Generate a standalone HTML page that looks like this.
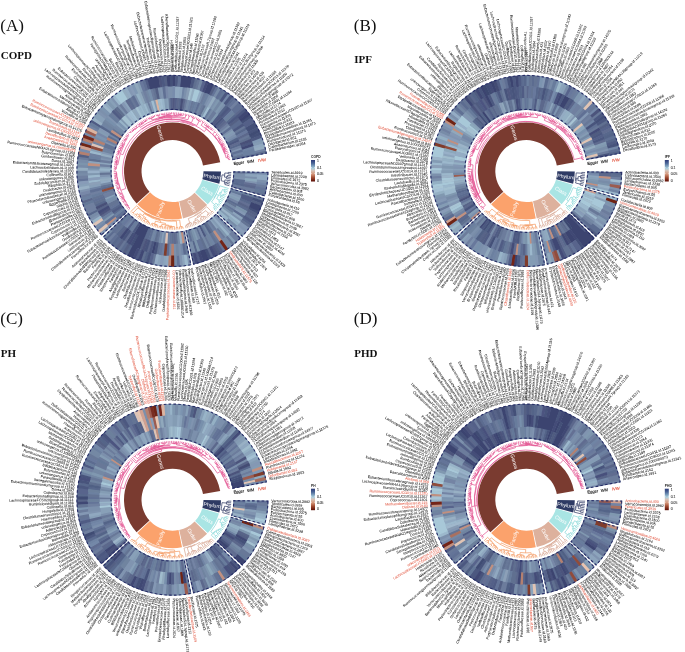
<!DOCTYPE html>
<html><head><meta charset="utf-8"><title>Figure</title>
<style>html,body{margin:0;padding:0;background:#fff;width:685px;height:652px;overflow:hidden}svg{display:block;will-change:transform}</style>
</head><body>
<svg width="685" height="652" viewBox="0 0 685 652">
<defs><linearGradient id="lg" x1="0" y1="0" x2="0" y2="1">
<stop offset="0" stop-color="#2c3a78"/><stop offset="0.15" stop-color="#4a6596"/><stop offset="0.33" stop-color="#8fb4cb"/>
<stop offset="0.4" stop-color="#b0cfdc"/><stop offset="0.5" stop-color="#d8c2b6"/><stop offset="0.66" stop-color="#d49478"/><stop offset="0.82" stop-color="#a04a30"/><stop offset="1" stop-color="#5a0d05"/></linearGradient></defs>
<style>
text{font-family:"Liberation Sans",sans-serif}
.lab text{font-size:3.6px;fill:#000;stroke:#000;stroke-width:0.025px}
.lab text.e{text-anchor:end}
.lab text.r{fill:#e0553f;stroke:#e0553f}
.dash{fill:none;stroke:#262c66;stroke-width:1.1;stroke-dasharray:2.6 2.2}
.den path{fill:none;stroke-width:0.7}
.sl{font-size:5.2px;fill:#fff}
.tn{font-size:4.1px;stroke-width:0.12px}
.lt{font-size:3.3px;font-weight:bold;fill:#222}
.lv{font-size:3.4px;fill:#333;stroke:#333;stroke-width:0.08px}
.pl{font-family:"Liberation Serif",serif;font-size:17px;fill:#111}
.pt{font-family:"Liberation Serif",serif;font-size:11px;font-weight:bold;fill:#111}
</style>
<g transform="translate(172.5 171)">
<g class="lab"><text transform="rotate(1.4)" x="98.9">Tenericutes.id.3919</text><text transform="rotate(3.1)" x="98.9">Lentisphaerae.id.2238</text><text transform="rotate(4.7)" x="98.9">Firmicutes.id.1672</text><text transform="rotate(6.3)" x="98.9">Proteobacteria.id.2375</text><text transform="rotate(8)" x="98.9">Verrucomicrobia.id.3982</text><text transform="rotate(9.6)" x="98.9">Bacteroidetes.id.905</text><text transform="rotate(11.2)" x="98.9">Actinobacteria.id.400</text><text transform="rotate(12.9)" x="98.9">Cyanobacteria.id.1500</text><text transform="rotate(14.5)" x="98.9">Euryarchaeota.id.55</text><text transform="rotate(17.3)" x="98.9">Actinobacteria.id.419</text><text transform="rotate(19)" x="98.9">Lentisphaeria.id.2250</text><text transform="rotate(20.7)" x="98.9">Bacteroidia.id.912</text><text transform="rotate(22.4)" x="98.9">Coriobacteriia.id.809</text><text transform="rotate(24)" x="98.9">Betaproteobacteria.id.2867</text><text transform="rotate(25.7)" x="98.9">Melainabacteria.id.1589</text><text transform="rotate(27.4)" x="98.9">Deltaproteobacteria.id.3087</text><text transform="rotate(29.1)" x="98.9">Methanobacteria.id.119</text><text transform="rotate(30.7)" x="98.9">Negativicutes.id.2164</text><text transform="rotate(32.4)" x="98.9">Bacilli.id.1673</text><text transform="rotate(34.1)" x="98.9">Clostridia.id.1859</text><text transform="rotate(35.8)" x="98.9">Erysipelotrichia.id.2147</text><text transform="rotate(37.4)" x="98.9">Verrucomicrobiae.id.4029</text><text transform="rotate(39.1)" x="98.9">Mollicutes.id.3920</text><text transform="rotate(40.8)" x="98.9">Gammaproteobacteria.id.3303</text><text transform="rotate(42.5)" x="98.9">Alphaproteobacteria.id.2379</text><text transform="rotate(45.3)" x="98.9">Victivallales.id.2254</text><text transform="rotate(47)" x="98.9">Burkholderiales.id.2874</text><text transform="rotate(48.6)" x="98.9">Bacillales.id.1674</text><text transform="rotate(50.3)" x="98.9">Bacteroidales.id.913</text><text transform="rotate(51.9)" x="98.9">Actinomycetales.id.420</text><text transform="rotate(53.6)" x="98.9">Methanobacteriales.id.120</text><text transform="rotate(55.2)" x="98.9" class="r">MollicutesRF9.id.11579</text><text transform="rotate(56.9)" x="98.9">Pasteurellales.id.3643</text><text transform="rotate(58.5)" x="98.9">Erysipelotrichales.id.2148</text><text transform="rotate(60.2)" x="98.9">Clostridiales.id.1863</text><text transform="rotate(61.8)" x="98.9">Lactobacillales.id.1800</text><text transform="rotate(63.5)" x="98.9">Verrucomicrobiales.id.4030</text><text transform="rotate(65.1)" x="98.9">Selenomonadales.id.2165</text><text transform="rotate(66.8)" x="98.9">Bifidobacteriales.id.432</text><text transform="rotate(68.4)" x="98.9">NB1n.id.3953</text><text transform="rotate(70.1)" x="98.9">Coriobacteriales.id.810</text><text transform="rotate(71.7)" x="98.9">Desulfovibrionales.id.3156</text><text transform="rotate(73.4)" x="98.9">Enterobacteriales.id.3468</text><text transform="rotate(75)" x="98.9">Gastranaerophilales.id.1591</text><text transform="rotate(76.7)" x="98.9">Rhodospirillales.id.2667</text><text transform="rotate(79.6)" x="98.9">Veillonellaceae.id.2172</text><text transform="rotate(81.3)" x="98.9">Prevotellaceae.id.960</text><text transform="rotate(83)" x="98.9">Acidaminococcaceae.id.2166</text><text transform="rotate(84.7)" x="98.9">Enterobacteriaceae.id.3469</text><text transform="rotate(86.4)" x="98.9">unknownfamily.id.1000001214</text><text transform="rotate(88.1)" x="98.9">Lactobacillaceae.id.1836</text><text transform="rotate(89.8)" x="98.9" class="r">Coriobacteriaceae.id.811</text><text transform="rotate(271.5)" x="-98.9" class="e r">Peptostreptococcaceae.id.2042</text><text transform="rotate(273.2)" x="-98.9" class="e">Oxalobacteraceae.id.2966</text><text transform="rotate(274.9)" x="-98.9" class="e">Victivallaceae.id.2255</text><text transform="rotate(276.6)" x="-98.9" class="e">Christensenellaceae.id.1866</text><text transform="rotate(278.3)" x="-98.9" class="e">Porphyromonadaceae.id.943</text><text transform="rotate(280)" x="-98.9" class="e">Defluviitaleaceae.id.1924</text><text transform="rotate(281.7)" x="-98.9" class="e">Bifidobacteriaceae.id.433</text><text transform="rotate(283.4)" x="-98.9" class="e">Rhodospirillaceae.id.2717</text><text transform="rotate(285.1)" x="-98.9" class="e">BacteroidalesS24.7group.id.11173</text><text transform="rotate(286.8)" x="-98.9" class="e">Verrucomicrobiaceae.id.4036</text><text transform="rotate(288.5)" x="-98.9" class="e">Desulfovibrionaceae.id.3169</text><text transform="rotate(290.2)" x="-98.9" class="e">Clostridiaceae1.id.1869</text><text transform="rotate(291.9)" x="-98.9" class="e">Bacillaceae.id.1675</text><text transform="rotate(293.6)" x="-98.9" class="e">Lachnospiraceae.id.1987</text><text transform="rotate(295.3)" x="-98.9" class="e">Erysipelotrichaceae.id.2149</text><text transform="rotate(297)" x="-98.9" class="e">Alcaligenaceae.id.2875</text><text transform="rotate(298.7)" x="-98.9" class="e">FamilyXIII.id.1957</text><text transform="rotate(300.4)" x="-98.9" class="e">Streptococcaceae.id.1850</text><text transform="rotate(302.1)" x="-98.9" class="e">Pasteurellaceae.id.3689</text><text transform="rotate(303.8)" x="-98.9" class="e">Ruminococcaceae.id.2050</text><text transform="rotate(305.5)" x="-98.9" class="e">Methanobacteriaceae.id.121</text><text transform="rotate(307.2)" x="-98.9" class="e">Peptococcaceae.id.2024</text><text transform="rotate(308.9)" x="-98.9" class="e">FamilyXI.id.1936</text><text transform="rotate(310.6)" x="-98.9" class="e">Bacteroidaceae.id.917</text><text transform="rotate(312.3)" x="-98.9" class="e">ClostridialesvadinBB60group.id.11286</text><text transform="rotate(314)" x="-98.9" class="e">Rikenellaceae.id.967</text><text transform="rotate(315.7)" x="-98.9" class="e">Actinomycetaceae.id.421</text><text transform="rotate(318.6)" x="-98.9" class="e">Flavonifractor.id.2059</text><text transform="rotate(320.3)" x="-98.9" class="e">Clostridiuminnocuumgroup.id.14397</text><text transform="rotate(322)" x="-98.9" class="e">Lactococcus.id.1851</text><text transform="rotate(323.7)" x="-98.9" class="e">Barnesiella.id.944</text><text transform="rotate(325.4)" x="-98.9" class="e">RuminococcaceaeUCG011.id.11368</text><text transform="rotate(327.1)" x="-98.9" class="e">Oscillospira.id.2064</text><text transform="rotate(328.8)" x="-98.9" class="e">Veillonella.id.2198</text><text transform="rotate(330.5)" x="-98.9" class="e">Eubacteriumoxidoreducensgroup.id.11339</text><text transform="rotate(332.2)" x="-98.9" class="e">Coprococcus1.id.11301</text><text transform="rotate(333.9)" x="-98.9" class="e">RuminococcaceaeUCG009.id.11366</text><text transform="rotate(335.6)" x="-98.9" class="e">Paraprevotella.id.962</text><text transform="rotate(337.3)" x="-98.9" class="e">Enterorhabdus.id.820</text><text transform="rotate(339)" x="-98.9" class="e">Eubacteriumhalliigroup.id.11338</text><text transform="rotate(340.7)" x="-98.9" class="e">Coprococcus2.id.11302</text><text transform="rotate(342.4)" x="-98.9" class="e">Slackia.id.825</text><text transform="rotate(344.1)" x="-98.9" class="e">Eggerthella.id.819</text><text transform="rotate(345.7)" x="-98.9" class="e">unknowngenus.id.959</text><text transform="rotate(347.4)" x="-98.9" class="e">Phascolarctobacterium.id.2168</text><text transform="rotate(349.1)" x="-98.9" class="e">unknowngenus.id.2755</text><text transform="rotate(350.8)" x="-98.9" class="e">Oxalobacter.id.2978</text><text transform="rotate(352.5)" x="-98.9" class="e">Bilophila.id.3170</text><text transform="rotate(354.2)" x="-98.9" class="e">Subdoligranulum.id.2070</text><text transform="rotate(355.9)" x="-98.9" class="e">unknowngenus.id.826</text><text transform="rotate(357.6)" x="-98.9" class="e">Collinsella.id.815</text><text transform="rotate(359.3)" x="-98.9" class="e">CandidatusSoleaferrea.id.11350</text><text transform="rotate(361)" x="-98.9" class="e">Lachnoclostridium.id.11308</text><text transform="rotate(362.7)" x="-98.9" class="e">Eubacteriumfissicatenagroup.id.14373</text><text transform="rotate(364.4)" x="-98.9" class="e">Dorea.id.1997</text><text transform="rotate(366.1)" x="-98.9" class="e">Gordonibacter.id.821</text><text transform="rotate(367.8)" x="-98.9" class="e">Butyricimonas.id.945</text><text transform="rotate(369.5)" x="-98.9" class="e">RuminococcaceaeNK4A214group.id.11358</text><text transform="rotate(371.1)" x="-98.9" class="e r">unknowngenus.id.1000005472</text><text transform="rotate(372.8)" x="-98.9" class="e">Olsenella.id.822</text><text transform="rotate(374.5)" x="-98.9" class="e r">Anaerostipes.id.1991</text><text transform="rotate(376.2)" x="-98.9" class="e r">Desulfovibrio.id.3173</text><text transform="rotate(377.9)" x="-98.9" class="e">Lactobacillus.id.1837</text><text transform="rotate(379.6)" x="-98.9" class="e r">unknowngenus.id.1000001214</text><text transform="rotate(381.3)" x="-98.9" class="e r">Romboutsia.id.11347</text><text transform="rotate(383)" x="-98.9" class="e">Eubacteriumxylanophilumgroup.id.14375</text><text transform="rotate(384.7)" x="-98.9" class="e r">RuminococcaceaeUCG014.id.11371</text><text transform="rotate(386.4)" x="-98.9" class="e r">RuminococcaceaeUCG002.id.11360</text><text transform="rotate(388.1)" x="-98.9" class="e">Victivallis.id.2256</text><text transform="rotate(389.8)" x="-98.9" class="e">Alistipes.id.968</text><text transform="rotate(391.5)" x="-98.9" class="e">Eubacteriumnodatumgroup.id.11297</text><text transform="rotate(393.2)" x="-98.9" class="e">Marvinbryantia.id.2005</text><text transform="rotate(394.9)" x="-98.9" class="e">Alloprevotella.id.961</text><text transform="rotate(396.6)" x="-98.9" class="e">Ruminococcusgnavusgroup.id.14376</text><text transform="rotate(398.2)" x="-98.9" class="e">LachnospiraceaeND3007group.id.11317</text><text transform="rotate(399.9)" x="-98.9" class="e">RuminococcaceaeUCG004.id.11362</text><text transform="rotate(401.6)" x="-98.9" class="e">Eubacteriumrectalegroup.id.14374</text><text transform="rotate(403.3)" x="-98.9" class="e">Coprococcus3.id.11303</text><text transform="rotate(405)" x="-98.9" class="e">EscherichiaShigella.id.3504</text><text transform="rotate(406.7)" x="-98.9" class="e">RuminococcaceaeUCG005.id.11363</text><text transform="rotate(408.4)" x="-98.9" class="e">Eisenbergiella.id.11304</text><text transform="rotate(410.1)" x="-98.9" class="e">LachnospiraceaeNC2004group.id.11316</text><text transform="rotate(411.8)" x="-98.9" class="e">Prevotella7.id.11182</text><text transform="rotate(413.5)" x="-98.9" class="e">Anaerofilum.id.2053</text><text transform="rotate(415.2)" x="-98.9" class="e">unknowngenus.id.2071</text><text transform="rotate(416.9)" x="-98.9" class="e">FamilyXIIIAD3011group.id.11293</text><text transform="rotate(418.6)" x="-98.9" class="e">RuminococcaceaeUCG003.id.11361</text><text transform="rotate(420.3)" x="-98.9" class="e">Bacteroides.id.918</text><text transform="rotate(422)" x="-98.9" class="e">Blautia.id.1992</text><text transform="rotate(423.6)" x="-98.9" class="e">LachnospiraceaeUCG004.id.11324</text><text transform="rotate(425.3)" x="-98.9" class="e">Anaerotruncus.id.2054</text><text transform="rotate(427)" x="-98.9" class="e">Ruminococcustorquesgroup.id.14377</text><text transform="rotate(428.7)" x="-98.9" class="e">unknowngenus.id.1868</text><text transform="rotate(430.4)" x="-98.9" class="e">Terrisporobacter.id.11348</text><text transform="rotate(432.1)" x="-98.9" class="e">Methanobrevibacter.id.123</text><text transform="rotate(433.8)" x="-98.9" class="e">Dialister.id.2183</text><text transform="rotate(435.5)" x="-98.9" class="e">LachnospiraceaeUCG001.id.11321</text><text transform="rotate(437.2)" x="-98.9" class="e">Eubacteriumruminantiumgroup.id.11340</text><text transform="rotate(438.9)" x="-98.9" class="e">Intestinibacter.id.11345</text><text transform="rotate(440.6)" x="-98.9" class="e">Eubacteriumcoprostanoligenesgroup.id.11375</text><text transform="rotate(442.3)" x="-98.9" class="e">Ruminiclostridium6.id.11356</text><text transform="rotate(444)" x="-98.9" class="e">Peptococcus.id.2037</text><text transform="rotate(445.7)" x="-98.9" class="e">LachnospiraceaeUCG010.id.11330</text><text transform="rotate(447.4)" x="-98.9" class="e">RikenellaceaeRC9gutgroup.id.11191</text><text transform="rotate(449.1)" x="-98.9" class="e">Holdemania.id.2157</text><text transform="rotate(270.7)" x="98.9">Sutterella.id.2896</text><text transform="rotate(272.4)" x="98.9">DefluviitaleaceaeUCG011.id.11287</text><text transform="rotate(274.1)" x="98.9">Butyrivibrio.id.1993</text><text transform="rotate(275.8)" x="98.9">Streptococcus.id.1853</text><text transform="rotate(277.5)" x="98.9">LachnospiraceaeUCG003.id.11323</text><text transform="rotate(279.2)" x="98.9">Coprobacter.id.949</text><text transform="rotate(280.9)" x="98.9">Senegalimassilia.id.11160</text><text transform="rotate(282.6)" x="98.9">Ruminiclostridium9.id.11357</text><text transform="rotate(284.3)" x="98.9">Turicibacter.id.2162</text><text transform="rotate(286)" x="98.9">ChristensenellaceaeR.7group.id.11283</text><text transform="rotate(287.7)" x="98.9">Faecalibacterium.id.2057</text><text transform="rotate(289.4)" x="98.9">RuminococcaceaeUCG.id.2050</text><text transform="rotate(291.1)" x="98.9">Butyricicoccus.id.2055</text><text transform="rotate(292.8)" x="98.9">Lachnospira.id.2004</text><text transform="rotate(294.5)" x="98.9">Ruminococcusgauvreauiigroup.id.11342</text><text transform="rotate(296.2)" x="98.9">Eubacteriumventriosumgroup.id.11341</text><text transform="rotate(297.8)" x="98.9">LachnospiraceaeNK4A136group.id.11319</text><text transform="rotate(299.5)" x="98.9">unknowngenus.id.2041</text><text transform="rotate(301.2)" x="98.9">Tyzzerella3.id.11335</text><text transform="rotate(302.9)" x="98.9">Ruminococcus2.id.11374</text><text transform="rotate(304.6)" x="98.9">LachnospiraceaeFCS020group.id.11314</text><text transform="rotate(306.3)" x="98.9">Eubacteriumbrachygroup.id.11296</text><text transform="rotate(308)" x="98.9">Fusicatenibacter.id.11305</text><text transform="rotate(309.7)" x="98.9">Actinomyces.id.423</text><text transform="rotate(311.4)" x="98.9">Sellimonas.id.14369</text><text transform="rotate(313.1)" x="98.9">Bifidobacterium.id.436</text><text transform="rotate(314.8)" x="98.9">Akkermansia.id.4037</text><text transform="rotate(316.5)" x="98.9">Ruminiclostridium5.id.11355</text><text transform="rotate(318.2)" x="98.9">RuminococcaceaeUCG013.id.11370</text><text transform="rotate(319.9)" x="98.9">CandidatusSoleaferrea.id.11350</text><text transform="rotate(321.6)" x="98.9">Eubacteriumeligensgroup.id.14372</text><text transform="rotate(323.2)" x="98.9">Haemophilus.id.3698</text><text transform="rotate(324.9)" x="98.9">Howardella.id.2000</text><text transform="rotate(326.6)" x="98.9">FamilyXIIIUCG001.id.11294</text><text transform="rotate(328.3)" x="98.9">Allisonella.id.2174</text><text transform="rotate(330)" x="98.9">Oscillibacter.id.2063</text><text transform="rotate(331.7)" x="98.9">Roseburia.id.2012</text><text transform="rotate(333.4)" x="98.9">RuminococcaceaeUCG010.id.11367</text><text transform="rotate(335.1)" x="98.9">Hungatella.id.11306</text><text transform="rotate(336.8)" x="98.9">Adlercreutzia.id.812</text><text transform="rotate(338.5)" x="98.9">Prevotella9.id.11183</text><text transform="rotate(340.2)" x="98.9">Erysipelatoclostridium.id.11381</text><text transform="rotate(341.9)" x="98.9">Clostridiumsensustricto1.id.1873</text><text transform="rotate(343.6)" x="98.9">Ruminococcus1.id.11373</text><text transform="rotate(345.3)" x="98.9">Odoribacter.id.952</text><text transform="rotate(347)" x="98.9">Catenibacterium.id.2153</text><text transform="rotate(348.7)" x="98.9">Parabacteroides.id.954</text></g>
<path fill="#8296b2" d="M95.8 1A95.8 95.8 0 0 1 92.4 25.3L58.8 16.1A61 61 0 0 0 61 0.6ZM91.9 27.2A95.8 95.8 0 0 1 69.7 65.7L44.4 41.8A61 61 0 0 0 58.5 17.3ZM68.3 67.1A95.8 95.8 0 0 1 20.7 93.5L13.2 59.6A61 61 0 0 0 43.5 42.8ZM18.8 93.9A95.8 95.8 0 0 1 -69.6 65.8L-44.3 41.9A61 61 0 0 0 12 59.8ZM-71 64.4A95.8 95.8 0 1 1 94.2 -17.5L60 -11.1A61 61 0 1 0 -45.2 41Z"/>
<g><path fill="#687898" d="M73.1 0.8A73.1 73.1 0 0 1 73 3.2L60.9 2.6A61 61 0 0 0 61 0.6ZM62.3 72.8A95.8 95.8 0 0 1 59.8 74.8L52.8 66.1A84.6 84.6 0 0 0 55 64.3ZM39 75.4A84.9 84.9 0 0 1 36.5 76.7L31.3 65.7A72.8 72.8 0 0 0 33.4 64.7ZM-13.7 71.8A73.1 73.1 0 0 1 -16.2 71.3L-13.5 59.5A61 61 0 0 0 -11.5 59.9ZM-18 94.1A95.8 95.8 0 0 1 -21.2 93.4L-18.7 82.5A84.6 84.6 0 0 0 -15.9 83.1ZM-52.1 80.4A95.8 95.8 0 0 1 -54.9 78.5L-48.4 69.4A84.6 84.6 0 0 0 -46 71ZM-69.3 23.2A73.1 73.1 0 0 1 -70.1 20.8L-58.5 17.4A61 61 0 0 0 -57.9 19.3ZM-60.6 -40.9A73.1 73.1 0 0 1 -59.2 -42.9L-49.4 -35.8A61 61 0 0 0 -50.6 -34.1ZM-43.2 -73.1A84.9 84.9 0 0 1 -40.7 -74.5L-34.9 -63.9A72.8 72.8 0 0 0 -37 -62.7ZM-4.4 -73A73.1 73.1 0 0 1 -2 -73.1L-1.6 -61A61 61 0 0 0 -3.7 -60.9ZM19.1 -70.6A73.1 73.1 0 0 1 21.5 -69.9L17.9 -58.3A61 61 0 0 0 15.9 -58.9ZM25 -92.5A95.8 95.8 0 0 1 28.1 -91.6L24.9 -80.9A84.6 84.6 0 0 0 22.1 -81.7ZM71.6 -45.6A84.9 84.9 0 0 1 73.1 -43.2L62.7 -37A72.8 72.8 0 0 0 61.4 -39.1ZM76.5 -36.9A84.9 84.9 0 0 1 77.7 -34.3L66.6 -29.4A72.8 72.8 0 0 0 65.6 -31.6ZM71 -17.5A73.1 73.1 0 0 1 71.5 -15.1L59.7 -12.6A61 61 0 0 0 59.2 -14.6Z"/><path fill="#7084a4" d="M84.9 0.9A84.9 84.9 0 0 1 84.8 3.7L72.7 3.2A72.8 72.8 0 0 0 72.8 0.8ZM42.6 59.4A73.1 73.1 0 0 1 40.6 60.8L33.8 50.7A61 61 0 0 0 35.5 49.6ZM43.3 73A84.9 84.9 0 0 1 40.8 74.4L35 63.8A72.8 72.8 0 0 0 37.1 62.6ZM-18 70.9A73.1 73.1 0 0 1 -20.4 70.2L-17 58.6A61 61 0 0 0 -15 59.1ZM-82.6 19.7A84.9 84.9 0 0 1 -83.2 16.9L-71.3 14.5A72.8 72.8 0 0 0 -70.8 16.9ZM-71.7 -45.4A84.9 84.9 0 0 1 -70.2 -47.8L-60.2 -41A72.8 72.8 0 0 0 -61.5 -38.9ZM9.9 -84.3A84.9 84.9 0 0 1 12.7 -83.9L10.9 -72A72.8 72.8 0 0 0 8.5 -72.3ZM17 -71.1A73.1 73.1 0 0 1 19.4 -70.5L16.2 -58.8A61 61 0 0 0 14.2 -59.3ZM81.1 -25.2A84.9 84.9 0 0 1 81.9 -22.4L70.2 -19.2A72.8 72.8 0 0 0 69.5 -21.6ZM70.4 -19.6A73.1 73.1 0 0 1 71 -17.2L59.3 -14.4A61 61 0 0 0 58.8 -16.4Z"/><path fill="#7488a8" d="M95.8 1A95.8 95.8 0 0 1 95.7 4.2L84.5 3.7A84.6 84.6 0 0 0 84.6 0.9ZM95.1 11.9A95.8 95.8 0 0 1 94.6 15L83.6 13.3A84.6 84.6 0 0 0 83.9 10.5ZM70.1 20.8A73.1 73.1 0 0 1 69.4 23.1L57.9 19.3A61 61 0 0 0 58.5 17.3ZM52.1 51.2A73.1 73.1 0 0 1 50.4 52.9L42.1 44.2A61 61 0 0 0 43.5 42.8ZM11.7 84.1A84.9 84.9 0 0 1 8.8 84.4L7.5 72.4A72.8 72.8 0 0 0 10 72.1ZM-45.1 57.5A73.1 73.1 0 0 1 -47 56L-39.2 46.7A61 61 0 0 0 -37.6 48ZM-74.6 60A95.8 95.8 0 0 1 -76.6 57.5L-67.7 50.8A84.6 84.6 0 0 0 -65.9 53ZM-64 -35.4A73.1 73.1 0 0 1 -62.7 -37.5L-52.4 -31.3A61 61 0 0 0 -53.4 -29.5ZM55.6 -78A95.8 95.8 0 0 1 58.2 -76.1L51.4 -67.2A84.6 84.6 0 0 0 49.1 -68.9ZM63.9 -35.6A73.1 73.1 0 0 1 65 -33.4L54.3 -27.9A61 61 0 0 0 53.3 -29.7Z"/><path fill="#7c90ac" d="M73 2.8A73.1 73.1 0 0 1 72.9 5.2L60.8 4.4A61 61 0 0 0 61 2.4ZM72.9 4.9A73.1 73.1 0 0 1 72.7 7.3L60.7 6.1A61 61 0 0 0 60.9 4.1ZM84.7 5.7A84.9 84.9 0 0 1 84.5 8.5L72.4 7.3A72.8 72.8 0 0 0 72.6 4.9ZM95.4 9.2A95.8 95.8 0 0 1 95 12.3L83.9 10.9A84.6 84.6 0 0 0 84.2 8.1ZM69.6 48.6A84.9 84.9 0 0 1 67.9 50.9L58.3 43.7A72.8 72.8 0 0 0 59.7 41.7ZM14.3 71.7A73.1 73.1 0 0 1 11.9 72.1L9.9 60.2A61 61 0 0 0 12 59.8ZM9.2 84.4A84.9 84.9 0 0 1 6.3 84.7L5.4 72.6A72.8 72.8 0 0 0 7.9 72.4ZM4.1 84.8A84.9 84.9 0 0 1 1.2 84.9L1.1 72.8A72.8 72.8 0 0 0 3.5 72.7ZM-76.4 57.8A95.8 95.8 0 0 1 -78.3 55.2L-69.2 48.7A84.6 84.6 0 0 0 -67.5 51.1ZM-74.4 -60.4A95.8 95.8 0 0 1 -72.3 -62.9L-63.8 -55.5A84.6 84.6 0 0 0 -65.7 -53.3ZM-55.4 -64.3A84.9 84.9 0 0 1 -53.2 -66.2L-45.6 -56.7A72.8 72.8 0 0 0 -47.5 -55.2ZM-38.8 -75.5A84.9 84.9 0 0 1 -36.2 -76.8L-31.1 -65.8A72.8 72.8 0 0 0 -33.3 -64.8ZM-15.1 -83.5A84.9 84.9 0 0 1 -12.3 -84L-10.5 -72A72.8 72.8 0 0 0 -13 -71.6ZM-5.2 -84.7A84.9 84.9 0 0 1 -2.3 -84.9L-2 -72.8A72.8 72.8 0 0 0 -4.4 -72.7ZM-2.7 -84.9A84.9 84.9 0 0 1 0.2 -84.9L0.2 -72.8A72.8 72.8 0 0 0 -2.3 -72.8ZM12.4 -84A84.9 84.9 0 0 1 15.2 -83.5L13 -71.6A72.8 72.8 0 0 0 10.6 -72ZM29.3 -79.7A84.9 84.9 0 0 1 32 -78.6L27.5 -67.4A72.8 72.8 0 0 0 25.2 -68.3ZM36.3 -76.8A84.9 84.9 0 0 1 38.9 -75.5L33.3 -64.7A72.8 72.8 0 0 0 31.1 -65.8ZM42.9 -73.2A84.9 84.9 0 0 1 45.4 -71.7L38.9 -61.5A72.8 72.8 0 0 0 36.8 -62.8ZM51.3 -67.7A84.9 84.9 0 0 1 53.5 -65.9L45.9 -56.5A72.8 72.8 0 0 0 44 -58ZM56.6 -46.3A73.1 73.1 0 0 1 58.1 -44.3L48.5 -37A61 61 0 0 0 47.2 -38.6ZM59.2 -42.9A73.1 73.1 0 0 1 60.6 -40.8L50.6 -34.1A61 61 0 0 0 49.4 -35.8ZM62.8 -37.5A73.1 73.1 0 0 1 64 -35.3L53.4 -29.5A61 61 0 0 0 52.4 -31.3Z"/><path fill="#8ca4bc" d="M84.8 3.3A84.9 84.9 0 0 1 84.7 6.1L72.6 5.2A72.8 72.8 0 0 0 72.7 2.8ZM71 46.6A84.9 84.9 0 0 1 69.4 48.9L59.5 41.9A72.8 72.8 0 0 0 60.9 39.9ZM45.9 56.9A73.1 73.1 0 0 1 44 58.4L36.7 48.7A61 61 0 0 0 38.3 47.5ZM13.2 94.9A95.8 95.8 0 0 1 9.9 95.3L8.8 84.1A84.6 84.6 0 0 0 11.6 83.8ZM-6.7 95.6A95.8 95.8 0 0 1 -10 95.3L-8.8 84.1A84.6 84.6 0 0 0 -5.9 84.4ZM-12.4 95A95.8 95.8 0 0 1 -15.6 94.5L-13.8 83.5A84.6 84.6 0 0 0 -10.9 83.9ZM-72.6 8.4A73.1 73.1 0 0 1 -72.9 6L-60.8 5A61 61 0 0 0 -60.6 7ZM-73.1 2A73.1 73.1 0 0 1 -73.1 -0.5L-61 -0.4A61 61 0 0 0 -61 1.7ZM-72.8 -6.7A73.1 73.1 0 0 1 -72.5 -9.1L-60.5 -7.6A61 61 0 0 0 -60.7 -5.6ZM-84.5 -7.7A84.9 84.9 0 0 1 -84.2 -10.6L-72.2 -9.1A72.8 72.8 0 0 0 -72.5 -6.6ZM-49.5 -69A84.9 84.9 0 0 1 -47.1 -70.6L-40.4 -60.6A72.8 72.8 0 0 0 -42.4 -59.1ZM7.4 -84.6A84.9 84.9 0 0 1 10.2 -84.3L8.8 -72.3A72.8 72.8 0 0 0 6.3 -72.5Z"/><path fill="#90a8c0" d="M95.7 3.7A95.8 95.8 0 0 1 95.6 6.9L84.4 6.1A84.6 84.6 0 0 0 84.5 3.3ZM95.6 6.5A95.8 95.8 0 0 1 95.3 9.6L84.2 8.5A84.6 84.6 0 0 0 84.4 5.7ZM-3.9 95.7A95.8 95.8 0 0 1 -7.1 95.5L-6.3 84.4A84.6 84.6 0 0 0 -3.4 84.5ZM-68.7 -66.8A95.8 95.8 0 0 1 -66.4 -69L-58.6 -61A84.6 84.6 0 0 0 -60.7 -59ZM-47.7 -55.4A73.1 73.1 0 0 1 -45.8 -57L-38.2 -47.5A61 61 0 0 0 -39.8 -46.2ZM-39 -61.8A73.1 73.1 0 0 1 -36.9 -63.1L-30.8 -52.6A61 61 0 0 0 -32.6 -51.6ZM2.4 -84.9A84.9 84.9 0 0 1 5.2 -84.7L4.5 -72.7A72.8 72.8 0 0 0 2 -72.8ZM4.9 -84.8A84.9 84.9 0 0 1 7.7 -84.5L6.6 -72.5A72.8 72.8 0 0 0 4.2 -72.7ZM91.5 -28.4A95.8 95.8 0 0 1 92.4 -25.3L81.6 -22.4A84.6 84.6 0 0 0 80.8 -25.1Z"/><path fill="#8094b0" d="M72.8 7A73.1 73.1 0 0 1 72.5 9.4L60.5 7.8A61 61 0 0 0 60.7 5.8ZM84.2 10.5A84.9 84.9 0 0 1 83.9 13.3L71.9 11.4A72.8 72.8 0 0 0 72.2 9ZM75.2 59.3A95.8 95.8 0 0 1 73.2 61.8L64.6 54.6A84.6 84.6 0 0 0 66.4 52.4ZM18.8 93.9A95.8 95.8 0 0 1 15.6 94.5L13.7 83.5A84.6 84.6 0 0 0 16.6 83ZM10.3 95.2A95.8 95.8 0 0 1 7.1 95.5L6.3 84.4A84.6 84.6 0 0 0 9.1 84.1ZM-81.2 50.8A95.8 95.8 0 0 1 -82.9 48L-73.2 42.4A84.6 84.6 0 0 0 -71.7 44.9ZM-93.2 22.2A95.8 95.8 0 0 1 -93.9 19L-82.9 16.8A84.6 84.6 0 0 0 -82.3 19.6ZM-72.8 6.3A73.1 73.1 0 0 1 -73 3.8L-60.9 3.2A61 61 0 0 0 -60.8 5.3ZM-72.3 -10.9A73.1 73.1 0 0 1 -71.9 -13.4L-60 -11.2A61 61 0 0 0 -60.3 -9.1ZM-67.7 -27.6A73.1 73.1 0 0 1 -66.7 -29.8L-55.7 -24.9A61 61 0 0 0 -56.5 -23ZM-76.1 -58.2A95.8 95.8 0 0 1 -74.1 -60.7L-65.4 -53.6A84.6 84.6 0 0 0 -67.2 -51.4ZM-65.9 -53.5A84.9 84.9 0 0 1 -64 -55.7L-54.9 -47.8A72.8 72.8 0 0 0 -56.5 -45.9ZM-62.5 -72.6A95.8 95.8 0 0 1 -60 -74.7L-53 -65.9A84.6 84.6 0 0 0 -55.2 -64.1ZM-12.6 -84A84.9 84.9 0 0 1 -9.8 -84.3L-8.4 -72.3A72.8 72.8 0 0 0 -10.8 -72ZM69.1 -23.8A73.1 73.1 0 0 1 69.9 -21.4L58.3 -17.9A61 61 0 0 0 57.7 -19.8Z"/><path fill="#8ca8bc" d="M84.5 8.1A84.9 84.9 0 0 1 84.2 10.9L72.2 9.4A72.8 72.8 0 0 0 72.5 7Z"/><path fill="#5c6c90" d="M72.5 9.1A73.1 73.1 0 0 1 72.2 11.5L60.2 9.6A61 61 0 0 0 60.5 7.6ZM72.2 11.1A73.1 73.1 0 0 1 71.8 13.5L59.9 11.3A61 61 0 0 0 60.3 9.3ZM65.4 32.7A73.1 73.1 0 0 1 64.3 34.9L53.6 29.1A61 61 0 0 0 54.6 27.3ZM75.9 37.9A84.9 84.9 0 0 1 74.6 40.5L64 34.7A72.8 72.8 0 0 0 65.1 32.5ZM83 47.8A95.8 95.8 0 0 1 81.4 50.5L71.9 44.6A84.6 84.6 0 0 0 73.3 42.2ZM72.3 44.5A84.9 84.9 0 0 1 70.8 46.9L60.7 40.2A72.8 72.8 0 0 0 62 38.1ZM29.8 66.8A73.1 73.1 0 0 1 27.6 67.7L23 56.5A61 61 0 0 0 24.9 55.7ZM14.2 83.7A84.9 84.9 0 0 1 11.3 84.1L9.7 72.2A72.8 72.8 0 0 0 12.1 71.8ZM-24.2 69A73.1 73.1 0 0 1 -26.6 68.1L-22.2 56.8A61 61 0 0 0 -20.2 57.6ZM-26.3 68.2A73.1 73.1 0 0 1 -28.6 67.3L-23.8 56.1A61 61 0 0 0 -21.9 56.9ZM-49.7 81.9A95.8 95.8 0 0 1 -52.5 80.1L-46.4 70.8A84.6 84.6 0 0 0 -43.9 72.3ZM-56.8 77.1A95.8 95.8 0 0 1 -59.4 75.1L-52.5 66.4A84.6 84.6 0 0 0 -50.2 68.1ZM-65.6 69.8A95.8 95.8 0 0 1 -67.9 67.6L-60 59.7A84.6 84.6 0 0 0 -57.9 61.7ZM-51.6 51.8A73.1 73.1 0 0 1 -53.1 50.2L-44.3 41.9A61 61 0 0 0 -43.1 43.2ZM-58.3 44.1A73.1 73.1 0 0 1 -59.8 42.1L-49.9 35.1A61 61 0 0 0 -48.6 36.8ZM-70.6 19A73.1 73.1 0 0 1 -71.2 16.6L-59.4 13.9A61 61 0 0 0 -58.9 15.9ZM-45.3 -71.8A84.9 84.9 0 0 1 -42.9 -73.3L-36.8 -62.8A72.8 72.8 0 0 0 -38.9 -61.6ZM60.1 -74.6A95.8 95.8 0 0 1 62.6 -72.5L55.3 -64A84.6 84.6 0 0 0 53.1 -65.9ZM67.3 -51.8A84.9 84.9 0 0 1 69 -49.5L59.2 -42.4A72.8 72.8 0 0 0 57.7 -44.4ZM68.8 -49.8A84.9 84.9 0 0 1 70.4 -47.4L60.4 -40.7A72.8 72.8 0 0 0 59 -42.7ZM71.5 -15.4A73.1 73.1 0 0 1 71.9 -13.3L60 -11.1A61 61 0 0 0 59.6 -12.9ZM83 -17.9A84.9 84.9 0 0 1 83.5 -15.5L71.6 -13.3A72.8 72.8 0 0 0 71.2 -15.4Z"/><path fill="#647094" d="M83.9 12.9A84.9 84.9 0 0 1 83.4 15.7L71.5 13.5A72.8 72.8 0 0 0 71.9 11.1ZM71 17.3A73.1 73.1 0 0 1 70.5 19.3L58.8 16.1A61 61 0 0 0 59.3 14.4ZM78 33.4A84.9 84.9 0 0 1 76.9 36L65.9 30.9A72.8 72.8 0 0 0 66.9 28.7ZM53.7 -49.6A73.1 73.1 0 0 1 55.4 -47.7L46.2 -39.8A61 61 0 0 0 44.8 -41.4Z"/><path fill="#6c7c9c" d="M94.7 14.6A95.8 95.8 0 0 1 94.1 17.7L83.1 15.6A84.6 84.6 0 0 0 83.6 12.9ZM71.5 15.2A73.1 73.1 0 0 1 71 17.6L59.2 14.7A61 61 0 0 0 59.7 12.7ZM83 17.7A84.9 84.9 0 0 1 82.4 20.4L70.7 17.5A72.8 72.8 0 0 0 71.2 15.2ZM82.5 20.1A84.9 84.9 0 0 1 81.9 22.4L70.2 19.2A72.8 72.8 0 0 0 70.7 17.2ZM53.3 66.1A84.9 84.9 0 0 1 51.1 67.8L43.8 58.1A72.8 72.8 0 0 0 45.7 56.7ZM44.2 58.2A73.1 73.1 0 0 1 42.3 59.6L35.3 49.8A61 61 0 0 0 36.9 48.6ZM47.4 70.4A84.9 84.9 0 0 1 45.1 72L38.6 61.7A72.8 72.8 0 0 0 40.7 60.4ZM-39.8 61.3A73.1 73.1 0 0 1 -41.9 59.9L-34.9 50A61 61 0 0 0 -33.2 51.2ZM-91.7 27.7A95.8 95.8 0 0 1 -92.6 24.6L-81.8 21.7A84.6 84.6 0 0 0 -81 24.4ZM-72.6 -8.8A73.1 73.1 0 0 1 -72.2 -11.3L-60.3 -9.4A61 61 0 0 0 -60.6 -7.3ZM-95.1 -11.5A95.8 95.8 0 0 1 -94.7 -14.8L-83.6 -13A84.6 84.6 0 0 0 -84 -10.2ZM-62.6 -57.3A84.9 84.9 0 0 1 -60.6 -59.4L-52 -51A72.8 72.8 0 0 0 -53.7 -49.2ZM-53.5 -65.9A84.9 84.9 0 0 1 -51.2 -67.7L-43.9 -58.1A72.8 72.8 0 0 0 -45.9 -56.5ZM-25.5 -68.5A73.1 73.1 0 0 1 -23.2 -69.3L-19.3 -57.9A61 61 0 0 0 -21.3 -57.2ZM-22.5 -81.9A84.9 84.9 0 0 1 -19.7 -82.6L-16.9 -70.8A72.8 72.8 0 0 0 -19.3 -70.2ZM12.8 -72A73.1 73.1 0 0 1 15.2 -71.5L12.7 -59.7A61 61 0 0 0 10.7 -60.1ZM31.7 -78.8A84.9 84.9 0 0 1 34.3 -77.6L29.4 -66.6A72.8 72.8 0 0 0 27.2 -67.5ZM29.3 -67A73.1 73.1 0 0 1 31.5 -65.9L26.3 -55A61 61 0 0 0 24.4 -55.9ZM40.6 -60.8A73.1 73.1 0 0 1 42.7 -59.4L35.6 -49.5A61 61 0 0 0 33.9 -50.7ZM42.4 -59.5A73.1 73.1 0 0 1 44.4 -58.1L37.1 -48.5A61 61 0 0 0 35.4 -49.7Z"/><path fill="#58688c" d="M71.9 13.2A73.1 73.1 0 0 1 71.4 15.6L59.6 13A61 61 0 0 0 60 11ZM79 31.2A84.9 84.9 0 0 1 77.9 33.8L66.8 29A72.8 72.8 0 0 0 67.7 26.7ZM80.1 52.5A95.8 95.8 0 0 1 78.3 55.2L69.2 48.7A84.6 84.6 0 0 0 70.7 46.4ZM25.5 81A84.9 84.9 0 0 1 22.8 81.8L19.5 70.1A72.8 72.8 0 0 0 21.8 69.4ZM-44.8 84.7A95.8 95.8 0 0 1 -47.6 83.1L-42.1 73.4A84.6 84.6 0 0 0 -39.5 74.8ZM-59.1 75.4A95.8 95.8 0 0 1 -61.6 73.3L-54.4 64.8A84.6 84.6 0 0 0 -52.2 66.6ZM-54.3 65.2A84.9 84.9 0 0 1 -56.5 63.3L-48.5 54.3A72.8 72.8 0 0 0 -46.6 55.9ZM-60.8 40.6A73.1 73.1 0 0 1 -62.1 38.5L-51.8 32.1A61 61 0 0 0 -50.7 33.9ZM-84.1 45.9A95.8 95.8 0 0 1 -85.6 43.1L-75.6 38A84.6 84.6 0 0 0 -74.2 40.6ZM-76.8 36.2A84.9 84.9 0 0 1 -78 33.6L-66.9 28.8A72.8 72.8 0 0 0 -65.8 31.1ZM-73.1 -43.2A84.9 84.9 0 0 1 -71.5 -45.7L-61.4 -39.2A72.8 72.8 0 0 0 -62.6 -37.1ZM6.3 -72.8A73.1 73.1 0 0 1 8.8 -72.6L7.4 -60.6A61 61 0 0 0 5.3 -60.8ZM62.4 -57.6A84.9 84.9 0 0 1 64.3 -55.4L55.2 -47.5A72.8 72.8 0 0 0 53.5 -49.3ZM72.9 -43.5A84.9 84.9 0 0 1 74.3 -41L63.7 -35.2A72.8 72.8 0 0 0 62.5 -37.3ZM67.6 -27.8A73.1 73.1 0 0 1 68.5 -25.5L57.2 -21.3A61 61 0 0 0 56.4 -23.2Z"/><path fill="#5c688c" d="M83.5 15.3A84.9 84.9 0 0 1 83 18.1L71.1 15.5A72.8 72.8 0 0 0 71.6 13.1ZM41.5 86.3A95.8 95.8 0 0 1 38.7 87.7L34.1 77.4A84.6 84.6 0 0 0 36.7 76.2ZM-23.3 81.6A84.9 84.9 0 0 1 -26.1 80.8L-22.4 69.3A72.8 72.8 0 0 0 -20 70ZM-54.2 49.1A73.1 73.1 0 0 1 -55.8 47.2L-46.6 39.4A61 61 0 0 0 -45.2 41ZM-70.6 47.1A84.9 84.9 0 0 1 -72.2 44.7L-61.9 38.3A72.8 72.8 0 0 0 -60.5 40.4ZM-89.9 33.1A95.8 95.8 0 0 1 -91 30L-80.3 26.5A84.6 84.6 0 0 0 -79.4 29.2ZM4.2 -73A73.1 73.1 0 0 1 6.7 -72.8L5.6 -60.7A61 61 0 0 0 3.5 -60.9ZM10.6 -72.3A73.1 73.1 0 0 1 13.1 -71.9L10.9 -60A61 61 0 0 0 8.9 -60.4ZM52.3 -51.1A73.1 73.1 0 0 1 54 -49.3L45 -41.2A61 61 0 0 0 43.6 -42.7ZM70.4 -64.9A95.8 95.8 0 0 1 72.6 -62.5L64.1 -55.2A84.6 84.6 0 0 0 62.2 -57.3ZM75.4 -39.1A84.9 84.9 0 0 1 76.6 -36.5L65.7 -31.3A72.8 72.8 0 0 0 64.6 -33.5Z"/><path fill="#647498" d="M94.2 17.3A95.8 95.8 0 0 1 93.6 20.4L82.7 18A84.6 84.6 0 0 0 83.2 15.3ZM62.3 38.3A73.1 73.1 0 0 1 61 40.3L50.9 33.7A61 61 0 0 0 52 31.9ZM53.5 79.5A95.8 95.8 0 0 1 50.8 81.2L44.9 71.7A84.6 84.6 0 0 0 47.2 70.2ZM32.4 78.5A84.9 84.9 0 0 1 29.7 79.5L25.5 68.2A72.8 72.8 0 0 0 27.7 67.3ZM30.1 79.4A84.9 84.9 0 0 1 27.4 80.3L23.5 68.9A72.8 72.8 0 0 0 25.8 68.1ZM7.5 95.5A95.8 95.8 0 0 1 4.2 95.7L3.7 84.5A84.6 84.6 0 0 0 6.6 84.3ZM-0.8 73.1A73.1 73.1 0 0 1 -3.3 73L-2.7 60.9A61 61 0 0 0 -0.7 61ZM-62 38.8A73.1 73.1 0 0 1 -63.2 36.7L-52.8 30.6A61 61 0 0 0 -51.7 32.4ZM-95.2 11.1A95.8 95.8 0 0 1 -95.5 7.8L-84.3 6.9A84.6 84.6 0 0 0 -84 9.8ZM43.5 -85.4A95.8 95.8 0 0 1 46.4 -83.8L40.9 -74A84.6 84.6 0 0 0 38.4 -75.4ZM62.3 -72.8A95.8 95.8 0 0 1 64.7 -70.6L57.1 -62.4A84.6 84.6 0 0 0 55 -64.3Z"/><path fill="#647898" d="M93.7 20A95.8 95.8 0 0 1 93 23L82.1 20.3A84.6 84.6 0 0 0 82.7 17.6ZM69.5 22.8A73.1 73.1 0 0 1 68.6 25.1L57.3 21A61 61 0 0 0 58 19ZM-88.9 35.7A95.8 95.8 0 0 1 -90.1 32.7L-79.5 28.8A84.6 84.6 0 0 0 -78.5 31.5ZM50.9 -81.2A95.8 95.8 0 0 1 53.6 -79.4L47.3 -70.1A84.6 84.6 0 0 0 44.9 -71.7Z"/><path fill="#647494" d="M93.1 22.6A95.8 95.8 0 0 1 92.4 25.3L81.6 22.3A84.6 84.6 0 0 0 82.2 20ZM91.9 27.2A95.8 95.8 0 0 1 90.9 30.3L80.3 26.7A84.6 84.6 0 0 0 81.1 24ZM64.4 34.6A73.1 73.1 0 0 1 63.2 36.7L52.7 30.6A61 61 0 0 0 53.7 28.8ZM78.5 54.8A95.8 95.8 0 0 1 76.7 57.5L67.7 50.7A84.6 84.6 0 0 0 69.4 48.4ZM45.4 71.8A84.9 84.9 0 0 1 43 73.2L36.8 62.8A72.8 72.8 0 0 0 38.9 61.5ZM5.7 72.9A73.1 73.1 0 0 1 3.2 73L2.7 60.9A61 61 0 0 0 4.8 60.8ZM-13.5 83.8A84.9 84.9 0 0 1 -16.3 83.3L-14 71.4A72.8 72.8 0 0 0 -11.6 71.9ZM-56.2 63.6A84.9 84.9 0 0 1 -58.4 61.6L-50.1 52.9A72.8 72.8 0 0 0 -48.2 54.5ZM-59.9 60.1A84.9 84.9 0 0 1 -61.7 58.3L-52.9 50A72.8 72.8 0 0 0 -51.4 51.6ZM-63.1 36.9A73.1 73.1 0 0 1 -64.3 34.8L-53.7 29A61 61 0 0 0 -52.6 30.8ZM-64.1 35A73.1 73.1 0 0 1 -65.3 32.9L-54.5 27.4A61 61 0 0 0 -53.5 29.2ZM-79.7 29.3A84.9 84.9 0 0 1 -80.6 26.6L-69.1 22.8A72.8 72.8 0 0 0 -68.3 25.1ZM-71.1 17A73.1 73.1 0 0 1 -71.6 14.5L-59.8 12.1A61 61 0 0 0 -59.3 14.1ZM-73 4.1A73.1 73.1 0 0 1 -73.1 1.7L-61 1.4A61 61 0 0 0 -60.9 3.5ZM-69.2 -23.5A73.1 73.1 0 0 1 -68.4 -25.9L-57.1 -21.6A61 61 0 0 0 -57.8 -19.6ZM-68.5 -25.6A73.1 73.1 0 0 1 -67.6 -27.9L-56.4 -23.3A61 61 0 0 0 -57.2 -21.3ZM-20 -82.5A84.9 84.9 0 0 1 -17.2 -83.1L-14.8 -71.3A72.8 72.8 0 0 0 -17.2 -70.7ZM31.2 -66.1A73.1 73.1 0 0 1 33.5 -65L27.9 -54.2A61 61 0 0 0 26.1 -55.1Z"/><path fill="#6c809c" d="M81.4 24.1A84.9 84.9 0 0 1 80.5 26.8L69.1 23A72.8 72.8 0 0 0 69.8 20.7ZM61.1 40.1A73.1 73.1 0 0 1 59.8 42.1L49.9 35.1A61 61 0 0 0 51 33.4ZM60.7 -59.4A84.9 84.9 0 0 1 62.7 -57.3L53.7 -49.1A72.8 72.8 0 0 0 52 -50.9Z"/><path fill="#505c84" d="M80.7 26.5A84.9 84.9 0 0 1 79.7 29.2L68.4 25A72.8 72.8 0 0 0 69.2 22.7ZM79.9 28.8A84.9 84.9 0 0 1 78.8 31.5L67.6 27A72.8 72.8 0 0 0 68.5 24.7ZM81.6 50.2A95.8 95.8 0 0 1 79.9 52.9L70.5 46.7A84.6 84.6 0 0 0 72.1 44.3ZM28.7 91.4A95.8 95.8 0 0 1 25.7 92.3L22.7 81.5A84.6 84.6 0 0 0 25.4 80.7ZM-34.4 89.4A95.8 95.8 0 0 1 -37.4 88.2L-33.1 77.9A84.6 84.6 0 0 0 -30.4 79ZM-59.6 42.4A73.1 73.1 0 0 1 -61 40.3L-50.9 33.7A61 61 0 0 0 -49.7 35.4ZM-82.4 -48.8A95.8 95.8 0 0 1 -80.7 -51.6L-71.3 -45.5A84.6 84.6 0 0 0 -72.8 -43.1ZM-60.9 -59.2A84.9 84.9 0 0 1 -58.9 -61.2L-50.5 -52.5A72.8 72.8 0 0 0 -52.2 -50.7ZM-28.1 -91.6A95.8 95.8 0 0 1 -24.9 -92.5L-22 -81.7A84.6 84.6 0 0 0 -24.8 -80.9ZM45.9 -56.9A73.1 73.1 0 0 1 47.8 -55.3L39.9 -46.2A61 61 0 0 0 38.3 -47.5Z"/><path fill="#445078" d="M91 29.9A95.8 95.8 0 0 1 90 32.9L79.4 29.1A84.6 84.6 0 0 0 80.4 26.4ZM86.9 40.3A95.8 95.8 0 0 1 85.5 43.2L75.5 38.1A84.6 84.6 0 0 0 76.8 35.6ZM39 87.5A95.8 95.8 0 0 1 36.1 88.7L31.9 78.4A84.6 84.6 0 0 0 34.5 77.3ZM-39.7 75.1A84.9 84.9 0 0 1 -42.2 73.7L-36.2 63.2A72.8 72.8 0 0 0 -34 64.4ZM-44.1 72.6A84.9 84.9 0 0 1 -46.5 71L-39.9 60.9A72.8 72.8 0 0 0 -37.8 62.2ZM-3 -95.8A95.8 95.8 0 0 1 0.3 -95.8L0.2 -84.6A84.6 84.6 0 0 0 -2.6 -84.6ZM77.6 -56.2A95.8 95.8 0 0 1 79.5 -53.5L70.2 -47.3A84.6 84.6 0 0 0 68.5 -49.6ZM82.3 -49.1A95.8 95.8 0 0 1 83.9 -46.3L74.1 -40.9A84.6 84.6 0 0 0 72.7 -43.3ZM83.7 -46.6A95.8 95.8 0 0 1 85.2 -43.8L75.3 -38.7A84.6 84.6 0 0 0 73.9 -41.2ZM87.5 -39A95.8 95.8 0 0 1 88.8 -36.1L78.4 -31.8A84.6 84.6 0 0 0 77.3 -34.5Z"/><path fill="#8498b4" d="M68.8 24.8A73.1 73.1 0 0 1 67.9 27.1L56.6 22.6A61 61 0 0 0 57.4 20.7ZM73.6 42.3A84.9 84.9 0 0 1 72.1 44.8L61.9 38.4A72.8 72.8 0 0 0 63.1 36.3ZM76.9 57.1A95.8 95.8 0 0 1 74.9 59.7L66.2 52.7A84.6 84.6 0 0 0 67.9 50.4ZM50.6 52.7A73.1 73.1 0 0 1 48.9 54.4L40.8 45.4A61 61 0 0 0 42.3 44ZM-71 64.4A95.8 95.8 0 0 1 -73.1 61.9L-64.6 54.7A84.6 84.6 0 0 0 -62.7 56.8ZM-71 -17.3A73.1 73.1 0 0 1 -70.4 -19.7L-58.7 -16.4A61 61 0 0 0 -59.3 -14.4ZM-74.3 -41.1A84.9 84.9 0 0 1 -72.9 -43.6L-62.5 -37.4A72.8 72.8 0 0 0 -63.7 -35.2ZM-51.5 -67.5A84.9 84.9 0 0 1 -49.2 -69.2L-42.2 -59.3A72.8 72.8 0 0 0 -44.2 -57.9ZM-46.3 -83.9A95.8 95.8 0 0 1 -43.4 -85.4L-38.3 -75.4A84.6 84.6 0 0 0 -40.9 -74.1ZM-23.5 -69.2A73.1 73.1 0 0 1 -21.1 -70L-17.6 -58.4A61 61 0 0 0 -19.6 -57.8ZM38.5 -75.6A84.9 84.9 0 0 1 41.1 -74.3L35.2 -63.7A72.8 72.8 0 0 0 33 -64.9ZM61.6 -39.3A73.1 73.1 0 0 1 62.9 -37.2L52.5 -31A61 61 0 0 0 51.4 -32.8Z"/><path fill="#546084" d="M90.1 32.5A95.8 95.8 0 0 1 89 35.5L78.6 31.4A84.6 84.6 0 0 0 79.6 28.7ZM85.7 42.8A95.8 95.8 0 0 1 84.2 45.7L74.4 40.3A84.6 84.6 0 0 0 75.7 37.8ZM-30.5 79.2A84.9 84.9 0 0 1 -33.2 78.1L-28.5 67A72.8 72.8 0 0 0 -26.2 67.9ZM-47.3 83.3A95.8 95.8 0 0 1 -50.1 81.7L-44.2 72.1A84.6 84.6 0 0 0 -41.7 73.6ZM-94.7 -14.3A95.8 95.8 0 0 1 -94.2 -17.5L-83.2 -15.5A84.6 84.6 0 0 0 -83.6 -12.7ZM-17.6 -83.1A84.9 84.9 0 0 1 -14.8 -83.6L-12.7 -71.7A72.8 72.8 0 0 0 -15.1 -71.2ZM-8.6 -95.4A95.8 95.8 0 0 1 -5.4 -95.6L-4.8 -84.5A84.6 84.6 0 0 0 -7.6 -84.3ZM40.9 -86.6A95.8 95.8 0 0 1 43.9 -85.2L38.7 -75.2A84.6 84.6 0 0 0 36.2 -76.5ZM65.7 -53.8A84.9 84.9 0 0 1 67.5 -51.5L57.9 -44.2A72.8 72.8 0 0 0 56.3 -46.1Z"/><path fill="#88a0b8" d="M68 26.8A73.1 73.1 0 0 1 67.1 29.1L56 24.3A61 61 0 0 0 56.7 22.4ZM-9.5 72.5A73.1 73.1 0 0 1 -11.9 72.1L-9.9 60.2A61 61 0 0 0 -7.9 60.5ZM-67 29.2A73.1 73.1 0 0 1 -68 26.9L-56.7 22.5A61 61 0 0 0 -55.9 24.4ZM-83.1 17.2A84.9 84.9 0 0 1 -83.7 14.4L-71.7 12.4A72.8 72.8 0 0 0 -71.3 14.8ZM-94.3 16.7A95.8 95.8 0 0 1 -94.8 13.5L-83.8 11.9A84.6 84.6 0 0 0 -83.3 14.7ZM-73.1 -2.3A73.1 73.1 0 0 1 -72.9 -4.8L-60.9 -4A61 61 0 0 0 -61 -2ZM-82.5 -20.1A84.9 84.9 0 0 1 -81.8 -22.9L-70.1 -19.6A72.8 72.8 0 0 0 -70.7 -17.2ZM-79.4 -53.6A95.8 95.8 0 0 1 -77.5 -56.2L-68.5 -49.7A84.6 84.6 0 0 0 -70.1 -47.3ZM-77.8 -55.9A95.8 95.8 0 0 1 -75.9 -58.5L-67 -51.7A84.6 84.6 0 0 0 -68.7 -49.4ZM-56.7 -46.1A73.1 73.1 0 0 1 -55.1 -48L-46 -40A61 61 0 0 0 -47.3 -38.5ZM-64.6 -70.7A95.8 95.8 0 0 1 -62.2 -72.9L-54.9 -64.3A84.6 84.6 0 0 0 -57.1 -62.4ZM-27.5 -67.7A73.1 73.1 0 0 1 -25.2 -68.6L-21 -57.3A61 61 0 0 0 -23 -56.5ZM-6.6 -72.8A73.1 73.1 0 0 1 -4.1 -73L-3.4 -60.9A61 61 0 0 0 -5.5 -60.8Z"/><path fill="#3c4470" d="M89.1 35.1A95.8 95.8 0 0 1 87.9 38.1L77.6 33.7A84.6 84.6 0 0 0 78.7 31ZM88.1 37.7A95.8 95.8 0 0 1 86.7 40.7L76.6 35.9A84.6 84.6 0 0 0 77.8 33.3ZM36.5 88.6A95.8 95.8 0 0 1 33.5 89.7L29.6 79.2A84.6 84.6 0 0 0 32.2 78.2ZM33.9 89.6A95.8 95.8 0 0 1 31 90.7L27.3 80.1A84.6 84.6 0 0 0 30 79.1ZM-18.4 82.9A84.9 84.9 0 0 1 -21.2 82.2L-18.2 70.5A72.8 72.8 0 0 0 -15.8 71.1ZM-28.3 67.4A73.1 73.1 0 0 1 -30.6 66.4L-25.5 55.4A61 61 0 0 0 -23.6 56.3ZM-32.8 78.3A84.9 84.9 0 0 1 -35.5 77.1L-30.4 66.1A72.8 72.8 0 0 0 -28.2 67.1ZM-30.3 66.5A73.1 73.1 0 0 1 -32.5 65.5L-27.1 54.6A61 61 0 0 0 -25.3 55.5ZM-35.2 77.3A84.9 84.9 0 0 1 -37.8 76L-32.4 65.2A72.8 72.8 0 0 0 -30.1 66.3ZM-39.7 87.2A95.8 95.8 0 0 1 -42.6 85.8L-37.6 75.8A84.6 84.6 0 0 0 -35 77ZM-32.2 65.6A73.1 73.1 0 0 1 -34.5 64.5L-28.7 53.8A61 61 0 0 0 -26.9 54.7ZM-37.4 76.2A84.9 84.9 0 0 1 -40 74.9L-34.3 64.2A72.8 72.8 0 0 0 -32.1 65.3ZM-42.2 86A95.8 95.8 0 0 1 -45.1 84.5L-39.9 74.6A84.6 84.6 0 0 0 -37.3 75.9ZM-34.2 64.6A73.1 73.1 0 0 1 -36.4 63.4L-30.3 52.9A61 61 0 0 0 -28.5 53.9ZM-36.1 63.6A73.1 73.1 0 0 1 -38.2 62.3L-31.9 52A61 61 0 0 0 -30.1 53.1ZM-25.3 -92.4A95.8 95.8 0 0 1 -22.2 -93.2L-19.6 -82.3A84.6 84.6 0 0 0 -22.4 -81.6ZM-22.6 -93.1A95.8 95.8 0 0 1 -19.4 -93.8L-17.2 -82.8A84.6 84.6 0 0 0 -20 -82.2ZM-19.8 -93.7A95.8 95.8 0 0 1 -16.7 -94.3L-14.7 -83.3A84.6 84.6 0 0 0 -17.5 -82.8ZM-17.1 -94.3A95.8 95.8 0 0 1 -13.9 -94.8L-12.2 -83.7A84.6 84.6 0 0 0 -15.1 -83.2ZM-5.8 -95.6A95.8 95.8 0 0 1 -2.6 -95.8L-2.3 -84.6A84.6 84.6 0 0 0 -5.1 -84.4ZM-0.2 -95.8A95.8 95.8 0 0 1 3.1 -95.8L2.7 -84.6A84.6 84.6 0 0 0 -0.1 -84.6ZM8.3 -95.4A95.8 95.8 0 0 1 11.6 -95.1L10.2 -84A84.6 84.6 0 0 0 7.3 -84.3ZM11.1 -95.2A95.8 95.8 0 0 1 14.4 -94.7L12.7 -83.6A84.6 84.6 0 0 0 9.8 -84ZM13.9 -94.8A95.8 95.8 0 0 1 17.1 -94.3L15.1 -83.2A84.6 84.6 0 0 0 12.3 -83.7ZM16.7 -94.3A95.8 95.8 0 0 1 19.9 -93.7L17.6 -82.7A84.6 84.6 0 0 0 14.8 -83.3ZM35.8 -88.9A95.8 95.8 0 0 1 38.8 -87.6L34.2 -77.4A84.6 84.6 0 0 0 31.6 -78.5ZM38.4 -87.8A95.8 95.8 0 0 1 41.3 -86.4L36.5 -76.3A84.6 84.6 0 0 0 33.9 -77.5ZM75.9 -58.4A95.8 95.8 0 0 1 77.8 -55.8L68.7 -49.3A84.6 84.6 0 0 0 67 -51.6Z"/><path fill="#849cb4" d="M67.2 28.8A73.1 73.1 0 0 1 66.2 31L55.2 25.9A61 61 0 0 0 56.1 24ZM57.4 45.3A73.1 73.1 0 0 1 55.8 47.2L46.6 39.4A61 61 0 0 0 47.9 37.8ZM64.4 71A95.8 95.8 0 0 1 62 73.1L54.7 64.5A84.6 84.6 0 0 0 56.8 62.7ZM47.5 55.5A73.1 73.1 0 0 1 45.7 57.1L38.1 47.6A61 61 0 0 0 39.7 46.4ZM25.9 68.4A73.1 73.1 0 0 1 23.6 69.2L19.7 57.7A61 61 0 0 0 21.6 57ZM-75.5 -38.9A84.9 84.9 0 0 1 -74.1 -41.4L-63.6 -35.5A72.8 72.8 0 0 0 -64.7 -33.3ZM-36.1 -88.8A95.8 95.8 0 0 1 -33 -89.9L-29.2 -79.4A84.6 84.6 0 0 0 -31.9 -78.4ZM-19.3 -70.5A73.1 73.1 0 0 1 -16.9 -71.1L-14.1 -59.3A61 61 0 0 0 -16.1 -58.8ZM-8.7 -72.6A73.1 73.1 0 0 1 -6.3 -72.8L-5.2 -60.8A61 61 0 0 0 -7.3 -60.6ZM60.5 -41.1A73.1 73.1 0 0 1 61.8 -39L51.6 -32.6A61 61 0 0 0 50.4 -34.3ZM90.6 -31.1A95.8 95.8 0 0 1 91.6 -28L80.9 -24.8A84.6 84.6 0 0 0 80 -27.5Z"/><path fill="#7484a4" d="M66.3 30.7A73.1 73.1 0 0 1 65.2 33L54.4 27.5A61 61 0 0 0 55.3 25.7ZM51.4 67.6A84.9 84.9 0 0 1 49.1 69.2L42.1 59.4A72.8 72.8 0 0 0 44.1 57.9ZM-91.6 -28.1A95.8 95.8 0 0 1 -90.6 -31.2L-80 -27.6A84.6 84.6 0 0 0 -80.9 -24.8ZM-85.2 -43.8A95.8 95.8 0 0 1 -83.6 -46.7L-73.9 -41.2A84.6 84.6 0 0 0 -75.2 -38.7ZM93 -23A95.8 95.8 0 0 1 93.7 -19.8L82.8 -17.5A84.6 84.6 0 0 0 82.1 -20.3Z"/><path fill="#586488" d="M77 35.7A84.9 84.9 0 0 1 75.8 38.3L65 32.8A72.8 72.8 0 0 0 66 30.6ZM84.4 45.3A95.8 95.8 0 0 1 82.8 48.1L73.2 42.5A84.6 84.6 0 0 0 74.5 40ZM-54.5 78.8A95.8 95.8 0 0 1 -57.2 76.9L-50.5 67.9A84.6 84.6 0 0 0 -48.1 69.6ZM-52.4 66.8A84.9 84.9 0 0 1 -54.6 65L-46.8 55.7A72.8 72.8 0 0 0 -44.9 57.3ZM-74.5 40.7A84.9 84.9 0 0 1 -75.8 38.2L-65 32.7A72.8 72.8 0 0 0 -63.9 34.9ZM-62.9 -37.2A73.1 73.1 0 0 1 -61.6 -39.4L-51.4 -32.8A61 61 0 0 0 -52.5 -31.1ZM-59.1 -60.9A84.9 84.9 0 0 1 -57 -62.9L-48.9 -53.9A72.8 72.8 0 0 0 -50.7 -52.3Z"/><path fill="#7c94ac" d="M74.8 40.2A84.9 84.9 0 0 1 73.4 42.6L63 36.6A72.8 72.8 0 0 0 64.1 34.4ZM23.9 69.1A73.1 73.1 0 0 1 21.6 69.8L18 58.3A61 61 0 0 0 20 57.6ZM27.8 80.2A84.9 84.9 0 0 1 25.1 81.1L21.5 69.5A72.8 72.8 0 0 0 23.8 68.8ZM-95.6 -5.9A95.8 95.8 0 0 1 -95.4 -9.1L-84.2 -8.1A84.6 84.6 0 0 0 -84.4 -5.2Z"/><path fill="#788ca8" d="M63.4 36.4A73.1 73.1 0 0 1 62.1 38.5L51.8 32.2A61 61 0 0 0 52.9 30.4ZM65.1 54.5A84.9 84.9 0 0 1 63.2 56.7L54.2 48.6A72.8 72.8 0 0 0 55.8 46.7ZM60.2 74.6A95.8 95.8 0 0 1 57.7 76.5L50.9 67.6A84.6 84.6 0 0 0 53.1 65.8ZM58 76.3A95.8 95.8 0 0 1 55.4 78.1L48.9 69A84.6 84.6 0 0 0 51.2 67.3ZM27.9 67.6A73.1 73.1 0 0 1 25.6 68.5L21.4 57.1A61 61 0 0 0 23.2 56.4ZM23.1 81.7A84.9 84.9 0 0 1 20.4 82.4L17.5 70.7A72.8 72.8 0 0 0 19.8 70ZM20.8 82.3A84.9 84.9 0 0 1 18.4 82.9L15.8 71.1A72.8 72.8 0 0 0 17.8 70.6ZM7.9 72.7A73.1 73.1 0 0 1 5.4 72.9L4.5 60.8A61 61 0 0 0 6.6 60.6ZM4.7 95.7A95.8 95.8 0 0 1 1.4 95.8L1.2 84.6A84.6 84.6 0 0 0 4.1 84.5ZM-0.9 84.9A84.9 84.9 0 0 1 -3.8 84.8L-3.3 72.7A72.8 72.8 0 0 0 -0.8 72.8ZM-7.3 72.7A73.1 73.1 0 0 1 -9.8 72.4L-8.2 60.5A61 61 0 0 0 -6.1 60.7ZM-11.6 72.2A73.1 73.1 0 0 1 -14.1 71.7L-11.7 59.9A61 61 0 0 0 -9.7 60.2ZM-82.7 48.4A95.8 95.8 0 0 1 -84.3 45.6L-74.4 40.2A84.6 84.6 0 0 0 -73 42.7ZM-65.2 33.1A73.1 73.1 0 0 1 -66.2 30.9L-55.3 25.8A61 61 0 0 0 -54.4 27.7ZM-71.6 14.8A73.1 73.1 0 0 1 -72 12.4L-60.1 10.4A61 61 0 0 0 -59.7 12.4ZM-95.6 5.4A95.8 95.8 0 0 1 -95.8 2.2L-84.6 1.9A84.6 84.6 0 0 0 -84.5 4.8ZM-95.8 -3.1A95.8 95.8 0 0 1 -95.6 -6.3L-84.4 -5.6A84.6 84.6 0 0 0 -84.6 -2.7ZM-95.4 -8.7A95.8 95.8 0 0 1 -95.1 -11.9L-83.9 -10.6A84.6 84.6 0 0 0 -84.2 -7.7ZM-71.9 -13.1A73.1 73.1 0 0 1 -71.4 -15.5L-59.6 -12.9A61 61 0 0 0 -60 -10.9ZM-78.6 -32A84.9 84.9 0 0 1 -77.5 -34.7L-66.5 -29.7A72.8 72.8 0 0 0 -67.4 -27.5ZM-88.7 -36.1A95.8 95.8 0 0 1 -87.4 -39.1L-77.2 -34.5A84.6 84.6 0 0 0 -78.4 -31.9ZM-58.1 -44.4A73.1 73.1 0 0 1 -56.5 -46.3L-47.2 -38.7A61 61 0 0 0 -48.5 -37ZM-32 -78.7A84.9 84.9 0 0 1 -29.3 -79.7L-25.1 -68.3A72.8 72.8 0 0 0 -27.4 -67.4ZM14.9 -71.6A73.1 73.1 0 0 1 17.3 -71L14.4 -59.3A61 61 0 0 0 12.4 -59.7ZM46 -84A95.8 95.8 0 0 1 48.8 -82.4L43.1 -72.8A84.6 84.6 0 0 0 40.6 -74.2ZM38.8 -61.9A73.1 73.1 0 0 1 40.9 -60.6L34.1 -50.6A61 61 0 0 0 32.4 -51.7Z"/><path fill="#8098b0" d="M59.9 41.9A73.1 73.1 0 0 1 58.5 43.8L48.8 36.6A61 61 0 0 0 50 34.9ZM71.6 63.6A95.8 95.8 0 0 1 69.7 65.7L61.6 58A84.6 84.6 0 0 0 63.2 56.2ZM55.2 64.5A84.9 84.9 0 0 1 53 66.3L45.5 56.9A72.8 72.8 0 0 0 47.3 55.3ZM-67.7 51.2A84.9 84.9 0 0 1 -69.4 48.9L-59.5 41.9A72.8 72.8 0 0 0 -58 43.9ZM-84.8 4.8A84.9 84.9 0 0 1 -84.9 1.9L-72.8 1.7A72.8 72.8 0 0 0 -72.7 4.1ZM-84.9 -0.2A84.9 84.9 0 0 1 -84.8 -3.1L-72.8 -2.6A72.8 72.8 0 0 0 -72.8 -0.2ZM-52.4 -50.9A73.1 73.1 0 0 1 -50.7 -52.7L-42.3 -44A61 61 0 0 0 -43.8 -42.5ZM-66.7 -68.8A95.8 95.8 0 0 1 -64.3 -71L-56.8 -62.7A84.6 84.6 0 0 0 -58.9 -60.7ZM33.2 -65.1A73.1 73.1 0 0 1 35.4 -64L29.5 -53.4A61 61 0 0 0 27.7 -54.4ZM45.1 -71.9A84.9 84.9 0 0 1 47.5 -70.4L40.7 -60.3A72.8 72.8 0 0 0 38.7 -61.7ZM49.3 -69.1A84.9 84.9 0 0 1 51.6 -67.4L44.2 -57.8A72.8 72.8 0 0 0 42.2 -59.3ZM44.2 -58.3A73.1 73.1 0 0 1 46.1 -56.7L38.5 -47.3A61 61 0 0 0 36.8 -48.6Z"/><path fill="#9cb4c8" d="M58.7 43.6A73.1 73.1 0 0 1 57.2 45.5L47.7 38A61 61 0 0 0 49 36.4ZM-70.7 -64.7A95.8 95.8 0 0 1 -68.4 -67.1L-60.4 -59.2A84.6 84.6 0 0 0 -62.4 -57.1Z"/><path fill="#9cb8cc" d="M68.2 50.6A84.9 84.9 0 0 1 66.4 52.9L57 45.3A72.8 72.8 0 0 0 58.4 43.4ZM54.6 48.6A73.1 73.1 0 0 1 53.2 50.1L44.4 41.8A61 61 0 0 0 45.6 40.5ZM16 94.5A95.8 95.8 0 0 1 12.7 94.9L11.3 83.8A84.6 84.6 0 0 0 14.1 83.4ZM-84 12.3A84.9 84.9 0 0 1 -84.4 9.4L-72.3 8.1A72.8 72.8 0 0 0 -72 10.5ZM-84.6 7.3A84.9 84.9 0 0 1 -84.8 4.4L-72.7 3.8A72.8 72.8 0 0 0 -72.5 6.3ZM-83 -17.6A84.9 84.9 0 0 1 -82.4 -20.5L-70.7 -17.5A72.8 72.8 0 0 0 -71.2 -15.1ZM-60.4 -74.4A95.8 95.8 0 0 1 -57.8 -76.4L-51 -67.5A84.6 84.6 0 0 0 -53.3 -65.7ZM-33.4 -65A73.1 73.1 0 0 1 -31.2 -66.1L-26 -55.2A61 61 0 0 0 -27.9 -54.3ZM-29.5 -66.9A73.1 73.1 0 0 1 -27.2 -67.8L-22.7 -56.6A61 61 0 0 0 -24.6 -55.8Z"/><path fill="#90acc0" d="M66.7 52.6A84.9 84.9 0 0 1 64.8 54.8L55.6 47A72.8 72.8 0 0 0 57.2 45.1Z"/><path fill="#98b4c8" d="M56 46.9A73.1 73.1 0 0 1 54.4 48.8L45.4 40.7A61 61 0 0 0 46.8 39.2ZM57 62.9A84.9 84.9 0 0 1 54.9 64.8L47.1 55.5A72.8 72.8 0 0 0 48.9 53.9ZM-79.7 53.2A95.8 95.8 0 0 1 -81.4 50.5L-71.9 44.6A84.6 84.6 0 0 0 -70.4 47ZM-73.1 -0.2A73.1 73.1 0 0 1 -73.1 -2.7L-61 -2.2A61 61 0 0 0 -61 -0.1ZM-53.9 -49.4A73.1 73.1 0 0 1 -52.2 -51.2L-43.6 -42.7A61 61 0 0 0 -45 -41.2ZM-35.3 -64A73.1 73.1 0 0 1 -33.1 -65.2L-27.6 -54.4A61 61 0 0 0 -29.5 -53.4ZM-10.9 -72.3A73.1 73.1 0 0 1 -8.4 -72.6L-7 -60.6A61 61 0 0 0 -9.1 -60.3Z"/><path fill="#889cb8" d="M73.4 61.5A95.8 95.8 0 0 1 71.3 63.9L63 56.5A84.6 84.6 0 0 0 64.9 54.3ZM58.8 61.2A84.9 84.9 0 0 1 56.8 63.1L48.7 54.1A72.8 72.8 0 0 0 50.4 52.5ZM-9.6 95.3A95.8 95.8 0 0 1 -12.8 94.9L-11.3 83.8A84.6 84.6 0 0 0 -8.4 84.2ZM-94.8 13.9A95.8 95.8 0 0 1 -95.2 10.7L-84.1 9.4A84.6 84.6 0 0 0 -83.7 12.3ZM-84.3 9.8A84.9 84.9 0 0 1 -84.6 6.9L-72.6 6A72.8 72.8 0 0 0 -72.3 8.4ZM-43.8 -85.2A95.8 95.8 0 0 1 -40.9 -86.6L-36.1 -76.5A84.6 84.6 0 0 0 -38.7 -75.2Z"/><path fill="#8098b4" d="M63.5 56.4A84.9 84.9 0 0 1 61.8 58.2L53 49.9A72.8 72.8 0 0 0 54.4 48.4ZM-41.2 -86.5A95.8 95.8 0 0 1 -38.3 -87.8L-33.8 -77.5A84.6 84.6 0 0 0 -36.4 -76.4ZM89.6 -33.8A95.8 95.8 0 0 1 90.7 -30.7L80.1 -27.1A84.6 84.6 0 0 0 79.2 -29.9Z"/><path fill="#7488a4" d="M60.6 59.5A84.9 84.9 0 0 1 58.5 61.5L50.2 52.7A72.8 72.8 0 0 0 51.9 51ZM37.3 62.9A73.1 73.1 0 0 1 35.2 64.1L29.3 53.5A61 61 0 0 0 31.1 52.5ZM36.8 76.5A84.9 84.9 0 0 1 34.3 77.7L29.4 66.6A72.8 72.8 0 0 0 31.6 65.6ZM6.6 84.6A84.9 84.9 0 0 1 3.8 84.8L3.2 72.7A72.8 72.8 0 0 0 5.7 72.6ZM-20.1 70.3A73.1 73.1 0 0 1 -22.5 69.6L-18.7 58A61 61 0 0 0 -16.8 58.7ZM-67.6 67.9A95.8 95.8 0 0 1 -69.6 65.8L-61.5 58.1A84.6 84.6 0 0 0 -59.7 59.9ZM-95.8 2.6A95.8 95.8 0 0 1 -95.8 -0.7L-84.6 -0.6A84.6 84.6 0 0 0 -84.6 2.3ZM-84.9 -2.7A84.9 84.9 0 0 1 -84.7 -5.6L-72.6 -4.8A72.8 72.8 0 0 0 -72.8 -2.3ZM-80.4 -27.3A84.9 84.9 0 0 1 -79.4 -30L-68.1 -25.7A72.8 72.8 0 0 0 -68.9 -23.4ZM-59.4 -42.7A73.1 73.1 0 0 1 -57.9 -44.7L-48.3 -37.3A61 61 0 0 0 -49.5 -35.6ZM-68.9 -49.5A84.9 84.9 0 0 1 -67.2 -51.9L-57.6 -44.5A72.8 72.8 0 0 0 -59.1 -42.5ZM-27.3 -80.4A84.9 84.9 0 0 1 -24.5 -81.3L-21 -69.7A72.8 72.8 0 0 0 -23.4 -68.9ZM27.7 -91.7A95.8 95.8 0 0 1 30.8 -90.7L27.2 -80.1A84.6 84.6 0 0 0 24.5 -81ZM47.2 -70.6A84.9 84.9 0 0 1 49.6 -68.9L42.5 -59.1A72.8 72.8 0 0 0 40.5 -60.5Z"/><path fill="#7080a0" d="M68.3 67.1A95.8 95.8 0 0 1 66.1 69.4L58.3 61.3A84.6 84.6 0 0 0 60.3 59.3ZM66.4 69.1A95.8 95.8 0 0 1 64 71.2L56.6 62.9A84.6 84.6 0 0 0 58.6 61ZM-8.5 84.5A84.9 84.9 0 0 1 -11.3 84.1L-9.7 72.1A72.8 72.8 0 0 0 -7.3 72.4ZM-46.8 56.2A73.1 73.1 0 0 1 -48.7 54.5L-40.6 45.5A61 61 0 0 0 -39 46.9ZM-63.5 71.8A95.8 95.8 0 0 1 -65.9 69.6L-58.2 61.4A84.6 84.6 0 0 0 -56 63.4ZM-85.4 43.4A95.8 95.8 0 0 1 -86.8 40.5L-76.7 35.8A84.6 84.6 0 0 0 -75.4 38.4ZM-86.6 40.9A95.8 95.8 0 0 1 -88 37.9L-77.7 33.5A84.6 84.6 0 0 0 -76.5 36.1ZM-87.8 38.3A95.8 95.8 0 0 1 -89.1 35.3L-78.6 31.2A84.6 84.6 0 0 0 -77.5 33.8ZM-67.8 27.2A73.1 73.1 0 0 1 -68.7 24.9L-57.3 20.8A61 61 0 0 0 -56.6 22.7ZM-68.6 25.2A73.1 73.1 0 0 1 -69.4 22.9L-57.9 19.1A61 61 0 0 0 -57.3 21ZM-81.3 24.5A84.9 84.9 0 0 1 -82.1 21.8L-70.4 18.7A72.8 72.8 0 0 0 -69.7 21ZM-95.4 8.3A95.8 95.8 0 0 1 -95.7 5L-84.5 4.4A84.6 84.6 0 0 0 -84.3 7.3ZM-73 -4.5A73.1 73.1 0 0 1 -72.8 -7L-60.7 -5.8A61 61 0 0 0 -60.9 -3.8ZM-83.5 -15.2A84.9 84.9 0 0 1 -83 -18L-71.1 -15.4A72.8 72.8 0 0 0 -71.6 -13ZM-69.9 -21.5A73.1 73.1 0 0 1 -69.1 -23.8L-57.7 -19.9A61 61 0 0 0 -58.3 -17.9ZM-66.9 -29.6A73.1 73.1 0 0 1 -65.8 -31.8L-54.9 -26.5A61 61 0 0 0 -55.8 -24.7ZM-29.6 -79.6A84.9 84.9 0 0 1 -26.9 -80.5L-23.1 -69A72.8 72.8 0 0 0 -25.4 -68.2ZM64.4 -70.9A95.8 95.8 0 0 1 66.8 -68.7L59 -60.7A84.6 84.6 0 0 0 56.9 -62.6ZM55.2 -47.9A73.1 73.1 0 0 1 56.8 -46L47.4 -38.4A61 61 0 0 0 46 -40ZM68.4 -25.8A73.1 73.1 0 0 1 69.2 -23.5L57.8 -19.6A61 61 0 0 0 57.1 -21.5Z"/><path fill="#94acc4" d="M49.1 54.2A73.1 73.1 0 0 1 47.3 55.8L39.5 46.5A61 61 0 0 0 41 45.2ZM-15.2 94.6A95.8 95.8 0 0 1 -18.4 94L-16.3 83A84.6 84.6 0 0 0 -13.4 83.5ZM-72 12.7A73.1 73.1 0 0 1 -72.4 10.3L-60.4 8.6A61 61 0 0 0 -60.1 10.6ZM-48.7 -82.5A95.8 95.8 0 0 1 -45.9 -84.1L-40.5 -74.2A84.6 84.6 0 0 0 -43 -72.8ZM27 -80.5A84.9 84.9 0 0 1 29.7 -79.5L25.5 -68.2A72.8 72.8 0 0 0 23.1 -69Z"/><path fill="#c09080" d="M49.4 69A84.9 84.9 0 0 1 47.1 70.6L40.4 60.6A72.8 72.8 0 0 0 42.4 59.2ZM12.2 72.1A73.1 73.1 0 0 1 9.7 72.5L8.1 60.5A61 61 0 0 0 10.2 60.1ZM-64.6 55.1A84.9 84.9 0 0 1 -66.4 52.9L-56.9 45.4A72.8 72.8 0 0 0 -55.4 47.3ZM-84.7 -5.2A84.9 84.9 0 0 1 -84.5 -8.1L-72.5 -6.9A72.8 72.8 0 0 0 -72.7 -4.5ZM-61.8 -39.1A73.1 73.1 0 0 1 -60.4 -41.2L-50.4 -34.3A61 61 0 0 0 -51.6 -32.6Z"/><path fill="#742418" d="M55.8 77.9A95.8 95.8 0 0 1 53.2 79.7L46.9 70.4A84.6 84.6 0 0 0 49.2 68.8Z"/><path fill="#607090" d="M40.8 60.6A73.1 73.1 0 0 1 38.8 62L32.4 51.7A61 61 0 0 0 34.1 50.6ZM34.6 77.5A84.9 84.9 0 0 1 32 78.6L27.4 67.4A72.8 72.8 0 0 0 29.7 66.5ZM1.4 73.1A73.1 73.1 0 0 1 -1.1 73.1L-0.9 61A61 61 0 0 0 1.2 61ZM-15.9 71.4A73.1 73.1 0 0 1 -18.3 70.8L-15.3 59.1A61 61 0 0 0 -13.2 59.5ZM-29 91.3A95.8 95.8 0 0 1 -32.1 90.2L-28.4 79.7A84.6 84.6 0 0 0 -25.7 80.6ZM-77.8 33.9A84.9 84.9 0 0 1 -78.9 31.3L-67.7 26.8A72.8 72.8 0 0 0 -66.7 29.1ZM-84.3 -10.2A84.9 84.9 0 0 1 -83.9 -13.1L-71.9 -11.2A72.8 72.8 0 0 0 -72.3 -8.8ZM-65 -33.5A73.1 73.1 0 0 1 -63.8 -35.6L-53.3 -29.7A61 61 0 0 0 -54.2 -27.9ZM-57.3 -62.7A84.9 84.9 0 0 1 -55.1 -64.6L-47.3 -55.4A72.8 72.8 0 0 0 -49.1 -53.7ZM22.3 -93.2A95.8 95.8 0 0 1 25.4 -92.4L22.5 -81.6A84.6 84.6 0 0 0 19.7 -82.3ZM77.5 -34.6A84.9 84.9 0 0 1 78.7 -31.9L67.4 -27.4A72.8 72.8 0 0 0 66.5 -29.7ZM93.6 -20.2A95.8 95.8 0 0 1 94.2 -17.5L83.2 -15.4A84.6 84.6 0 0 0 82.7 -17.9Z"/><path fill="#546488" d="M39.1 61.8A73.1 73.1 0 0 1 37 63L30.9 52.6A61 61 0 0 0 32.6 51.6ZM-26.3 92.1A95.8 95.8 0 0 1 -29.4 91.2L-26 80.5A84.6 84.6 0 0 0 -23.2 81.3ZM53.3 -66.1A84.9 84.9 0 0 1 55.5 -64.3L47.6 -55.1A72.8 72.8 0 0 0 45.7 -56.7ZM64.9 -33.7A73.1 73.1 0 0 1 66 -31.5L55.1 -26.3A61 61 0 0 0 54.1 -28.1Z"/><path fill="#546088" d="M51.2 81A95.8 95.8 0 0 1 48.5 82.6L42.8 73A84.6 84.6 0 0 0 45.2 71.5ZM23.4 92.9A95.8 95.8 0 0 1 20.7 93.5L18.3 82.6A84.6 84.6 0 0 0 20.7 82ZM-43.4 58.9A73.1 73.1 0 0 1 -45.3 57.3L-37.8 47.8A61 61 0 0 0 -36.2 49.1ZM-2.3 -73.1A73.1 73.1 0 0 1 0.2 -73.1L0.2 -61A61 61 0 0 0 -1.9 -61ZM2 -73.1A73.1 73.1 0 0 1 4.5 -73L3.8 -60.9A61 61 0 0 0 1.7 -61ZM57.1 -62.9A84.9 84.9 0 0 1 59.2 -60.9L50.7 -52.2A72.8 72.8 0 0 0 48.9 -53.9ZM50.7 -52.6A73.1 73.1 0 0 1 52.5 -50.9L43.8 -42.5A61 61 0 0 0 42.3 -43.9ZM79.2 -53.9A95.8 95.8 0 0 1 81 -51.1L71.5 -45.2A84.6 84.6 0 0 0 70 -47.6ZM80.8 -51.5A95.8 95.8 0 0 1 82.5 -48.7L72.8 -43A84.6 84.6 0 0 0 71.3 -45.5Z"/><path fill="#505c80" d="M48.8 82.4A95.8 95.8 0 0 1 46.1 84L40.7 74.2A84.6 84.6 0 0 0 43.1 72.8Z"/><path fill="#687c9c" d="M35.4 63.9A73.1 73.1 0 0 1 33.3 65.1L27.8 54.3A61 61 0 0 0 29.6 53.4ZM16.6 83.3A84.9 84.9 0 0 1 13.8 83.8L11.8 71.8A72.8 72.8 0 0 0 14.3 71.4ZM-3 73A73.1 73.1 0 0 1 -5.5 72.9L-4.5 60.8A61 61 0 0 0 -2.5 60.9ZM-41.6 60.1A73.1 73.1 0 0 1 -43.6 58.7L-36.4 49A61 61 0 0 0 -34.7 50.2ZM-50 53.3A73.1 73.1 0 0 1 -51.8 51.6L-43.2 43A61 61 0 0 0 -41.8 44.5ZM-80.5 26.9A84.9 84.9 0 0 1 -81.4 24.2L-69.8 20.7A72.8 72.8 0 0 0 -69 23.1ZM-83.8 -46.3A95.8 95.8 0 0 1 -82.2 -49.2L-72.6 -43.4A84.6 84.6 0 0 0 -74 -40.9ZM-64.3 -55.5A84.9 84.9 0 0 1 -62.4 -57.6L-53.5 -49.4A72.8 72.8 0 0 0 -55.1 -47.6ZM21.2 -70A73.1 73.1 0 0 1 23.5 -69.2L19.6 -57.8A61 61 0 0 0 17.7 -58.4ZM37 -63.1A73.1 73.1 0 0 1 39.1 -61.8L32.6 -51.5A61 61 0 0 0 30.9 -52.6Z"/><path fill="#7084a0" d="M41.2 74.3A84.9 84.9 0 0 1 38.7 75.6L33.2 64.8A72.8 72.8 0 0 0 35.3 63.7ZM21.9 69.7A73.1 73.1 0 0 1 19.6 70.4L16.4 58.8A61 61 0 0 0 18.3 58.2ZM-70.5 -19.4A73.1 73.1 0 0 1 -69.8 -21.8L-58.2 -18.2A61 61 0 0 0 -58.8 -16.2ZM-70.4 -47.5A84.9 84.9 0 0 1 -68.7 -49.8L-58.9 -42.7A72.8 72.8 0 0 0 -60.3 -40.7ZM27.3 -67.8A73.1 73.1 0 0 1 29.6 -66.9L24.7 -55.8A61 61 0 0 0 22.8 -56.6Z"/><path fill="#4c547c" d="M46.4 83.8A95.8 95.8 0 0 1 43.6 85.3L38.5 75.3A84.6 84.6 0 0 0 41 74ZM-28.1 80.1A84.9 84.9 0 0 1 -30.8 79.1L-26.5 67.8A72.8 72.8 0 0 0 -24.1 68.7ZM-72 45A84.9 84.9 0 0 1 -73.5 42.6L-63 36.5A72.8 72.8 0 0 0 -61.7 38.6ZM-14.3 -94.7A95.8 95.8 0 0 1 -11.1 -95.2L-9.8 -84A84.6 84.6 0 0 0 -12.6 -83.7Z"/><path fill="#4c5880" d="M33.6 64.9A73.1 73.1 0 0 1 31.4 66L26.2 55.1A61 61 0 0 0 28 54.2ZM-20.9 82.3A84.9 84.9 0 0 1 -23.7 81.5L-20.3 69.9A72.8 72.8 0 0 0 -17.9 70.6ZM-37.9 62.5A73.1 73.1 0 0 1 -40.1 61.1L-33.4 51A61 61 0 0 0 -31.7 52.1ZM-11.5 -95.1A95.8 95.8 0 0 1 -8.2 -95.4L-7.3 -84.3A84.6 84.6 0 0 0 -10.1 -84ZM2.7 -95.8A95.8 95.8 0 0 1 5.9 -95.6L5.2 -84.4A84.6 84.6 0 0 0 2.4 -84.6ZM19.5 -93.8A95.8 95.8 0 0 1 22.7 -93.1L20 -82.2A84.6 84.6 0 0 0 17.2 -82.8ZM53.3 -79.6A95.8 95.8 0 0 1 55.9 -77.8L49.4 -68.7A84.6 84.6 0 0 0 47 -70.3ZM57.9 -76.3A95.8 95.8 0 0 1 60.4 -74.3L53.4 -65.7A84.6 84.6 0 0 0 51.1 -67.4ZM55.2 -64.5A84.9 84.9 0 0 1 57.3 -62.6L49.2 -53.7A72.8 72.8 0 0 0 47.3 -55.3ZM64.1 -55.7A84.9 84.9 0 0 1 65.9 -53.5L56.5 -45.9A72.8 72.8 0 0 0 55 -47.7ZM72.3 -62.8A95.8 95.8 0 0 1 74.4 -60.3L65.7 -53.3A84.6 84.6 0 0 0 63.9 -55.5ZM70.2 -47.7A84.9 84.9 0 0 1 71.8 -45.3L61.6 -38.9A72.8 72.8 0 0 0 60.2 -40.9ZM65.8 -31.7A73.1 73.1 0 0 1 66.9 -29.5L55.8 -24.6A61 61 0 0 0 54.9 -26.5ZM88.6 -36.4A95.8 95.8 0 0 1 89.8 -33.4L79.3 -29.5A84.6 84.6 0 0 0 78.2 -32.2ZM79.4 -30A84.9 84.9 0 0 1 80.4 -27.2L68.9 -23.4A72.8 72.8 0 0 0 68.1 -25.7Z"/><path fill="#444c78" d="M44 85.1A95.8 95.8 0 0 1 41.2 86.5L36.4 76.4A84.6 84.6 0 0 0 38.9 75.1ZM26.1 92.2A95.8 95.8 0 0 1 23 93L20.3 82.1A84.6 84.6 0 0 0 23 81.4ZM-37.1 88.3A95.8 95.8 0 0 1 -40 87L-35.4 76.9A84.6 84.6 0 0 0 -32.7 78ZM-41.9 73.8A84.9 84.9 0 0 1 -44.4 72.4L-38.1 62.1A72.8 72.8 0 0 0 -35.9 63.3ZM-73.3 42.9A84.9 84.9 0 0 1 -74.7 40.4L-64 34.6A72.8 72.8 0 0 0 -62.8 36.8ZM33.1 -89.9A95.8 95.8 0 0 1 36.1 -88.7L31.9 -78.3A84.6 84.6 0 0 0 29.2 -79.4Z"/><path fill="#7888a8" d="M31.7 65.9A73.1 73.1 0 0 1 29.5 66.9L24.6 55.8A61 61 0 0 0 26.5 55ZM-92.5 25A95.8 95.8 0 0 1 -93.3 21.8L-82.4 19.3A84.6 84.6 0 0 0 -81.7 22ZM-76.6 -36.6A84.9 84.9 0 0 1 -75.3 -39.2L-64.6 -33.6A72.8 72.8 0 0 0 -65.7 -31.4ZM-7.7 -84.6A84.9 84.9 0 0 1 -4.8 -84.8L-4.1 -72.7A72.8 72.8 0 0 0 -6.6 -72.5Z"/><path fill="#404874" d="M31.3 90.5A95.8 95.8 0 0 1 28.3 91.5L25 80.8A84.6 84.6 0 0 0 27.7 79.9ZM-31.7 90.4A95.8 95.8 0 0 1 -34.8 89.3L-30.7 78.8A84.6 84.6 0 0 0 -28 79.8ZM-50.4 68.4A84.9 84.9 0 0 1 -52.7 66.6L-45.2 57.1A72.8 72.8 0 0 0 -43.2 58.6ZM74.1 -60.7A95.8 95.8 0 0 1 76.2 -58.1L67.3 -51.3A84.6 84.6 0 0 0 65.5 -53.6ZM80.3 -27.6A84.9 84.9 0 0 1 81.2 -24.9L69.6 -21.3A72.8 72.8 0 0 0 68.8 -23.7Z"/><path fill="#607094" d="M19.9 70.3A73.1 73.1 0 0 1 17.6 71L14.7 59.2A61 61 0 0 0 16.6 58.7ZM-22.2 69.7A73.1 73.1 0 0 1 -24.5 68.9L-20.5 57.5A61 61 0 0 0 -18.5 58.1ZM-61.3 73.6A95.8 95.8 0 0 1 -63.8 71.5L-56.3 63.1A84.6 84.6 0 0 0 -54.1 65ZM-58.1 61.9A84.9 84.9 0 0 1 -60.2 59.9L-51.6 51.3A72.8 72.8 0 0 0 -49.8 53.1ZM-55.6 47.5A73.1 73.1 0 0 1 -57.2 45.6L-47.7 38A61 61 0 0 0 -46.4 39.6ZM-66.2 53.2A84.9 84.9 0 0 1 -67.9 50.9L-58.2 43.7A72.8 72.8 0 0 0 -56.7 45.6ZM-78.8 31.6A84.9 84.9 0 0 1 -79.8 28.9L-68.4 24.8A72.8 72.8 0 0 0 -67.6 27.1ZM-82 22.1A84.9 84.9 0 0 1 -82.7 19.3L-70.9 16.6A72.8 72.8 0 0 0 -70.3 19ZM-41 -74.3A84.9 84.9 0 0 1 -38.5 -75.7L-33 -64.9A72.8 72.8 0 0 0 -35.2 -63.7ZM-30.8 -90.7A95.8 95.8 0 0 1 -27.7 -91.7L-24.4 -81A84.6 84.6 0 0 0 -27.2 -80.1ZM-10.2 -84.3A84.9 84.9 0 0 1 -7.3 -84.6L-6.3 -72.5A72.8 72.8 0 0 0 -8.7 -72.3ZM5.5 -95.6A95.8 95.8 0 0 1 8.7 -95.4L7.7 -84.2A84.6 84.6 0 0 0 4.9 -84.5ZM25.3 -68.6A73.1 73.1 0 0 1 27.6 -67.7L23 -56.5A61 61 0 0 0 21.1 -57.2ZM48.5 -82.6A95.8 95.8 0 0 1 51.2 -80.9L45.2 -71.5A84.6 84.6 0 0 0 42.8 -73ZM66.5 -69A95.8 95.8 0 0 1 68.8 -66.7L60.7 -58.9A84.6 84.6 0 0 0 58.7 -60.9ZM68.5 -67A95.8 95.8 0 0 1 70.7 -64.6L62.4 -57.1A84.6 84.6 0 0 0 60.5 -59.2ZM57.9 -44.6A73.1 73.1 0 0 1 59.4 -42.6L49.6 -35.6A61 61 0 0 0 48.3 -37.2ZM69.8 -21.7A73.1 73.1 0 0 1 70.5 -19.3L58.8 -16.1A61 61 0 0 0 58.2 -18.1Z"/><path fill="#7890ac" d="M17.9 70.9A73.1 73.1 0 0 1 15.8 71.4L13.2 59.6A61 61 0 0 0 14.9 59.1ZM-66.1 31.2A73.1 73.1 0 0 1 -67.1 28.9L-56 24.1A61 61 0 0 0 -55.2 26ZM-67.4 -51.6A84.9 84.9 0 0 1 -65.7 -53.8L-56.3 -46.2A72.8 72.8 0 0 0 -57.8 -44.2ZM-24.9 -81.2A84.9 84.9 0 0 1 -22.1 -82L-19 -70.3A72.8 72.8 0 0 0 -21.3 -69.6Z"/><path fill="#98b0c4" d="M10 72.4A73.1 73.1 0 0 1 7.6 72.7L6.3 60.7A61 61 0 0 0 8.4 60.4ZM-93.8 19.5A95.8 95.8 0 0 1 -94.4 16.3L-83.4 14.4A84.6 84.6 0 0 0 -82.8 17.2ZM-81 -51.2A95.8 95.8 0 0 1 -79.2 -53.9L-69.9 -47.6A84.6 84.6 0 0 0 -71.5 -45.2Z"/><path fill="#606c90" d="M3.6 73A73.1 73.1 0 0 1 1.1 73.1L0.9 61A61 61 0 0 0 3 60.9ZM-3.4 84.8A84.9 84.9 0 0 1 -6.3 84.7L-5.4 72.6A72.8 72.8 0 0 0 -3 72.7ZM-46.2 71.2A84.9 84.9 0 0 1 -48.6 69.6L-41.7 59.7A72.8 72.8 0 0 0 -39.6 61.1ZM-47.4 -70.4A84.9 84.9 0 0 1 -45 -72L-38.6 -61.7A72.8 72.8 0 0 0 -40.7 -60.4ZM66.8 -29.8A73.1 73.1 0 0 1 67.7 -27.5L56.5 -23A61 61 0 0 0 55.7 -24.9Z"/><path fill="#b48070" d="M1.6 84.9A84.9 84.9 0 0 1 -1.3 84.9L-1.1 72.8A72.8 72.8 0 0 0 1.4 72.8ZM-1 95.8A95.8 95.8 0 0 1 -4.3 95.7L-3.8 84.5A84.6 84.6 0 0 0 -0.9 84.6ZM-94.3 -17.1A95.8 95.8 0 0 1 -93.6 -20.3L-82.7 -17.9A84.6 84.6 0 0 0 -83.2 -15.1ZM-90.7 -30.8A95.8 95.8 0 0 1 -89.6 -33.9L-79.1 -29.9A84.6 84.6 0 0 0 -80.1 -27.2ZM-79.5 -29.7A84.9 84.9 0 0 1 -78.5 -32.4L-67.3 -27.7A72.8 72.8 0 0 0 -68.2 -25.5ZM-66 -31.5A73.1 73.1 0 0 1 -64.8 -33.7L-54.1 -28.2A61 61 0 0 0 -55 -26.3Z"/><path fill="#702414" d="M1.8 95.8A95.8 95.8 0 0 1 -1.5 95.8L-1.3 84.6A84.6 84.6 0 0 0 1.6 84.6ZM-92.4 -25.4A95.8 95.8 0 0 1 -91.5 -28.5L-80.8 -25.2A84.6 84.6 0 0 0 -81.6 -22.4Z"/><path fill="#dcc4b8" d="M-5.1 72.9A73.1 73.1 0 0 1 -7.6 72.7L-6.4 60.7A61 61 0 0 0 -4.3 60.8ZM-78.1 55.5A95.8 95.8 0 0 1 -79.9 52.9L-70.6 46.7A84.6 84.6 0 0 0 -68.9 49ZM-81.2 -24.9A84.9 84.9 0 0 1 -80.3 -27.7L-68.8 -23.7A72.8 72.8 0 0 0 -69.6 -21.4Z"/><path fill="#803c2c" d="M-6 84.7A84.9 84.9 0 0 1 -8.8 84.4L-7.6 72.4A72.8 72.8 0 0 0 -5.1 72.6Z"/><path fill="#68789c" d="M-11 84.2A84.9 84.9 0 0 1 -13.8 83.8L-11.9 71.8A72.8 72.8 0 0 0 -9.4 72.2ZM-48.4 54.8A73.1 73.1 0 0 1 -50.3 53.1L-41.9 44.3A61 61 0 0 0 -40.4 45.7ZM-33.4 -89.8A95.8 95.8 0 0 1 -30.4 -90.9L-26.8 -80.2A84.6 84.6 0 0 0 -29.5 -79.3ZM74.2 -41.3A84.9 84.9 0 0 1 75.5 -38.8L64.8 -33.3A72.8 72.8 0 0 0 63.6 -35.4Z"/><path fill="#48547c" d="M-16 83.4A84.9 84.9 0 0 1 -18.8 82.8L-16.1 71A72.8 72.8 0 0 0 -13.7 71.5ZM-23.6 92.9A95.8 95.8 0 0 1 -26.7 92L-23.6 81.2A84.6 84.6 0 0 0 -20.8 82ZM-25.7 80.9A84.9 84.9 0 0 1 -28.5 80L-24.4 68.6A72.8 72.8 0 0 0 -22.1 69.4ZM-48.3 69.8A84.9 84.9 0 0 1 -50.7 68.1L-43.4 58.4A72.8 72.8 0 0 0 -41.4 59.9ZM49.1 -54.1A73.1 73.1 0 0 1 50.9 -52.4L42.5 -43.7A61 61 0 0 0 41 -45.2ZM85 -44.1A95.8 95.8 0 0 1 86.5 -41.2L76.4 -36.4A84.6 84.6 0 0 0 75.1 -39Z"/><path fill="#58648c" d="M-20.8 93.5A95.8 95.8 0 0 1 -24 92.8L-21.2 81.9A84.6 84.6 0 0 0 -18.4 82.6ZM30.4 -90.8A95.8 95.8 0 0 1 33.5 -89.7L29.6 -79.3A84.6 84.6 0 0 0 26.9 -80.2Z"/><path fill="#788cac" d="M-62.9 57A84.9 84.9 0 0 1 -64.8 54.9L-55.6 47A72.8 72.8 0 0 0 -53.9 48.9ZM-93.7 -19.9A95.8 95.8 0 0 1 -93 -23.1L-82.1 -20.4A84.6 84.6 0 0 0 -82.8 -17.6ZM-0.1 -84.9A84.9 84.9 0 0 1 2.7 -84.9L2.3 -72.8A72.8 72.8 0 0 0 -0.1 -72.8Z"/><path fill="#e0c4b4" d="M-72.8 62.2A95.8 95.8 0 0 1 -74.9 59.7L-66.2 52.7A84.6 84.6 0 0 0 -64.3 55Z"/><path fill="#6c80a0" d="M-57 45.8A73.1 73.1 0 0 1 -58.5 43.9L-48.8 36.6A61 61 0 0 0 -47.5 38.2ZM-69.2 49.2A84.9 84.9 0 0 1 -70.8 46.8L-60.7 40.2A72.8 72.8 0 0 0 -59.3 42.2ZM-90.9 30.4A95.8 95.8 0 0 1 -91.8 27.3L-81.1 24.1A84.6 84.6 0 0 0 -80.2 26.8ZM-83.9 -12.7A84.9 84.9 0 0 1 -83.5 -15.5L-71.6 -13.3A72.8 72.8 0 0 0 -72 -10.9ZM23.2 -69.3A73.1 73.1 0 0 1 25.6 -68.5L21.3 -57.1A61 61 0 0 0 19.4 -57.8ZM34 -77.8A84.9 84.9 0 0 1 36.6 -76.6L31.4 -65.7A72.8 72.8 0 0 0 29.2 -66.7ZM58.9 -61.1A84.9 84.9 0 0 1 60.9 -59.1L52.3 -50.7A72.8 72.8 0 0 0 50.5 -52.4ZM81.8 -22.8A84.9 84.9 0 0 1 82.5 -20L70.7 -17.2A72.8 72.8 0 0 0 70.1 -19.6ZM82.4 -20.4A84.9 84.9 0 0 1 83.1 -17.6L71.2 -15.1A72.8 72.8 0 0 0 70.7 -17.5Z"/><path fill="#485078" d="M-75.7 38.5A84.9 84.9 0 0 1 -76.9 35.9L-66 30.8A72.8 72.8 0 0 0 -64.9 33ZM8.5 -72.6A73.1 73.1 0 0 1 11 -72.3L9.1 -60.3A61 61 0 0 0 7.1 -60.6ZM78.5 -32.3A84.9 84.9 0 0 1 79.6 -29.6L68.2 -25.4A72.8 72.8 0 0 0 67.3 -27.7Z"/><path fill="#904c3c" d="M-70 21.1A73.1 73.1 0 0 1 -70.7 18.7L-59 15.6A61 61 0 0 0 -58.4 17.6ZM-81.9 -22.5A84.9 84.9 0 0 1 -81 -25.3L-69.5 -21.7A72.8 72.8 0 0 0 -70.2 -19.3Z"/><path fill="#8ca0b8" d="M-83.6 14.8A84.9 84.9 0 0 1 -84.1 11.9L-72.1 10.2A72.8 72.8 0 0 0 -71.7 12.7Z"/><path fill="#94acc0" d="M-72.3 10.6A73.1 73.1 0 0 1 -72.6 8.1L-60.6 6.8A61 61 0 0 0 -60.4 8.8ZM-95.8 -0.2A95.8 95.8 0 0 1 -95.7 -3.5L-84.5 -3.1A84.6 84.6 0 0 0 -84.6 -0.2ZM-71.5 -15.2A73.1 73.1 0 0 1 -70.9 -17.6L-59.2 -14.7A61 61 0 0 0 -59.7 -12.7ZM-51.2 -81A95.8 95.8 0 0 1 -48.4 -82.7L-42.7 -73A84.6 84.6 0 0 0 -45.2 -71.5ZM19.7 -82.6A84.9 84.9 0 0 1 22.5 -81.9L19.3 -70.2A72.8 72.8 0 0 0 16.9 -70.8ZM40.8 -74.5A84.9 84.9 0 0 1 43.3 -73.1L37.1 -62.6A72.8 72.8 0 0 0 35 -63.9ZM92.3 -25.7A95.8 95.8 0 0 1 93.1 -22.6L82.2 -19.9A84.6 84.6 0 0 0 81.5 -22.7Z"/><path fill="#98b0c8" d="M-84.9 2.3A84.9 84.9 0 0 1 -84.9 -0.6L-72.8 -0.5A72.8 72.8 0 0 0 -72.8 2Z"/><path fill="#d0a090" d="M-93.1 -22.7A95.8 95.8 0 0 1 -92.3 -25.8L-81.5 -22.8A84.6 84.6 0 0 0 -82.2 -20Z"/><path fill="#74281c" d="M-89.8 -33.5A95.8 95.8 0 0 1 -88.6 -36.5L-78.2 -32.2A84.6 84.6 0 0 0 -79.3 -29.6Z"/><path fill="#7c94b0" d="M-77.6 -34.3A84.9 84.9 0 0 1 -76.4 -36.9L-65.5 -31.7A72.8 72.8 0 0 0 -66.6 -29.4ZM-55.3 -47.8A73.1 73.1 0 0 1 -53.7 -49.6L-44.8 -41.4A61 61 0 0 0 -46.2 -39.8ZM-72.5 -62.6A95.8 95.8 0 0 1 -70.4 -65L-62.1 -57.4A84.6 84.6 0 0 0 -64.1 -55.3Z"/><path fill="#9c5c50" d="M-87.6 -38.7A95.8 95.8 0 0 1 -86.3 -41.7L-76.2 -36.8A84.6 84.6 0 0 0 -77.4 -34.2Z"/><path fill="#dcb4a0" d="M-86.4 -41.3A95.8 95.8 0 0 1 -85 -44.2L-75 -39A84.6 84.6 0 0 0 -76.3 -36.5ZM-17.2 -71A73.1 73.1 0 0 1 -14.8 -71.6L-12.4 -59.7A61 61 0 0 0 -14.4 -59.3Z"/><path fill="#a4c0d0" d="M-50.9 -52.5A73.1 73.1 0 0 1 -49.1 -54.2L-41 -45.2A61 61 0 0 0 -42.5 -43.8ZM-49.3 -53.9A73.1 73.1 0 0 1 -47.5 -55.6L-39.6 -46.4A61 61 0 0 0 -41.2 -45ZM-37.2 -62.9A73.1 73.1 0 0 1 -35 -64.2L-29.2 -53.5A61 61 0 0 0 -31 -52.5ZM17.3 -83.1A84.9 84.9 0 0 1 20.1 -82.5L17.2 -70.7A72.8 72.8 0 0 0 14.8 -71.3Z"/><path fill="#a0b8cc" d="M-46.1 -56.8A73.1 73.1 0 0 1 -44.1 -58.3L-36.8 -48.6A61 61 0 0 0 -38.4 -47.4Z"/><path fill="#a0bcd0" d="M-44.4 -58.1A73.1 73.1 0 0 1 -42.4 -59.6L-35.3 -49.7A61 61 0 0 0 -37 -48.5ZM-21.4 -69.9A73.1 73.1 0 0 1 -19 -70.6L-15.9 -58.9A61 61 0 0 0 -17.9 -58.3ZM-13 -71.9A73.1 73.1 0 0 1 -10.6 -72.3L-8.8 -60.4A61 61 0 0 0 -10.9 -60ZM35.1 -64.1A73.1 73.1 0 0 1 37.3 -62.9L31.1 -52.5A61 61 0 0 0 29.3 -53.5Z"/><path fill="#a8c8d8" d="M-58.1 -76.1A95.8 95.8 0 0 1 -55.5 -78.1L-49 -68.9A84.6 84.6 0 0 0 -51.3 -67.2ZM-55.9 -77.8A95.8 95.8 0 0 1 -53.2 -79.7L-47 -70.4A84.6 84.6 0 0 0 -49.3 -68.7ZM-53.5 -79.4A95.8 95.8 0 0 1 -50.8 -81.2L-44.9 -71.7A84.6 84.6 0 0 0 -47.3 -70.2ZM22.2 -82A84.9 84.9 0 0 1 24.9 -81.2L21.4 -69.6A72.8 72.8 0 0 0 19 -70.3ZM24.6 -81.3A84.9 84.9 0 0 1 27.3 -80.4L23.4 -68.9A72.8 72.8 0 0 0 21.1 -69.7Z"/><path fill="#a4c0d4" d="M-42.6 -59.4A73.1 73.1 0 0 1 -40.6 -60.8L-33.9 -50.7A61 61 0 0 0 -35.6 -49.6Z"/><path fill="#90a8bc" d="M-40.8 -60.6A73.1 73.1 0 0 1 -38.8 -62L-32.3 -51.7A61 61 0 0 0 -34.1 -50.6ZM-34.3 -77.7A84.9 84.9 0 0 1 -31.6 -78.8L-27.1 -67.6A72.8 72.8 0 0 0 -29.4 -66.6ZM-38.7 -87.6A95.8 95.8 0 0 1 -35.7 -88.9L-31.5 -78.5A84.6 84.6 0 0 0 -34.2 -77.4Z"/><path fill="#94b0c4" d="M-31.5 -66A73.1 73.1 0 0 1 -29.2 -67L-24.4 -55.9A61 61 0 0 0 -26.3 -55.1ZM-36.6 -76.6A84.9 84.9 0 0 1 -33.9 -77.8L-29.1 -66.7A72.8 72.8 0 0 0 -31.3 -65.7Z"/><path fill="#a0bccc" d="M-15.1 -71.5A73.1 73.1 0 0 1 -12.7 -72L-10.6 -60.1A61 61 0 0 0 -12.6 -59.7Z"/><path fill="#505880" d="M-0.1 -73.1A73.1 73.1 0 0 1 2.4 -73.1L2 -61A61 61 0 0 0 -0.1 -61ZM47.5 -55.5A73.1 73.1 0 0 1 49.4 -53.9L41.2 -45A61 61 0 0 0 39.7 -46.4Z"/><path fill="#889cb4" d="M14.8 -83.6A84.9 84.9 0 0 1 17.7 -83L15.1 -71.2A72.8 72.8 0 0 0 12.7 -71.7Z"/><path fill="#404c74" d="M86.3 -41.6A95.8 95.8 0 0 1 87.7 -38.7L77.4 -34.1A84.6 84.6 0 0 0 76.2 -36.7Z"/></g>
<path class="dash" d="M95.4 1.4A95.5 95.5 0 0 1 92.2 24.8L59.2 15.9A61.4 61.4 0 0 0 61.3 0.9ZM91.4 27.5A95.5 95.5 0 0 1 69.8 65.2L44.8 41.9A61.4 61.4 0 0 0 58.7 17.7ZM67.8 67.2A95.5 95.5 0 0 1 21.1 93.1L13.5 59.8A61.4 61.4 0 0 0 43.6 43.2ZM18.3 93.7A95.5 95.5 0 0 1 -69.1 65.9L-44.4 42.3A61.4 61.4 0 0 0 11.8 60.2ZM-71 63.8A95.5 95.5 0 1 1 93.8 -17.8L60.3 -11.4A61.4 61.4 0 1 0 -45.6 41Z"/>
<g class="den"><path d="M58.8 1.5L55.7 1.4M58.7 3.1L55.7 3M55.7 1.4A55.7 55.7 0 0 1 55.7 3M58.6 4.8L55.1 4.5M58.4 6.5L54.9 6.1M55.1 4.5A55.3 55.3 0 0 1 54.9 6.1M55 5.3L54.2 5.2M58.2 8.1L53.9 7.5M54.2 5.2A54.4 54.4 0 0 1 53.9 7.5M55.7 2.2L52.3 2M54.1 6.4L52 6.1M52.3 2A52.4 52.4 0 0 1 52 6.1M57.7 11.4L54.4 10.8M57.3 13.1L54.1 12.3M54.4 10.8A55.5 55.5 0 0 1 54.1 12.3M54.3 11.6L52.9 11.3M56.9 14.7L52.4 13.5M52.9 11.3A54.1 54.1 0 0 1 52.4 13.5M58 9.8L52.4 8.9M52.7 12.4L51.8 12.2M52.4 8.9A53.2 53.2 0 0 1 51.8 12.2M52.2 4.1L49.5 3.9M52.1 10.5L48.7 9.8M49.5 3.9A49.6 49.6 0 0 1 48.7 9.8" stroke="#2b3560"/><path d="M55 20.8L52.5 19.8M54.4 22.4L51.9 21.3M52.5 19.8A56.1 56.1 0 0 1 51.9 21.3M55.6 19.2L52.2 18M52.2 20.6L51.4 20.3M52.2 18A55.2 55.2 0 0 1 51.4 20.3M53.7 24L51.4 22.9M53 25.5L50.7 24.4M51.4 22.9A56.2 56.2 0 0 1 50.7 24.4M51 23.7L50.3 23.3M52.2 27L49.2 25.5M50.3 23.3A55.5 55.5 0 0 1 49.2 25.5M49.8 24.4L49 24M51.4 28.6L47.7 26.5M49 24A54.6 54.6 0 0 1 47.7 26.5M51.8 19.1L50 18.5M48.4 25.3L47.3 24.7M50 18.5A53.3 53.3 0 0 1 47.3 24.7M49.6 31.5L47.5 30.1M48.7 33L46.6 31.5M47.5 30.1A56.2 56.2 0 0 1 46.6 31.5M50.5 30.1L47.5 28.2M47 30.8L46.2 30.3M47.5 28.2A55.2 55.2 0 0 1 46.2 30.3M48.8 21.6L47.6 21.1M46.8 29.3L44.2 27.6M47.6 21.1A52.1 52.1 0 0 1 44.2 27.6M47.7 34.4L45.7 32.9M46.7 35.7L44.7 34.2M45.7 32.9A56.3 56.3 0 0 1 44.7 34.2M44.5 38.4L42.5 36.7M43.4 39.7L41.4 37.9M42.5 36.7A56.2 56.2 0 0 1 41.4 37.9M45.6 37.1L42.8 34.8M42 37.3L41.2 36.6M42.8 34.8A55.1 55.1 0 0 1 41.2 36.6M45.2 33.5L43.3 32.2M42 35.7L41.1 34.9M43.3 32.2A53.9 53.9 0 0 1 41.1 34.9M46 24.4L44 23.4M42.2 33.6L39 31M44 23.4A49.8 49.8 0 0 1 39 31M56.1 17.5L47.3 14.8M41.7 27.3L41.4 27.1M47.3 14.8A49.5 49.5 0 0 1 41.4 27.1" stroke="#7fd6d6"/><path d="M41.3 41.8L39.6 40M40.1 43L38.4 41.1M39.6 40A56.3 56.3 0 0 1 38.4 41.1M37.6 45.2L36 43.3M36.3 46.3L34.7 44.3M36 43.3A56.3 56.3 0 0 1 34.7 44.3M38.9 44.1L36.7 41.6M35.4 43.8L34.9 43.2M36.7 41.6A55.5 55.5 0 0 1 34.9 43.2M34.9 47.3L33.7 45.6M33.5 48.3L32.3 46.6M33.7 45.6A56.7 56.7 0 0 1 32.3 46.6M33 46.1L32.4 45.3M32.1 49.2L30.4 46.6M32.4 45.3A55.7 55.7 0 0 1 30.4 46.6M30.7 50.1L29.3 47.9M29.2 51L27.9 48.7M29.3 47.9A56.2 56.2 0 0 1 27.9 48.7M31.4 46L30.8 45.1M28.6 48.3L27.8 47M30.8 45.1A54.6 54.6 0 0 1 27.8 47M27.8 51.8L26.7 49.8M26.3 52.6L25.2 50.5M26.7 49.8A56.5 56.5 0 0 1 25.2 50.5M24.7 53.3L23.7 51.2M23.2 54L22.3 51.9M23.7 51.2A56.5 56.5 0 0 1 22.3 51.9M23 51.6L22.7 50.9M21.6 54.7L20.5 51.9M22.7 50.9A55.8 55.8 0 0 1 20.5 51.9M25.9 50.2L25.1 48.5M21.6 51.4L21.2 50.4M25.1 48.5A54.6 54.6 0 0 1 21.2 50.4M29.3 46L28.4 44.6M23.2 49.5L22.4 47.9M28.4 44.6A52.9 52.9 0 0 1 22.4 47.9M35.8 42.4L33.4 39.6M25.5 46.4L24.9 45.3M33.4 39.6A51.7 51.7 0 0 1 24.9 45.3M15.2 56.8L14.6 54.5M13.6 57.2L13 54.9M14.6 54.5A56.4 56.4 0 0 1 13 54.9M16.8 56.3L15.9 53.3M13.8 54.7L13.6 53.9M15.9 53.3A55.6 55.6 0 0 1 13.6 53.9M18.4 55.8L17.3 52.3M14.8 53.6L14.6 53.1M17.3 52.3A55.1 55.1 0 0 1 14.6 53.1M20 55.3L18.6 51.4M15.9 52.7L15.8 52.4M18.6 51.4A54.7 54.7 0 0 1 15.8 52.4M29.3 42.7L28.4 41.3M17.3 51.9L15.8 47.6M28.4 41.3A50.1 50.1 0 0 1 15.8 47.6M39 40.6L34.3 35.7M22.3 44.9L22 44.4M34.3 35.7A49.5 49.5 0 0 1 22 44.4" stroke="#d6a28c"/><path d="M10.7 57.8L10.3 55.9M8.9 58.1L8.6 56.2M10.3 55.9A56.8 56.8 0 0 1 8.6 56.2M9.5 56.1L9.4 55.5M7.2 58.4L6.9 55.8M9.4 55.5A56.3 56.3 0 0 1 6.9 55.8M5.5 58.5L5.3 56.4M3.7 58.7L3.6 56.6M5.3 56.4A56.7 56.7 0 0 1 3.6 56.6M-1.5 58.8L-1.5 56.8M-3.3 58.7L-3.1 56.7M-1.5 56.8A56.8 56.8 0 0 1 -3.1 56.7M0.2 58.8L0.2 56.3M-2.3 56.8L-2.3 56.2M0.2 56.3A56.3 56.3 0 0 1 -2.3 56.2M-1 56.3L-1 56M-5 58.6L-4.8 55.8M-1 56A56 56 0 0 1 -4.8 55.8M2 58.8L1.9 55.5M-2.9 55.9L-2.9 55.4M1.9 55.5A55.5 55.5 0 0 1 -2.9 55.4M-6.7 58.4L-6.5 56.2M-8.5 58.2L-8.1 55.9M-6.5 56.2A56.5 56.5 0 0 1 -8.1 55.9M-0.5 55.5L-0.5 55.1M-7.3 56.1L-7.1 54.7M-0.5 55.1A55.1 55.1 0 0 1 -7.1 54.7M-11.9 57.6L-11.5 55.6M-13.6 57.2L-13.2 55.3M-11.5 55.6A56.8 56.8 0 0 1 -13.2 55.3M-10.2 57.9L-9.8 55.5M-12.3 55.5L-12.2 55M-9.8 55.5A56.3 56.3 0 0 1 -12.2 55M-3.8 55L-3.8 54.2M-11 55.2L-10.6 53.3M-3.8 54.2A54.3 54.3 0 0 1 -10.6 53.3M-17 56.3L-16.3 54.1M-18.7 55.8L-17.9 53.6M-16.3 54.1A56.5 56.5 0 0 1 -17.9 53.6M-15.3 56.8L-14.6 54.3M-17.1 53.9L-17.1 53.6M-14.6 54.3A56.2 56.2 0 0 1 -17.1 53.6M-20.3 55.2L-19.7 53.4M-21.9 54.6L-21.2 52.8M-19.7 53.4A56.9 56.9 0 0 1 -21.2 52.8M-15.9 54L-15.7 53.6M-20.5 53.1L-20.1 52.1M-15.7 53.6A55.8 55.8 0 0 1 -20.1 52.1M-7.2 53.8L-7 52.4M-17.9 52.9L-17 50.1M-7 52.4A52.9 52.9 0 0 1 -17 50.1M-23.6 53.9L-22.8 52.1M-25.1 53.2L-24.3 51.4M-22.8 52.1A56.9 56.9 0 0 1 -24.3 51.4M-23.5 51.8L-23.3 51.3M-26.7 52.4L-25.6 50.2M-23.3 51.3A56.3 56.3 0 0 1 -25.6 50.2M-28.3 51.6L-27.4 50M-29.8 50.7L-28.9 49.2M-27.4 50A57 57 0 0 1 -28.9 49.2M-24.5 50.7L-24 49.9M-28.1 49.6L-27.3 48.2M-24 49.9A55.4 55.4 0 0 1 -27.3 48.2M-25.7 49L-25.6 48.8M-31.3 49.8L-29.3 46.6M-25.6 48.8A55.1 55.1 0 0 1 -29.3 46.6M-34.2 47.9L-33 46.2M-35.6 46.8L-34.3 45.2M-33 46.2A56.8 56.8 0 0 1 -34.3 45.2M-32.7 48.8L-31.2 46.6M-33.7 45.7L-33.3 45.2M-31.2 46.6A56.1 56.1 0 0 1 -33.3 45.2M-37 45.7L-35.6 44.1M-38.3 44.6L-36.9 43M-35.6 44.1A56.7 56.7 0 0 1 -36.9 43M-32.3 45.9L-31.9 45.3M-36.3 43.6L-35.5 42.6M-31.9 45.3A55.4 55.4 0 0 1 -35.5 42.6M-27.4 47.7L-26.8 46.6M-33.7 44L-32.7 42.7M-26.8 46.6A53.8 53.8 0 0 1 -32.7 42.7M-12.1 51.5L-11.7 49.9M-29.8 44.7L-28.4 42.6M-11.7 49.9A51.2 51.2 0 0 1 -28.4 42.6M-39.6 43.5L-38.4 42.1M-40.9 42.3L-39.6 40.9M-38.4 42.1A56.9 56.9 0 0 1 -39.6 40.9M-20.4 47L-20.1 46.4M-39 41.5L-34.6 36.9M-20.1 46.4A50.6 50.6 0 0 1 -34.6 36.9M4.4 56.5L3.9 50.1M-27.8 42.3L-27.6 42M3.9 50.1A50.2 50.2 0 0 1 -27.6 42M-12.5 48.6L-12.4 48.4M-42.1 41L-35.8 34.8M-12.4 48.4A49.9 49.9 0 0 1 -35.8 34.8M8.1 55.7L7.2 49.1M-25 43.2L-24.9 42.9M7.2 49.1A49.6 49.6 0 0 1 -24.9 42.9" stroke="#f49a62"/><path d="M-44.1 38.8L-42.8 37.7M-45.3 37.5L-43.9 36.4M-42.8 37.7A57 57 0 0 1 -43.9 36.4M-47.4 34.8L-46.3 34M-48.4 33.4L-47.3 32.6M-46.3 34A57.4 57.4 0 0 1 -47.3 32.6M-46.4 36.2L-45 35.1M-46.8 33.3L-46.5 33.1M-45 35.1A57.1 57.1 0 0 1 -46.5 33.1M-43.4 37L-43.1 36.8M-45.8 34.1L-45.5 33.9M-43.1 36.8A56.7 56.7 0 0 1 -45.5 33.9M-49.4 31.9L-48.3 31.2M-50.3 30.5L-49.2 29.8M-48.3 31.2A57.5 57.5 0 0 1 -49.2 29.8M-51.2 29L-49.8 28.2M-52 27.4L-50.7 26.7M-49.8 28.2A57.3 57.3 0 0 1 -50.7 26.7M-50.3 27.5L-50 27.3M-52.8 25.9L-51.2 25.1M-50 27.3A57 57 0 0 1 -51.2 25.1M-48.8 30.5L-47.8 29.9M-50.6 26.2L-50.1 26M-47.8 29.9A56.4 56.4 0 0 1 -50.1 26M-44.3 35.4L-43.9 35M-49 28L-48.8 27.8M-43.9 35A56.1 56.1 0 0 1 -48.8 27.8M-54.2 22.7L-52.9 22.2M-54.9 21.1L-53.5 20.6M-52.9 22.2A57.3 57.3 0 0 1 -53.5 20.6M-53.5 24.3L-51.7 23.5M-53.2 21.4L-52.7 21.2M-51.7 23.5A56.8 56.8 0 0 1 -52.7 21.2M-46.5 31.5L-46.2 31.4M-52.2 22.3L-51.3 22M-46.2 31.4A55.8 55.8 0 0 1 -51.3 22M-56 17.8L-54.4 17.3M-56.5 16.2L-54.9 15.7M-54.4 17.3A57.1 57.1 0 0 1 -54.9 15.7M-55.5 19.5L-53.6 18.8M-54.7 16.5L-54.4 16.4M-53.6 18.8A56.8 56.8 0 0 1 -54.4 16.4M-57.4 12.8L-55.7 12.4M-57.7 11.1L-56 10.8M-55.7 12.4A57 57 0 0 1 -56 10.8M-57 14.5L-55 14M-55.8 11.6L-55.5 11.5M-55 14A56.7 56.7 0 0 1 -55.5 11.5M-55.3 12.7L-55 12.7M-58 9.4L-55.7 9M-55 12.7A56.4 56.4 0 0 1 -55.7 9M-58.3 7.7L-56.6 7.4M-58.5 5.9L-56.8 5.8M-56.6 7.4A57.1 57.1 0 0 1 -56.8 5.8M-56.7 6.6L-56.4 6.6M-58.6 4.2L-56.6 4.1M-56.4 6.6A56.8 56.8 0 0 1 -56.6 4.1M-56.5 5.3L-56.2 5.3M-58.7 2.5L-56.4 2.4M-56.2 5.3A56.5 56.5 0 0 1 -56.4 2.4M-56.3 3.8L-56 3.8M-58.8 0.7L-56.1 0.7M-56 3.8A56.2 56.2 0 0 1 -56.1 0.7M-55.4 10.8L-54.8 10.7M-56.1 2.2L-55.8 2.2M-54.8 10.7A55.9 55.9 0 0 1 -55.8 2.2M-54 17.6L-52.8 17.2M-55.5 6.5L-55.2 6.5M-52.8 17.2A55.6 55.6 0 0 1 -55.2 6.5M-49 26.8L-48.4 26.4M-54.3 11.9L-53.9 11.8M-48.4 26.4A55.1 55.1 0 0 1 -53.9 11.8M-58.7 -2.7L-57.4 -2.7M-58.6 -4.5L-57.3 -4.4M-57.4 -2.7A57.5 57.5 0 0 1 -57.3 -4.4M-58.8 -1L-56.9 -1M-57.4 -3.5L-56.8 -3.5M-56.9 -1A56.9 56.9 0 0 1 -56.8 -3.5M-58.3 -7.9L-56.9 -7.8M-58 -9.7L-56.7 -9.4M-56.9 -7.8A57.4 57.4 0 0 1 -56.7 -9.4M-56.8 -8.6L-56.4 -8.5M-57.7 -11.4L-56 -11M-56.4 -8.5A57.1 57.1 0 0 1 -56 -11M-58.5 -6.2L-56.4 -6M-56.2 -9.8L-55.9 -9.7M-56.4 -6A56.7 56.7 0 0 1 -55.9 -9.7M-57.3 -13.1L-55.9 -12.7M-56.9 -14.8L-55.5 -14.4M-55.9 -12.7A57.3 57.3 0 0 1 -55.5 -14.4M-56.2 -7.9L-55.9 -7.8M-55.7 -13.6L-54.8 -13.3M-55.9 -7.8A56.4 56.4 0 0 1 -54.8 -13.3M-56.9 -2.2L-56.1 -2.2M-55.4 -10.6L-55.1 -10.5M-56.1 -2.2A56.1 56.1 0 0 1 -55.1 -10.5M-55.4 -19.7L-54.2 -19.3M-54.8 -21.4L-53.6 -20.9M-54.2 -19.3A57.5 57.5 0 0 1 -53.6 -20.9M-55.9 -18.1L-54.4 -17.6M-53.9 -20.1L-53.6 -20M-54.4 -17.6A57.2 57.2 0 0 1 -53.6 -20M-56.5 -16.4L-54.4 -15.8M-54 -18.8L-53.5 -18.6M-54.4 -15.8A56.7 56.7 0 0 1 -53.5 -18.6M-54.1 -23L-52.6 -22.3M-53.4 -24.6L-51.9 -23.9M-52.6 -22.3A57.2 57.2 0 0 1 -51.9 -23.9M-54 -17.2L-53.7 -17.1M-52.3 -23.1L-51.6 -22.8M-53.7 -17.1A56.4 56.4 0 0 1 -51.6 -22.8M-51.9 -27.7L-50.3 -26.8M-51 -29.2L-49.5 -28.3M-50.3 -26.8A57 57 0 0 1 -49.5 -28.3M-52.7 -26.1L-50.8 -25.2M-49.9 -27.6L-49.6 -27.4M-50.8 -25.2A56.7 56.7 0 0 1 -49.6 -27.4M-52.7 -20L-52.4 -19.9M-50.2 -26.3L-49.7 -26M-52.4 -19.9A56.1 56.1 0 0 1 -49.7 -26M-49.2 -32.2L-47.8 -31.2M-48.2 -33.6L-46.9 -32.6M-47.8 -31.2A57.1 57.1 0 0 1 -46.9 -32.6M-50.2 -30.7L-48.4 -29.6M-47.3 -31.9L-47.1 -31.8M-48.4 -29.6A56.8 56.8 0 0 1 -47.1 -31.8M-47.2 -35L-46.2 -34.3M-46.2 -36.4L-45.2 -35.6M-46.2 -34.3A57.5 57.5 0 0 1 -45.2 -35.6M-45.7 -34.9L-45.4 -34.7M-45.1 -37.7L-43.8 -36.7M-45.4 -34.7A57.1 57.1 0 0 1 -43.8 -36.7M-47.8 -30.7L-47.4 -30.5M-44.6 -35.7L-44 -35.2M-47.4 -30.5A56.4 56.4 0 0 1 -44 -35.2M-51.1 -23L-50.9 -22.9M-45.8 -32.9L-45.3 -32.5M-50.9 -22.9A55.8 55.8 0 0 1 -45.3 -32.5M-55.7 -6.4L-54.6 -6.3M-48.3 -27.9L-47.7 -27.5M-54.6 -6.3A55 55 0 0 1 -47.7 -27.5M-43.9 -39.1L-43 -38.2M-42.8 -40.3L-41.9 -39.5M-43 -38.2A57.5 57.5 0 0 1 -41.9 -39.5M-41.6 -41.6L-40.4 -40.4M-40.3 -42.8L-39.2 -41.6M-40.4 -40.4A57.1 57.1 0 0 1 -39.2 -41.6M-39.8 -41L-39.6 -40.8M-39 -44L-37.7 -42.5M-39.6 -40.8A56.8 56.8 0 0 1 -37.7 -42.5M-42.4 -38.9L-41.7 -38.2M-38.6 -41.6L-38.4 -41.4M-41.7 -38.2A56.5 56.5 0 0 1 -38.4 -41.4M-37.7 -45.1L-36.9 -44.1M-36.4 -46.2L-35.5 -45.2M-36.9 -44.1A57.5 57.5 0 0 1 -35.5 -45.2M-40.1 -39.8L-39.9 -39.6M-36.2 -44.6L-35.4 -43.7M-39.9 -39.6A56.2 56.2 0 0 1 -35.4 -43.7M-35 -47.3L-34 -45.9M-33.6 -48.3L-32.6 -46.8M-34 -45.9A57.1 57.1 0 0 1 -32.6 -46.8M-32.1 -49.2L-31.3 -47.9M-30.7 -50.2L-29.9 -48.8M-31.3 -47.9A57.2 57.2 0 0 1 -29.9 -48.8M-33.3 -46.4L-33.1 -46.1M-30.6 -48.4L-30.3 -48M-33.1 -46.1A56.8 56.8 0 0 1 -30.3 -48M-29.2 -51.1L-28.3 -49.5M-27.6 -51.9L-26.8 -50.3M-28.3 -49.5A57 57 0 0 1 -26.8 -50.3M-27.5 -49.9L-27.4 -49.6M-26.1 -52.7L-25.2 -50.8M-27.4 -49.6A56.7 56.7 0 0 1 -25.2 -50.8M-31.7 -47.1L-31.5 -46.8M-26.3 -50.2L-26.1 -50M-31.5 -46.8A56.4 56.4 0 0 1 -26.1 -50M-37.7 -41.7L-37.5 -41.5M-28.9 -48.4L-28.6 -48M-37.5 -41.5A55.9 55.9 0 0 1 -28.6 -48M-24.5 -53.4L-23.8 -51.9M-22.9 -54.1L-22.3 -52.6M-23.8 -51.9A57.2 57.2 0 0 1 -22.3 -52.6M-19.7 -55.4L-19.3 -54.2M-18.1 -56L-17.7 -54.7M-19.3 -54.2A57.5 57.5 0 0 1 -17.7 -54.7M-21.3 -54.8L-20.7 -53.3M-18.5 -54.4L-18.4 -54.2M-20.7 -53.3A57.2 57.2 0 0 1 -18.4 -54.2M-23.1 -52.3L-23 -52M-19.6 -53.7L-19.4 -53.4M-23 -52A56.9 56.9 0 0 1 -19.4 -53.4M-16.4 -56.5L-16 -55.2M-14.7 -56.9L-14.4 -55.6M-16 -55.2A57.4 57.4 0 0 1 -14.4 -55.6M-15.2 -55.4L-15.1 -55.1M-13 -57.3L-12.7 -55.7M-15.1 -55.1A57.1 57.1 0 0 1 -12.7 -55.7M-11.3 -57.7L-11 -56.2M-9.6 -58L-9.4 -56.5M-11 -56.2A57.3 57.3 0 0 1 -9.4 -56.5M-10.2 -56.4L-10.1 -56M-7.9 -58.3L-7.6 -56.4M-10.1 -56A56.9 56.9 0 0 1 -7.6 -56.4M-2.7 -58.7L-2.6 -57.1M-1 -58.8L-0.9 -57.2M-2.6 -57.1A57.2 57.2 0 0 1 -0.9 -57.2M-4.4 -58.6L-4.3 -56.7M-1.8 -57.2L-1.8 -56.9M-4.3 -56.7A56.9 56.9 0 0 1 -1.8 -56.9M-6.2 -58.5L-5.9 -56.3M-3 -56.8L-3 -56.5M-5.9 -56.3A56.6 56.6 0 0 1 -3 -56.5M-8.9 -56.2L-8.8 -55.6M-4.5 -56.4L-4.5 -56.1M-8.8 -55.6A56.3 56.3 0 0 1 -4.5 -56.1M0.8 -58.8L0.7 -57.1M2.5 -58.7L2.4 -57.1M0.7 -57.1A57.2 57.2 0 0 1 2.4 -57.1M7.7 -58.3L7.5 -56.7M9.4 -58L9.2 -56.4M7.5 -56.7A57.2 57.2 0 0 1 9.2 -56.4M6 -58.5L5.8 -56.6M8.3 -56.5L8.3 -56.2M5.8 -56.6A56.9 56.9 0 0 1 8.3 -56.2M7 -56.4L7 -56.1M11.1 -57.7L10.7 -55.5M7 -56.1A56.6 56.6 0 0 1 10.7 -55.5M4.2 -58.6L4.1 -56.1M8.9 -55.9L8.8 -55.6M4.1 -56.1A56.3 56.3 0 0 1 8.8 -55.6M1.6 -57.1L1.6 -55.9M6.4 -55.9L6.4 -55.6M1.6 -55.9A56 56 0 0 1 6.4 -55.6M-6.6 -55.9L-6.6 -55.3M4 -55.8L4 -55.5M-6.6 -55.3A55.7 55.7 0 0 1 4 -55.5M-13.9 -55.4L-13.4 -53.6M-1.3 -55.6L-1.3 -55.3M-13.4 -53.6A55.3 55.3 0 0 1 -1.3 -55.3M-21.2 -52.8L-20.5 -51M-7.4 -54.8L-7.4 -54.5M-20.5 -51A55 55 0 0 1 -7.4 -54.5M12.8 -57.4L12.5 -55.8M14.5 -57L14.1 -55.4M12.5 -55.8A57.1 57.1 0 0 1 14.1 -55.4M-14 -53.1L-14 -52.9M13.3 -55.6L12.7 -53.2M-14 -52.9A54.7 54.7 0 0 1 12.7 -53.2M-33.2 -45L-32.2 -43.6M-0.6 -54.7L-0.6 -54.1M-32.2 -43.6A54.1 54.1 0 0 1 -0.6 -54.1M16.2 -56.5L15.8 -55.1M17.9 -56L17.4 -54.6M15.8 -55.1A57.3 57.3 0 0 1 17.4 -54.6M-17.2 -51.3L-17.1 -50.8M16.6 -54.9L15.5 -51.3M-17.1 -50.8A53.6 53.6 0 0 1 15.5 -51.3M-52.2 -17.2L-49.6 -16.3M-0.8 -53.5L-0.8 -52.2M-49.6 -16.3A52.2 52.2 0 0 1 -0.8 -52.2M19.5 -55.5L19 -54M21.1 -54.9L20.6 -53.5M19 -54A57.3 57.3 0 0 1 20.6 -53.5M19.8 -53.8L19.7 -53.5M22.8 -54.2L22 -52.5M19.7 -53.5A57 57 0 0 1 22 -52.5M-30.9 -42.1L-30.7 -41.8M20.9 -53L19 -48.3M-30.7 -41.8A51.9 51.9 0 0 1 19 -48.3M24.3 -53.5L23.7 -52.1M25.9 -52.8L25.2 -51.4M23.7 -52.1A57.3 57.3 0 0 1 25.2 -51.4M24.5 -51.8L24.4 -51.5M27.5 -52L26.6 -50.4M24.4 -51.5A57 57 0 0 1 26.6 -50.4M25.5 -51L25.4 -50.7M29 -51.2L27.9 -49.3M25.4 -50.7A56.7 56.7 0 0 1 27.9 -49.3M-6.7 -51.5L-6.6 -51.2M26.7 -50L24.3 -45.5M-6.6 -51.2A51.6 51.6 0 0 1 24.3 -45.5M30.5 -50.3L29.8 -49.1M32 -49.4L31.2 -48.2M29.8 -49.1A57.4 57.4 0 0 1 31.2 -48.2M36.2 -46.3L35.4 -45.3M37.6 -45.2L36.7 -44.2M35.4 -45.3A57.4 57.4 0 0 1 36.7 -44.2M34.8 -47.4L33.6 -45.7M36 -44.7L35.6 -44.2M33.6 -45.7A56.8 56.8 0 0 1 35.6 -44.2M38.9 -44.1L37.9 -43M40.2 -42.9L39.2 -41.9M37.9 -43A57.4 57.4 0 0 1 39.2 -41.9M38.6 -42.5L38.4 -42.3M41.4 -41.7L40.2 -40.5M38.4 -42.3A57.1 57.1 0 0 1 40.2 -40.5M34.6 -45L34.4 -44.8M39.3 -41.4L38.9 -41M34.4 -44.8A56.5 56.5 0 0 1 38.9 -41M33.4 -48.4L31.9 -46.2M36.7 -42.9L36.5 -42.7M31.9 -46.2A56.2 56.2 0 0 1 36.5 -42.7M42.6 -40.5L41.6 -39.5M43.8 -39.2L42.8 -38.3M41.6 -39.5A57.4 57.4 0 0 1 42.8 -38.3M45 -37.9L43.7 -36.8M46.1 -36.6L44.8 -35.5M43.7 -36.8A57.2 57.2 0 0 1 44.8 -35.5M48.1 -33.8L46.6 -32.7M49.1 -32.3L47.6 -31.3M46.6 -32.7A57 57 0 0 1 47.6 -31.3M47.1 -35.2L45.4 -33.9M47.1 -32L46.9 -31.9M45.4 -33.9A56.7 56.7 0 0 1 46.9 -31.9M46.1 -32.9L45.9 -32.7M50 -30.9L48 -29.6M45.9 -32.7A56.4 56.4 0 0 1 48 -29.6M51.8 -27.9L50.3 -27M52.6 -26.3L51 -25.5M50.3 -27A57.1 57.1 0 0 1 51 -25.5M50.9 -29.4L49.2 -28.4M50.6 -26.3L50.4 -26.2M49.2 -28.4A56.8 56.8 0 0 1 50.4 -26.2M53.3 -24.8L51.7 -24M54 -23.2L52.4 -22.4M51.7 -24A57 57 0 0 1 52.4 -22.4M52 -23.2L51.7 -23.1M54.7 -21.6L52.7 -20.8M51.7 -23.1A56.7 56.7 0 0 1 52.7 -20.8M52.2 -21.9L52 -21.8M55.3 -19.9L53 -19.1M52 -21.8A56.4 56.4 0 0 1 53 -19.1M49.8 -27.3L49.2 -26.9M52.5 -20.5L52.2 -20.4M49.2 -26.9A56.1 56.1 0 0 1 52.2 -20.4M47 -31.2L46.5 -30.8M50.8 -23.7L50.5 -23.6M46.5 -30.8A55.8 55.8 0 0 1 50.5 -23.6M48.6 -27.3L48.4 -27.1M55.9 -18.3L52.7 -17.3M48.4 -27.1A55.5 55.5 0 0 1 52.7 -17.3M56.4 -16.6L54.7 -16.1M56.9 -15L55.2 -14.5M54.7 -16.1A57.1 57.1 0 0 1 55.2 -14.5M57.3 -13.3L56 -13M57.7 -11.6L56.4 -11.3M56 -13A57.5 57.5 0 0 1 56.4 -11.3M55 -15.3L54.7 -15.2M56.2 -12.1L55.5 -12M54.7 -15.2A56.8 56.8 0 0 1 55.5 -12M50.8 -22.3L50.5 -22.2M55.1 -13.6L53.6 -13.2M50.5 -22.2A55.2 55.2 0 0 1 53.6 -13.2M44.2 -36.2L42.5 -34.7M52.2 -17.8L51.9 -17.7M42.5 -34.7A54.9 54.9 0 0 1 51.9 -17.7M42.2 -38.9L40.1 -37M48 -26.6L47.7 -26.5M40.1 -37A54.6 54.6 0 0 1 47.7 -26.5M34.3 -44.5L33.1 -43M44.2 -32L44 -31.8M33.1 -43A54.3 54.3 0 0 1 44 -31.8M30.5 -48.7L28.7 -45.7M38.9 -37.8L38.7 -37.6M28.7 -45.7A54 54 0 0 1 38.7 -37.6M9.2 -50.8L9.1 -49.9M33.9 -42L31.9 -39.4M9.1 -49.9A50.7 50.7 0 0 1 31.9 -39.4M-51.6 19.3L-46.7 17.5M21.2 -46.1L20.8 -45.3M-46.7 17.5A49.8 49.8 0 0 1 20.8 -45.3" stroke="#e2508f"/></g>
<path fill="#2e3a64" d="M48.5 0.5A48.5 48.5 0 0 1 46.8 12.8L29.9 8.2A31 31 0 0 0 31 0.3Z"/>
<text class="sl" transform="rotate(8)" x="40" y="1.8" text-anchor="middle">Phylum</text>
<path fill="#a9e5e4" d="M46.5 13.8A48.5 48.5 0 0 1 35.3 33.3L22.6 21.3A31 31 0 0 0 29.7 8.8Z"/>
<text class="sl" transform="rotate(29.9)" x="40" y="1.8" text-anchor="middle">Class</text>
<path fill="#ddb19d" d="M34.6 34A48.5 48.5 0 0 1 10.5 47.4L6.7 30.3A31 31 0 0 0 22.1 21.7Z"/>
<text class="sl" transform="rotate(61)" x="40" y="1.8" text-anchor="middle">Order</text>
<path fill="#fba26c" d="M9.5 47.6A48.5 48.5 0 0 1 -35.2 33.3L-22.5 21.3A31 31 0 0 0 6.1 30.4Z"/>
<text class="sl" transform="rotate(287.6)" x="-40" y="1.8" text-anchor="middle">Family</text>
<path fill="#7a3b30" d="M-35.9 32.6A48.5 48.5 0 1 1 47.7 -8.8L30.5 -5.6A31 31 0 1 0 -23 20.8Z"/>
<text class="sl" transform="rotate(432.5)" x="-40" y="1.8" text-anchor="middle">Genus</text>
<text class="tn" transform="rotate(-7)" x="66.9" y="1.4" text-anchor="middle" fill="#222" stroke="#222">Egger</text>
<text class="tn" transform="rotate(-7)" x="78.7" y="1.4" text-anchor="middle" fill="#222" stroke="#222">WM</text>
<text class="tn" transform="rotate(-7)" x="90.2" y="1.4" text-anchor="middle" fill="#e0533d" stroke="#e0533d">IVW</text>
<text class="lt" x="138.5" y="-12.8">COPD</text>
<rect x="138.5" y="-11" width="4" height="21.5" fill="url(#lg)"/>
<path d="M138.5 -3.5h0.9M141.6 -3.5h0.9M138.5 2.6h0.9M141.6 2.6h0.9" stroke="#fff" stroke-width="0.5"/>
<text class="lv" x="144.4" y="-8.8">1</text>
<text class="lv" x="144.4" y="-2.1">0.1</text>
<text class="lv" x="144.4" y="4">0.05</text>
<text class="lv" x="144.4" y="10.5">0</text>
</g>
<g transform="translate(526.3 171)">
<g class="lab"><text transform="rotate(1.4)" x="98.9">Actinobacteria.id.400</text><text transform="rotate(3.1)" x="98.9">Cyanobacteria.id.1500</text><text transform="rotate(4.7)" x="98.9">Verrucomicrobia.id.3982</text><text transform="rotate(6.3)" x="98.9">Lentisphaerae.id.2238</text><text transform="rotate(8)" x="98.9">Bacteroidetes.id.905</text><text transform="rotate(9.6)" x="98.9" class="r">Proteobacteria.id.2375</text><text transform="rotate(11.2)" x="98.9">Euryarchaeota.id.55</text><text transform="rotate(12.9)" x="98.9">Tenericutes.id.3919</text><text transform="rotate(14.5)" x="98.9">Firmicutes.id.1672</text><text transform="rotate(17.3)" x="98.9">Coriobacteriia.id.809</text><text transform="rotate(19)" x="98.9" class="r">Verrucomicrobiae.id.4029</text><text transform="rotate(20.7)" x="98.9">Gammaproteobacteria.id.3303</text><text transform="rotate(22.4)" x="98.9">Alphaproteobacteria.id.2379</text><text transform="rotate(24)" x="98.9">Mollicutes.id.3920</text><text transform="rotate(25.7)" x="98.9">Bacilli.id.1673</text><text transform="rotate(27.4)" x="98.9">Actinobacteria.id.419</text><text transform="rotate(29.1)" x="98.9">Lentisphaeria.id.2250</text><text transform="rotate(30.7)" x="98.9">Methanobacteria.id.119</text><text transform="rotate(32.4)" x="98.9">Clostridia.id.1859</text><text transform="rotate(34.1)" x="98.9">Deltaproteobacteria.id.3087</text><text transform="rotate(35.8)" x="98.9">Bacteroidia.id.912</text><text transform="rotate(37.4)" x="98.9">Erysipelotrichia.id.2147</text><text transform="rotate(39.1)" x="98.9">Negativicutes.id.2164</text><text transform="rotate(40.8)" x="98.9">Betaproteobacteria.id.2867</text><text transform="rotate(42.5)" x="98.9">Melainabacteria.id.1589</text><text transform="rotate(45.3)" x="98.9">Bacillales.id.1674</text><text transform="rotate(47)" x="98.9">Burkholderiales.id.2874</text><text transform="rotate(48.6)" x="98.9">Actinomycetales.id.420</text><text transform="rotate(50.3)" x="98.9">Desulfovibrionales.id.3156</text><text transform="rotate(51.9)" x="98.9">Clostridiales.id.1863</text><text transform="rotate(53.6)" x="98.9">Rhodospirillales.id.2667</text><text transform="rotate(55.2)" x="98.9">MollicutesRF9.id.11579</text><text transform="rotate(56.9)" x="98.9">Bacteroidales.id.913</text><text transform="rotate(58.5)" x="98.9">Selenomonadales.id.2165</text><text transform="rotate(60.2)" x="98.9">Bifidobacteriales.id.432</text><text transform="rotate(61.8)" x="98.9">Lactobacillales.id.1800</text><text transform="rotate(63.5)" x="98.9">Victivallales.id.2254</text><text transform="rotate(65.1)" x="98.9">Gastranaerophilales.id.1591</text><text transform="rotate(66.8)" x="98.9">NB1n.id.3953</text><text transform="rotate(68.4)" x="98.9">Coriobacteriales.id.810</text><text transform="rotate(70.1)" x="98.9" class="r">Methanobacteriales.id.120</text><text transform="rotate(71.7)" x="98.9" class="r">Verrucomicrobiales.id.4030</text><text transform="rotate(73.4)" x="98.9">Pasteurellales.id.3643</text><text transform="rotate(75)" x="98.9">Enterobacteriales.id.3468</text><text transform="rotate(76.7)" x="98.9">Erysipelotrichales.id.2148</text><text transform="rotate(79.6)" x="98.9">Actinomycetaceae.id.421</text><text transform="rotate(81.3)" x="98.9">Porphyromonadaceae.id.943</text><text transform="rotate(83)" x="98.9">Alcaligenaceae.id.2875</text><text transform="rotate(84.7)" x="98.9">BacteroidalesS24.7group.id.11173</text><text transform="rotate(86.4)" x="98.9">ClostridialesvadinBB60group.id.11286</text><text transform="rotate(88.1)" x="98.9">Desulfovibrionaceae.id.3169</text><text transform="rotate(89.8)" x="98.9" class="r">Defluviitaleaceae.id.1924</text><text transform="rotate(271.5)" x="-98.9" class="e">Pasteurellaceae.id.3689</text><text transform="rotate(273.2)" x="-98.9" class="e">Bacillaceae.id.1675</text><text transform="rotate(274.9)" x="-98.9" class="e">FamilyXIII.id.1957</text><text transform="rotate(276.6)" x="-98.9" class="e">Lactobacillaceae.id.1836</text><text transform="rotate(278.3)" x="-98.9" class="e r">Clostridiaceae1.id.1869</text><text transform="rotate(280)" x="-98.9" class="e">Ruminococcaceae.id.2050</text><text transform="rotate(281.7)" x="-98.9" class="e">Prevotellaceae.id.960</text><text transform="rotate(283.4)" x="-98.9" class="e">Enterobacteriaceae.id.3469</text><text transform="rotate(285.1)" x="-98.9" class="e">unknownfamily.id.1000001214</text><text transform="rotate(286.8)" x="-98.9" class="e">Bifidobacteriaceae.id.433</text><text transform="rotate(288.5)" x="-98.9" class="e">Christensenellaceae.id.1866</text><text transform="rotate(290.2)" x="-98.9" class="e">Peptostreptococcaceae.id.2042</text><text transform="rotate(291.9)" x="-98.9" class="e">Oxalobacteraceae.id.2966</text><text transform="rotate(293.6)" x="-98.9" class="e">Erysipelotrichaceae.id.2149</text><text transform="rotate(295.3)" x="-98.9" class="e">Verrucomicrobiaceae.id.4036</text><text transform="rotate(297)" x="-98.9" class="e">Streptococcaceae.id.1850</text><text transform="rotate(298.7)" x="-98.9" class="e">FamilyXI.id.1936</text><text transform="rotate(300.4)" x="-98.9" class="e">Rhodospirillaceae.id.2717</text><text transform="rotate(302.1)" x="-98.9" class="e">Bacteroidaceae.id.917</text><text transform="rotate(303.8)" x="-98.9" class="e">Victivallaceae.id.2255</text><text transform="rotate(305.5)" x="-98.9" class="e">Methanobacteriaceae.id.121</text><text transform="rotate(307.2)" x="-98.9" class="e">Acidaminococcaceae.id.2166</text><text transform="rotate(308.9)" x="-98.9" class="e">Lachnospiraceae.id.1987</text><text transform="rotate(310.6)" x="-98.9" class="e">Peptococcaceae.id.2024</text><text transform="rotate(312.3)" x="-98.9" class="e">Veillonellaceae.id.2172</text><text transform="rotate(314)" x="-98.9" class="e">Coriobacteriaceae.id.811</text><text transform="rotate(315.7)" x="-98.9" class="e">Rikenellaceae.id.967</text><text transform="rotate(318.6)" x="-98.9" class="e">Coprococcus2.id.11302</text><text transform="rotate(320.3)" x="-98.9" class="e">ChristensenellaceaeR.7group.id.11283</text><text transform="rotate(322)" x="-98.9" class="e">Olsenella.id.822</text><text transform="rotate(323.7)" x="-98.9" class="e">Eubacteriumventriosumgroup.id.11341</text><text transform="rotate(325.4)" x="-98.9" class="e r">Tyzzerella3.id.11335</text><text transform="rotate(327.1)" x="-98.9" class="e r">Holdemania.id.2157</text><text transform="rotate(328.8)" x="-98.9" class="e">FamilyXIIIUCG001.id.11294</text><text transform="rotate(330.5)" x="-98.9" class="e">Slackia.id.825</text><text transform="rotate(332.2)" x="-98.9" class="e">Anaerostipes.id.1991</text><text transform="rotate(333.9)" x="-98.9" class="e">Roseburia.id.2012</text><text transform="rotate(335.6)" x="-98.9" class="e">Bacteroides.id.918</text><text transform="rotate(337.3)" x="-98.9" class="e">Butyrivibrio.id.1993</text><text transform="rotate(339)" x="-98.9" class="e">Allisonella.id.2174</text><text transform="rotate(340.7)" x="-98.9" class="e">RuminococcaceaeNK4A214group.id.11358</text><text transform="rotate(342.4)" x="-98.9" class="e">RuminococcaceaeUCG013.id.11370</text><text transform="rotate(344.1)" x="-98.9" class="e">Sutterella.id.2896</text><text transform="rotate(345.7)" x="-98.9" class="e">Faecalibacterium.id.2057</text><text transform="rotate(347.4)" x="-98.9" class="e">LachnospiraceaeUCG003.id.11323</text><text transform="rotate(349.1)" x="-98.9" class="e">Methanobrevibacter.id.123</text><text transform="rotate(350.8)" x="-98.9" class="e">ErysipelotrichaceaeUCG003.id.11384</text><text transform="rotate(352.5)" x="-98.9" class="e">EscherichiaShigella.id.3504</text><text transform="rotate(354.2)" x="-98.9" class="e">Lactobacillus.id.1837</text><text transform="rotate(355.9)" x="-98.9" class="e">Clostridiumsensustricto1.id.1873</text><text transform="rotate(357.6)" x="-98.9" class="e">Intestinibacter.id.11345</text><text transform="rotate(359.3)" x="-98.9" class="e">RuminococcaceaeUCG014.id.11371</text><text transform="rotate(361)" x="-98.9" class="e">Clostridiuminnocuumgroup.id.14397</text><text transform="rotate(362.7)" x="-98.9" class="e">LachnospiraceaeND3007group.id.11317</text><text transform="rotate(364.4)" x="-98.9" class="e">Oxalobacter.id.2978</text><text transform="rotate(366.1)" x="-98.9" class="e">Veillonella.id.2198</text><text transform="rotate(367.8)" x="-98.9" class="e">RuminococcaceaeUCG002.id.11360</text><text transform="rotate(369.5)" x="-98.9" class="e">Flavonifractor.id.2059</text><text transform="rotate(371.1)" x="-98.9" class="e">Anaerotruncus.id.2054</text><text transform="rotate(372.8)" x="-98.9" class="e">unknowngenus.id.1000000073</text><text transform="rotate(374.5)" x="-98.9" class="e">Enterorhabdus.id.820</text><text transform="rotate(376.2)" x="-98.9" class="e r">Eubacteriumeligensgroup.id.14372</text><text transform="rotate(377.9)" x="-98.9" class="e">Ruminococcus2.id.11374</text><text transform="rotate(379.6)" x="-98.9" class="e">Odoribacter.id.952</text><text transform="rotate(381.3)" x="-98.9" class="e">Prevotella9.id.11183</text><text transform="rotate(383)" x="-98.9" class="e">Turicibacter.id.2162</text><text transform="rotate(384.7)" x="-98.9" class="e">Howardella.id.2000</text><text transform="rotate(386.4)" x="-98.9" class="e">RikenellaceaeRC9gutgroup.id.11191</text><text transform="rotate(388.1)" x="-98.9" class="e">Marvinbryantia.id.2005</text><text transform="rotate(389.8)" x="-98.9" class="e">Erysipelatoclostridium.id.11381</text><text transform="rotate(391.5)" x="-98.9" class="e r">RuminococcaceaeUCG.id.2050</text><text transform="rotate(393.2)" x="-98.9" class="e r">Fusicatenibacter.id.11305</text><text transform="rotate(394.9)" x="-98.9" class="e">RuminococcaceaeUCG005.id.11363</text><text transform="rotate(396.6)" x="-98.9" class="e">Coprococcus3.id.11303</text><text transform="rotate(398.2)" x="-98.9" class="e">unknowngenus.id.1000005472</text><text transform="rotate(399.9)" x="-98.9" class="e">Eggerthella.id.819</text><text transform="rotate(401.6)" x="-98.9" class="e">Eubacteriumfissicatenagroup.id.14373</text><text transform="rotate(403.3)" x="-98.9" class="e">Blautia.id.1992</text><text transform="rotate(405)" x="-98.9" class="e">unknowngenus.id.2755</text><text transform="rotate(406.7)" x="-98.9" class="e">Eubacteriumnodatumgroup.id.11297</text><text transform="rotate(408.4)" x="-98.9" class="e">CandidatusSoleaferrea.id.11350</text><text transform="rotate(410.1)" x="-98.9" class="e">Ruminococcus1.id.11373</text><text transform="rotate(411.8)" x="-98.9" class="e">LachnospiraceaeNC2004group.id.11316</text><text transform="rotate(413.5)" x="-98.9" class="e">Eubacteriumbrachygroup.id.11296</text><text transform="rotate(415.2)" x="-98.9" class="e">Butyricimonas.id.945</text><text transform="rotate(416.9)" x="-98.9" class="e">Lachnoclostridium.id.11308</text><text transform="rotate(418.6)" x="-98.9" class="e">Bifidobacterium.id.436</text><text transform="rotate(420.3)" x="-98.9" class="e">Ruminiclostridium6.id.11356</text><text transform="rotate(422)" x="-98.9" class="e">Coprococcus1.id.11301</text><text transform="rotate(423.6)" x="-98.9" class="e">Hungatella.id.11306</text><text transform="rotate(425.3)" x="-98.9" class="e">LachnospiraceaeUCG010.id.11330</text><text transform="rotate(427)" x="-98.9" class="e">Ruminococcusgnavusgroup.id.14376</text><text transform="rotate(428.7)" x="-98.9" class="e">unknowngenus.id.2041</text><text transform="rotate(430.4)" x="-98.9" class="e">Dialister.id.2183</text><text transform="rotate(432.1)" x="-98.9" class="e">LachnospiraceaeUCG008.id.11328</text><text transform="rotate(433.8)" x="-98.9" class="e">unknowngenus.id.959</text><text transform="rotate(435.5)" x="-98.9" class="e">Eubacteriumcoprostanoligenesgroup.id.11375</text><text transform="rotate(437.2)" x="-98.9" class="e">LachnospiraceaeFCS020group.id.11314</text><text transform="rotate(438.9)" x="-98.9" class="e">LachnospiraceaeUCG001.id.11321</text><text transform="rotate(440.6)" x="-98.9" class="e">Oscillibacter.id.2063</text><text transform="rotate(442.3)" x="-98.9" class="e">Gordonibacter.id.821</text><text transform="rotate(444)" x="-98.9" class="e">RuminococcaceaeUCG010.id.11367</text><text transform="rotate(445.7)" x="-98.9" class="e">Ruminiclostridium9.id.11357</text><text transform="rotate(447.4)" x="-98.9" class="e">Collinsella.id.815</text><text transform="rotate(449.1)" x="-98.9" class="e">Terrisporobacter.id.11348</text><text transform="rotate(270.7)" x="98.9">Dorea.id.1997</text><text transform="rotate(272.4)" x="98.9">DefluviitaleaceaeUCG011.id.11287</text><text transform="rotate(274.1)" x="98.9">Oscillospira.id.2064</text><text transform="rotate(275.8)" x="98.9">Ruminiclostridium5.id.11355</text><text transform="rotate(277.5)" x="98.9">Actinomyces.id.423</text><text transform="rotate(279.2)" x="98.9">Peptococcus.id.2037</text><text transform="rotate(280.9)" x="98.9">Romboutsia.id.11347</text><text transform="rotate(282.6)" x="98.9">Senegalimassilia.id.11160</text><text transform="rotate(284.3)" x="98.9">Sellimonas.id.14369</text><text transform="rotate(286)" x="98.9">Eubacteriumruminantiumgroup.id.11340</text><text transform="rotate(287.7)" x="98.9">unknowngenus.id.826</text><text transform="rotate(289.4)" x="98.9">Anaerofilum.id.2053</text><text transform="rotate(291.1)" x="98.9">RuminococcaceaeUCG003.id.11361</text><text transform="rotate(292.8)" x="98.9">RuminococcaceaeUCG004.id.11362</text><text transform="rotate(294.5)" x="98.9">Catenibacterium.id.2153</text><text transform="rotate(296.2)" x="98.9">LachnospiraceaeUCG004.id.11324</text><text transform="rotate(297.8)" x="98.9">Eubacteriumhalliigroup.id.11338</text><text transform="rotate(299.5)" x="98.9">Alistipes.id.968</text><text transform="rotate(301.2)" x="98.9">Eubacteriumxylanophilumgroup.id.14375</text><text transform="rotate(302.9)" x="98.9">CandidatusSoleaferrea.id.11350</text><text transform="rotate(304.6)" x="98.9">unknowngenus.id.1868</text><text transform="rotate(306.3)" x="98.9">unknowngenus.id.1000001214</text><text transform="rotate(308)" x="98.9">Intestinimonas.id.2062</text><text transform="rotate(309.7)" x="98.9">Eisenbergiella.id.11304</text><text transform="rotate(311.4)" x="98.9">Phascolarctobacterium.id.2168</text><text transform="rotate(313.1)" x="98.9">Victivallis.id.2256</text><text transform="rotate(314.8)" x="98.9">LachnospiraceaeNK4A136group.id.11319</text><text transform="rotate(316.5)" x="98.9">Paraprevotella.id.962</text><text transform="rotate(318.2)" x="98.9">Lactococcus.id.1851</text><text transform="rotate(319.9)" x="98.9">Barnesiella.id.944</text><text transform="rotate(321.6)" x="98.9">Ruminococcusgauvreauiigroup.id.11342</text><text transform="rotate(323.2)" x="98.9">unknowngenus.id.2071</text><text transform="rotate(324.9)" x="98.9">Streptococcus.id.1853</text><text transform="rotate(326.6)" x="98.9">RuminococcaceaeUCG011.id.11368</text><text transform="rotate(328.3)" x="98.9">Coprobacter.id.949</text><text transform="rotate(330)" x="98.9">Haemophilus.id.3698</text><text transform="rotate(331.7)" x="98.9">RuminococcaceaeUCG009.id.11366</text><text transform="rotate(333.4)" x="98.9">Eubacteriumoxidoreducensgroup.id.11339</text><text transform="rotate(335.1)" x="98.9">Parasutterella.id.2892</text><text transform="rotate(336.8)" x="98.9">Eubacteriumrectalegroup.id.14374</text><text transform="rotate(338.5)" x="98.9">FamilyXIIIAD3011group.id.11293</text><text transform="rotate(340.2)" x="98.9">Subdoligranulum.id.2070</text><text transform="rotate(341.9)" x="98.9">Adlercreutzia.id.812</text><text transform="rotate(343.6)" x="98.9">Butyricicoccus.id.2055</text><text transform="rotate(345.3)" x="98.9">Bilophila.id.3170</text><text transform="rotate(347)" x="98.9">Lachnospira.id.2004</text><text transform="rotate(348.7)" x="98.9">Desulfovibrio.id.3173</text></g>
<path fill="#8296b2" d="M95.8 1A95.8 95.8 0 0 1 92.4 25.3L58.8 16.1A61 61 0 0 0 61 0.6ZM91.9 27.2A95.8 95.8 0 0 1 69.7 65.7L44.4 41.8A61 61 0 0 0 58.5 17.3ZM68.3 67.1A95.8 95.8 0 0 1 20.7 93.5L13.2 59.6A61 61 0 0 0 43.5 42.8ZM18.8 93.9A95.8 95.8 0 0 1 -69.6 65.8L-44.3 41.9A61 61 0 0 0 12 59.8ZM-71 64.4A95.8 95.8 0 1 1 94.2 -17.5L60 -11.1A61 61 0 1 0 -45.2 41Z"/>
<g><path fill="#6c80a0" d="M73.1 0.8A73.1 73.1 0 0 1 73 3.2L60.9 2.6A61 61 0 0 0 61 0.6ZM83 47.8A95.8 95.8 0 0 1 81.4 50.5L71.9 44.6A84.6 84.6 0 0 0 73.3 42.2ZM1.6 84.9A84.9 84.9 0 0 1 -1.3 84.9L-1.1 72.8A72.8 72.8 0 0 0 1.4 72.8ZM-34.4 89.4A95.8 95.8 0 0 1 -37.4 88.2L-33.1 77.9A84.6 84.6 0 0 0 -30.4 79ZM-58.1 61.9A84.9 84.9 0 0 1 -60.2 59.9L-51.6 51.3A72.8 72.8 0 0 0 -49.8 53.1ZM-29.5 -66.9A73.1 73.1 0 0 1 -27.2 -67.8L-22.7 -56.6A61 61 0 0 0 -24.6 -55.8ZM-28.1 -91.6A95.8 95.8 0 0 1 -24.9 -92.5L-22 -81.7A84.6 84.6 0 0 0 -24.8 -80.9ZM-0.2 -95.8A95.8 95.8 0 0 1 3.1 -95.8L2.7 -84.6A84.6 84.6 0 0 0 -0.1 -84.6ZM12.8 -72A73.1 73.1 0 0 1 15.2 -71.5L12.7 -59.7A61 61 0 0 0 10.7 -60.1ZM29.3 -79.7A84.9 84.9 0 0 1 32 -78.6L27.5 -67.4A72.8 72.8 0 0 0 25.2 -68.3ZM35.1 -64.1A73.1 73.1 0 0 1 37.3 -62.9L31.1 -52.5A61 61 0 0 0 29.3 -53.5ZM50.9 -81.2A95.8 95.8 0 0 1 53.6 -79.4L47.3 -70.1A84.6 84.6 0 0 0 44.9 -71.7Z"/><path fill="#586488" d="M84.9 0.9A84.9 84.9 0 0 1 84.8 3.7L72.7 3.2A72.8 72.8 0 0 0 72.8 0.8ZM37.3 62.9A73.1 73.1 0 0 1 35.2 64.1L29.3 53.5A61 61 0 0 0 31.1 52.5ZM-0.9 84.9A84.9 84.9 0 0 1 -3.8 84.8L-3.3 72.7A72.8 72.8 0 0 0 -0.8 72.8ZM-37.4 76.2A84.9 84.9 0 0 1 -40 74.9L-34.3 64.2A72.8 72.8 0 0 0 -32.1 65.3ZM-46.2 71.2A84.9 84.9 0 0 1 -48.6 69.6L-41.7 59.7A72.8 72.8 0 0 0 -39.6 61.1ZM-63.1 36.9A73.1 73.1 0 0 1 -64.3 34.8L-53.7 29A61 61 0 0 0 -52.6 30.8ZM-45.3 -71.8A84.9 84.9 0 0 1 -42.9 -73.3L-36.8 -62.8A72.8 72.8 0 0 0 -38.9 -61.6ZM12.4 -84A84.9 84.9 0 0 1 15.2 -83.5L13 -71.6A72.8 72.8 0 0 0 10.6 -72Z"/><path fill="#58688c" d="M95.8 1A95.8 95.8 0 0 1 95.7 4.2L84.5 3.7A84.6 84.6 0 0 0 84.6 0.9ZM41.2 74.3A84.9 84.9 0 0 1 38.7 75.6L33.2 64.8A72.8 72.8 0 0 0 35.3 63.7ZM-23.3 81.6A84.9 84.9 0 0 1 -26.1 80.8L-22.4 69.3A72.8 72.8 0 0 0 -20 70ZM-66.2 53.2A84.9 84.9 0 0 1 -67.9 50.9L-58.2 43.7A72.8 72.8 0 0 0 -56.7 45.6ZM-58.3 44.1A73.1 73.1 0 0 1 -59.8 42.1L-49.9 35.1A61 61 0 0 0 -48.6 36.8ZM-69.3 23.2A73.1 73.1 0 0 1 -70.1 20.8L-58.5 17.4A61 61 0 0 0 -57.9 19.3ZM-57.3 -62.7A84.9 84.9 0 0 1 -55.1 -64.6L-47.3 -55.4A72.8 72.8 0 0 0 -49.1 -53.7ZM-3 -95.8A95.8 95.8 0 0 1 0.3 -95.8L0.2 -84.6A84.6 84.6 0 0 0 -2.6 -84.6ZM9.9 -84.3A84.9 84.9 0 0 1 12.7 -83.9L10.9 -72A72.8 72.8 0 0 0 8.5 -72.3ZM14.8 -83.6A84.9 84.9 0 0 1 17.7 -83L15.1 -71.2A72.8 72.8 0 0 0 12.7 -71.7ZM86.3 -41.6A95.8 95.8 0 0 1 87.7 -38.7L77.4 -34.1A84.6 84.6 0 0 0 76.2 -36.7ZM89.6 -33.8A95.8 95.8 0 0 1 90.7 -30.7L80.1 -27.1A84.6 84.6 0 0 0 79.2 -29.9Z"/><path fill="#788cac" d="M73 2.8A73.1 73.1 0 0 1 72.9 5.2L60.8 4.4A61 61 0 0 0 61 2.4ZM-3 73A73.1 73.1 0 0 1 -5.5 72.9L-4.5 60.8A61 61 0 0 0 -2.5 60.9ZM-13.7 71.8A73.1 73.1 0 0 1 -16.2 71.3L-13.5 59.5A61 61 0 0 0 -11.5 59.9ZM27 -80.5A84.9 84.9 0 0 1 29.7 -79.5L25.5 -68.2A72.8 72.8 0 0 0 23.1 -69ZM69.8 -21.7A73.1 73.1 0 0 1 70.5 -19.3L58.8 -16.1A61 61 0 0 0 58.2 -18.1Z"/><path fill="#5c688c" d="M84.8 3.3A84.9 84.9 0 0 1 84.7 6.1L72.6 5.2A72.8 72.8 0 0 0 72.7 2.8ZM42.6 59.4A73.1 73.1 0 0 1 40.6 60.8L33.8 50.7A61 61 0 0 0 35.5 49.6ZM48.8 82.4A95.8 95.8 0 0 1 46.1 84L40.7 74.2A84.6 84.6 0 0 0 43.1 72.8ZM29.8 66.8A73.1 73.1 0 0 1 27.6 67.7L23 56.5A61 61 0 0 0 24.9 55.7ZM-16 83.4A84.9 84.9 0 0 1 -18.8 82.8L-16.1 71A72.8 72.8 0 0 0 -13.7 71.5ZM-36.1 63.6A73.1 73.1 0 0 1 -38.2 62.3L-31.9 52A61 61 0 0 0 -30.1 53.1ZM-67.7 51.2A84.9 84.9 0 0 1 -69.4 48.9L-59.5 41.9A72.8 72.8 0 0 0 -58 43.9ZM-62 38.8A73.1 73.1 0 0 1 -63.2 36.7L-52.8 30.6A61 61 0 0 0 -51.7 32.4ZM-67 29.2A73.1 73.1 0 0 1 -68 26.9L-56.7 22.5A61 61 0 0 0 -55.9 24.4ZM-53.5 -65.9A84.9 84.9 0 0 1 -51.2 -67.7L-43.9 -58.1A72.8 72.8 0 0 0 -45.9 -56.5ZM-58.1 -76.1A95.8 95.8 0 0 1 -55.5 -78.1L-49 -68.9A84.6 84.6 0 0 0 -51.3 -67.2ZM-35.3 -64A73.1 73.1 0 0 1 -33.1 -65.2L-27.6 -54.4A61 61 0 0 0 -29.5 -53.4ZM-0.1 -84.9A84.9 84.9 0 0 1 2.7 -84.9L2.3 -72.8A72.8 72.8 0 0 0 -0.1 -72.8ZM14.9 -71.6A73.1 73.1 0 0 1 17.3 -71L14.4 -59.3A61 61 0 0 0 12.4 -59.7ZM17 -71.1A73.1 73.1 0 0 1 19.4 -70.5L16.2 -58.8A61 61 0 0 0 14.2 -59.3ZM24.6 -81.3A84.9 84.9 0 0 1 27.3 -80.4L23.4 -68.9A72.8 72.8 0 0 0 21.1 -69.7ZM47.2 -70.6A84.9 84.9 0 0 1 49.6 -68.9L42.5 -59.1A72.8 72.8 0 0 0 40.5 -60.5Z"/><path fill="#607090" d="M95.7 3.7A95.8 95.8 0 0 1 95.6 6.9L84.4 6.1A84.6 84.6 0 0 0 84.5 3.3ZM40.8 60.6A73.1 73.1 0 0 1 38.8 62L32.4 51.7A61 61 0 0 0 34.1 50.6ZM-64.6 55.1A84.9 84.9 0 0 1 -66.4 52.9L-56.9 45.4A72.8 72.8 0 0 0 -55.4 47.3ZM-37.2 -62.9A73.1 73.1 0 0 1 -35 -64.2L-29.2 -53.5A61 61 0 0 0 -31 -52.5ZM-27.3 -80.4A84.9 84.9 0 0 1 -24.5 -81.3L-21 -69.7A72.8 72.8 0 0 0 -23.4 -68.9ZM-19.3 -70.5A73.1 73.1 0 0 1 -16.9 -71.1L-14.1 -59.3A61 61 0 0 0 -16.1 -58.8ZM-13 -71.9A73.1 73.1 0 0 1 -10.6 -72.3L-8.8 -60.4A61 61 0 0 0 -10.9 -60ZM80.8 -51.5A95.8 95.8 0 0 1 82.5 -48.7L72.8 -43A84.6 84.6 0 0 0 71.3 -45.5Z"/><path fill="#8ca4bc" d="M72.9 4.9A73.1 73.1 0 0 1 72.7 7.3L60.7 6.1A61 61 0 0 0 60.9 4.1ZM83 17.7A84.9 84.9 0 0 1 82.4 20.4L70.7 17.5A72.8 72.8 0 0 0 71.2 15.2ZM61.1 40.1A73.1 73.1 0 0 1 59.8 42.1L49.9 35.1A61 61 0 0 0 51 33.4ZM78.5 54.8A95.8 95.8 0 0 1 76.7 57.5L67.7 50.7A84.6 84.6 0 0 0 69.4 48.4ZM57.4 45.3A73.1 73.1 0 0 1 55.8 47.2L46.6 39.4A61 61 0 0 0 47.9 37.8ZM19.9 70.3A73.1 73.1 0 0 1 17.6 71L14.7 59.2A61 61 0 0 0 16.6 58.7ZM14.3 71.7A73.1 73.1 0 0 1 11.9 72.1L9.9 60.2A61 61 0 0 0 12 59.8ZM-76.4 57.8A95.8 95.8 0 0 1 -78.3 55.2L-69.2 48.7A84.6 84.6 0 0 0 -67.5 51.1ZM-77.8 33.9A84.9 84.9 0 0 1 -78.9 31.3L-67.7 26.8A72.8 72.8 0 0 0 -66.7 29.1ZM-84.9 -0.2A84.9 84.9 0 0 1 -84.8 -3.1L-72.8 -2.6A72.8 72.8 0 0 0 -72.8 -0.2ZM-84.7 -5.2A84.9 84.9 0 0 1 -84.5 -8.1L-72.5 -6.9A72.8 72.8 0 0 0 -72.7 -4.5ZM-83.5 -15.2A84.9 84.9 0 0 1 -83 -18L-71.1 -15.4A72.8 72.8 0 0 0 -71.6 -13ZM25.3 -68.6A73.1 73.1 0 0 1 27.6 -67.7L23 -56.5A61 61 0 0 0 21.1 -57.2ZM35.8 -88.9A95.8 95.8 0 0 1 38.8 -87.6L34.2 -77.4A84.6 84.6 0 0 0 31.6 -78.5ZM57.9 -44.6A73.1 73.1 0 0 1 59.4 -42.6L49.6 -35.6A61 61 0 0 0 48.3 -37.2Z"/><path fill="#c09080" d="M84.7 5.7A84.9 84.9 0 0 1 84.5 8.5L72.4 7.3A72.8 72.8 0 0 0 72.6 4.9ZM71.9 13.2A73.1 73.1 0 0 1 71.4 15.6L59.6 13A61 61 0 0 0 60 11ZM35.4 63.9A73.1 73.1 0 0 1 33.3 65.1L27.8 54.3A61 61 0 0 0 29.6 53.4ZM27.9 67.6A73.1 73.1 0 0 1 25.6 68.5L21.4 57.1A61 61 0 0 0 23.2 56.4ZM25.5 81A84.9 84.9 0 0 1 22.8 81.8L19.5 70.1A72.8 72.8 0 0 0 21.8 69.4ZM5.7 72.9A73.1 73.1 0 0 1 3.2 73L2.7 60.9A61 61 0 0 0 4.8 60.8ZM-8.5 84.5A84.9 84.9 0 0 1 -11.3 84.1L-9.7 72.1A72.8 72.8 0 0 0 -7.3 72.4ZM-54.2 49.1A73.1 73.1 0 0 1 -55.8 47.2L-46.6 39.4A61 61 0 0 0 -45.2 41ZM-69.2 49.2A84.9 84.9 0 0 1 -70.8 46.8L-60.7 40.2A72.8 72.8 0 0 0 -59.3 42.2ZM-79.5 -29.7A84.9 84.9 0 0 1 -78.5 -32.4L-67.3 -27.7A72.8 72.8 0 0 0 -68.2 -25.5ZM-74.3 -41.1A84.9 84.9 0 0 1 -72.9 -43.6L-62.5 -37.4A72.8 72.8 0 0 0 -63.7 -35.2ZM-82.4 -48.8A95.8 95.8 0 0 1 -80.7 -51.6L-71.3 -45.5A84.6 84.6 0 0 0 -72.8 -43.1Z"/><path fill="#7080a0" d="M95.6 6.5A95.8 95.8 0 0 1 95.3 9.6L84.2 8.5A84.6 84.6 0 0 0 84.4 5.7ZM66.7 52.6A84.9 84.9 0 0 1 64.8 54.8L55.6 47A72.8 72.8 0 0 0 57.2 45.1ZM56 46.9A73.1 73.1 0 0 1 54.4 48.8L45.4 40.7A61 61 0 0 0 46.8 39.2ZM25.9 68.4A73.1 73.1 0 0 1 23.6 69.2L19.7 57.7A61 61 0 0 0 21.6 57ZM-18 94.1A95.8 95.8 0 0 1 -21.2 93.4L-18.7 82.5A84.6 84.6 0 0 0 -15.9 83.1ZM-28.1 80.1A84.9 84.9 0 0 1 -30.8 79.1L-26.5 67.8A72.8 72.8 0 0 0 -24.1 68.7ZM-59.1 75.4A95.8 95.8 0 0 1 -61.6 73.3L-54.4 64.8A84.6 84.6 0 0 0 -52.2 66.6ZM-62.9 57A84.9 84.9 0 0 1 -64.8 54.9L-55.6 47A72.8 72.8 0 0 0 -53.9 48.9ZM-70.6 47.1A84.9 84.9 0 0 1 -72.2 44.7L-61.9 38.3A72.8 72.8 0 0 0 -60.5 40.4ZM-95.4 8.3A95.8 95.8 0 0 1 -95.7 5L-84.5 4.4A84.6 84.6 0 0 0 -84.3 7.3ZM-86.4 -41.3A95.8 95.8 0 0 1 -85 -44.2L-75 -39A84.6 84.6 0 0 0 -76.3 -36.5ZM22.3 -93.2A95.8 95.8 0 0 1 25.4 -92.4L22.5 -81.6A84.6 84.6 0 0 0 19.7 -82.3ZM51.3 -67.7A84.9 84.9 0 0 1 53.5 -65.9L45.9 -56.5A72.8 72.8 0 0 0 44 -58ZM53.3 -66.1A84.9 84.9 0 0 1 55.5 -64.3L47.6 -55.1A72.8 72.8 0 0 0 45.7 -56.7ZM64.1 -55.7A84.9 84.9 0 0 1 65.9 -53.5L56.5 -45.9A72.8 72.8 0 0 0 55 -47.7Z"/><path fill="#88a0b8" d="M72.8 7A73.1 73.1 0 0 1 72.5 9.4L60.5 7.8A61 61 0 0 0 60.7 5.8ZM79.9 28.8A84.9 84.9 0 0 1 78.8 31.5L67.6 27A72.8 72.8 0 0 0 68.5 24.7ZM74.8 40.2A84.9 84.9 0 0 1 73.4 42.6L63 36.6A72.8 72.8 0 0 0 64.1 34.4ZM16.6 83.3A84.9 84.9 0 0 1 13.8 83.8L11.8 71.8A72.8 72.8 0 0 0 14.3 71.4ZM4.1 84.8A84.9 84.9 0 0 1 1.2 84.9L1.1 72.8A72.8 72.8 0 0 0 3.5 72.7ZM4.7 95.7A95.8 95.8 0 0 1 1.4 95.8L1.2 84.6A84.6 84.6 0 0 0 4.1 84.5ZM-15.9 71.4A73.1 73.1 0 0 1 -18.3 70.8L-15.3 59.1A61 61 0 0 0 -13.2 59.5ZM-20.8 93.5A95.8 95.8 0 0 1 -24 92.8L-21.2 81.9A84.6 84.6 0 0 0 -18.4 82.6ZM-63.5 71.8A95.8 95.8 0 0 1 -65.9 69.6L-58.2 61.4A84.6 84.6 0 0 0 -56 63.4ZM-71.6 14.8A73.1 73.1 0 0 1 -72 12.4L-60.1 10.4A61 61 0 0 0 -59.7 12.4ZM-73.1 -0.2A73.1 73.1 0 0 1 -73.1 -2.7L-61 -2.2A61 61 0 0 0 -61 -0.1ZM-80.4 -27.3A84.9 84.9 0 0 1 -79.4 -30L-68.1 -25.7A72.8 72.8 0 0 0 -68.9 -23.4ZM-66.9 -29.6A73.1 73.1 0 0 1 -65.8 -31.8L-54.9 -26.5A61 61 0 0 0 -55.8 -24.7ZM-73.1 -43.2A84.9 84.9 0 0 1 -71.5 -45.7L-61.4 -39.2A72.8 72.8 0 0 0 -62.6 -37.1ZM-79.4 -53.6A95.8 95.8 0 0 1 -77.5 -56.2L-68.5 -49.7A84.6 84.6 0 0 0 -70.1 -47.3ZM-55.3 -47.8A73.1 73.1 0 0 1 -53.7 -49.6L-44.8 -41.4A61 61 0 0 0 -46.2 -39.8ZM38.4 -87.8A95.8 95.8 0 0 1 41.3 -86.4L36.5 -76.3A84.6 84.6 0 0 0 33.9 -77.5ZM63.9 -35.6A73.1 73.1 0 0 1 65 -33.4L54.3 -27.9A61 61 0 0 0 53.3 -29.7ZM70.4 -19.6A73.1 73.1 0 0 1 71 -17.2L59.3 -14.4A61 61 0 0 0 58.8 -16.4Z"/><path fill="#8094b0" d="M84.5 8.1A84.9 84.9 0 0 1 84.2 10.9L72.2 9.4A72.8 72.8 0 0 0 72.5 7ZM94.2 17.3A95.8 95.8 0 0 1 93.6 20.4L82.7 18A84.6 84.6 0 0 0 83.2 15.3ZM71.5 15.2A73.1 73.1 0 0 1 71 17.6L59.2 14.7A61 61 0 0 0 59.7 12.7ZM89.1 35.1A95.8 95.8 0 0 1 87.9 38.1L77.6 33.7A84.6 84.6 0 0 0 78.7 31ZM72.3 44.5A84.9 84.9 0 0 1 70.8 46.9L60.7 40.2A72.8 72.8 0 0 0 62 38.1ZM80.1 52.5A95.8 95.8 0 0 1 78.3 55.2L69.2 48.7A84.6 84.6 0 0 0 70.7 46.4ZM17.9 70.9A73.1 73.1 0 0 1 15.8 71.4L13.2 59.6A61 61 0 0 0 14.9 59.1ZM7.9 72.7A73.1 73.1 0 0 1 5.4 72.9L4.5 60.8A61 61 0 0 0 6.6 60.6ZM-42.2 86A95.8 95.8 0 0 1 -45.1 84.5L-39.9 74.6A84.6 84.6 0 0 0 -37.3 75.9ZM-44.8 84.7A95.8 95.8 0 0 1 -47.6 83.1L-42.1 73.4A84.6 84.6 0 0 0 -39.5 74.8ZM-50 53.3A73.1 73.1 0 0 1 -51.8 51.6L-43.2 43A61 61 0 0 0 -41.8 44.5ZM-78.8 31.6A84.9 84.9 0 0 1 -79.8 28.9L-68.4 24.8A72.8 72.8 0 0 0 -67.6 27.1ZM-90.9 30.4A95.8 95.8 0 0 1 -91.8 27.3L-81.1 24.1A84.6 84.6 0 0 0 -80.2 26.8ZM-73.1 2A73.1 73.1 0 0 1 -73.1 -0.5L-61 -0.4A61 61 0 0 0 -61 1.7ZM-73.1 -2.3A73.1 73.1 0 0 1 -72.9 -4.8L-60.9 -4A61 61 0 0 0 -61 -2ZM-77.6 -34.3A84.9 84.9 0 0 1 -76.4 -36.9L-65.5 -31.7A72.8 72.8 0 0 0 -66.6 -29.4ZM47.5 -55.5A73.1 73.1 0 0 1 49.4 -53.9L41.2 -45A61 61 0 0 0 39.7 -46.4ZM60.5 -41.1A73.1 73.1 0 0 1 61.8 -39L51.6 -32.6A61 61 0 0 0 50.4 -34.3ZM69.1 -23.8A73.1 73.1 0 0 1 69.9 -21.4L58.3 -17.9A61 61 0 0 0 57.7 -19.8ZM81.8 -22.8A84.9 84.9 0 0 1 82.5 -20L70.7 -17.2A72.8 72.8 0 0 0 70.1 -19.6Z"/><path fill="#a0bcd0" d="M95.4 9.2A95.8 95.8 0 0 1 95 12.3L83.9 10.9A84.6 84.6 0 0 0 84.2 8.1ZM68.8 24.8A73.1 73.1 0 0 1 67.9 27.1L56.6 22.6A61 61 0 0 0 57.4 20.7Z"/><path fill="#8098b0" d="M72.5 9.1A73.1 73.1 0 0 1 72.2 11.5L60.2 9.6A61 61 0 0 0 60.5 7.6ZM-0.8 73.1A73.1 73.1 0 0 1 -3.3 73L-2.7 60.9A61 61 0 0 0 -0.7 61ZM-80.5 26.9A84.9 84.9 0 0 1 -81.4 24.2L-69.8 20.7A72.8 72.8 0 0 0 -69 23.1ZM-91.7 27.7A95.8 95.8 0 0 1 -92.6 24.6L-81.8 21.7A84.6 84.6 0 0 0 -81 24.4ZM-84.9 -2.7A84.9 84.9 0 0 1 -84.7 -5.6L-72.6 -4.8A72.8 72.8 0 0 0 -72.8 -2.3ZM-62.6 -57.3A84.9 84.9 0 0 1 -60.6 -59.4L-52 -51A72.8 72.8 0 0 0 -53.7 -49.2ZM53.3 -79.6A95.8 95.8 0 0 1 55.9 -77.8L49.4 -68.7A84.6 84.6 0 0 0 47 -70.3ZM67.6 -27.8A73.1 73.1 0 0 1 68.5 -25.5L57.2 -21.3A61 61 0 0 0 56.4 -23.2ZM80.3 -27.6A84.9 84.9 0 0 1 81.2 -24.9L69.6 -21.3A72.8 72.8 0 0 0 68.8 -23.7Z"/><path fill="#788ca8" d="M84.2 10.5A84.9 84.9 0 0 1 83.9 13.3L71.9 11.4A72.8 72.8 0 0 0 72.2 9ZM86.9 40.3A95.8 95.8 0 0 1 85.5 43.2L75.5 38.1A84.6 84.6 0 0 0 76.8 35.6ZM23.4 92.9A95.8 95.8 0 0 1 20.7 93.5L18.3 82.6A84.6 84.6 0 0 0 20.7 82ZM10 72.4A73.1 73.1 0 0 1 7.6 72.7L6.3 60.7A61 61 0 0 0 8.4 60.4ZM-20.1 70.3A73.1 73.1 0 0 1 -22.5 69.6L-18.7 58A61 61 0 0 0 -16.8 58.7ZM-37.1 88.3A95.8 95.8 0 0 1 -40 87L-35.4 76.9A84.6 84.6 0 0 0 -32.7 78ZM-34.2 64.6A73.1 73.1 0 0 1 -36.4 63.4L-30.3 52.9A61 61 0 0 0 -28.5 53.9ZM-52.4 66.8A84.9 84.9 0 0 1 -54.6 65L-46.8 55.7A72.8 72.8 0 0 0 -44.9 57.3ZM-72 45A84.9 84.9 0 0 1 -73.5 42.6L-63 36.5A72.8 72.8 0 0 0 -61.7 38.6ZM-79.7 29.3A84.9 84.9 0 0 1 -80.6 26.6L-69.1 22.8A72.8 72.8 0 0 0 -68.3 25.1ZM-71.1 17A73.1 73.1 0 0 1 -71.6 14.5L-59.8 12.1A61 61 0 0 0 -59.3 14.1ZM-87.6 -38.7A95.8 95.8 0 0 1 -86.3 -41.7L-76.2 -36.8A84.6 84.6 0 0 0 -77.4 -34.2ZM-64 -35.4A73.1 73.1 0 0 1 -62.7 -37.5L-52.4 -31.3A61 61 0 0 0 -53.4 -29.5ZM-74.4 -60.4A95.8 95.8 0 0 1 -72.3 -62.9L-63.8 -55.5A84.6 84.6 0 0 0 -65.7 -53.3ZM-60.9 -59.2A84.9 84.9 0 0 1 -58.9 -61.2L-50.5 -52.5A72.8 72.8 0 0 0 -52.2 -50.7ZM-15.1 -71.5A73.1 73.1 0 0 1 -12.7 -72L-10.6 -60.1A61 61 0 0 0 -12.6 -59.7ZM25 -92.5A95.8 95.8 0 0 1 28.1 -91.6L24.9 -80.9A84.6 84.6 0 0 0 22.1 -81.7ZM23.2 -69.3A73.1 73.1 0 0 1 25.6 -68.5L21.3 -57.1A61 61 0 0 0 19.4 -57.8ZM27.3 -67.8A73.1 73.1 0 0 1 29.6 -66.9L24.7 -55.8A61 61 0 0 0 22.8 -56.6ZM40.9 -86.6A95.8 95.8 0 0 1 43.9 -85.2L38.7 -75.2A84.6 84.6 0 0 0 36.2 -76.5ZM52.3 -51.1A73.1 73.1 0 0 1 54 -49.3L45 -41.2A61 61 0 0 0 43.6 -42.7ZM65.8 -31.7A73.1 73.1 0 0 1 66.9 -29.5L55.8 -24.6A61 61 0 0 0 54.9 -26.5ZM81.1 -25.2A84.9 84.9 0 0 1 81.9 -22.4L70.2 -19.2A72.8 72.8 0 0 0 69.5 -21.6Z"/><path fill="#7c90ac" d="M95.1 11.9A95.8 95.8 0 0 1 94.6 15L83.6 13.3A84.6 84.6 0 0 0 83.9 10.5ZM76.9 57.1A95.8 95.8 0 0 1 74.9 59.7L66.2 52.7A84.6 84.6 0 0 0 67.9 50.4ZM36.5 88.6A95.8 95.8 0 0 1 33.5 89.7L29.6 79.2A84.6 84.6 0 0 0 32.2 78.2ZM-47.3 83.3A95.8 95.8 0 0 1 -50.1 81.7L-44.2 72.1A84.6 84.6 0 0 0 -41.7 73.6ZM-52.1 80.4A95.8 95.8 0 0 1 -54.9 78.5L-48.4 69.4A84.6 84.6 0 0 0 -46 71ZM-56.8 77.1A95.8 95.8 0 0 1 -59.4 75.1L-52.5 66.4A84.6 84.6 0 0 0 -50.2 68.1ZM-54.3 65.2A84.9 84.9 0 0 1 -56.5 63.3L-48.5 54.3A72.8 72.8 0 0 0 -46.6 55.9ZM-55.6 47.5A73.1 73.1 0 0 1 -57.2 45.6L-47.7 38A61 61 0 0 0 -46.4 39.6ZM-95.2 11.1A95.8 95.8 0 0 1 -95.5 7.8L-84.3 6.9A84.6 84.6 0 0 0 -84 9.8ZM-95.6 5.4A95.8 95.8 0 0 1 -95.8 2.2L-84.6 1.9A84.6 84.6 0 0 0 -84.5 4.8ZM-66 -31.5A73.1 73.1 0 0 1 -64.8 -33.7L-54.1 -28.2A61 61 0 0 0 -55 -26.3ZM-85.2 -43.8A95.8 95.8 0 0 1 -83.6 -46.7L-73.9 -41.2A84.6 84.6 0 0 0 -75.2 -38.7ZM-77.8 -55.9A95.8 95.8 0 0 1 -75.9 -58.5L-67 -51.7A84.6 84.6 0 0 0 -68.7 -49.4ZM37 -63.1A73.1 73.1 0 0 1 39.1 -61.8L32.6 -51.5A61 61 0 0 0 30.9 -52.6ZM62.3 -72.8A95.8 95.8 0 0 1 64.7 -70.6L57.1 -62.4A84.6 84.6 0 0 0 55 -64.3Z"/><path fill="#7c94ac" d="M72.2 11.1A73.1 73.1 0 0 1 71.8 13.5L59.9 11.3A61 61 0 0 0 60.3 9.3ZM83.9 12.9A84.9 84.9 0 0 1 83.4 15.7L71.5 13.5A72.8 72.8 0 0 0 71.9 11.1ZM90.1 32.5A95.8 95.8 0 0 1 89 35.5L78.6 31.4A84.6 84.6 0 0 0 79.6 28.7ZM11.7 84.1A84.9 84.9 0 0 1 8.8 84.4L7.5 72.4A72.8 72.8 0 0 0 10 72.1ZM1.4 73.1A73.1 73.1 0 0 1 -1.1 73.1L-0.9 61A61 61 0 0 0 1.2 61ZM-84.1 45.9A95.8 95.8 0 0 1 -85.6 43.1L-75.6 38A84.6 84.6 0 0 0 -74.2 40.6Z"/><path fill="#9c5c50" d="M94.7 14.6A95.8 95.8 0 0 1 94.1 17.7L83.1 15.6A84.6 84.6 0 0 0 83.6 12.9ZM31.3 90.5A95.8 95.8 0 0 1 28.3 91.5L25 80.8A84.6 84.6 0 0 0 27.7 79.9ZM-72.8 6.3A73.1 73.1 0 0 1 -73 3.8L-60.9 3.2A61 61 0 0 0 -60.8 5.3Z"/><path fill="#98b0c4" d="M83.5 15.3A84.9 84.9 0 0 1 83 18.1L71.1 15.5A72.8 72.8 0 0 0 71.6 13.1Z"/><path fill="#7084a4" d="M93.7 20A95.8 95.8 0 0 1 93 23L82.1 20.3A84.6 84.6 0 0 0 82.7 17.6ZM18.8 93.9A95.8 95.8 0 0 1 15.6 94.5L13.7 83.5A84.6 84.6 0 0 0 16.6 83ZM-31.7 90.4A95.8 95.8 0 0 1 -34.8 89.3L-30.7 78.8A84.6 84.6 0 0 0 -28 79.8ZM-50.4 68.4A84.9 84.9 0 0 1 -52.7 66.6L-45.2 57.1A72.8 72.8 0 0 0 -43.2 58.6ZM49.3 -69.1A84.9 84.9 0 0 1 51.6 -67.4L44.2 -57.8A72.8 72.8 0 0 0 42.2 -59.3ZM67.3 -51.8A84.9 84.9 0 0 1 69 -49.5L59.2 -42.4A72.8 72.8 0 0 0 57.7 -44.4Z"/><path fill="#a8c8d8" d="M71 17.3A73.1 73.1 0 0 1 70.5 19.3L58.8 16.1A61 61 0 0 0 59.3 14.4ZM82.5 20.1A84.9 84.9 0 0 1 81.9 22.4L70.2 19.2A72.8 72.8 0 0 0 70.7 17.2ZM69.5 22.8A73.1 73.1 0 0 1 68.6 25.1L57.3 21A61 61 0 0 0 58 19ZM79 31.2A84.9 84.9 0 0 1 77.9 33.8L66.8 29A72.8 72.8 0 0 0 67.7 26.7ZM67.2 28.8A73.1 73.1 0 0 1 66.2 31L55.2 25.9A61 61 0 0 0 56.1 24ZM78 33.4A84.9 84.9 0 0 1 76.9 36L65.9 30.9A72.8 72.8 0 0 0 66.9 28.7ZM77 35.7A84.9 84.9 0 0 1 75.8 38.3L65 32.8A72.8 72.8 0 0 0 66 30.6ZM65.4 32.7A73.1 73.1 0 0 1 64.3 34.9L53.6 29.1A61 61 0 0 0 54.6 27.3ZM64.4 34.6A73.1 73.1 0 0 1 63.2 36.7L52.7 30.6A61 61 0 0 0 53.7 28.8ZM-74.5 40.7A84.9 84.9 0 0 1 -75.8 38.2L-65 32.7A72.8 72.8 0 0 0 -63.9 34.9ZM-83.6 14.8A84.9 84.9 0 0 1 -84.1 11.9L-72.1 10.2A72.8 72.8 0 0 0 -71.7 12.7ZM-94.3 16.7A95.8 95.8 0 0 1 -94.8 13.5L-83.8 11.9A84.6 84.6 0 0 0 -83.3 14.7ZM-84.3 9.8A84.9 84.9 0 0 1 -84.6 6.9L-72.6 6A72.8 72.8 0 0 0 -72.3 8.4ZM-95.8 -0.2A95.8 95.8 0 0 1 -95.7 -3.5L-84.5 -3.1A84.6 84.6 0 0 0 -84.6 -0.2ZM-72.3 -10.9A73.1 73.1 0 0 1 -71.9 -13.4L-60 -11.2A61 61 0 0 0 -60.3 -9.1ZM-94.7 -14.3A95.8 95.8 0 0 1 -94.2 -17.5L-83.2 -15.5A84.6 84.6 0 0 0 -83.6 -12.7ZM-71.9 -13.1A73.1 73.1 0 0 1 -71.4 -15.5L-59.6 -12.9A61 61 0 0 0 -60 -10.9ZM-94.3 -17.1A95.8 95.8 0 0 1 -93.6 -20.3L-82.7 -17.9A84.6 84.6 0 0 0 -83.2 -15.1ZM-93.7 -19.9A95.8 95.8 0 0 1 -93 -23.1L-82.1 -20.4A84.6 84.6 0 0 0 -82.8 -17.6ZM-93.1 -22.7A95.8 95.8 0 0 1 -92.3 -25.8L-81.5 -22.8A84.6 84.6 0 0 0 -82.2 -20ZM-68.9 -49.5A84.9 84.9 0 0 1 -67.2 -51.9L-57.6 -44.5A72.8 72.8 0 0 0 -59.1 -42.5ZM-58.1 -44.4A73.1 73.1 0 0 1 -56.5 -46.3L-47.2 -38.7A61 61 0 0 0 -48.5 -37ZM-67.4 -51.6A84.9 84.9 0 0 1 -65.7 -53.8L-56.3 -46.2A72.8 72.8 0 0 0 -57.8 -44.2ZM-65.9 -53.5A84.9 84.9 0 0 1 -64 -55.7L-54.9 -47.8A72.8 72.8 0 0 0 -56.5 -45.9Z"/><path fill="#9cb8cc" d="M93.1 22.6A95.8 95.8 0 0 1 92.4 25.3L81.6 22.3A84.6 84.6 0 0 0 82.2 20ZM91.9 27.2A95.8 95.8 0 0 1 90.9 30.3L80.3 26.7A84.6 84.6 0 0 0 81.1 24ZM63.4 36.4A73.1 73.1 0 0 1 62.1 38.5L51.8 32.2A61 61 0 0 0 52.9 30.4ZM62.3 38.3A73.1 73.1 0 0 1 61 40.3L50.9 33.7A61 61 0 0 0 52 31.9ZM71 46.6A84.9 84.9 0 0 1 69.4 48.9L59.5 41.9A72.8 72.8 0 0 0 60.9 39.9ZM6.6 84.6A84.9 84.9 0 0 1 3.8 84.8L3.2 72.7A72.8 72.8 0 0 0 5.7 72.6ZM-81.3 24.5A84.9 84.9 0 0 1 -82.1 21.8L-70.4 18.7A72.8 72.8 0 0 0 -69.7 21ZM-82 22.1A84.9 84.9 0 0 1 -82.7 19.3L-70.9 16.6A72.8 72.8 0 0 0 -70.3 19ZM-83.1 17.2A84.9 84.9 0 0 1 -83.7 14.4L-71.7 12.4A72.8 72.8 0 0 0 -71.3 14.8ZM-84.8 4.8A84.9 84.9 0 0 1 -84.9 1.9L-72.8 1.7A72.8 72.8 0 0 0 -72.7 4.1ZM-95.8 2.6A95.8 95.8 0 0 1 -95.8 -0.7L-84.6 -0.6A84.6 84.6 0 0 0 -84.6 2.3ZM-95.6 -5.9A95.8 95.8 0 0 1 -95.4 -9.1L-84.2 -8.1A84.6 84.6 0 0 0 -84.4 -5.2ZM-84.5 -7.7A84.9 84.9 0 0 1 -84.2 -10.6L-72.2 -9.1A72.8 72.8 0 0 0 -72.5 -6.6ZM-69.9 -21.5A73.1 73.1 0 0 1 -69.1 -23.8L-57.7 -19.9A61 61 0 0 0 -58.3 -17.9ZM-81.2 -24.9A84.9 84.9 0 0 1 -80.3 -27.7L-68.8 -23.7A72.8 72.8 0 0 0 -69.6 -21.4Z"/><path fill="#d0a090" d="M70.1 20.8A73.1 73.1 0 0 1 69.4 23.1L57.9 19.3A61 61 0 0 0 58.5 17.3ZM-79.7 53.2A95.8 95.8 0 0 1 -81.4 50.5L-71.9 44.6A84.6 84.6 0 0 0 -70.4 47Z"/><path fill="#90acc0" d="M81.4 24.1A84.9 84.9 0 0 1 80.5 26.8L69.1 23A72.8 72.8 0 0 0 69.8 20.7ZM23.9 69.1A73.1 73.1 0 0 1 21.6 69.8L18 58.3A61 61 0 0 0 20 57.6Z"/><path fill="#a0b8cc" d="M80.7 26.5A84.9 84.9 0 0 1 79.7 29.2L68.4 25A72.8 72.8 0 0 0 69.2 22.7Z"/><path fill="#702414" d="M91 29.9A95.8 95.8 0 0 1 90 32.9L79.4 29.1A84.6 84.6 0 0 0 80.4 26.4ZM-78.1 55.5A95.8 95.8 0 0 1 -79.9 52.9L-70.6 46.7A84.6 84.6 0 0 0 -68.9 49ZM-81 -51.2A95.8 95.8 0 0 1 -79.2 -53.9L-69.9 -47.6A84.6 84.6 0 0 0 -71.5 -45.2Z"/><path fill="#a0bccc" d="M68 26.8A73.1 73.1 0 0 1 67.1 29.1L56 24.3A61 61 0 0 0 56.7 22.4ZM75.9 37.9A84.9 84.9 0 0 1 74.6 40.5L64 34.7A72.8 72.8 0 0 0 65.1 32.5ZM-83.9 -12.7A84.9 84.9 0 0 1 -83.5 -15.5L-71.6 -13.3A72.8 72.8 0 0 0 -72 -10.9ZM44.2 -58.3A73.1 73.1 0 0 1 46.1 -56.7L38.5 -47.3A61 61 0 0 0 36.8 -48.6Z"/><path fill="#7488a8" d="M88.1 37.7A95.8 95.8 0 0 1 86.7 40.7L76.6 35.9A84.6 84.6 0 0 0 77.8 33.3ZM-88.9 35.7A95.8 95.8 0 0 1 -90.1 32.7L-79.5 28.8A84.6 84.6 0 0 0 -78.5 31.5ZM-65 -33.5A73.1 73.1 0 0 1 -63.8 -35.6L-53.3 -29.7A61 61 0 0 0 -54.2 -27.9ZM4.2 -73A73.1 73.1 0 0 1 6.7 -72.8L5.6 -60.7A61 61 0 0 0 3.5 -60.9ZM21.2 -70A73.1 73.1 0 0 1 23.5 -69.2L19.6 -57.8A61 61 0 0 0 17.7 -58.4ZM70.4 -64.9A95.8 95.8 0 0 1 72.6 -62.5L64.1 -55.2A84.6 84.6 0 0 0 62.2 -57.3ZM92.3 -25.7A95.8 95.8 0 0 1 93.1 -22.6L82.2 -19.9A84.6 84.6 0 0 0 81.5 -22.7Z"/><path fill="#a4c0d0" d="M66.3 30.7A73.1 73.1 0 0 1 65.2 33L54.4 27.5A61 61 0 0 0 55.3 25.7ZM-82.6 19.7A84.9 84.9 0 0 1 -83.2 16.9L-71.3 14.5A72.8 72.8 0 0 0 -70.8 16.9ZM-70.5 -19.4A73.1 73.1 0 0 1 -69.8 -21.8L-58.2 -18.2A61 61 0 0 0 -58.8 -16.2ZM-60.6 -40.9A73.1 73.1 0 0 1 -59.2 -42.9L-49.4 -35.8A61 61 0 0 0 -50.6 -34.1ZM-59.4 -42.7A73.1 73.1 0 0 1 -57.9 -44.7L-48.3 -37.3A61 61 0 0 0 -49.5 -35.6Z"/><path fill="#6c7c9c" d="M85.7 42.8A95.8 95.8 0 0 1 84.2 45.7L74.4 40.3A84.6 84.6 0 0 0 75.7 37.8ZM63.5 56.4A84.9 84.9 0 0 1 61.8 58.2L53 49.9A72.8 72.8 0 0 0 54.4 48.4ZM33.6 64.9A73.1 73.1 0 0 1 31.4 66L26.2 55.1A61 61 0 0 0 28 54.2ZM27.8 80.2A84.9 84.9 0 0 1 25.1 81.1L21.5 69.5A72.8 72.8 0 0 0 23.8 68.8ZM-22.2 69.7A73.1 73.1 0 0 1 -24.5 68.9L-20.5 57.5A61 61 0 0 0 -18.5 58.1ZM-24.2 69A73.1 73.1 0 0 1 -26.6 68.1L-22.2 56.8A61 61 0 0 0 -20.2 57.6ZM-65.6 69.8A95.8 95.8 0 0 1 -67.9 67.6L-60 59.7A84.6 84.6 0 0 0 -57.9 61.7ZM-59.9 60.1A84.9 84.9 0 0 1 -61.7 58.3L-52.9 50A72.8 72.8 0 0 0 -51.4 51.6ZM-82.7 48.4A95.8 95.8 0 0 1 -84.3 45.6L-74.4 40.2A84.6 84.6 0 0 0 -73 42.7ZM-68.7 -66.8A95.8 95.8 0 0 1 -66.4 -69L-58.6 -61A84.6 84.6 0 0 0 -60.7 -59ZM-36.6 -76.6A84.9 84.9 0 0 1 -33.9 -77.8L-29.1 -66.7A72.8 72.8 0 0 0 -31.3 -65.7ZM-24.9 -81.2A84.9 84.9 0 0 1 -22.1 -82L-19 -70.3A72.8 72.8 0 0 0 -21.3 -69.6ZM-25.3 -92.4A95.8 95.8 0 0 1 -22.2 -93.2L-19.6 -82.3A84.6 84.6 0 0 0 -22.4 -81.6ZM48.5 -82.6A95.8 95.8 0 0 1 51.2 -80.9L45.2 -71.5A84.6 84.6 0 0 0 42.8 -73ZM57.1 -62.9A84.9 84.9 0 0 1 59.2 -60.9L50.7 -52.2A72.8 72.8 0 0 0 48.9 -53.9ZM62.4 -57.6A84.9 84.9 0 0 1 64.3 -55.4L55.2 -47.5A72.8 72.8 0 0 0 53.5 -49.3ZM82.4 -20.4A84.9 84.9 0 0 1 83.1 -17.6L71.2 -15.1A72.8 72.8 0 0 0 70.7 -17.5Z"/><path fill="#7484a4" d="M84.4 45.3A95.8 95.8 0 0 1 82.8 48.1L73.2 42.5A84.6 84.6 0 0 0 74.5 40ZM-6 84.7A84.9 84.9 0 0 1 -8.8 84.4L-7.6 72.4A72.8 72.8 0 0 0 -5.1 72.6ZM-18 70.9A73.1 73.1 0 0 1 -20.4 70.2L-17 58.6A61 61 0 0 0 -15 59.1ZM-39.7 75.1A84.9 84.9 0 0 1 -42.2 73.7L-36.2 63.2A72.8 72.8 0 0 0 -34 64.4ZM66.8 -29.8A73.1 73.1 0 0 1 67.7 -27.5L56.5 -23A61 61 0 0 0 55.7 -24.9Z"/><path fill="#687898" d="M73.6 42.3A84.9 84.9 0 0 1 72.1 44.8L61.9 38.4A72.8 72.8 0 0 0 63.1 36.3ZM44.2 58.2A73.1 73.1 0 0 1 42.3 59.6L35.3 49.8A61 61 0 0 0 36.9 48.6ZM39.1 61.8A73.1 73.1 0 0 1 37 63L30.9 52.6A61 61 0 0 0 32.6 51.6ZM-1 95.8A95.8 95.8 0 0 1 -4.3 95.7L-3.8 84.5A84.6 84.6 0 0 0 -0.9 84.6ZM-5.1 72.9A73.1 73.1 0 0 1 -7.6 72.7L-6.4 60.7A61 61 0 0 0 -4.3 60.8ZM-18.4 82.9A84.9 84.9 0 0 1 -21.2 82.2L-18.2 70.5A72.8 72.8 0 0 0 -15.8 71.1ZM-48.4 54.8A73.1 73.1 0 0 1 -50.3 53.1L-41.9 44.3A61 61 0 0 0 -40.4 45.7ZM-86.6 40.9A95.8 95.8 0 0 1 -88 37.9L-77.7 33.5A84.6 84.6 0 0 0 -76.5 36.1ZM-42.6 -59.4A73.1 73.1 0 0 1 -40.6 -60.8L-33.9 -50.7A61 61 0 0 0 -35.6 -49.6ZM-2.7 -84.9A84.9 84.9 0 0 1 0.2 -84.9L0.2 -72.8A72.8 72.8 0 0 0 -2.3 -72.8ZM19.1 -70.6A73.1 73.1 0 0 1 21.5 -69.9L17.9 -58.3A61 61 0 0 0 15.9 -58.9ZM33.2 -65.1A73.1 73.1 0 0 1 35.4 -64L29.5 -53.4A61 61 0 0 0 27.7 -54.4ZM68.5 -67A95.8 95.8 0 0 1 70.7 -64.6L62.4 -57.1A84.6 84.6 0 0 0 60.5 -59.2ZM65.7 -53.8A84.9 84.9 0 0 1 67.5 -51.5L57.9 -44.2A72.8 72.8 0 0 0 56.3 -46.1ZM74.1 -60.7A95.8 95.8 0 0 1 76.2 -58.1L67.3 -51.3A84.6 84.6 0 0 0 65.5 -53.6ZM71.6 -45.6A84.9 84.9 0 0 1 73.1 -43.2L62.7 -37A72.8 72.8 0 0 0 61.4 -39.1ZM71.5 -15.4A73.1 73.1 0 0 1 71.9 -13.3L60 -11.1A61 61 0 0 0 59.6 -12.9Z"/><path fill="#849cb4" d="M81.6 50.2A95.8 95.8 0 0 1 79.9 52.9L70.5 46.7A84.6 84.6 0 0 0 72.1 44.3ZM28.7 91.4A95.8 95.8 0 0 1 25.7 92.3L22.7 81.5A84.6 84.6 0 0 0 25.4 80.7ZM9.2 84.4A84.9 84.9 0 0 1 6.3 84.7L5.4 72.6A72.8 72.8 0 0 0 7.9 72.4ZM10.3 95.2A95.8 95.8 0 0 1 7.1 95.5L6.3 84.4A84.6 84.6 0 0 0 9.1 84.1ZM7.5 95.5A95.8 95.8 0 0 1 4.2 95.7L3.7 84.5A84.6 84.6 0 0 0 6.6 84.3ZM-57 45.8A73.1 73.1 0 0 1 -58.5 43.9L-48.8 36.6A61 61 0 0 0 -47.5 38.2ZM-87.8 38.3A95.8 95.8 0 0 1 -89.1 35.3L-78.6 31.2A84.6 84.6 0 0 0 -77.5 33.8ZM-84.9 2.3A84.9 84.9 0 0 1 -84.9 -0.6L-72.8 -0.5A72.8 72.8 0 0 0 -72.8 2ZM-95.4 -8.7A95.8 95.8 0 0 1 -95.1 -11.9L-83.9 -10.6A84.6 84.6 0 0 0 -84.2 -7.7ZM-90.7 -30.8A95.8 95.8 0 0 1 -89.6 -33.9L-79.1 -29.9A84.6 84.6 0 0 0 -80.1 -27.2ZM-67.7 -27.6A73.1 73.1 0 0 1 -66.7 -29.8L-55.7 -24.9A61 61 0 0 0 -56.5 -23ZM-62.9 -37.2A73.1 73.1 0 0 1 -61.6 -39.4L-51.4 -32.8A61 61 0 0 0 -52.5 -31.1ZM50.7 -52.6A73.1 73.1 0 0 1 52.5 -50.9L43.8 -42.5A61 61 0 0 0 42.3 -43.9ZM61.6 -39.3A73.1 73.1 0 0 1 62.9 -37.2L52.5 -31A61 61 0 0 0 51.4 -32.8ZM79.4 -30A84.9 84.9 0 0 1 80.4 -27.2L68.9 -23.4A72.8 72.8 0 0 0 68.1 -25.7Z"/><path fill="#90a8bc" d="M59.9 41.9A73.1 73.1 0 0 1 58.5 43.8L48.8 36.6A61 61 0 0 0 50 34.9ZM26.1 92.2A95.8 95.8 0 0 1 23 93L20.3 82.1A84.6 84.6 0 0 0 23 81.4ZM-39.7 87.2A95.8 95.8 0 0 1 -42.6 85.8L-37.6 75.8A84.6 84.6 0 0 0 -35 77ZM-72.8 62.2A95.8 95.8 0 0 1 -74.9 59.7L-66.2 52.7A84.6 84.6 0 0 0 -64.3 55ZM-75.5 -38.9A84.9 84.9 0 0 1 -74.1 -41.4L-63.6 -35.5A72.8 72.8 0 0 0 -64.7 -33.3ZM-25.5 -68.5A73.1 73.1 0 0 1 -23.2 -69.3L-19.3 -57.9A61 61 0 0 0 -21.3 -57.2Z"/><path fill="#8498b4" d="M69.6 48.6A84.9 84.9 0 0 1 67.9 50.9L58.3 43.7A72.8 72.8 0 0 0 59.7 41.7ZM13.2 94.9A95.8 95.8 0 0 1 9.9 95.3L8.8 84.1A84.6 84.6 0 0 0 11.6 83.8ZM-61.3 73.6A95.8 95.8 0 0 1 -63.8 71.5L-56.3 63.1A84.6 84.6 0 0 0 -54.1 65ZM-76.8 36.2A84.9 84.9 0 0 1 -78 33.6L-66.9 28.8A72.8 72.8 0 0 0 -65.8 31.1ZM-89.9 33.1A95.8 95.8 0 0 1 -91 30L-80.3 26.5A84.6 84.6 0 0 0 -79.4 29.2ZM-73 -4.5A73.1 73.1 0 0 1 -72.8 -7L-60.7 -5.8A61 61 0 0 0 -60.9 -3.8ZM-76.6 -36.6A84.9 84.9 0 0 1 -75.3 -39.2L-64.6 -33.6A72.8 72.8 0 0 0 -65.7 -31.4ZM-83.8 -46.3A95.8 95.8 0 0 1 -82.2 -49.2L-72.6 -43.4A84.6 84.6 0 0 0 -74 -40.9ZM-64.3 -55.5A84.9 84.9 0 0 1 -62.4 -57.6L-53.5 -49.4A72.8 72.8 0 0 0 -55.1 -47.6ZM-21.4 -69.9A73.1 73.1 0 0 1 -19 -70.6L-15.9 -58.9A61 61 0 0 0 -17.9 -58.3ZM16.7 -94.3A95.8 95.8 0 0 1 19.9 -93.7L17.6 -82.7A84.6 84.6 0 0 0 14.8 -83.3ZM55.6 -78A95.8 95.8 0 0 1 58.2 -76.1L51.4 -67.2A84.6 84.6 0 0 0 49.1 -68.9ZM60.1 -74.6A95.8 95.8 0 0 1 62.6 -72.5L55.3 -64A84.6 84.6 0 0 0 53.1 -65.9ZM60.7 -59.4A84.9 84.9 0 0 1 62.7 -57.3L53.7 -49.1A72.8 72.8 0 0 0 52 -50.9Z"/><path fill="#889cb8" d="M58.7 43.6A73.1 73.1 0 0 1 57.2 45.5L47.7 38A61 61 0 0 0 49 36.4ZM-85.4 43.4A95.8 95.8 0 0 1 -86.8 40.5L-76.7 35.8A84.6 84.6 0 0 0 -75.4 38.4ZM-72.6 -8.8A73.1 73.1 0 0 1 -72.2 -11.3L-60.3 -9.4A61 61 0 0 0 -60.6 -7.3ZM-91.6 -28.1A95.8 95.8 0 0 1 -90.6 -31.2L-80 -27.6A84.6 84.6 0 0 0 -80.9 -24.8ZM-78.6 -32A84.9 84.9 0 0 1 -77.5 -34.7L-66.5 -29.7A72.8 72.8 0 0 0 -67.4 -27.5ZM-88.7 -36.1A95.8 95.8 0 0 1 -87.4 -39.1L-77.2 -34.5A84.6 84.6 0 0 0 -78.4 -31.9Z"/><path fill="#7488a4" d="M68.2 50.6A84.9 84.9 0 0 1 66.4 52.9L57 45.3A72.8 72.8 0 0 0 58.4 43.4ZM16 94.5A95.8 95.8 0 0 1 12.7 94.9L11.3 83.8A84.6 84.6 0 0 0 14.1 83.4ZM-29 91.3A95.8 95.8 0 0 1 -32.1 90.2L-28.4 79.7A84.6 84.6 0 0 0 -25.7 80.6ZM-51.6 51.8A73.1 73.1 0 0 1 -53.1 50.2L-44.3 41.9A61 61 0 0 0 -43.1 43.2ZM-64.1 35A73.1 73.1 0 0 1 -65.3 32.9L-54.5 27.4A61 61 0 0 0 -53.5 29.2ZM-73 4.1A73.1 73.1 0 0 1 -73.1 1.7L-61 1.4A61 61 0 0 0 -60.9 3.5ZM-70.7 -64.7A95.8 95.8 0 0 1 -68.4 -67.1L-60.4 -59.2A84.6 84.6 0 0 0 -62.4 -57.1ZM2 -73.1A73.1 73.1 0 0 1 4.5 -73L3.8 -60.9A61 61 0 0 0 1.7 -61ZM10.6 -72.3A73.1 73.1 0 0 1 13.1 -71.9L10.9 -60A61 61 0 0 0 8.9 -60.4ZM55.2 -64.5A84.9 84.9 0 0 1 57.3 -62.6L49.2 -53.7A72.8 72.8 0 0 0 47.3 -55.3ZM62.8 -37.5A73.1 73.1 0 0 1 64 -35.3L53.4 -29.5A61 61 0 0 0 52.4 -31.3Z"/><path fill="#5c6c90" d="M75.2 59.3A95.8 95.8 0 0 1 73.2 61.8L64.6 54.6A84.6 84.6 0 0 0 66.4 52.4ZM65.1 54.5A84.9 84.9 0 0 1 63.2 56.7L54.2 48.6A72.8 72.8 0 0 0 55.8 46.7ZM73.4 61.5A95.8 95.8 0 0 1 71.3 63.9L63 56.5A84.6 84.6 0 0 0 64.9 54.3ZM31.7 65.9A73.1 73.1 0 0 1 29.5 66.9L24.6 55.8A61 61 0 0 0 26.5 55ZM-30.5 79.2A84.9 84.9 0 0 1 -33.2 78.1L-28.5 67A72.8 72.8 0 0 0 -26.2 67.9ZM-81.2 50.8A95.8 95.8 0 0 1 -82.9 48L-73.2 42.4A84.6 84.6 0 0 0 -71.7 44.9ZM-67.8 27.2A73.1 73.1 0 0 1 -68.7 24.9L-57.3 20.8A61 61 0 0 0 -56.6 22.7ZM-53.9 -49.4A73.1 73.1 0 0 1 -52.2 -51.2L-43.6 -42.7A61 61 0 0 0 -45 -41.2ZM-66.7 -68.8A95.8 95.8 0 0 1 -64.3 -71L-56.8 -62.7A84.6 84.6 0 0 0 -58.9 -60.7ZM-40.8 -60.6A73.1 73.1 0 0 1 -38.8 -62L-32.3 -51.7A61 61 0 0 0 -34.1 -50.6ZM-32 -78.7A84.9 84.9 0 0 1 -29.3 -79.7L-25.1 -68.3A72.8 72.8 0 0 0 -27.4 -67.4ZM-5.8 -95.6A95.8 95.8 0 0 1 -2.6 -95.8L-2.3 -84.6A84.6 84.6 0 0 0 -5.1 -84.4ZM5.5 -95.6A95.8 95.8 0 0 1 8.7 -95.4L7.7 -84.2A84.6 84.6 0 0 0 4.9 -84.5ZM19.5 -93.8A95.8 95.8 0 0 1 22.7 -93.1L20 -82.2A84.6 84.6 0 0 0 17.2 -82.8Z"/><path fill="#505c80" d="M54.6 48.6A73.1 73.1 0 0 1 53.2 50.1L44.4 41.8A61 61 0 0 0 45.6 40.5ZM71.6 63.6A95.8 95.8 0 0 1 69.7 65.7L61.6 58A84.6 84.6 0 0 0 63.2 56.2ZM36.8 76.5A84.9 84.9 0 0 1 34.3 77.7L29.4 66.6A72.8 72.8 0 0 0 31.6 65.6ZM-28.3 67.4A73.1 73.1 0 0 1 -30.6 66.4L-25.5 55.4A61 61 0 0 0 -23.6 56.3ZM-50.9 -52.5A73.1 73.1 0 0 1 -49.1 -54.2L-41 -45.2A61 61 0 0 0 -42.5 -43.8ZM-60.4 -74.4A95.8 95.8 0 0 1 -57.8 -76.4L-51 -67.5A84.6 84.6 0 0 0 -53.3 -65.7ZM-51.5 -67.5A84.9 84.9 0 0 1 -49.2 -69.2L-42.2 -59.3A72.8 72.8 0 0 0 -44.2 -57.9ZM-53.5 -79.4A95.8 95.8 0 0 1 -50.8 -81.2L-44.9 -71.7A84.6 84.6 0 0 0 -47.3 -70.2ZM42.9 -73.2A84.9 84.9 0 0 1 45.4 -71.7L38.9 -61.5A72.8 72.8 0 0 0 36.8 -62.8ZM74.2 -41.3A84.9 84.9 0 0 1 75.5 -38.8L64.8 -33.3A72.8 72.8 0 0 0 63.6 -35.4Z"/><path fill="#4c547c" d="M52.1 51.2A73.1 73.1 0 0 1 50.4 52.9L42.1 44.2A61 61 0 0 0 43.5 42.8ZM-66.1 31.2A73.1 73.1 0 0 1 -67.1 28.9L-56 24.1A61 61 0 0 0 -55.2 26ZM-55.4 -64.3A84.9 84.9 0 0 1 -53.2 -66.2L-45.6 -56.7A72.8 72.8 0 0 0 -47.5 -55.2ZM-43.2 -73.1A84.9 84.9 0 0 1 -40.7 -74.5L-34.9 -63.9A72.8 72.8 0 0 0 -37 -62.7ZM72.3 -62.8A95.8 95.8 0 0 1 74.4 -60.3L65.7 -53.3A84.6 84.6 0 0 0 63.9 -55.5Z"/><path fill="#505c84" d="M60.6 59.5A84.9 84.9 0 0 1 58.5 61.5L50.2 52.7A72.8 72.8 0 0 0 51.9 51ZM41.5 86.3A95.8 95.8 0 0 1 38.7 87.7L34.1 77.4A84.6 84.6 0 0 0 36.7 76.2ZM30.1 79.4A84.9 84.9 0 0 1 27.4 80.3L23.5 68.9A72.8 72.8 0 0 0 25.8 68.1ZM-9.5 72.5A73.1 73.1 0 0 1 -11.9 72.1L-9.9 60.2A61 61 0 0 0 -7.9 60.5ZM-25.7 80.9A84.9 84.9 0 0 1 -28.5 80L-24.4 68.6A72.8 72.8 0 0 0 -22.1 69.4ZM-30.3 66.5A73.1 73.1 0 0 1 -32.5 65.5L-27.1 54.6A61 61 0 0 0 -25.3 55.5ZM-41.9 73.8A84.9 84.9 0 0 1 -44.4 72.4L-38.1 62.1A72.8 72.8 0 0 0 -35.9 63.3ZM-49.5 -69A84.9 84.9 0 0 1 -47.1 -70.6L-40.4 -60.6A72.8 72.8 0 0 0 -42.4 -59.1ZM-30.8 -90.7A95.8 95.8 0 0 1 -27.7 -91.7L-24.4 -81A84.6 84.6 0 0 0 -27.2 -80.1ZM-10.2 -84.3A84.9 84.9 0 0 1 -7.3 -84.6L-6.3 -72.5A72.8 72.8 0 0 0 -8.7 -72.3ZM-8.6 -95.4A95.8 95.8 0 0 1 -5.4 -95.6L-4.8 -84.5A84.6 84.6 0 0 0 -7.6 -84.3ZM-5.2 -84.7A84.9 84.9 0 0 1 -2.3 -84.9L-2 -72.8A72.8 72.8 0 0 0 -4.4 -72.7ZM8.5 -72.6A73.1 73.1 0 0 1 11 -72.3L9.1 -60.3A61 61 0 0 0 7.1 -60.6ZM90.6 -31.1A95.8 95.8 0 0 1 91.6 -28L80.9 -24.8A84.6 84.6 0 0 0 80 -27.5Z"/><path fill="#3c4470" d="M68.3 67.1A95.8 95.8 0 0 1 66.1 69.4L58.3 61.3A84.6 84.6 0 0 0 60.3 59.3ZM50.6 52.7A73.1 73.1 0 0 1 48.9 54.4L40.8 45.4A61 61 0 0 0 42.3 44ZM58.8 61.2A84.9 84.9 0 0 1 56.8 63.1L48.7 54.1A72.8 72.8 0 0 0 50.4 52.5ZM66.4 69.1A95.8 95.8 0 0 1 64 71.2L56.6 62.9A84.6 84.6 0 0 0 58.6 61ZM49.1 54.2A73.1 73.1 0 0 1 47.3 55.8L39.5 46.5A61 61 0 0 0 41 45.2ZM57 62.9A84.9 84.9 0 0 1 54.9 64.8L47.1 55.5A72.8 72.8 0 0 0 48.9 53.9ZM64.4 71A95.8 95.8 0 0 1 62 73.1L54.7 64.5A84.6 84.6 0 0 0 56.8 62.7ZM47.5 55.5A73.1 73.1 0 0 1 45.7 57.1L38.1 47.6A61 61 0 0 0 39.7 46.4ZM55.2 64.5A84.9 84.9 0 0 1 53 66.3L45.5 56.9A72.8 72.8 0 0 0 47.3 55.3ZM62.3 72.8A95.8 95.8 0 0 1 59.8 74.8L52.8 66.1A84.6 84.6 0 0 0 55 64.3ZM53.3 66.1A84.9 84.9 0 0 1 51.1 67.8L43.8 58.1A72.8 72.8 0 0 0 45.7 56.7ZM60.2 74.6A95.8 95.8 0 0 1 57.7 76.5L50.9 67.6A84.6 84.6 0 0 0 53.1 65.8ZM49.4 69A84.9 84.9 0 0 1 47.1 70.6L40.4 60.6A72.8 72.8 0 0 0 42.4 59.2ZM47.4 70.4A84.9 84.9 0 0 1 45.1 72L38.6 61.7A72.8 72.8 0 0 0 40.7 60.4ZM-9.6 95.3A95.8 95.8 0 0 1 -12.8 94.9L-11.3 83.8A84.6 84.6 0 0 0 -8.4 84.2ZM-44.4 -58.1A73.1 73.1 0 0 1 -42.4 -59.6L-35.3 -49.7A61 61 0 0 0 -37 -48.5ZM-41 -74.3A84.9 84.9 0 0 1 -38.5 -75.7L-33 -64.9A72.8 72.8 0 0 0 -35.2 -63.7ZM-46.3 -83.9A95.8 95.8 0 0 1 -43.4 -85.4L-38.3 -75.4A84.6 84.6 0 0 0 -40.9 -74.1ZM-36.1 -88.8A95.8 95.8 0 0 1 -33 -89.9L-29.2 -79.4A84.6 84.6 0 0 0 -31.9 -78.4ZM-17.1 -94.3A95.8 95.8 0 0 1 -13.9 -94.8L-12.2 -83.7A84.6 84.6 0 0 0 -15.1 -83.2ZM38.5 -75.6A84.9 84.9 0 0 1 41.1 -74.3L35.2 -63.7A72.8 72.8 0 0 0 33 -64.9ZM40.8 -74.5A84.9 84.9 0 0 1 43.3 -73.1L37.1 -62.6A72.8 72.8 0 0 0 35 -63.9Z"/><path fill="#3c4870" d="M45.9 56.9A73.1 73.1 0 0 1 44 58.4L36.7 48.7A61 61 0 0 0 38.3 47.5ZM-43.8 -85.2A95.8 95.8 0 0 1 -40.9 -86.6L-36.1 -76.5A84.6 84.6 0 0 0 -38.7 -75.2Z"/><path fill="#404874" d="M51.4 67.6A84.9 84.9 0 0 1 49.1 69.2L42.1 59.4A72.8 72.8 0 0 0 44.1 57.9ZM43.3 73A84.9 84.9 0 0 1 40.8 74.4L35 63.8A72.8 72.8 0 0 0 37.1 62.6ZM34.6 77.5A84.9 84.9 0 0 1 32 78.6L27.4 67.4A72.8 72.8 0 0 0 29.7 66.5ZM32.4 78.5A84.9 84.9 0 0 1 29.7 79.5L25.5 68.2A72.8 72.8 0 0 0 27.7 67.3ZM-45.1 57.5A73.1 73.1 0 0 1 -47 56L-39.2 46.7A61 61 0 0 0 -37.6 48ZM-62.5 -72.6A95.8 95.8 0 0 1 -60 -74.7L-53 -65.9A84.6 84.6 0 0 0 -55.2 -64.1ZM-51.2 -81A95.8 95.8 0 0 1 -48.4 -82.7L-42.7 -73A84.6 84.6 0 0 0 -45.2 -71.5ZM-11.5 -95.1A95.8 95.8 0 0 1 -8.2 -95.4L-7.3 -84.3A84.6 84.6 0 0 0 -10.1 -84ZM34 -77.8A84.9 84.9 0 0 1 36.6 -76.6L31.4 -65.7A72.8 72.8 0 0 0 29.2 -66.7Z"/><path fill="#445078" d="M58 76.3A95.8 95.8 0 0 1 55.4 78.1L48.9 69A84.6 84.6 0 0 0 51.2 67.3ZM-35.2 77.3A84.9 84.9 0 0 1 -37.8 76L-32.4 65.2A72.8 72.8 0 0 0 -30.1 66.3ZM-41.6 60.1A73.1 73.1 0 0 1 -43.6 58.7L-36.4 49A61 61 0 0 0 -34.7 50.2ZM-47.7 -55.4A73.1 73.1 0 0 1 -45.8 -57L-38.2 -47.5A61 61 0 0 0 -39.8 -46.2ZM77.6 -56.2A95.8 95.8 0 0 1 79.5 -53.5L70.2 -47.3A84.6 84.6 0 0 0 68.5 -49.6Z"/><path fill="#58648c" d="M55.8 77.9A95.8 95.8 0 0 1 53.2 79.7L46.9 70.4A84.6 84.6 0 0 0 49.2 68.8ZM53.5 79.5A95.8 95.8 0 0 1 50.8 81.2L44.9 71.7A84.6 84.6 0 0 0 47.2 70.2ZM43.5 -85.4A95.8 95.8 0 0 1 46.4 -83.8L40.9 -74A84.6 84.6 0 0 0 38.4 -75.4ZM83.7 -46.6A95.8 95.8 0 0 1 85.2 -43.8L75.3 -38.7A84.6 84.6 0 0 0 73.9 -41.2Z"/><path fill="#485078" d="M45.4 71.8A84.9 84.9 0 0 1 43 73.2L36.8 62.8A72.8 72.8 0 0 0 38.9 61.5Z"/><path fill="#647498" d="M51.2 81A95.8 95.8 0 0 1 48.5 82.6L42.8 73A84.6 84.6 0 0 0 45.2 71.5ZM-65.2 33.1A73.1 73.1 0 0 1 -66.2 30.9L-55.3 25.8A61 61 0 0 0 -54.4 27.7ZM-6.6 -72.8A73.1 73.1 0 0 1 -4.1 -73L-3.4 -60.9A61 61 0 0 0 -5.5 -60.8ZM-2.3 -73.1A73.1 73.1 0 0 1 0.2 -73.1L0.2 -61A61 61 0 0 0 -1.9 -61ZM2.4 -84.9A84.9 84.9 0 0 1 5.2 -84.7L4.5 -72.7A72.8 72.8 0 0 0 2 -72.8ZM11.1 -95.2A95.8 95.8 0 0 1 14.4 -94.7L12.7 -83.6A84.6 84.6 0 0 0 9.8 -84Z"/><path fill="#647494" d="M46.4 83.8A95.8 95.8 0 0 1 43.6 85.3L38.5 75.3A84.6 84.6 0 0 0 41 74ZM44 85.1A95.8 95.8 0 0 1 41.2 86.5L36.4 76.4A84.6 84.6 0 0 0 38.9 75.1ZM-26.3 68.2A73.1 73.1 0 0 1 -28.6 67.3L-23.8 56.1A61 61 0 0 0 -21.9 56.9ZM-70 21.1A73.1 73.1 0 0 1 -70.7 18.7L-59 15.6A61 61 0 0 0 -58.4 17.6ZM-64.6 -70.7A95.8 95.8 0 0 1 -62.2 -72.9L-54.9 -64.3A84.6 84.6 0 0 0 -57.1 -62.4ZM-33.4 -65A73.1 73.1 0 0 1 -31.2 -66.1L-26 -55.2A61 61 0 0 0 -27.9 -54.3ZM-31.5 -66A73.1 73.1 0 0 1 -29.2 -67L-24.4 -55.9A61 61 0 0 0 -26.3 -55.1ZM-17.2 -71A73.1 73.1 0 0 1 -14.8 -71.6L-12.4 -59.7A61 61 0 0 0 -14.4 -59.3ZM2.7 -95.8A95.8 95.8 0 0 1 5.9 -95.6L5.2 -84.4A84.6 84.6 0 0 0 2.4 -84.6ZM4.9 -84.8A84.9 84.9 0 0 1 7.7 -84.5L6.6 -72.5A72.8 72.8 0 0 0 4.2 -72.7ZM8.3 -95.4A95.8 95.8 0 0 1 11.6 -95.1L10.2 -84A84.6 84.6 0 0 0 7.3 -84.3Z"/><path fill="#606c90" d="M39 75.4A84.9 84.9 0 0 1 36.5 76.7L31.3 65.7A72.8 72.8 0 0 0 33.4 64.7ZM-11 84.2A84.9 84.9 0 0 1 -13.8 83.8L-11.9 71.8A72.8 72.8 0 0 0 -9.4 72.2ZM-32.2 65.6A73.1 73.1 0 0 1 -34.5 64.5L-28.7 53.8A61 61 0 0 0 -26.9 54.7ZM-49.3 -53.9A73.1 73.1 0 0 1 -47.5 -55.6L-39.6 -46.4A61 61 0 0 0 -41.2 -45ZM85 -44.1A95.8 95.8 0 0 1 86.5 -41.2L76.4 -36.4A84.6 84.6 0 0 0 75.1 -39ZM78.5 -32.3A84.9 84.9 0 0 1 79.6 -29.6L68.2 -25.4A72.8 72.8 0 0 0 67.3 -27.7Z"/><path fill="#444c78" d="M39 87.5A95.8 95.8 0 0 1 36.1 88.7L31.9 78.4A84.6 84.6 0 0 0 34.5 77.3ZM-13.5 83.8A84.9 84.9 0 0 1 -16.3 83.3L-14 71.4A72.8 72.8 0 0 0 -11.6 71.9ZM-38.7 -87.6A95.8 95.8 0 0 1 -35.7 -88.9L-31.5 -78.5A84.6 84.6 0 0 0 -34.2 -77.4ZM-10.9 -72.3A73.1 73.1 0 0 1 -8.4 -72.6L-7 -60.6A61 61 0 0 0 -9.1 -60.3ZM72.9 -43.5A84.9 84.9 0 0 1 74.3 -41L63.7 -35.2A72.8 72.8 0 0 0 62.5 -37.3Z"/><path fill="#904c3c" d="M33.9 89.6A95.8 95.8 0 0 1 31 90.7L27.3 80.1A84.6 84.6 0 0 0 30 79.1ZM-81.9 -22.5A84.9 84.9 0 0 1 -81 -25.3L-69.5 -21.7A72.8 72.8 0 0 0 -70.2 -19.3Z"/><path fill="#90a8c0" d="M21.9 69.7A73.1 73.1 0 0 1 19.6 70.4L16.4 58.8A61 61 0 0 0 18.3 58.2ZM-23.6 92.9A95.8 95.8 0 0 1 -26.7 92L-23.6 81.2A84.6 84.6 0 0 0 -20.8 82ZM-71 64.4A95.8 95.8 0 0 1 -73.1 61.9L-64.6 54.7A84.6 84.6 0 0 0 -62.7 56.8ZM57.9 -76.3A95.8 95.8 0 0 1 60.4 -74.3L53.4 -65.7A84.6 84.6 0 0 0 51.1 -67.4Z"/><path fill="#7c94b0" d="M23.1 81.7A84.9 84.9 0 0 1 20.4 82.4L17.5 70.7A72.8 72.8 0 0 0 19.8 70ZM-67.6 67.9A95.8 95.8 0 0 1 -69.6 65.8L-61.5 58.1A84.6 84.6 0 0 0 -59.7 59.9ZM13.9 -94.8A95.8 95.8 0 0 1 17.1 -94.3L15.1 -83.2A84.6 84.6 0 0 0 12.3 -83.7ZM30.4 -90.8A95.8 95.8 0 0 1 33.5 -89.7L29.6 -79.3A84.6 84.6 0 0 0 26.9 -80.2ZM31.2 -66.1A73.1 73.1 0 0 1 33.5 -65L27.9 -54.2A61 61 0 0 0 26.1 -55.1Z"/><path fill="#7888a8" d="M20.8 82.3A84.9 84.9 0 0 1 18.4 82.9L15.8 71.1A72.8 72.8 0 0 0 17.8 70.6Z"/><path fill="#68789c" d="M12.2 72.1A73.1 73.1 0 0 1 9.7 72.5L8.1 60.5A61 61 0 0 0 10.2 60.1ZM-32.8 78.3A84.9 84.9 0 0 1 -35.5 77.1L-30.4 66.1A72.8 72.8 0 0 0 -28.2 67.1ZM-54.5 78.8A95.8 95.8 0 0 1 -57.2 76.9L-50.5 67.9A84.6 84.6 0 0 0 -48.1 69.6ZM-59.6 42.4A73.1 73.1 0 0 1 -61 40.3L-50.9 33.7A61 61 0 0 0 -49.7 35.4ZM7.4 -84.6A84.9 84.9 0 0 1 10.2 -84.3L8.8 -72.3A72.8 72.8 0 0 0 6.3 -72.5ZM46 -84A95.8 95.8 0 0 1 48.8 -82.4L43.1 -72.8A84.6 84.6 0 0 0 40.6 -74.2ZM66.5 -69A95.8 95.8 0 0 1 68.8 -66.7L60.7 -58.9A84.6 84.6 0 0 0 58.7 -60.9Z"/><path fill="#687c9c" d="M14.2 83.7A84.9 84.9 0 0 1 11.3 84.1L9.7 72.2A72.8 72.8 0 0 0 12.1 71.8ZM-59.1 -60.9A84.9 84.9 0 0 1 -57 -62.9L-48.9 -53.9A72.8 72.8 0 0 0 -50.7 -52.3ZM-34.3 -77.7A84.9 84.9 0 0 1 -31.6 -78.8L-27.1 -67.6A72.8 72.8 0 0 0 -29.4 -66.6ZM27.7 -91.7A95.8 95.8 0 0 1 30.8 -90.7L27.2 -80.1A84.6 84.6 0 0 0 24.5 -81Z"/><path fill="#94b0c4" d="M3.6 73A73.1 73.1 0 0 1 1.1 73.1L0.9 61A61 61 0 0 0 3 60.9ZM-73.3 42.9A84.9 84.9 0 0 1 -74.7 40.4L-64 34.6A72.8 72.8 0 0 0 -62.8 36.8ZM-92.5 25A95.8 95.8 0 0 1 -93.3 21.8L-82.4 19.3A84.6 84.6 0 0 0 -81.7 22ZM-94.8 13.9A95.8 95.8 0 0 1 -95.2 10.7L-84.1 9.4A84.6 84.6 0 0 0 -83.7 12.3ZM-72.8 -6.7A73.1 73.1 0 0 1 -72.5 -9.1L-60.5 -7.6A61 61 0 0 0 -60.7 -5.6ZM-84.3 -10.2A84.9 84.9 0 0 1 -83.9 -13.1L-71.9 -11.2A72.8 72.8 0 0 0 -72.3 -8.8ZM-69.2 -23.5A73.1 73.1 0 0 1 -68.4 -25.9L-57.1 -21.6A61 61 0 0 0 -57.8 -19.6ZM-89.8 -33.5A95.8 95.8 0 0 1 -88.6 -36.5L-78.2 -32.2A84.6 84.6 0 0 0 -79.3 -29.6ZM40.6 -60.8A73.1 73.1 0 0 1 42.7 -59.4L35.6 -49.5A61 61 0 0 0 33.9 -50.7ZM42.4 -59.5A73.1 73.1 0 0 1 44.4 -58.1L37.1 -48.5A61 61 0 0 0 35.4 -49.7Z"/><path fill="#803c2c" d="M1.8 95.8A95.8 95.8 0 0 1 -1.5 95.8L-1.3 84.6A84.6 84.6 0 0 0 1.6 84.6ZM-92.4 -25.4A95.8 95.8 0 0 1 -91.5 -28.5L-80.8 -25.2A84.6 84.6 0 0 0 -81.6 -22.4Z"/><path fill="#607094" d="M-3.4 84.8A84.9 84.9 0 0 1 -6.3 84.7L-5.4 72.6A72.8 72.8 0 0 0 -3 72.7ZM-68.6 25.2A73.1 73.1 0 0 1 -69.4 22.9L-57.9 19.1A61 61 0 0 0 -57.3 21ZM-72.5 -62.6A95.8 95.8 0 0 1 -70.4 -65L-62.1 -57.4A84.6 84.6 0 0 0 -64.1 -55.3ZM-22.6 -93.1A95.8 95.8 0 0 1 -19.4 -93.8L-17.2 -82.8A84.6 84.6 0 0 0 -20 -82.2ZM6.3 -72.8A73.1 73.1 0 0 1 8.8 -72.6L7.4 -60.6A61 61 0 0 0 5.3 -60.8ZM22.2 -82A84.9 84.9 0 0 1 24.9 -81.2L21.4 -69.6A72.8 72.8 0 0 0 19 -70.3ZM29.3 -67A73.1 73.1 0 0 1 31.5 -65.9L26.3 -55A61 61 0 0 0 24.4 -55.9ZM58.9 -61.1A84.9 84.9 0 0 1 60.9 -59.1L52.3 -50.7A72.8 72.8 0 0 0 50.5 -52.4ZM70.2 -47.7A84.9 84.9 0 0 1 71.8 -45.3L61.6 -38.9A72.8 72.8 0 0 0 60.2 -40.9ZM88.6 -36.4A95.8 95.8 0 0 1 89.8 -33.4L79.3 -29.5A84.6 84.6 0 0 0 78.2 -32.2ZM93 -23A95.8 95.8 0 0 1 93.7 -19.8L82.8 -17.5A84.6 84.6 0 0 0 82.1 -20.3Z"/><path fill="#647094" d="M-3.9 95.7A95.8 95.8 0 0 1 -7.1 95.5L-6.3 84.4A84.6 84.6 0 0 0 -3.4 84.5Z"/><path fill="#4c5880" d="M-6.7 95.6A95.8 95.8 0 0 1 -10 95.3L-8.8 84.1A84.6 84.6 0 0 0 -5.9 84.4ZM-7.3 72.7A73.1 73.1 0 0 1 -9.8 72.4L-8.2 60.5A61 61 0 0 0 -6.1 60.7ZM-11.6 72.2A73.1 73.1 0 0 1 -14.1 71.7L-11.7 59.9A61 61 0 0 0 -9.7 60.2ZM-43.4 58.9A73.1 73.1 0 0 1 -45.3 57.3L-37.8 47.8A61 61 0 0 0 -36.2 49.1ZM-38.8 -75.5A84.9 84.9 0 0 1 -36.2 -76.8L-31.1 -65.8A72.8 72.8 0 0 0 -33.3 -64.8ZM-29.6 -79.6A84.9 84.9 0 0 1 -26.9 -80.5L-23.1 -69A72.8 72.8 0 0 0 -25.4 -68.2ZM-17.6 -83.1A84.9 84.9 0 0 1 -14.8 -83.6L-12.7 -71.7A72.8 72.8 0 0 0 -15.1 -71.2ZM-12.6 -84A84.9 84.9 0 0 1 -9.8 -84.3L-8.4 -72.3A72.8 72.8 0 0 0 -10.8 -72ZM-14.3 -94.7A95.8 95.8 0 0 1 -11.1 -95.2L-9.8 -84A84.6 84.6 0 0 0 -12.6 -83.7ZM-8.7 -72.6A73.1 73.1 0 0 1 -6.3 -72.8L-5.2 -60.8A61 61 0 0 0 -7.3 -60.6ZM36.3 -76.8A84.9 84.9 0 0 1 38.9 -75.5L33.3 -64.7A72.8 72.8 0 0 0 31.1 -65.8ZM45.1 -71.9A84.9 84.9 0 0 1 47.5 -70.4L40.7 -60.3A72.8 72.8 0 0 0 38.7 -61.7ZM75.9 -58.4A95.8 95.8 0 0 1 77.8 -55.8L68.7 -49.3A84.6 84.6 0 0 0 67 -51.6ZM79.2 -53.9A95.8 95.8 0 0 1 81 -51.1L71.5 -45.2A84.6 84.6 0 0 0 70 -47.6ZM75.4 -39.1A84.9 84.9 0 0 1 76.6 -36.5L65.7 -31.3A72.8 72.8 0 0 0 64.6 -33.5ZM77.5 -34.6A84.9 84.9 0 0 1 78.7 -31.9L67.4 -27.4A72.8 72.8 0 0 0 66.5 -29.7Z"/><path fill="#742418" d="M-12.4 95A95.8 95.8 0 0 1 -15.6 94.5L-13.8 83.5A84.6 84.6 0 0 0 -10.9 83.9Z"/><path fill="#546088" d="M-15.2 94.6A95.8 95.8 0 0 1 -18.4 94L-16.3 83A84.6 84.6 0 0 0 -13.4 83.5ZM-39 -61.8A73.1 73.1 0 0 1 -36.9 -63.1L-30.8 -52.6A61 61 0 0 0 -32.6 -51.6ZM76.5 -36.9A84.9 84.9 0 0 1 77.7 -34.3L66.6 -29.4A72.8 72.8 0 0 0 65.6 -31.6Z"/><path fill="#647898" d="M-20.9 82.3A84.9 84.9 0 0 1 -23.7 81.5L-20.3 69.9A72.8 72.8 0 0 0 -17.9 70.6ZM-0.1 -73.1A73.1 73.1 0 0 1 2.4 -73.1L2 -61A61 61 0 0 0 -0.1 -61Z"/><path fill="#98b4c8" d="M-26.3 92.1A95.8 95.8 0 0 1 -29.4 91.2L-26 80.5A84.6 84.6 0 0 0 -23.2 81.3ZM-72.3 10.6A73.1 73.1 0 0 1 -72.6 8.1L-60.6 6.8A61 61 0 0 0 -60.4 8.8ZM-61.8 -39.1A73.1 73.1 0 0 1 -60.4 -41.2L-50.4 -34.3A61 61 0 0 0 -51.6 -32.6Z"/><path fill="#48547c" d="M-37.9 62.5A73.1 73.1 0 0 1 -40.1 61.1L-33.4 51A61 61 0 0 0 -31.7 52.1ZM-60.8 40.6A73.1 73.1 0 0 1 -62.1 38.5L-51.8 32.1A61 61 0 0 0 -50.7 33.9ZM-48.7 -82.5A95.8 95.8 0 0 1 -45.9 -84.1L-40.5 -74.2A84.6 84.6 0 0 0 -43 -72.8ZM-22.5 -81.9A84.9 84.9 0 0 1 -19.7 -82.6L-16.9 -70.8A72.8 72.8 0 0 0 -19.3 -70.2ZM-19.8 -93.7A95.8 95.8 0 0 1 -16.7 -94.3L-14.7 -83.3A84.6 84.6 0 0 0 -17.5 -82.8ZM-15.1 -83.5A84.9 84.9 0 0 1 -12.3 -84L-10.5 -72A72.8 72.8 0 0 0 -13 -71.6ZM17.3 -83.1A84.9 84.9 0 0 1 20.1 -82.5L17.2 -70.7A72.8 72.8 0 0 0 14.8 -71.3ZM68.8 -49.8A84.9 84.9 0 0 1 70.4 -47.4L60.4 -40.7A72.8 72.8 0 0 0 59 -42.7ZM91.5 -28.4A95.8 95.8 0 0 1 92.4 -25.3L81.6 -22.4A84.6 84.6 0 0 0 80.8 -25.1ZM83 -17.9A84.9 84.9 0 0 1 83.5 -15.5L71.6 -13.3A72.8 72.8 0 0 0 71.2 -15.4Z"/><path fill="#546084" d="M-44.1 72.6A84.9 84.9 0 0 1 -46.5 71L-39.9 60.9A72.8 72.8 0 0 0 -37.8 62.2ZM82.3 -49.1A95.8 95.8 0 0 1 83.9 -46.3L74.1 -40.9A84.6 84.6 0 0 0 72.7 -43.3Z"/><path fill="#7890ac" d="M-49.7 81.9A95.8 95.8 0 0 1 -52.5 80.1L-46.4 70.8A84.6 84.6 0 0 0 -43.9 72.3ZM53.7 -49.6A73.1 73.1 0 0 1 55.4 -47.7L46.2 -39.8A61 61 0 0 0 44.8 -41.4ZM59.2 -42.9A73.1 73.1 0 0 1 60.6 -40.8L50.6 -34.1A61 61 0 0 0 49.4 -35.8Z"/><path fill="#506084" d="M-39.8 61.3A73.1 73.1 0 0 1 -41.9 59.9L-34.9 50A61 61 0 0 0 -33.2 51.2ZM-48.3 69.8A84.9 84.9 0 0 1 -50.7 68.1L-43.4 58.4A72.8 72.8 0 0 0 -41.4 59.9Z"/><path fill="#7084a0" d="M-46.8 56.2A73.1 73.1 0 0 1 -48.7 54.5L-40.6 45.5A61 61 0 0 0 -39 46.9ZM-56.2 63.6A84.9 84.9 0 0 1 -58.4 61.6L-50.1 52.9A72.8 72.8 0 0 0 -48.2 54.5ZM-70.6 19A73.1 73.1 0 0 1 -71.2 16.6L-59.4 13.9A61 61 0 0 0 -58.9 15.9ZM-23.5 -69.2A73.1 73.1 0 0 1 -21.1 -70L-17.6 -58.4A61 61 0 0 0 -19.6 -57.8ZM-4.4 -73A73.1 73.1 0 0 1 -2 -73.1L-1.6 -61A61 61 0 0 0 -3.7 -60.9Z"/><path fill="#9cb8c8" d="M-74.6 60A95.8 95.8 0 0 1 -76.6 57.5L-67.7 50.8A84.6 84.6 0 0 0 -65.9 53ZM33.1 -89.9A95.8 95.8 0 0 1 36.1 -88.7L31.9 -78.3A84.6 84.6 0 0 0 29.2 -79.4Z"/><path fill="#a8c4d4" d="M-75.7 38.5A84.9 84.9 0 0 1 -76.9 35.9L-66 30.8A72.8 72.8 0 0 0 -64.9 33ZM-93.8 19.5A95.8 95.8 0 0 1 -94.4 16.3L-83.4 14.4A84.6 84.6 0 0 0 -82.8 17.2ZM-84 12.3A84.9 84.9 0 0 1 -84.4 9.4L-72.3 8.1A72.8 72.8 0 0 0 -72 10.5ZM-71.7 -45.4A84.9 84.9 0 0 1 -70.2 -47.8L-60.2 -41A72.8 72.8 0 0 0 -61.5 -38.9ZM49.1 -54.1A73.1 73.1 0 0 1 50.9 -52.4L42.5 -43.7A61 61 0 0 0 41 -45.2Z"/><path fill="#a4c0d4" d="M-93.2 22.2A95.8 95.8 0 0 1 -93.9 19L-82.9 16.8A84.6 84.6 0 0 0 -82.3 19.6Z"/><path fill="#94acc0" d="M-72 12.7A73.1 73.1 0 0 1 -72.4 10.3L-60.4 8.6A61 61 0 0 0 -60.1 10.6ZM-72.6 8.4A73.1 73.1 0 0 1 -72.9 6L-60.8 5A61 61 0 0 0 -60.6 7ZM45.9 -56.9A73.1 73.1 0 0 1 47.8 -55.3L39.9 -46.2A61 61 0 0 0 38.3 -47.5ZM68.4 -25.8A73.1 73.1 0 0 1 69.2 -23.5L57.8 -19.6A61 61 0 0 0 57.1 -21.5Z"/><path fill="#9cb4c8" d="M-84.6 7.3A84.9 84.9 0 0 1 -84.8 4.4L-72.7 3.8A72.8 72.8 0 0 0 -72.5 6.3ZM-95.1 -11.5A95.8 95.8 0 0 1 -94.7 -14.8L-83.6 -13A84.6 84.6 0 0 0 -84 -10.2ZM-68.5 -25.6A73.1 73.1 0 0 1 -67.6 -27.9L-56.4 -23.3A61 61 0 0 0 -57.2 -21.3Z"/><path fill="#8ca0b8" d="M-95.8 -3.1A95.8 95.8 0 0 1 -95.6 -6.3L-84.4 -5.6A84.6 84.6 0 0 0 -84.6 -2.7ZM-27.5 -67.7A73.1 73.1 0 0 1 -25.2 -68.6L-21 -57.3A61 61 0 0 0 -23 -56.5Z"/><path fill="#94acc4" d="M-71.5 -15.2A73.1 73.1 0 0 1 -70.9 -17.6L-59.2 -14.7A61 61 0 0 0 -59.7 -12.7ZM-71 -17.3A73.1 73.1 0 0 1 -70.4 -19.7L-58.7 -16.4A61 61 0 0 0 -59.3 -14.4ZM-76.1 -58.2A95.8 95.8 0 0 1 -74.1 -60.7L-65.4 -53.6A84.6 84.6 0 0 0 -67.2 -51.4ZM38.8 -61.9A73.1 73.1 0 0 1 40.9 -60.6L34.1 -50.6A61 61 0 0 0 32.4 -51.7Z"/><path fill="#98b0c8" d="M-83 -17.6A84.9 84.9 0 0 1 -82.4 -20.5L-70.7 -17.5A72.8 72.8 0 0 0 -71.2 -15.1ZM-70.4 -47.5A84.9 84.9 0 0 1 -68.7 -49.8L-58.9 -42.7A72.8 72.8 0 0 0 -60.3 -40.7Z"/><path fill="#8ca8bc" d="M-82.5 -20.1A84.9 84.9 0 0 1 -81.8 -22.9L-70.1 -19.6A72.8 72.8 0 0 0 -70.7 -17.2ZM-56.7 -46.1A73.1 73.1 0 0 1 -55.1 -48L-46 -40A61 61 0 0 0 -47.3 -38.5ZM56.6 -46.3A73.1 73.1 0 0 1 58.1 -44.3L48.5 -37A61 61 0 0 0 47.2 -38.6Z"/><path fill="#546488" d="M-52.4 -50.9A73.1 73.1 0 0 1 -50.7 -52.7L-42.3 -44A61 61 0 0 0 -43.8 -42.5ZM-46.1 -56.8A73.1 73.1 0 0 1 -44.1 -58.3L-36.8 -48.6A61 61 0 0 0 -38.4 -47.4ZM-55.9 -77.8A95.8 95.8 0 0 1 -53.2 -79.7L-47 -70.4A84.6 84.6 0 0 0 -49.3 -68.7ZM-7.7 -84.6A84.9 84.9 0 0 1 -4.8 -84.8L-4.1 -72.7A72.8 72.8 0 0 0 -6.6 -72.5ZM19.7 -82.6A84.9 84.9 0 0 1 22.5 -81.9L19.3 -70.2A72.8 72.8 0 0 0 16.9 -70.8ZM87.5 -39A95.8 95.8 0 0 1 88.8 -36.1L78.4 -31.8A84.6 84.6 0 0 0 77.3 -34.5ZM93.6 -20.2A95.8 95.8 0 0 1 94.2 -17.5L83.2 -15.4A84.6 84.6 0 0 0 82.7 -17.9Z"/><path fill="#4c5480" d="M-47.4 -70.4A84.9 84.9 0 0 1 -45 -72L-38.6 -61.7A72.8 72.8 0 0 0 -40.7 -60.4Z"/><path fill="#404c74" d="M-41.2 -86.5A95.8 95.8 0 0 1 -38.3 -87.8L-33.8 -77.5A84.6 84.6 0 0 0 -36.4 -76.4Z"/><path fill="#444c74" d="M-33.4 -89.8A95.8 95.8 0 0 1 -30.4 -90.9L-26.8 -80.2A84.6 84.6 0 0 0 -29.5 -79.3Z"/><path fill="#505880" d="M-20 -82.5A84.9 84.9 0 0 1 -17.2 -83.1L-14.8 -71.3A72.8 72.8 0 0 0 -17.2 -70.7Z"/><path fill="#48507c" d="M31.7 -78.8A84.9 84.9 0 0 1 34.3 -77.6L29.4 -66.6A72.8 72.8 0 0 0 27.2 -67.5Z"/><path fill="#e0c4b4" d="M64.4 -70.9A95.8 95.8 0 0 1 66.8 -68.7L59 -60.7A84.6 84.6 0 0 0 56.9 -62.6ZM55.2 -47.9A73.1 73.1 0 0 1 56.8 -46L47.4 -38.4A61 61 0 0 0 46 -40ZM64.9 -33.7A73.1 73.1 0 0 1 66 -31.5L55.1 -26.3A61 61 0 0 0 54.1 -28.1ZM71 -17.5A73.1 73.1 0 0 1 71.5 -15.1L59.7 -12.6A61 61 0 0 0 59.2 -14.6Z"/></g>
<path class="dash" d="M95.4 1.4A95.5 95.5 0 0 1 92.2 24.8L59.2 15.9A61.4 61.4 0 0 0 61.3 0.9ZM91.4 27.5A95.5 95.5 0 0 1 69.8 65.2L44.8 41.9A61.4 61.4 0 0 0 58.7 17.7ZM67.8 67.2A95.5 95.5 0 0 1 21.1 93.1L13.5 59.8A61.4 61.4 0 0 0 43.6 43.2ZM18.3 93.7A95.5 95.5 0 0 1 -69.1 65.9L-44.4 42.3A61.4 61.4 0 0 0 11.8 60.2ZM-71 63.8A95.5 95.5 0 1 1 93.8 -17.8L60.3 -11.4A61.4 61.4 0 1 0 -45.6 41Z"/>
<g class="den"><path d="M58.8 1.5L55.5 1.4M58.7 3.1L55.5 3M55.5 1.4A55.6 55.6 0 0 1 55.5 3M58.4 6.5L54.9 6.1M58.2 8.1L54.7 7.6M54.9 6.1A55.3 55.3 0 0 1 54.7 7.6M58.6 4.8L54.4 4.5M54.8 6.9L54.2 6.8M54.4 4.5A54.6 54.6 0 0 1 54.2 6.8M58 9.8L54.7 9.2M57.7 11.4L54.4 10.8M54.7 9.2A55.5 55.5 0 0 1 54.4 10.8M54.3 5.6L52 5.4M54.6 10L51.5 9.4M52 5.4A52.3 52.3 0 0 1 51.5 9.4M57.3 13.1L54.1 12.3M56.9 14.7L53.7 13.9M54.1 12.3A55.5 55.5 0 0 1 53.7 13.9M51.8 7.4L50.2 7.2M53.9 13.1L49.3 12M50.2 7.2A50.7 50.7 0 0 1 49.3 12M55.5 2.2L49.9 1.9M49.8 9.6L49 9.4M49.9 1.9A49.9 49.9 0 0 1 49 9.4" stroke="#2b3560"/><path d="M55.6 19.2L52.9 18.2M55 20.8L52.3 19.8M52.9 18.2A55.9 55.9 0 0 1 52.3 19.8M53.7 24L51.4 22.9M53 25.5L50.7 24.4M51.4 22.9A56.2 56.2 0 0 1 50.7 24.4M54.4 22.4L51.5 21.2M51 23.7L50.5 23.4M51.5 21.2A55.7 55.7 0 0 1 50.5 23.4M52.6 19L51.3 18.5M51 22.3L49.9 21.8M51.3 18.5A54.5 54.5 0 0 1 49.9 21.8M56.1 17.5L51.5 16.1M50.6 20.2L50.1 20M51.5 16.1A54 54 0 0 1 50.1 20M52.2 27L50.1 25.9M51.4 28.6L49.3 27.4M50.1 25.9A56.4 56.4 0 0 1 49.3 27.4M48.7 33L46.8 31.7M47.7 34.4L45.9 33M46.8 31.7A56.5 56.5 0 0 1 45.9 33M49.6 31.5L46.9 29.8M46.3 32.4L45.5 31.8M46.9 29.8A55.5 55.5 0 0 1 45.5 31.8M50.5 30.1L47.1 28M46.2 30.8L45.6 30.4M47.1 28A54.8 54.8 0 0 1 45.6 30.4M49.7 26.7L47.2 25.3M46.4 29.2L45.3 28.5M47.2 25.3A53.6 53.6 0 0 1 45.3 28.5M45.6 37.1L43.6 35.4M44.5 38.4L42.5 36.7M43.6 35.4A56.1 56.1 0 0 1 42.5 36.7M46.7 35.7L44.2 33.8M43 36L42.7 35.7M44.2 33.8A55.6 55.6 0 0 1 42.7 35.7M43.4 34.8L42.6 34.1M43.4 39.7L40.3 36.8M42.6 34.1A54.6 54.6 0 0 1 40.3 36.8M46.3 27L44.7 26M41.5 35.5L39.3 33.7M44.7 26A51.7 51.7 0 0 1 39.3 33.7M50.8 18L46.8 16.6M42.2 30L40.5 28.8M46.8 16.6A49.6 49.6 0 0 1 40.5 28.8" stroke="#7fd6d6"/><path d="M40.1 43L38.6 41.4M38.9 44.1L37.4 42.5M38.6 41.4A56.6 56.6 0 0 1 37.4 42.5M38 41.9L37.4 41.2M37.6 45.2L35.6 42.8M37.4 41.2A55.6 55.6 0 0 1 35.6 42.8M41.3 41.8L38.9 39.4M36.5 42L36.3 41.8M38.9 39.4A55.3 55.3 0 0 1 36.3 41.8M34.9 47.3L33.5 45.5M33.5 48.3L32.2 46.4M33.5 45.5A56.5 56.5 0 0 1 32.2 46.4M32.1 49.2L30.7 47M30.7 50.1L29.3 47.9M30.7 47A56.2 56.2 0 0 1 29.3 47.9M32.9 45.9L32.2 45M30 47.5L29.6 46.8M32.2 45A55.4 55.4 0 0 1 29.6 46.8M36.3 46.3L33.8 43.2M30.9 45.9L30.6 45.5M33.8 43.2A54.8 54.8 0 0 1 30.6 45.5M32.2 44.3L31.8 43.7M29.2 51L26.9 46.9M31.8 43.7A54 54 0 0 1 26.9 46.9M26.3 52.6L25.1 50.3M24.7 53.3L23.7 51M25.1 50.3A56.3 56.3 0 0 1 23.7 51M23.2 54L22.2 51.8M21.6 54.7L20.7 52.4M22.2 51.8A56.4 56.4 0 0 1 20.7 52.4M24.4 50.7L23.9 49.6M21.5 52.1L21 50.9M23.9 49.6A55.1 55.1 0 0 1 21 50.9M27.8 51.8L25.7 48M22.4 50.3L22.2 49.7M25.7 48A54.4 54.4 0 0 1 22.2 49.7M24 48.9L23.8 48.5M20 55.3L18.4 50.8M23.8 48.5A54 54 0 0 1 18.4 50.8M29.4 45.4L28.1 43.4M21.1 49.7L20.2 47.6M28.1 43.4A51.7 51.7 0 0 1 20.2 47.6M37.6 40.6L34.3 37M24.2 45.7L23.7 44.6M34.3 37A50.5 50.5 0 0 1 23.7 44.6M18.4 55.8L17.7 53.6M16.8 56.3L16.2 54.1M17.7 53.6A56.5 56.5 0 0 1 16.2 54.1M29.3 41.2L29 40.8M16.9 53.9L15 47.8M29 40.8A50.1 50.1 0 0 1 15 47.8M15.2 56.8L14.5 54.3M13.6 57.2L13 54.7M14.5 54.3A56.2 56.2 0 0 1 13 54.7M22.3 44.8L22 44.2M13.7 54.5L12.1 47.9M22 44.2A49.4 49.4 0 0 1 12.1 47.9" stroke="#d6a28c"/><path d="M10.7 57.8L10.3 55.8M8.9 58.1L8.6 56.1M10.3 55.8A56.8 56.8 0 0 1 8.6 56.1M7.2 58.4L7 56.5M5.5 58.5L5.3 56.7M7 56.5A57 57 0 0 1 5.3 56.7M2 58.8L1.9 56.9M0.2 58.8L0.2 57M1.9 56.9A57 57 0 0 1 0.2 57M3.7 58.7L3.6 56.2M1.1 57L1.1 56.3M3.6 56.2A56.3 56.3 0 0 1 1.1 56.3M-1.5 58.8L-1.5 56.8M-3.3 58.7L-3.1 56.7M-1.5 56.8A56.8 56.8 0 0 1 -3.1 56.7M-2.3 56.7L-2.3 56.4M-5 58.6L-4.8 56.3M-2.3 56.4A56.5 56.5 0 0 1 -4.8 56.3M2.3 56.3L2.3 55.1M-3.5 56.4L-3.5 55.1M2.3 55.1A55.2 55.2 0 0 1 -3.5 55.1M6.1 56.6L5.9 54.2M-0.6 55.2L-0.6 54.6M5.9 54.2A54.6 54.6 0 0 1 -0.6 54.6M2.7 54.5L2.6 54.2M-6.7 58.4L-6.2 53.9M2.6 54.2A54.3 54.3 0 0 1 -6.2 53.9M9.5 56L9 53.2M-1.8 54.2L-1.8 53.9M9 53.2A54 54 0 0 1 -1.8 53.9M-11.9 57.6L-11.5 55.4M-13.6 57.2L-13.1 55M-11.5 55.4A56.6 56.6 0 0 1 -13.1 55M-12.3 55.2L-12.2 54.8M-15.3 56.8L-14.6 54.2M-12.2 54.8A56.1 56.1 0 0 1 -14.6 54.2M-10.2 57.9L-9.7 55M-13.4 54.5L-13.3 54.2M-9.7 55A55.8 55.8 0 0 1 -13.3 54.2M-8.5 58.2L-8 55M-11.5 54.6L-11.5 54.3M-8 55A55.5 55.5 0 0 1 -11.5 54.3M-9.7 54.7L-9.7 54.4M-17 56.3L-16 52.9M-9.7 54.4A55.2 55.2 0 0 1 -16 52.9M-20.3 55.2L-19.7 53.4M-21.9 54.6L-21.2 52.8M-19.7 53.4A56.9 56.9 0 0 1 -21.2 52.8M-20.5 53.1L-20.1 52.3M-23.6 53.9L-22.5 51.4M-20.1 52.3A56.1 56.1 0 0 1 -22.5 51.4M-18.7 55.8L-17.7 52.9M-21.3 51.9L-21.2 51.6M-17.7 52.9A55.8 55.8 0 0 1 -21.2 51.6M-19.5 52.3L-19.3 51.9M-25.1 53.2L-23.7 50.1M-19.3 51.9A55.4 55.4 0 0 1 -23.7 50.1M-28.3 51.6L-27.4 50M-29.8 50.7L-28.9 49.2M-27.4 50A57 57 0 0 1 -28.9 49.2M-26.7 52.4L-25.6 50.2M-28.1 49.6L-27.8 49M-25.6 50.2A56.3 56.3 0 0 1 -27.8 49M-21.5 51L-21.2 50.3M-26.7 49.6L-25.9 48M-21.2 50.3A54.6 54.6 0 0 1 -25.9 48M-12.8 53.7L-12.4 52.1M-23.6 49.2L-23.1 48.3M-12.4 52.1A53.5 53.5 0 0 1 -23.1 48.3M-31.3 49.8L-30.2 48.1M-32.7 48.8L-31.6 47.2M-30.2 48.1A56.8 56.8 0 0 1 -31.6 47.2M-34.2 47.9L-32.9 46M-35.6 46.8L-34.2 45M-32.9 46A56.6 56.6 0 0 1 -34.2 45M-33.6 45.5L-33.4 45.3M-37 45.7L-35.4 43.8M-33.4 45.3A56.3 56.3 0 0 1 -35.4 43.8M-30.9 47.7L-30.4 46.8M-34.4 44.5L-34.1 44.2M-30.4 46.8A55.8 55.8 0 0 1 -34.1 44.2M-17.9 50.5L-17.4 49.2M-32.3 45.6L-30.2 42.6M-17.4 49.2A52.2 52.2 0 0 1 -30.2 42.6M-40.9 42.3L-39.6 40.9M-42.1 41L-40.8 39.7M-39.6 40.9A56.9 56.9 0 0 1 -40.8 39.7M-39.6 43.5L-38.1 41.8M-40.2 40.3L-39.9 40.1M-38.1 41.8A56.5 56.5 0 0 1 -39.9 40.1M-38.3 44.6L-36.2 42.2M-39 40.9L-38.4 40.3M-36.2 42.2A55.6 55.6 0 0 1 -38.4 40.3M-24 46.3L-23.6 45.6M-37.3 41.3L-34.4 38.1M-23.6 45.6A51.4 51.4 0 0 1 -34.4 38.1M3.6 53.8L3.3 49.5M-29.3 42.2L-28.3 40.7M3.3 49.5A49.6 49.6 0 0 1 -28.3 40.7" stroke="#f49a62"/><path d="M-45.3 37.5L-43.9 36.4M-46.4 36.2L-45 35.1M-43.9 36.4A57 57 0 0 1 -45 35.1M-44.1 38.8L-42.6 37.5M-44.4 35.7L-44.2 35.6M-42.6 37.5A56.7 56.7 0 0 1 -44.2 35.6M-47.4 34.8L-46.4 34M-48.4 33.4L-47.4 32.7M-46.4 34A57.5 57.5 0 0 1 -47.4 32.7M-52 27.4L-50.9 26.8M-52.8 25.9L-51.6 25.3M-50.9 26.8A57.5 57.5 0 0 1 -51.6 25.3M-53.5 24.3L-52.1 23.6M-54.2 22.7L-52.7 22.1M-52.1 23.6A57.2 57.2 0 0 1 -52.7 22.1M-51.3 26.1L-50.7 25.8M-52.4 22.9L-52.1 22.7M-50.7 25.8A56.9 56.9 0 0 1 -52.1 22.7M-51.2 29L-49.2 27.9M-51.4 24.3L-51.2 24.1M-49.2 27.9A56.6 56.6 0 0 1 -51.2 24.1M-56 17.8L-54.4 17.3M-56.5 16.2L-54.9 15.7M-54.4 17.3A57.1 57.1 0 0 1 -54.9 15.7M-55.5 19.5L-53.6 18.8M-54.7 16.5L-54.4 16.4M-53.6 18.8A56.8 56.8 0 0 1 -54.4 16.4M-54 17.6L-53.7 17.5M-57 14.5L-54.8 13.9M-53.7 17.5A56.5 56.5 0 0 1 -54.8 13.9M-54.9 21.1L-52.5 20.2M-54.3 15.7L-54 15.6M-52.5 20.2A56.2 56.2 0 0 1 -54 15.6M-50.2 26L-49.6 25.7M-53.3 17.9L-53 17.8M-49.6 25.7A55.9 55.9 0 0 1 -53 17.8M-50.3 30.5L-47.6 28.8M-51.5 21.8L-51.2 21.7M-47.6 28.8A55.6 55.6 0 0 1 -51.2 21.7M-58 9.4L-56.6 9.1M-58.3 7.7L-56.8 7.5M-56.6 9.1A57.3 57.3 0 0 1 -56.8 7.5M-57.7 11.1L-56 10.8M-56.7 8.3L-56.4 8.3M-56 10.8A57 57 0 0 1 -56.4 8.3M-58.5 5.9L-56.9 5.8M-58.6 4.2L-57 4.1M-56.9 5.8A57.2 57.2 0 0 1 -57 4.1M-56.2 9.5L-55.9 9.5M-57 4.9L-56.5 4.9M-55.9 9.5A56.7 56.7 0 0 1 -56.5 4.9M-56.3 7.2L-56 7.1M-58.7 2.5L-56.4 2.4M-56 7.1A56.4 56.4 0 0 1 -56.4 2.4M-57.4 12.8L-54.8 12.2M-56.2 4.8L-55.9 4.7M-54.8 12.2A56.1 56.1 0 0 1 -55.9 4.7M-49.5 25.3L-49.1 25.1M-55.5 8.5L-54.5 8.3M-49.1 25.1A55.1 55.1 0 0 1 -54.5 8.3M-52.4 16.9L-52.2 16.8M-58.8 0.7L-54.8 0.7M-52.2 16.8A54.8 54.8 0 0 1 -54.8 0.7M-58.8 -1L-57.3 -1M-58.7 -2.7L-57.3 -2.7M-57.3 -1A57.3 57.3 0 0 1 -57.3 -2.7M-54.1 8.9L-53.8 8.8M-57.3 -1.8L-54.5 -1.7M-53.8 8.8A54.5 54.5 0 0 1 -54.5 -1.7M-49.4 31.9L-45.5 29.4M-54.4 3.5L-54.1 3.5M-45.5 29.4A54.2 54.2 0 0 1 -54.1 3.5M-46.9 33.3L-43.9 31.2M-51.5 17L-51.2 16.9M-43.9 31.2A53.9 53.9 0 0 1 -51.2 16.9M-58.3 -7.9L-57 -7.8M-58 -9.7L-56.8 -9.5M-57 -7.8A57.5 57.5 0 0 1 -56.8 -9.5M-56.9 -8.6L-56.4 -8.5M-57.7 -11.4L-55.9 -11M-56.4 -8.5A57 57 0 0 1 -55.9 -11M-56.2 -9.8L-55.9 -9.7M-57.3 -13.1L-55.3 -12.6M-55.9 -9.7A56.7 56.7 0 0 1 -55.3 -12.6M-58.5 -6.2L-56.1 -6M-55.6 -11.2L-55.3 -11.1M-56.1 -6A56.4 56.4 0 0 1 -55.3 -11.1M-58.6 -4.5L-55.9 -4.3M-55.8 -8.5L-55.5 -8.5M-55.9 -4.3A56.1 56.1 0 0 1 -55.5 -8.5M-48.1 24.4L-47.8 24.2M-55.7 -6.4L-53.3 -6.1M-47.8 24.2A53.6 53.6 0 0 1 -53.3 -6.1M-43.4 36.5L-40.8 34.3M-52.8 9.5L-52.5 9.4M-40.8 34.3A53.3 53.3 0 0 1 -52.5 9.4M-56.9 -14.8L-55.3 -14.4M-56.5 -16.4L-54.9 -16M-55.3 -14.4A57.2 57.2 0 0 1 -54.9 -16M-55.4 -19.7L-54 -19.2M-54.8 -21.4L-53.4 -20.8M-54 -19.2A57.3 57.3 0 0 1 -53.4 -20.8M-53.7 -20L-53.4 -19.9M-54.1 -23L-52.5 -22.3M-53.4 -19.9A57 57 0 0 1 -52.5 -22.3M-55.9 -18.1L-54 -17.5M-53 -21.1L-52.7 -21M-54 -17.5A56.7 56.7 0 0 1 -52.7 -21M-53.4 -24.6L-51.7 -23.8M-52.7 -26.1L-51 -25.3M-51.7 -23.8A57 57 0 0 1 -51 -25.3M-53.3 -19.2L-53.1 -19.1M-51.4 -24.6L-50.9 -24.3M-53.1 -19.1A56.4 56.4 0 0 1 -50.9 -24.3M-55.1 -15.2L-54.1 -14.9M-52 -21.8L-51.8 -21.6M-54.1 -14.9A56.1 56.1 0 0 1 -51.8 -21.6M-53 -18.3L-52.7 -18.2M-51.9 -27.7L-49.2 -26.3M-52.7 -18.2A55.8 55.8 0 0 1 -49.2 -26.3M-47.2 -35L-45.8 -34M-46.2 -36.4L-44.8 -35.3M-45.8 -34A57 57 0 0 1 -44.8 -35.3M-45.3 -34.6L-45.1 -34.4M-45.1 -37.7L-43.5 -36.4M-45.1 -34.4A56.7 56.7 0 0 1 -43.5 -36.4M-43.9 -39.1L-42.7 -37.9M-42.8 -40.3L-41.5 -39.2M-42.7 -37.9A57.1 57.1 0 0 1 -41.5 -39.2M-44.3 -35.4L-44.1 -35.3M-42.1 -38.5L-41.6 -38.1M-44.1 -35.3A56.4 56.4 0 0 1 -41.6 -38.1M-48.2 -33.6L-46 -32.1M-42.9 -36.7L-42.6 -36.5M-46 -32.1A56.1 56.1 0 0 1 -42.6 -36.5M-49.2 -32.2L-46.7 -30.5M-44.4 -34.3L-44.2 -34.1M-46.7 -30.5A55.8 55.8 0 0 1 -44.2 -34.1M-39 -44L-38.1 -43M-37.7 -45.1L-36.8 -44.1M-38.1 -43A57.4 57.4 0 0 1 -36.8 -44.1M-40.3 -42.8L-39 -41.5M-37.5 -43.5L-37.2 -43.1M-39 -41.5A57 57 0 0 1 -37.2 -43.1M-38.1 -42.3L-37.9 -42.1M-36.4 -46.2L-35 -44.5M-37.9 -42.1A56.6 56.6 0 0 1 -35 -44.5M-36.5 -43.3L-36.3 -43.1M-35 -47.3L-33.5 -45.3M-36.3 -43.1A56.3 56.3 0 0 1 -33.5 -45.3M-41.6 -41.6L-39.6 -39.6M-34.9 -44.2L-34.7 -44M-39.6 -39.6A56 56 0 0 1 -34.7 -44M-45.5 -32.4L-45.2 -32.2M-37.2 -41.9L-36.9 -41.5M-45.2 -32.2A55.5 55.5 0 0 1 -36.9 -41.5M-50.2 -30.7L-47.1 -28.8M-41.3 -37.1L-41.1 -36.9M-47.1 -28.8A55.2 55.2 0 0 1 -41.1 -36.9M-51 -29.2L-47.7 -27.3M-44.3 -33L-44 -32.8M-47.7 -27.3A54.9 54.9 0 0 1 -44 -32.8M-33.6 -48.3L-32.6 -46.9M-32.1 -49.2L-31.2 -47.8M-32.6 -46.9A57.1 57.1 0 0 1 -31.2 -47.8M-29.2 -51.1L-28.5 -49.8M-27.6 -51.9L-27 -50.6M-28.5 -49.8A57.4 57.4 0 0 1 -27 -50.6M-30.7 -50.2L-29.6 -48.5M-27.7 -50.2L-27.4 -49.7M-29.6 -48.5A56.8 56.8 0 0 1 -27.4 -49.7M-31.9 -47.3L-31.6 -46.8M-28.5 -49.1L-28.4 -48.8M-31.6 -46.8A56.5 56.5 0 0 1 -28.4 -48.8M-24.5 -53.4L-23.8 -51.9M-22.9 -54.1L-22.3 -52.6M-23.8 -51.9A57.1 57.1 0 0 1 -22.3 -52.6M-23.1 -52.3L-22.9 -52M-21.3 -54.8L-20.6 -53M-22.9 -52A56.8 56.8 0 0 1 -20.6 -53M-26.1 -52.7L-25.1 -50.7M-21.8 -52.5L-21.7 -52.2M-25.1 -50.7A56.5 56.5 0 0 1 -21.7 -52.2M-18.1 -56L-17.6 -54.7M-16.4 -56.5L-16 -55.2M-17.6 -54.7A57.5 57.5 0 0 1 -16 -55.2M-19.7 -55.4L-19.2 -53.9M-16.8 -55L-16.7 -54.7M-19.2 -53.9A57.2 57.2 0 0 1 -16.7 -54.7M-18 -54.3L-17.8 -53.9M-14.7 -56.9L-14.2 -54.9M-17.8 -53.9A56.8 56.8 0 0 1 -14.2 -54.9M-23.4 -51.5L-23.3 -51.2M-16 -54.4L-15.9 -53.9M-23.3 -51.2A56.2 56.2 0 0 1 -15.9 -53.9M-11.3 -57.7L-11 -55.9M-9.6 -58L-9.3 -56.2M-11 -55.9A57 57 0 0 1 -9.3 -56.2M-6.2 -58.5L-6 -57M-4.4 -58.6L-4.3 -57.2M-6 -57A57.4 57.4 0 0 1 -4.3 -57.2M-7.9 -58.3L-7.7 -56.5M-5.2 -57.1L-5.2 -56.8M-7.7 -56.5A57.1 57.1 0 0 1 -5.2 -56.8M-6.4 -56.7L-6.4 -56.4M-2.7 -58.7L-2.6 -56.7M-6.4 -56.4A56.8 56.8 0 0 1 -2.6 -56.7M-10.2 -56.1L-10.1 -55.6M-4.5 -56.6L-4.5 -56.3M-10.1 -55.6A56.5 56.5 0 0 1 -4.5 -56.3M-13 -57.3L-12.4 -54.8M-7.3 -56L-7.2 -55.7M-12.4 -54.8A56.2 56.2 0 0 1 -7.2 -55.7M-1 -58.8L-0.9 -56.9M0.8 -58.8L0.7 -56.9M-0.9 -56.9A57 57 0 0 1 0.7 -56.9M-9.8 -55.3L-9.8 -55M-0.1 -57L-0.1 -55.9M-9.8 -55A55.9 55.9 0 0 1 -0.1 -55.9M-19.6 -52.7L-19.3 -51.9M-5 -55.6L-4.9 -55.1M-19.3 -51.9A55.3 55.3 0 0 1 -4.9 -55.1M-30 -47.9L-29.2 -46.6M-12.2 -54L-12.2 -53.7M-29.2 -46.6A55 55 0 0 1 -12.2 -53.7M4.2 -58.6L4.1 -56.8M6 -58.5L5.8 -56.7M4.1 -56.8A57 57 0 0 1 5.8 -56.7M4.9 -56.8L4.9 -56.5M7.7 -58.3L7.4 -56.2M4.9 -56.5A56.7 56.7 0 0 1 7.4 -56.2M2.5 -58.7L2.4 -56.3M6.2 -56.3L6.1 -56M2.4 -56.3A56.4 56.4 0 0 1 6.1 -56M-21 -50.9L-20.9 -50.6M4.3 -56.2L4.1 -54.6M-20.9 -50.6A54.7 54.7 0 0 1 4.1 -54.6M9.4 -58L9.2 -56.5M11.1 -57.7L10.8 -56.2M9.2 -56.5A57.3 57.3 0 0 1 10.8 -56.2M12.8 -57.4L12.5 -55.8M14.5 -57L14.1 -55.4M12.5 -55.8A57.1 57.1 0 0 1 14.1 -55.4M10 -56.4L9.9 -56M13.3 -55.6L13.2 -55.3M9.9 -56A56.8 56.8 0 0 1 13.2 -55.3M-8.6 -54.1L-8.5 -53.8M11.6 -55.6L11.1 -53.3M-8.5 -53.8A54.4 54.4 0 0 1 11.1 -53.3M-45.9 -30.1L-44.9 -29.4M1.3 -54.4L1.3 -53.7M-44.9 -29.4A53.7 53.7 0 0 1 1.3 -53.7M-51.1 -22.3L-48.6 -21.2M-25 -47.6L-24.6 -46.9M-48.6 -21.2A53 53 0 0 1 -24.6 -46.9M-48.3 22.6L-46.2 21.7M-38.8 -36.1L-37.4 -34.7M-46.2 21.7A51 51 0 0 1 -37.4 -34.7M16.2 -56.5L15.7 -54.8M17.9 -56L17.3 -54.3M15.7 -54.8A57 57 0 0 1 17.3 -54.3M16.5 -54.5L16.4 -54.3M19.5 -55.5L18.8 -53.5M16.4 -54.3A56.7 56.7 0 0 1 18.8 -53.5M17.6 -53.9L17.5 -53.6M21.1 -54.9L20.3 -52.6M17.5 -53.6A56.4 56.4 0 0 1 20.3 -52.6M25.9 -52.8L25.2 -51.4M27.5 -52L26.7 -50.6M25.2 -51.4A57.3 57.3 0 0 1 26.7 -50.6M26 -51L25.8 -50.7M29 -51.2L28.1 -49.5M25.8 -50.7A56.9 56.9 0 0 1 28.1 -49.5M26.9 -50.1L26.8 -49.9M30.5 -50.3L29.3 -48.4M26.8 -49.9A56.6 56.6 0 0 1 29.3 -48.4M28.1 -49.1L27.9 -48.9M32 -49.4L30.6 -47.3M27.9 -48.9A56.3 56.3 0 0 1 30.6 -47.3M24.3 -53.5L23.2 -51M29.3 -48.1L29.1 -47.8M23.2 -51A56 56 0 0 1 29.1 -47.8M22.8 -54.2L21.6 -51.4M26.2 -49.5L26.1 -49.2M21.6 -51.4A55.7 55.7 0 0 1 26.1 -49.2M33.4 -48.4L32.6 -47.2M34.8 -47.4L33.9 -46.2M32.6 -47.2A57.3 57.3 0 0 1 33.9 -46.2M37.6 -45.2L36.5 -44M38.9 -44.1L37.8 -42.9M36.5 -44A57.2 57.2 0 0 1 37.8 -42.9M40.2 -42.9L39 -41.7M41.4 -41.7L40.2 -40.5M39 -41.7A57.1 57.1 0 0 1 40.2 -40.5M37.2 -43.5L36.8 -43M39.6 -41.1L39.3 -40.8M36.8 -43A56.6 56.6 0 0 1 39.3 -40.8M38 -41.9L37.8 -41.7M42.6 -40.5L40.8 -38.8M37.8 -41.7A56.3 56.3 0 0 1 40.8 -38.8M36.2 -46.3L34.5 -44.1M39.4 -40.3L39.2 -40M34.5 -44.1A56 56 0 0 1 39.2 -40M33.3 -46.7L32.3 -45.4M36.9 -42.1L36.7 -41.9M32.3 -45.4A55.7 55.7 0 0 1 36.7 -41.9M45 -37.9L43.6 -36.8M46.1 -36.6L44.7 -35.5M43.6 -36.8A57.1 57.1 0 0 1 44.7 -35.5M44.2 -36.1L43.9 -35.9M47.1 -35.2L45.5 -34M43.9 -35.9A56.8 56.8 0 0 1 45.5 -34M48.1 -33.8L46.9 -32.9M49.1 -32.3L47.8 -31.5M46.9 -32.9A57.2 57.2 0 0 1 47.8 -31.5M44.7 -35L44.5 -34.8M47.3 -32.2L46.7 -31.7M44.5 -34.8A56.5 56.5 0 0 1 46.7 -31.7M50 -30.9L48.6 -30M50.9 -29.4L49.5 -28.5M48.6 -30A57.1 57.1 0 0 1 49.5 -28.5M45.6 -33.3L45.4 -33.1M49.1 -29.3L48.2 -28.8M45.4 -33.1A56.2 56.2 0 0 1 48.2 -28.8M43.8 -39.2L41.6 -37.3M46.8 -31L46.6 -30.8M41.6 -37.3A55.9 55.9 0 0 1 46.6 -30.8M34.5 -43.7L34.4 -43.5M44.2 -34.1L43.9 -33.8M34.4 -43.5A55.4 55.4 0 0 1 43.9 -33.8M23.8 -50.3L23.5 -49.7M39.4 -38.9L39.1 -38.6M23.5 -49.7A55 55 0 0 1 39.1 -38.6M53.3 -24.8L51.9 -24.1M54 -23.2L52.6 -22.5M51.9 -24.1A57.2 57.2 0 0 1 52.6 -22.5M52.6 -26.3L50.9 -25.5M52.3 -23.3L52 -23.2M50.9 -25.5A56.9 56.9 0 0 1 52 -23.2M54.7 -21.6L53 -20.9M55.3 -19.9L53.6 -19.3M53 -20.9A57 57 0 0 1 53.6 -19.3M51.5 -24.3L51.2 -24.2M53.3 -20.1L53 -20M51.2 -24.2A56.6 56.6 0 0 1 53 -20M55.9 -18.3L54.6 -17.9M56.4 -16.6L55.1 -16.3M54.6 -17.9A57.5 57.5 0 0 1 55.1 -16.3M52.1 -22.1L51.8 -22M54.9 -17.1L53.8 -16.7M51.8 -22A56.3 56.3 0 0 1 53.8 -16.7M51.8 -27.9L49.3 -26.5M52.9 -19.4L52.6 -19.3M49.3 -26.5A56 56 0 0 1 52.6 -19.3M31.8 -44.9L31.3 -44.2M51.1 -23L49.4 -22.2M31.3 -44.2A54.1 54.1 0 0 1 49.4 -22.2M18.9 -53.1L18 -50.7M41.8 -34.4L41.6 -34.2M18 -50.7A53.8 53.8 0 0 1 41.6 -34.2M-50.4 -7.9L-49 -7.7M30.9 -44L28.5 -40.6M-49 -7.7A49.6 49.6 0 0 1 28.5 -40.6M57.3 -13.3L55.7 -12.9M57.7 -11.6L56.1 -11.3M55.7 -12.9A57.2 57.2 0 0 1 56.1 -11.3M56.9 -15L55 -14.5M55.9 -12.1L55.6 -12M55 -14.5A56.9 56.9 0 0 1 55.6 -12M-19.4 -45.6L-19.3 -45.4M55.3 -13.2L47.9 -11.5M-19.3 -45.4A49.3 49.3 0 0 1 47.9 -11.5" stroke="#e2508f"/></g>
<path fill="#2e3a64" d="M48.5 0.5A48.5 48.5 0 0 1 46.8 12.8L29.9 8.2A31 31 0 0 0 31 0.3Z"/>
<text class="sl" transform="rotate(8)" x="40" y="1.8" text-anchor="middle">Phylum</text>
<path fill="#a9e5e4" d="M46.5 13.8A48.5 48.5 0 0 1 35.3 33.3L22.6 21.3A31 31 0 0 0 29.7 8.8Z"/>
<text class="sl" transform="rotate(29.9)" x="40" y="1.8" text-anchor="middle">Class</text>
<path fill="#ddb19d" d="M34.6 34A48.5 48.5 0 0 1 10.5 47.4L6.7 30.3A31 31 0 0 0 22.1 21.7Z"/>
<text class="sl" transform="rotate(61)" x="40" y="1.8" text-anchor="middle">Order</text>
<path fill="#fba26c" d="M9.5 47.6A48.5 48.5 0 0 1 -35.2 33.3L-22.5 21.3A31 31 0 0 0 6.1 30.4Z"/>
<text class="sl" transform="rotate(287.6)" x="-40" y="1.8" text-anchor="middle">Family</text>
<path fill="#7a3b30" d="M-35.9 32.6A48.5 48.5 0 1 1 47.7 -8.8L30.5 -5.6A31 31 0 1 0 -23 20.8Z"/>
<text class="sl" transform="rotate(432.5)" x="-40" y="1.8" text-anchor="middle">Genus</text>
<text class="tn" transform="rotate(-7)" x="66.9" y="1.4" text-anchor="middle" fill="#222" stroke="#222">Egger</text>
<text class="tn" transform="rotate(-7)" x="78.7" y="1.4" text-anchor="middle" fill="#222" stroke="#222">WM</text>
<text class="tn" transform="rotate(-7)" x="90.2" y="1.4" text-anchor="middle" fill="#e0533d" stroke="#e0533d">IVW</text>
<text class="lt" x="138.5" y="-12.8">IPF</text>
<rect x="138.5" y="-11" width="4" height="21.5" fill="url(#lg)"/>
<path d="M138.5 -3.5h0.9M141.6 -3.5h0.9M138.5 2.6h0.9M141.6 2.6h0.9" stroke="#fff" stroke-width="0.5"/>
<text class="lv" x="144.4" y="-8.8">1</text>
<text class="lv" x="144.4" y="-2.1">0.1</text>
<text class="lv" x="144.4" y="4">0.05</text>
<text class="lv" x="144.4" y="10.5">0</text>
</g>
<g transform="translate(172.5 499.7)">
<g class="lab"><text transform="rotate(1.4)" x="98.9">Verrucomicrobia.id.3982</text><text transform="rotate(3.1)" x="98.9">Tenericutes.id.3919</text><text transform="rotate(4.7)" x="98.9">Bacteroidetes.id.905</text><text transform="rotate(6.3)" x="98.9">Proteobacteria.id.2375</text><text transform="rotate(8)" x="98.9">Euryarchaeota.id.55</text><text transform="rotate(9.6)" x="98.9">Actinobacteria.id.400</text><text transform="rotate(11.2)" x="98.9">Cyanobacteria.id.1500</text><text transform="rotate(12.9)" x="98.9">Firmicutes.id.1672</text><text transform="rotate(14.5)" x="98.9">Lentisphaerae.id.2238</text><text transform="rotate(17.3)" x="98.9" class="r">Deltaproteobacteria.id.3087</text><text transform="rotate(19)" x="98.9">Gammaproteobacteria.id.3303</text><text transform="rotate(20.7)" x="98.9">Alphaproteobacteria.id.2379</text><text transform="rotate(22.4)" x="98.9">Betaproteobacteria.id.2867</text><text transform="rotate(24)" x="98.9">Verrucomicrobiae.id.4029</text><text transform="rotate(25.7)" x="98.9">Erysipelotrichia.id.2147</text><text transform="rotate(27.4)" x="98.9">Mollicutes.id.3920</text><text transform="rotate(29.1)" x="98.9">Clostridia.id.1859</text><text transform="rotate(30.7)" x="98.9">Lentisphaeria.id.2250</text><text transform="rotate(32.4)" x="98.9">Actinobacteria.id.419</text><text transform="rotate(34.1)" x="98.9">Methanobacteria.id.119</text><text transform="rotate(35.8)" x="98.9">Bacteroidia.id.912</text><text transform="rotate(37.4)" x="98.9">Bacilli.id.1673</text><text transform="rotate(39.1)" x="98.9">Negativicutes.id.2164</text><text transform="rotate(40.8)" x="98.9">Coriobacteriia.id.809</text><text transform="rotate(42.5)" x="98.9">Melainabacteria.id.1589</text><text transform="rotate(45.3)" x="98.9">Erysipelotrichales.id.2148</text><text transform="rotate(47)" x="98.9">Lactobacillales.id.1800</text><text transform="rotate(48.6)" x="98.9">Verrucomicrobiales.id.4030</text><text transform="rotate(50.3)" x="98.9">Enterobacteriales.id.3468</text><text transform="rotate(51.9)" x="98.9">Gastranaerophilales.id.1591</text><text transform="rotate(53.6)" x="98.9">Coriobacteriales.id.810</text><text transform="rotate(55.2)" x="98.9">NB1n.id.3953</text><text transform="rotate(56.9)" x="98.9" class="r">Selenomonadales.id.2165</text><text transform="rotate(58.5)" x="98.9">MollicutesRF9.id.11579</text><text transform="rotate(60.2)" x="98.9">Clostridiales.id.1863</text><text transform="rotate(61.8)" x="98.9">Desulfovibrionales.id.3156</text><text transform="rotate(63.5)" x="98.9">Burkholderiales.id.2874</text><text transform="rotate(65.1)" x="98.9">Actinomycetales.id.420</text><text transform="rotate(66.8)" x="98.9">Bifidobacteriales.id.432</text><text transform="rotate(68.4)" x="98.9">Bacteroidales.id.913</text><text transform="rotate(70.1)" x="98.9">Rhodospirillales.id.2667</text><text transform="rotate(71.7)" x="98.9">Bacillales.id.1674</text><text transform="rotate(73.4)" x="98.9">Victivallales.id.2254</text><text transform="rotate(75)" x="98.9">Methanobacteriales.id.120</text><text transform="rotate(76.7)" x="98.9">Pasteurellales.id.3643</text><text transform="rotate(79.6)" x="98.9">Bacillaceae.id.1675</text><text transform="rotate(81.3)" x="98.9" class="r">Desulfovibrionaceae.id.3169</text><text transform="rotate(83)" x="98.9">Veillonellaceae.id.2172</text><text transform="rotate(84.7)" x="98.9">BacteroidalesS24.7group.id.11173</text><text transform="rotate(86.4)" x="98.9">Clostridiaceae1.id.1869</text><text transform="rotate(88.1)" x="98.9">Rikenellaceae.id.967</text><text transform="rotate(89.8)" x="98.9">Peptococcaceae.id.2024</text><text transform="rotate(271.5)" x="-98.9" class="e">Lactobacillaceae.id.1836</text><text transform="rotate(273.2)" x="-98.9" class="e">Rhodospirillaceae.id.2717</text><text transform="rotate(274.9)" x="-98.9" class="e">Erysipelotrichaceae.id.2149</text><text transform="rotate(276.6)" x="-98.9" class="e">Prevotellaceae.id.960</text><text transform="rotate(278.3)" x="-98.9" class="e">FamilyXI.id.1936</text><text transform="rotate(280)" x="-98.9" class="e">Lachnospiraceae.id.1987</text><text transform="rotate(281.7)" x="-98.9" class="e">Bacteroidaceae.id.917</text><text transform="rotate(283.4)" x="-98.9" class="e">Victivallaceae.id.2255</text><text transform="rotate(285.1)" x="-98.9" class="e">Defluviitaleaceae.id.1924</text><text transform="rotate(286.8)" x="-98.9" class="e">Ruminococcaceae.id.2050</text><text transform="rotate(288.5)" x="-98.9" class="e">Oxalobacteraceae.id.2966</text><text transform="rotate(290.2)" x="-98.9" class="e">Enterobacteriaceae.id.3469</text><text transform="rotate(291.9)" x="-98.9" class="e">unknownfamily.id.1000001214</text><text transform="rotate(293.6)" x="-98.9" class="e">Verrucomicrobiaceae.id.4036</text><text transform="rotate(295.3)" x="-98.9" class="e">Bifidobacteriaceae.id.433</text><text transform="rotate(297)" x="-98.9" class="e">Coriobacteriaceae.id.811</text><text transform="rotate(298.7)" x="-98.9" class="e">Pasteurellaceae.id.3689</text><text transform="rotate(300.4)" x="-98.9" class="e">Christensenellaceae.id.1866</text><text transform="rotate(302.1)" x="-98.9" class="e">ClostridialesvadinBB60group.id.11286</text><text transform="rotate(303.8)" x="-98.9" class="e">Peptostreptococcaceae.id.2042</text><text transform="rotate(305.5)" x="-98.9" class="e">Acidaminococcaceae.id.2166</text><text transform="rotate(307.2)" x="-98.9" class="e">FamilyXIII.id.1957</text><text transform="rotate(308.9)" x="-98.9" class="e">Actinomycetaceae.id.421</text><text transform="rotate(310.6)" x="-98.9" class="e">Alcaligenaceae.id.2875</text><text transform="rotate(312.3)" x="-98.9" class="e">Porphyromonadaceae.id.943</text><text transform="rotate(314)" x="-98.9" class="e">Methanobacteriaceae.id.121</text><text transform="rotate(315.7)" x="-98.9" class="e">Streptococcaceae.id.1850</text><text transform="rotate(318.6)" x="-98.9" class="e">Prevotella7.id.11182</text><text transform="rotate(320.3)" x="-98.9" class="e">CandidatusSoleaferrea.id.11350</text><text transform="rotate(322)" x="-98.9" class="e">LachnospiraceaeND3007group.id.11317</text><text transform="rotate(323.7)" x="-98.9" class="e">CandidatusSoleaferrea.id.11350</text><text transform="rotate(325.4)" x="-98.9" class="e">Olsenella.id.822</text><text transform="rotate(327.1)" x="-98.9" class="e">LachnospiraceaeNC2004group.id.11316</text><text transform="rotate(328.8)" x="-98.9" class="e">Prevotella9.id.11183</text><text transform="rotate(330.5)" x="-98.9" class="e">Turicibacter.id.2162</text><text transform="rotate(332.2)" x="-98.9" class="e">Roseburia.id.2012</text><text transform="rotate(333.9)" x="-98.9" class="e">RuminococcaceaeUCG.id.2050</text><text transform="rotate(335.6)" x="-98.9" class="e">RuminococcaceaeUCG002.id.11360</text><text transform="rotate(337.3)" x="-98.9" class="e">LachnospiraceaeUCG008.id.11328</text><text transform="rotate(339)" x="-98.9" class="e">Akkermansia.id.4037</text><text transform="rotate(340.7)" x="-98.9" class="e">Barnesiella.id.944</text><text transform="rotate(342.4)" x="-98.9" class="e">Eubacteriumfissicatenagroup.id.14373</text><text transform="rotate(344.1)" x="-98.9" class="e">Coprococcus3.id.11303</text><text transform="rotate(345.7)" x="-98.9" class="e">Adlercreutzia.id.812</text><text transform="rotate(347.4)" x="-98.9" class="e">unknowngenus.id.826</text><text transform="rotate(349.1)" x="-98.9" class="e">Eubacteriumrectalegroup.id.14374</text><text transform="rotate(350.8)" x="-98.9" class="e">Haemophilus.id.3698</text><text transform="rotate(352.5)" x="-98.9" class="e">Clostridiumsensustricto1.id.1873</text><text transform="rotate(354.2)" x="-98.9" class="e">Hungatella.id.11306</text><text transform="rotate(355.9)" x="-98.9" class="e">Collinsella.id.815</text><text transform="rotate(357.6)" x="-98.9" class="e">Ruminiclostridium6.id.11356</text><text transform="rotate(359.3)" x="-98.9" class="e">LachnospiraceaeFCS020group.id.11314</text><text transform="rotate(361)" x="-98.9" class="e">Eubacteriumhalliigroup.id.11338</text><text transform="rotate(362.7)" x="-98.9" class="e">Coprobacter.id.949</text><text transform="rotate(364.4)" x="-98.9" class="e">Dorea.id.1997</text><text transform="rotate(366.1)" x="-98.9" class="e">Eubacteriumruminantiumgroup.id.11340</text><text transform="rotate(367.8)" x="-98.9" class="e">Senegalimassilia.id.11160</text><text transform="rotate(369.5)" x="-98.9" class="e">Parasutterella.id.2892</text><text transform="rotate(371.1)" x="-98.9" class="e">unknowngenus.id.2041</text><text transform="rotate(372.8)" x="-98.9" class="e">Butyricimonas.id.945</text><text transform="rotate(374.5)" x="-98.9" class="e">Bifidobacterium.id.436</text><text transform="rotate(376.2)" x="-98.9" class="e">RuminococcaceaeUCG014.id.11371</text><text transform="rotate(377.9)" x="-98.9" class="e">RuminococcaceaeUCG009.id.11366</text><text transform="rotate(379.6)" x="-98.9" class="e">Eubacteriumventriosumgroup.id.11341</text><text transform="rotate(381.3)" x="-98.9" class="e">unknowngenus.id.959</text><text transform="rotate(383)" x="-98.9" class="e">unknowngenus.id.1000000073</text><text transform="rotate(384.7)" x="-98.9" class="e">Eisenbergiella.id.11304</text><text transform="rotate(386.4)" x="-98.9" class="e">Subdoligranulum.id.2070</text><text transform="rotate(388.1)" x="-98.9" class="e">Methanobrevibacter.id.123</text><text transform="rotate(389.8)" x="-98.9" class="e">LachnospiraceaeUCG004.id.11324</text><text transform="rotate(391.5)" x="-98.9" class="e">LachnospiraceaeUCG003.id.11323</text><text transform="rotate(393.2)" x="-98.9" class="e">Actinomyces.id.423</text><text transform="rotate(394.9)" x="-98.9" class="e">Flavonifractor.id.2059</text><text transform="rotate(396.6)" x="-98.9" class="e">Ruminococcusgauvreauiigroup.id.11342</text><text transform="rotate(398.2)" x="-98.9" class="e">DefluviitaleaceaeUCG011.id.11287</text><text transform="rotate(399.9)" x="-98.9" class="e">Howardella.id.2000</text><text transform="rotate(401.6)" x="-98.9" class="e">Anaerostipes.id.1991</text><text transform="rotate(403.3)" x="-98.9" class="e">ErysipelotrichaceaeUCG003.id.11384</text><text transform="rotate(405)" x="-98.9" class="e">RuminococcaceaeUCG010.id.11367</text><text transform="rotate(406.7)" x="-98.9" class="e">Ruminococcusgnavusgroup.id.14376</text><text transform="rotate(408.4)" x="-98.9" class="e">Romboutsia.id.11347</text><text transform="rotate(410.1)" x="-98.9" class="e">Bilophila.id.3170</text><text transform="rotate(411.8)" x="-98.9" class="e">RuminococcaceaeUCG005.id.11363</text><text transform="rotate(413.5)" x="-98.9" class="e">Enterorhabdus.id.820</text><text transform="rotate(415.2)" x="-98.9" class="e">Alloprevotella.id.961</text><text transform="rotate(416.9)" x="-98.9" class="e">Phascolarctobacterium.id.2168</text><text transform="rotate(418.6)" x="-98.9" class="e">LachnospiraceaeNK4A136group.id.11319</text><text transform="rotate(420.3)" x="-98.9" class="e">RuminococcaceaeUCG003.id.11361</text><text transform="rotate(422)" x="-98.9" class="e">Desulfovibrio.id.3173</text><text transform="rotate(423.6)" x="-98.9" class="e">Anaerotruncus.id.2054</text><text transform="rotate(425.3)" x="-98.9" class="e">Marvinbryantia.id.2005</text><text transform="rotate(427)" x="-98.9" class="e">Veillonella.id.2198</text><text transform="rotate(428.7)" x="-98.9" class="e">RuminococcaceaeUCG011.id.11368</text><text transform="rotate(430.4)" x="-98.9" class="e r">Tyzzerella3.id.11335</text><text transform="rotate(432.1)" x="-98.9" class="e">Oscillibacter.id.2063</text><text transform="rotate(433.8)" x="-98.9" class="e r">RikenellaceaeRC9gutgroup.id.11191</text><text transform="rotate(435.5)" x="-98.9" class="e r">Dialister.id.2183</text><text transform="rotate(437.2)" x="-98.9" class="e r">RuminococcaceaeNK4A214group.id.11358</text><text transform="rotate(438.9)" x="-98.9" class="e r">Anaerofilum.id.2053</text><text transform="rotate(440.6)" x="-98.9" class="e">RuminococcaceaeUCG013.id.11370</text><text transform="rotate(442.3)" x="-98.9" class="e r">Gordonibacter.id.821</text><text transform="rotate(444)" x="-98.9" class="e r">Fusicatenibacter.id.11305</text><text transform="rotate(445.7)" x="-98.9" class="e">Coprococcus1.id.11301</text><text transform="rotate(447.4)" x="-98.9" class="e">Eubacteriumxylanophilumgroup.id.14375</text><text transform="rotate(449.1)" x="-98.9" class="e">Eubacteriumnodatumgroup.id.11297</text><text transform="rotate(270.7)" x="98.9">Coprococcus2.id.11302</text><text transform="rotate(272.4)" x="98.9">Victivallis.id.2256</text><text transform="rotate(274.1)" x="98.9">RuminococcaceaeUCG004.id.11362</text><text transform="rotate(275.8)" x="98.9">LachnospiraceaeUCG010.id.11330</text><text transform="rotate(277.5)" x="98.9">Slackia.id.825</text><text transform="rotate(279.2)" x="98.9">FamilyXIIIUCG001.id.11294</text><text transform="rotate(280.9)" x="98.9">Bacteroides.id.918</text><text transform="rotate(282.6)" x="98.9">Ruminiclostridium5.id.11355</text><text transform="rotate(284.3)" x="98.9">Intestinibacter.id.11345</text><text transform="rotate(286)" x="98.9">unknowngenus.id.1000001214</text><text transform="rotate(287.7)" x="98.9">Ruminococcus1.id.11373</text><text transform="rotate(289.4)" x="98.9">unknowngenus.id.1868</text><text transform="rotate(291.1)" x="98.9">Butyrivibrio.id.1993</text><text transform="rotate(292.8)" x="98.9">Sellimonas.id.14369</text><text transform="rotate(294.5)" x="98.9">Butyricicoccus.id.2055</text><text transform="rotate(296.2)" x="98.9">unknowngenus.id.1000005472</text><text transform="rotate(297.8)" x="98.9">Paraprevotella.id.962</text><text transform="rotate(299.5)" x="98.9">Terrisporobacter.id.11348</text><text transform="rotate(301.2)" x="98.9">Sutterella.id.2896</text><text transform="rotate(302.9)" x="98.9">Alistipes.id.968</text><text transform="rotate(304.6)" x="98.9">Eubacteriumbrachygroup.id.11296</text><text transform="rotate(306.3)" x="98.9">Peptococcus.id.2037</text><text transform="rotate(308)" x="98.9">Oxalobacter.id.2978</text><text transform="rotate(309.7)" x="98.9">unknowngenus.id.2071</text><text transform="rotate(311.4)" x="98.9">Eggerthella.id.819</text><text transform="rotate(313.1)" x="98.9">LachnospiraceaeUCG001.id.11321</text><text transform="rotate(314.8)" x="98.9">unknowngenus.id.2755</text><text transform="rotate(316.5)" x="98.9">Allisonella.id.2174</text><text transform="rotate(318.2)" x="98.9">Lactobacillus.id.1837</text><text transform="rotate(319.9)" x="98.9">EscherichiaShigella.id.3504</text><text transform="rotate(321.6)" x="98.9">Eubacteriumoxidoreducensgroup.id.11339</text><text transform="rotate(323.2)" x="98.9">Oscillospira.id.2064</text><text transform="rotate(324.9)" x="98.9">Clostridiuminnocuumgroup.id.14397</text><text transform="rotate(326.6)" x="98.9">Lactococcus.id.1851</text><text transform="rotate(328.3)" x="98.9">Eubacteriumeligensgroup.id.14372</text><text transform="rotate(330)" x="98.9">Lachnoclostridium.id.11308</text><text transform="rotate(331.7)" x="98.9">Erysipelatoclostridium.id.11381</text><text transform="rotate(333.4)" x="98.9">Ruminococcustorquesgroup.id.14377</text><text transform="rotate(335.1)" x="98.9">Eubacteriumcoprostanoligenesgroup.id.11375</text><text transform="rotate(336.8)" x="98.9">Lachnospira.id.2004</text><text transform="rotate(338.5)" x="98.9">Intestinimonas.id.2062</text><text transform="rotate(340.2)" x="98.9" class="r">Faecalibacterium.id.2057</text><text transform="rotate(341.9)" x="98.9">Ruminococcus2.id.11374</text><text transform="rotate(343.6)" x="98.9" class="r">Holdemania.id.2157</text><text transform="rotate(345.3)" x="98.9">Blautia.id.1992</text><text transform="rotate(347)" x="98.9" class="r">Odoribacter.id.952</text><text transform="rotate(348.7)" x="98.9">Streptococcus.id.1853</text></g>
<path fill="#8296b2" d="M95.8 1A95.8 95.8 0 0 1 92.4 25.3L58.8 16.1A61 61 0 0 0 61 0.6ZM91.9 27.2A95.8 95.8 0 0 1 69.7 65.7L44.4 41.8A61 61 0 0 0 58.5 17.3ZM68.3 67.1A95.8 95.8 0 0 1 20.7 93.5L13.2 59.6A61 61 0 0 0 43.5 42.8ZM18.8 93.9A95.8 95.8 0 0 1 -69.6 65.8L-44.3 41.9A61 61 0 0 0 12 59.8ZM-71 64.4A95.8 95.8 0 1 1 94.2 -17.5L60 -11.1A61 61 0 1 0 -45.2 41Z"/>
<g><path fill="#607094" d="M73.1 0.8A73.1 73.1 0 0 1 73 3.2L60.9 2.6A61 61 0 0 0 61 0.6ZM84.8 3.3A84.9 84.9 0 0 1 84.7 6.1L72.6 5.2A72.8 72.8 0 0 0 72.7 2.8ZM84.5 8.1A84.9 84.9 0 0 1 84.2 10.9L72.2 9.4A72.8 72.8 0 0 0 72.5 7ZM44.2 58.2A73.1 73.1 0 0 1 42.3 59.6L35.3 49.8A61 61 0 0 0 36.9 48.6ZM58 76.3A95.8 95.8 0 0 1 55.4 78.1L48.9 69A84.6 84.6 0 0 0 51.2 67.3ZM51.2 81A95.8 95.8 0 0 1 48.5 82.6L42.8 73A84.6 84.6 0 0 0 45.2 71.5ZM23.4 92.9A95.8 95.8 0 0 1 20.7 93.5L18.3 82.6A84.6 84.6 0 0 0 20.7 82ZM-15.9 71.4A73.1 73.1 0 0 1 -18.3 70.8L-15.3 59.1A61 61 0 0 0 -13.2 59.5ZM-28.1 80.1A84.9 84.9 0 0 1 -30.8 79.1L-26.5 67.8A72.8 72.8 0 0 0 -24.1 68.7ZM-67.8 27.2A73.1 73.1 0 0 1 -68.7 24.9L-57.3 20.8A61 61 0 0 0 -56.6 22.7ZM-89.9 33.1A95.8 95.8 0 0 1 -91 30L-80.3 26.5A84.6 84.6 0 0 0 -79.4 29.2ZM-84.9 -0.2A84.9 84.9 0 0 1 -84.8 -3.1L-72.8 -2.6A72.8 72.8 0 0 0 -72.8 -0.2ZM-48.7 -82.5A95.8 95.8 0 0 1 -45.9 -84.1L-40.5 -74.2A84.6 84.6 0 0 0 -43 -72.8ZM-46.3 -83.9A95.8 95.8 0 0 1 -43.4 -85.4L-38.3 -75.4A84.6 84.6 0 0 0 -40.9 -74.1ZM-41.2 -86.5A95.8 95.8 0 0 1 -38.3 -87.8L-33.8 -77.5A84.6 84.6 0 0 0 -36.4 -76.4ZM47.2 -70.6A84.9 84.9 0 0 1 49.6 -68.9L42.5 -59.1A72.8 72.8 0 0 0 40.5 -60.5Z"/><path fill="#7c94b0" d="M84.9 0.9A84.9 84.9 0 0 1 84.8 3.7L72.7 3.2A72.8 72.8 0 0 0 72.8 0.8ZM71.9 13.2A73.1 73.1 0 0 1 71.4 15.6L59.6 13A61 61 0 0 0 60 11ZM-95.2 11.1A95.8 95.8 0 0 1 -95.5 7.8L-84.3 6.9A84.6 84.6 0 0 0 -84 9.8ZM8.3 -95.4A95.8 95.8 0 0 1 11.6 -95.1L10.2 -84A84.6 84.6 0 0 0 7.3 -84.3ZM46 -84A95.8 95.8 0 0 1 48.8 -82.4L43.1 -72.8A84.6 84.6 0 0 0 40.6 -74.2ZM37 -63.1A73.1 73.1 0 0 1 39.1 -61.8L32.6 -51.5A61 61 0 0 0 30.9 -52.6Z"/><path fill="#647498" d="M95.8 1A95.8 95.8 0 0 1 95.7 4.2L84.5 3.7A84.6 84.6 0 0 0 84.6 0.9ZM72.9 4.9A73.1 73.1 0 0 1 72.7 7.3L60.7 6.1A61 61 0 0 0 60.9 4.1ZM-30.5 79.2A84.9 84.9 0 0 1 -33.2 78.1L-28.5 67A72.8 72.8 0 0 0 -26.2 67.9ZM-43.4 58.9A73.1 73.1 0 0 1 -45.3 57.3L-37.8 47.8A61 61 0 0 0 -36.2 49.1ZM-79.7 53.2A95.8 95.8 0 0 1 -81.4 50.5L-71.9 44.6A84.6 84.6 0 0 0 -70.4 47ZM-78.8 31.6A84.9 84.9 0 0 1 -79.8 28.9L-68.4 24.8A72.8 72.8 0 0 0 -67.6 27.1ZM-91.7 27.7A95.8 95.8 0 0 1 -92.6 24.6L-81.8 21.7A84.6 84.6 0 0 0 -81 24.4ZM-93.2 22.2A95.8 95.8 0 0 1 -93.9 19L-82.9 16.8A84.6 84.6 0 0 0 -82.3 19.6ZM-84.8 4.8A84.9 84.9 0 0 1 -84.9 1.9L-72.8 1.7A72.8 72.8 0 0 0 -72.7 4.1ZM-59.4 -42.7A73.1 73.1 0 0 1 -57.9 -44.7L-48.3 -37.3A61 61 0 0 0 -49.5 -35.6ZM-21.4 -69.9A73.1 73.1 0 0 1 -19 -70.6L-15.9 -58.9A61 61 0 0 0 -17.9 -58.3ZM12.4 -84A84.9 84.9 0 0 1 15.2 -83.5L13 -71.6A72.8 72.8 0 0 0 10.6 -72ZM45.1 -71.9A84.9 84.9 0 0 1 47.5 -70.4L40.7 -60.3A72.8 72.8 0 0 0 38.7 -61.7ZM49.3 -69.1A84.9 84.9 0 0 1 51.6 -67.4L44.2 -57.8A72.8 72.8 0 0 0 42.2 -59.3ZM64.1 -55.7A84.9 84.9 0 0 1 65.9 -53.5L56.5 -45.9A72.8 72.8 0 0 0 55 -47.7ZM64.9 -33.7A73.1 73.1 0 0 1 66 -31.5L55.1 -26.3A61 61 0 0 0 54.1 -28.1Z"/><path fill="#6c80a0" d="M73 2.8A73.1 73.1 0 0 1 72.9 5.2L60.8 4.4A61 61 0 0 0 61 2.4ZM47.4 70.4A84.9 84.9 0 0 1 45.1 72L38.6 61.7A72.8 72.8 0 0 0 40.7 60.4ZM10 72.4A73.1 73.1 0 0 1 7.6 72.7L6.3 60.7A61 61 0 0 0 8.4 60.4ZM9.2 84.4A84.9 84.9 0 0 1 6.3 84.7L5.4 72.6A72.8 72.8 0 0 0 7.9 72.4ZM-3 73A73.1 73.1 0 0 1 -5.5 72.9L-4.5 60.8A61 61 0 0 0 -2.5 60.9ZM-36.1 63.6A73.1 73.1 0 0 1 -38.2 62.3L-31.9 52A61 61 0 0 0 -30.1 53.1ZM-59.1 75.4A95.8 95.8 0 0 1 -61.6 73.3L-54.4 64.8A84.6 84.6 0 0 0 -52.2 66.6ZM-48.4 54.8A73.1 73.1 0 0 1 -50.3 53.1L-41.9 44.3A61 61 0 0 0 -40.4 45.7ZM-55.6 47.5A73.1 73.1 0 0 1 -57.2 45.6L-47.7 38A61 61 0 0 0 -46.4 39.6ZM-84.7 -5.2A84.9 84.9 0 0 1 -84.5 -8.1L-72.5 -6.9A72.8 72.8 0 0 0 -72.7 -4.5ZM-92.4 -25.4A95.8 95.8 0 0 1 -91.5 -28.5L-80.8 -25.2A84.6 84.6 0 0 0 -81.6 -22.4ZM-81 -51.2A95.8 95.8 0 0 1 -79.2 -53.9L-69.9 -47.6A84.6 84.6 0 0 0 -71.5 -45.2ZM-55.9 -77.8A95.8 95.8 0 0 1 -53.2 -79.7L-47 -70.4A84.6 84.6 0 0 0 -49.3 -68.7Z"/><path fill="#6c7c9c" d="M95.7 3.7A95.8 95.8 0 0 1 95.6 6.9L84.4 6.1A84.6 84.6 0 0 0 84.5 3.3ZM66.7 52.6A84.9 84.9 0 0 1 64.8 54.8L55.6 47A72.8 72.8 0 0 0 57.2 45.1ZM25.9 68.4A73.1 73.1 0 0 1 23.6 69.2L19.7 57.7A61 61 0 0 0 21.6 57ZM16.6 83.3A84.9 84.9 0 0 1 13.8 83.8L11.8 71.8A72.8 72.8 0 0 0 14.3 71.4ZM-23.6 92.9A95.8 95.8 0 0 1 -26.7 92L-23.6 81.2A84.6 84.6 0 0 0 -20.8 82ZM-23.3 81.6A84.9 84.9 0 0 1 -26.1 80.8L-22.4 69.3A72.8 72.8 0 0 0 -20 70ZM-49.7 81.9A95.8 95.8 0 0 1 -52.5 80.1L-46.4 70.8A84.6 84.6 0 0 0 -43.9 72.3ZM-78.1 55.5A95.8 95.8 0 0 1 -79.9 52.9L-70.6 46.7A84.6 84.6 0 0 0 -68.9 49ZM-70.6 47.1A84.9 84.9 0 0 1 -72.2 44.7L-61.9 38.3A72.8 72.8 0 0 0 -60.5 40.4ZM-69.3 23.2A73.1 73.1 0 0 1 -70.1 20.8L-58.5 17.4A61 61 0 0 0 -57.9 19.3ZM-94.8 13.9A95.8 95.8 0 0 1 -95.2 10.7L-84.1 9.4A84.6 84.6 0 0 0 -83.7 12.3ZM-74.3 -41.1A84.9 84.9 0 0 1 -72.9 -43.6L-62.5 -37.4A72.8 72.8 0 0 0 -63.7 -35.2ZM-70.4 -47.5A84.9 84.9 0 0 1 -68.7 -49.8L-58.9 -42.7A72.8 72.8 0 0 0 -60.3 -40.7ZM-67.4 -51.6A84.9 84.9 0 0 1 -65.7 -53.8L-56.3 -46.2A72.8 72.8 0 0 0 -57.8 -44.2ZM-68.7 -66.8A95.8 95.8 0 0 1 -66.4 -69L-58.6 -61A84.6 84.6 0 0 0 -60.7 -59ZM-64.6 -70.7A95.8 95.8 0 0 1 -62.2 -72.9L-54.9 -64.3A84.6 84.6 0 0 0 -57.1 -62.4ZM17 -71.1A73.1 73.1 0 0 1 19.4 -70.5L16.2 -58.8A61 61 0 0 0 14.2 -59.3ZM47.5 -55.5A73.1 73.1 0 0 1 49.4 -53.9L41.2 -45A61 61 0 0 0 39.7 -46.4ZM67.3 -51.8A84.9 84.9 0 0 1 69 -49.5L59.2 -42.4A72.8 72.8 0 0 0 57.7 -44.4ZM70.2 -47.7A84.9 84.9 0 0 1 71.8 -45.3L61.6 -38.9A72.8 72.8 0 0 0 60.2 -40.9ZM65.8 -31.7A73.1 73.1 0 0 1 66.9 -29.5L55.8 -24.6A61 61 0 0 0 54.9 -26.5ZM79.4 -30A84.9 84.9 0 0 1 80.4 -27.2L68.9 -23.4A72.8 72.8 0 0 0 68.1 -25.7Z"/><path fill="#58688c" d="M84.7 5.7A84.9 84.9 0 0 1 84.5 8.5L72.4 7.3A72.8 72.8 0 0 0 72.6 4.9ZM50.6 52.7A73.1 73.1 0 0 1 48.9 54.4L40.8 45.4A61 61 0 0 0 42.3 44ZM53.3 66.1A84.9 84.9 0 0 1 51.1 67.8L43.8 58.1A72.8 72.8 0 0 0 45.7 56.7ZM-54.5 78.8A95.8 95.8 0 0 1 -57.2 76.9L-50.5 67.9A84.6 84.6 0 0 0 -48.1 69.6ZM-61.3 73.6A95.8 95.8 0 0 1 -63.8 71.5L-56.3 63.1A84.6 84.6 0 0 0 -54.1 65ZM-67.7 51.2A84.9 84.9 0 0 1 -69.4 48.9L-59.5 41.9A72.8 72.8 0 0 0 -58 43.9ZM-95.8 -3.1A95.8 95.8 0 0 1 -95.6 -6.3L-84.4 -5.6A84.6 84.6 0 0 0 -84.6 -2.7ZM-84.3 -10.2A84.9 84.9 0 0 1 -83.9 -13.1L-71.9 -11.2A72.8 72.8 0 0 0 -72.3 -8.8ZM-94.7 -14.3A95.8 95.8 0 0 1 -94.2 -17.5L-83.2 -15.5A84.6 84.6 0 0 0 -83.6 -12.7ZM55.6 -78A95.8 95.8 0 0 1 58.2 -76.1L51.4 -67.2A84.6 84.6 0 0 0 49.1 -68.9ZM52.3 -51.1A73.1 73.1 0 0 1 54 -49.3L45 -41.2A61 61 0 0 0 43.6 -42.7ZM77.5 -34.6A84.9 84.9 0 0 1 78.7 -31.9L67.4 -27.4A72.8 72.8 0 0 0 66.5 -29.7Z"/><path fill="#7084a4" d="M95.6 6.5A95.8 95.8 0 0 1 95.3 9.6L84.2 8.5A84.6 84.6 0 0 0 84.4 5.7ZM83.5 15.3A84.9 84.9 0 0 1 83 18.1L71.1 15.5A72.8 72.8 0 0 0 71.6 13.1ZM64.4 34.6A73.1 73.1 0 0 1 63.2 36.7L52.7 30.6A61 61 0 0 0 53.7 28.8ZM46.4 83.8A95.8 95.8 0 0 1 43.6 85.3L38.5 75.3A84.6 84.6 0 0 0 41 74ZM33.6 64.9A73.1 73.1 0 0 1 31.4 66L26.2 55.1A61 61 0 0 0 28 54.2ZM26.1 92.2A95.8 95.8 0 0 1 23 93L20.3 82.1A84.6 84.6 0 0 0 23 81.4ZM-18.4 82.9A84.9 84.9 0 0 1 -21.2 82.2L-18.2 70.5A72.8 72.8 0 0 0 -15.8 71.1ZM-50 53.3A73.1 73.1 0 0 1 -51.8 51.6L-43.2 43A61 61 0 0 0 -41.8 44.5ZM-84.1 45.9A95.8 95.8 0 0 1 -85.6 43.1L-75.6 38A84.6 84.6 0 0 0 -74.2 40.6ZM-81.3 24.5A84.9 84.9 0 0 1 -82.1 21.8L-70.4 18.7A72.8 72.8 0 0 0 -69.7 21ZM-56.7 -46.1A73.1 73.1 0 0 1 -55.1 -48L-46 -40A61 61 0 0 0 -47.3 -38.5ZM27.7 -91.7A95.8 95.8 0 0 1 30.8 -90.7L27.2 -80.1A84.6 84.6 0 0 0 24.5 -81ZM27 -80.5A84.9 84.9 0 0 1 29.7 -79.5L25.5 -68.2A72.8 72.8 0 0 0 23.1 -69ZM93.6 -20.2A95.8 95.8 0 0 1 94.2 -17.5L83.2 -15.4A84.6 84.6 0 0 0 82.7 -17.9Z"/><path fill="#7084a0" d="M72.8 7A73.1 73.1 0 0 1 72.5 9.4L60.5 7.8A61 61 0 0 0 60.7 5.8ZM68.2 50.6A84.9 84.9 0 0 1 66.4 52.9L57 45.3A72.8 72.8 0 0 0 58.4 43.4ZM34.6 77.5A84.9 84.9 0 0 1 32 78.6L27.4 67.4A72.8 72.8 0 0 0 29.7 66.5ZM18.8 93.9A95.8 95.8 0 0 1 15.6 94.5L13.7 83.5A84.6 84.6 0 0 0 16.6 83ZM-3.9 95.7A95.8 95.8 0 0 1 -7.1 95.5L-6.3 84.4A84.6 84.6 0 0 0 -3.4 84.5ZM-26.3 68.2A73.1 73.1 0 0 1 -28.6 67.3L-23.8 56.1A61 61 0 0 0 -21.9 56.9ZM-48.3 69.8A84.9 84.9 0 0 1 -50.7 68.1L-43.4 58.4A72.8 72.8 0 0 0 -41.4 59.9ZM-50.4 68.4A84.9 84.9 0 0 1 -52.7 66.6L-45.2 57.1A72.8 72.8 0 0 0 -43.2 58.6ZM-83 -17.6A84.9 84.9 0 0 1 -82.4 -20.5L-70.7 -17.5A72.8 72.8 0 0 0 -71.2 -15.1ZM19.1 -70.6A73.1 73.1 0 0 1 21.5 -69.9L17.9 -58.3A61 61 0 0 0 15.9 -58.9ZM42.9 -73.2A84.9 84.9 0 0 1 45.4 -71.7L38.9 -61.5A72.8 72.8 0 0 0 36.8 -62.8ZM53.3 -79.6A95.8 95.8 0 0 1 55.9 -77.8L49.4 -68.7A84.6 84.6 0 0 0 47 -70.3Z"/><path fill="#7488a4" d="M95.4 9.2A95.8 95.8 0 0 1 95 12.3L83.9 10.9A84.6 84.6 0 0 0 84.2 8.1ZM58.8 61.2A84.9 84.9 0 0 1 56.8 63.1L48.7 54.1A72.8 72.8 0 0 0 50.4 52.5ZM-5.1 72.9A73.1 73.1 0 0 1 -7.6 72.7L-6.4 60.7A61 61 0 0 0 -4.3 60.8ZM-74.5 40.7A84.9 84.9 0 0 1 -75.8 38.2L-65 32.7A72.8 72.8 0 0 0 -63.9 34.9ZM-70 21.1A73.1 73.1 0 0 1 -70.7 18.7L-59 15.6A61 61 0 0 0 -58.4 17.6ZM-72.6 -8.8A73.1 73.1 0 0 1 -72.2 -11.3L-60.3 -9.4A61 61 0 0 0 -60.6 -7.3ZM-81.9 -22.5A84.9 84.9 0 0 1 -81 -25.3L-69.5 -21.7A72.8 72.8 0 0 0 -70.2 -19.3ZM-80.4 -27.3A84.9 84.9 0 0 1 -79.4 -30L-68.1 -25.7A72.8 72.8 0 0 0 -68.9 -23.4ZM-79.5 -29.7A84.9 84.9 0 0 1 -78.5 -32.4L-67.3 -27.7A72.8 72.8 0 0 0 -68.2 -25.5ZM-83.8 -46.3A95.8 95.8 0 0 1 -82.2 -49.2L-72.6 -43.4A84.6 84.6 0 0 0 -74 -40.9ZM-82.4 -48.8A95.8 95.8 0 0 1 -80.7 -51.6L-71.3 -45.5A84.6 84.6 0 0 0 -72.8 -43.1ZM-46.1 -56.8A73.1 73.1 0 0 1 -44.1 -58.3L-36.8 -48.6A61 61 0 0 0 -38.4 -47.4ZM-45.3 -71.8A84.9 84.9 0 0 1 -42.9 -73.3L-36.8 -62.8A72.8 72.8 0 0 0 -38.9 -61.6ZM-10.2 -84.3A84.9 84.9 0 0 1 -7.3 -84.6L-6.3 -72.5A72.8 72.8 0 0 0 -8.7 -72.3ZM9.9 -84.3A84.9 84.9 0 0 1 12.7 -83.9L10.9 -72A72.8 72.8 0 0 0 8.5 -72.3ZM25.3 -68.6A73.1 73.1 0 0 1 27.6 -67.7L23 -56.5A61 61 0 0 0 21.1 -57.2ZM40.9 -86.6A95.8 95.8 0 0 1 43.9 -85.2L38.7 -75.2A84.6 84.6 0 0 0 36.2 -76.5ZM40.6 -60.8A73.1 73.1 0 0 1 42.7 -59.4L35.6 -49.5A61 61 0 0 0 33.9 -50.7ZM65.7 -53.8A84.9 84.9 0 0 1 67.5 -51.5L57.9 -44.2A72.8 72.8 0 0 0 56.3 -46.1Z"/><path fill="#e0c4b4" d="M72.5 9.1A73.1 73.1 0 0 1 72.2 11.5L60.2 9.6A61 61 0 0 0 60.5 7.6ZM-19.3 -70.5A73.1 73.1 0 0 1 -16.9 -71.1L-14.1 -59.3A61 61 0 0 0 -16.1 -58.8ZM82.4 -20.4A84.9 84.9 0 0 1 83.1 -17.6L71.2 -15.1A72.8 72.8 0 0 0 70.7 -17.5Z"/><path fill="#88a0b8" d="M84.2 10.5A84.9 84.9 0 0 1 83.9 13.3L71.9 11.4A72.8 72.8 0 0 0 72.2 9ZM72.2 11.1A73.1 73.1 0 0 1 71.8 13.5L59.9 11.3A61 61 0 0 0 60.3 9.3ZM71 17.3A73.1 73.1 0 0 1 70.5 19.3L58.8 16.1A61 61 0 0 0 59.3 14.4ZM79.9 28.8A84.9 84.9 0 0 1 78.8 31.5L67.6 27A72.8 72.8 0 0 0 68.5 24.7ZM3.6 73A73.1 73.1 0 0 1 1.1 73.1L0.9 61A61 61 0 0 0 3 60.9ZM-41.9 73.8A84.9 84.9 0 0 1 -44.4 72.4L-38.1 62.1A72.8 72.8 0 0 0 -35.9 63.3ZM-39.8 61.3A73.1 73.1 0 0 1 -41.9 59.9L-34.9 50A61 61 0 0 0 -33.2 51.2ZM-41.6 60.1A73.1 73.1 0 0 1 -43.6 58.7L-36.4 49A61 61 0 0 0 -34.7 50.2ZM-64.1 35A73.1 73.1 0 0 1 -65.3 32.9L-54.5 27.4A61 61 0 0 0 -53.5 29.2ZM-82.6 19.7A84.9 84.9 0 0 1 -83.2 16.9L-71.3 14.5A72.8 72.8 0 0 0 -70.8 16.9ZM-71.6 14.8A73.1 73.1 0 0 1 -72 12.4L-60.1 10.4A61 61 0 0 0 -59.7 12.4ZM-72 12.7A73.1 73.1 0 0 1 -72.4 10.3L-60.4 8.6A61 61 0 0 0 -60.1 10.6ZM-72.3 10.6A73.1 73.1 0 0 1 -72.6 8.1L-60.6 6.8A61 61 0 0 0 -60.4 8.8ZM-67.7 -27.6A73.1 73.1 0 0 1 -66.7 -29.8L-55.7 -24.9A61 61 0 0 0 -56.5 -23ZM-8.6 -95.4A95.8 95.8 0 0 1 -5.4 -95.6L-4.8 -84.5A84.6 84.6 0 0 0 -7.6 -84.3ZM7.4 -84.6A84.9 84.9 0 0 1 10.2 -84.3L8.8 -72.3A72.8 72.8 0 0 0 6.3 -72.5ZM13.9 -94.8A95.8 95.8 0 0 1 17.1 -94.3L15.1 -83.2A84.6 84.6 0 0 0 12.3 -83.7ZM30.4 -90.8A95.8 95.8 0 0 1 33.5 -89.7L29.6 -79.3A84.6 84.6 0 0 0 26.9 -80.2ZM27.3 -67.8A73.1 73.1 0 0 1 29.6 -66.9L24.7 -55.8A61 61 0 0 0 22.8 -56.6ZM29.3 -67A73.1 73.1 0 0 1 31.5 -65.9L26.3 -55A61 61 0 0 0 24.4 -55.9ZM62.3 -72.8A95.8 95.8 0 0 1 64.7 -70.6L57.1 -62.4A84.6 84.6 0 0 0 55 -64.3ZM72.3 -62.8A95.8 95.8 0 0 1 74.4 -60.3L65.7 -53.3A84.6 84.6 0 0 0 63.9 -55.5Z"/><path fill="#849cb4" d="M95.1 11.9A95.8 95.8 0 0 1 94.6 15L83.6 13.3A84.6 84.6 0 0 0 83.9 10.5ZM91 29.9A95.8 95.8 0 0 1 90 32.9L79.4 29.1A84.6 84.6 0 0 0 80.4 26.4ZM65.4 32.7A73.1 73.1 0 0 1 64.3 34.9L53.6 29.1A61 61 0 0 0 54.6 27.3ZM39 87.5A95.8 95.8 0 0 1 36.1 88.7L31.9 78.4A84.6 84.6 0 0 0 34.5 77.3ZM1.4 73.1A73.1 73.1 0 0 1 -1.1 73.1L-0.9 61A61 61 0 0 0 1.2 61ZM-37.9 62.5A73.1 73.1 0 0 1 -40.1 61.1L-33.4 51A61 61 0 0 0 -31.7 52.1ZM-72.8 -6.7A73.1 73.1 0 0 1 -72.5 -9.1L-60.5 -7.6A61 61 0 0 0 -60.7 -5.6ZM-73.1 -43.2A84.9 84.9 0 0 1 -71.5 -45.7L-61.4 -39.2A72.8 72.8 0 0 0 -62.6 -37.1ZM-50.9 -52.5A73.1 73.1 0 0 1 -49.1 -54.2L-41 -45.2A61 61 0 0 0 -42.5 -43.8ZM-39 -61.8A73.1 73.1 0 0 1 -36.9 -63.1L-30.8 -52.6A61 61 0 0 0 -32.6 -51.6ZM-37.2 -62.9A73.1 73.1 0 0 1 -35 -64.2L-29.2 -53.5A61 61 0 0 0 -31 -52.5ZM-7.7 -84.6A84.9 84.9 0 0 1 -4.8 -84.8L-4.1 -72.7A72.8 72.8 0 0 0 -6.6 -72.5ZM-0.1 -84.9A84.9 84.9 0 0 1 2.7 -84.9L2.3 -72.8A72.8 72.8 0 0 0 -0.1 -72.8ZM2.4 -84.9A84.9 84.9 0 0 1 5.2 -84.7L4.5 -72.7A72.8 72.8 0 0 0 2 -72.8ZM5.5 -95.6A95.8 95.8 0 0 1 8.7 -95.4L7.7 -84.2A84.6 84.6 0 0 0 4.9 -84.5ZM8.5 -72.6A73.1 73.1 0 0 1 11 -72.3L9.1 -60.3A61 61 0 0 0 7.1 -60.6ZM31.7 -78.8A84.9 84.9 0 0 1 34.3 -77.6L29.4 -66.6A72.8 72.8 0 0 0 27.2 -67.5ZM70.4 -64.9A95.8 95.8 0 0 1 72.6 -62.5L64.1 -55.2A84.6 84.6 0 0 0 62.2 -57.3ZM86.3 -41.6A95.8 95.8 0 0 1 87.7 -38.7L77.4 -34.1A84.6 84.6 0 0 0 76.2 -36.7ZM88.6 -36.4A95.8 95.8 0 0 1 89.8 -33.4L79.3 -29.5A84.6 84.6 0 0 0 78.2 -32.2Z"/><path fill="#8094b0" d="M83.9 12.9A84.9 84.9 0 0 1 83.4 15.7L71.5 13.5A72.8 72.8 0 0 0 71.9 11.1ZM37.3 62.9A73.1 73.1 0 0 1 35.2 64.1L29.3 53.5A61 61 0 0 0 31.1 52.5ZM31.3 90.5A95.8 95.8 0 0 1 28.3 91.5L25 80.8A84.6 84.6 0 0 0 27.7 79.9ZM-0.8 73.1A73.1 73.1 0 0 1 -3.3 73L-2.7 60.9A61 61 0 0 0 -0.7 61ZM-16 83.4A84.9 84.9 0 0 1 -18.8 82.8L-16.1 71A72.8 72.8 0 0 0 -13.7 71.5ZM-44.1 72.6A84.9 84.9 0 0 1 -46.5 71L-39.9 60.9A72.8 72.8 0 0 0 -37.8 62.2ZM-46.2 71.2A84.9 84.9 0 0 1 -48.6 69.6L-41.7 59.7A72.8 72.8 0 0 0 -39.6 61.1ZM-52.1 80.4A95.8 95.8 0 0 1 -54.9 78.5L-48.4 69.4A84.6 84.6 0 0 0 -46 71ZM-83.6 14.8A84.9 84.9 0 0 1 -84.1 11.9L-72.1 10.2A72.8 72.8 0 0 0 -71.7 12.7ZM-66.9 -29.6A73.1 73.1 0 0 1 -65.8 -31.8L-54.9 -26.5A61 61 0 0 0 -55.8 -24.7ZM-52.4 -50.9A73.1 73.1 0 0 1 -50.7 -52.7L-42.3 -44A61 61 0 0 0 -43.8 -42.5ZM-17.1 -94.3A95.8 95.8 0 0 1 -13.9 -94.8L-12.2 -83.7A84.6 84.6 0 0 0 -15.1 -83.2ZM19.7 -82.6A84.9 84.9 0 0 1 22.5 -81.9L19.3 -70.2A72.8 72.8 0 0 0 16.9 -70.8ZM38.8 -61.9A73.1 73.1 0 0 1 40.9 -60.6L34.1 -50.6A61 61 0 0 0 32.4 -51.7ZM60.1 -74.6A95.8 95.8 0 0 1 62.6 -72.5L55.3 -64A84.6 84.6 0 0 0 53.1 -65.9ZM68.5 -67A95.8 95.8 0 0 1 70.7 -64.6L62.4 -57.1A84.6 84.6 0 0 0 60.5 -59.2Z"/><path fill="#94b0c4" d="M94.7 14.6A95.8 95.8 0 0 1 94.1 17.7L83.1 15.6A84.6 84.6 0 0 0 83.6 12.9ZM68 26.8A73.1 73.1 0 0 1 67.1 29.1L56 24.3A61 61 0 0 0 56.7 22.4ZM67.2 28.8A73.1 73.1 0 0 1 66.2 31L55.2 25.9A61 61 0 0 0 56.1 24ZM-71 -17.3A73.1 73.1 0 0 1 -70.4 -19.7L-58.7 -16.4A61 61 0 0 0 -59.3 -14.4ZM-4.4 -73A73.1 73.1 0 0 1 -2 -73.1L-1.6 -61A61 61 0 0 0 -3.7 -60.9ZM-0.1 -73.1A73.1 73.1 0 0 1 2.4 -73.1L2 -61A61 61 0 0 0 -0.1 -61ZM43.5 -85.4A95.8 95.8 0 0 1 46.4 -83.8L40.9 -74A84.6 84.6 0 0 0 38.4 -75.4ZM79.2 -53.9A95.8 95.8 0 0 1 81 -51.1L71.5 -45.2A84.6 84.6 0 0 0 70 -47.6Z"/><path fill="#98b4c8" d="M94.2 17.3A95.8 95.8 0 0 1 93.6 20.4L82.7 18A84.6 84.6 0 0 0 83.2 15.3ZM40.8 60.6A73.1 73.1 0 0 1 38.8 62L32.4 51.7A61 61 0 0 0 34.1 50.6ZM-73 4.1A73.1 73.1 0 0 1 -73.1 1.7L-61 1.4A61 61 0 0 0 -60.9 3.5ZM-47.7 -55.4A73.1 73.1 0 0 1 -45.8 -57L-38.2 -47.5A61 61 0 0 0 -39.8 -46.2ZM-3 -95.8A95.8 95.8 0 0 1 0.3 -95.8L0.2 -84.6A84.6 84.6 0 0 0 -2.6 -84.6ZM33.1 -89.9A95.8 95.8 0 0 1 36.1 -88.7L31.9 -78.3A84.6 84.6 0 0 0 29.2 -79.4ZM34 -77.8A84.9 84.9 0 0 1 36.6 -76.6L31.4 -65.7A72.8 72.8 0 0 0 29.2 -66.7ZM82.3 -49.1A95.8 95.8 0 0 1 83.9 -46.3L74.1 -40.9A84.6 84.6 0 0 0 72.7 -43.3Z"/><path fill="#98b0c4" d="M71.5 15.2A73.1 73.1 0 0 1 71 17.6L59.2 14.7A61 61 0 0 0 59.7 12.7ZM-70.5 -19.4A73.1 73.1 0 0 1 -69.8 -21.8L-58.2 -18.2A61 61 0 0 0 -58.8 -16.2ZM74.1 -60.7A95.8 95.8 0 0 1 76.2 -58.1L67.3 -51.3A84.6 84.6 0 0 0 65.5 -53.6Z"/><path fill="#7c90ac" d="M83 17.7A84.9 84.9 0 0 1 82.4 20.4L70.7 17.5A72.8 72.8 0 0 0 71.2 15.2ZM80.7 26.5A84.9 84.9 0 0 1 79.7 29.2L68.4 25A72.8 72.8 0 0 0 69.2 22.7ZM90.1 32.5A95.8 95.8 0 0 1 89 35.5L78.6 31.4A84.6 84.6 0 0 0 79.6 28.7ZM81.6 50.2A95.8 95.8 0 0 1 79.9 52.9L70.5 46.7A84.6 84.6 0 0 0 72.1 44.3ZM45.4 71.8A84.9 84.9 0 0 1 43 73.2L36.8 62.8A72.8 72.8 0 0 0 38.9 61.5ZM35.4 63.9A73.1 73.1 0 0 1 33.3 65.1L27.8 54.3A61 61 0 0 0 29.6 53.4ZM44 85.1A95.8 95.8 0 0 1 41.2 86.5L36.4 76.4A84.6 84.6 0 0 0 38.9 75.1ZM5.7 72.9A73.1 73.1 0 0 1 3.2 73L2.7 60.9A61 61 0 0 0 4.8 60.8ZM1.8 95.8A95.8 95.8 0 0 1 -1.5 95.8L-1.3 84.6A84.6 84.6 0 0 0 1.6 84.6ZM-12.4 95A95.8 95.8 0 0 1 -15.6 94.5L-13.8 83.5A84.6 84.6 0 0 0 -10.9 83.9ZM-45.1 57.5A73.1 73.1 0 0 1 -47 56L-39.2 46.7A61 61 0 0 0 -37.6 48ZM-59.6 42.4A73.1 73.1 0 0 1 -61 40.3L-50.9 33.7A61 61 0 0 0 -49.7 35.4ZM-79.7 29.3A84.9 84.9 0 0 1 -80.6 26.6L-69.1 22.8A72.8 72.8 0 0 0 -68.3 25.1ZM-71.1 17A73.1 73.1 0 0 1 -71.6 14.5L-59.8 12.1A61 61 0 0 0 -59.3 14.1ZM-84 12.3A84.9 84.9 0 0 1 -84.4 9.4L-72.3 8.1A72.8 72.8 0 0 0 -72 10.5ZM-84.3 9.8A84.9 84.9 0 0 1 -84.6 6.9L-72.6 6A72.8 72.8 0 0 0 -72.3 8.4ZM-72.3 -10.9A73.1 73.1 0 0 1 -71.9 -13.4L-60 -11.2A61 61 0 0 0 -60.3 -9.1ZM-65 -33.5A73.1 73.1 0 0 1 -63.8 -35.6L-53.3 -29.7A61 61 0 0 0 -54.2 -27.9ZM-71.7 -45.4A84.9 84.9 0 0 1 -70.2 -47.8L-60.2 -41A72.8 72.8 0 0 0 -61.5 -38.9ZM-42.6 -59.4A73.1 73.1 0 0 1 -40.6 -60.8L-33.9 -50.7A61 61 0 0 0 -35.6 -49.6ZM-35.3 -64A73.1 73.1 0 0 1 -33.1 -65.2L-27.6 -54.4A61 61 0 0 0 -29.5 -53.4ZM-29.5 -66.9A73.1 73.1 0 0 1 -27.2 -67.8L-22.7 -56.6A61 61 0 0 0 -24.6 -55.8ZM-25.5 -68.5A73.1 73.1 0 0 1 -23.2 -69.3L-19.3 -57.9A61 61 0 0 0 -21.3 -57.2ZM-30.8 -90.7A95.8 95.8 0 0 1 -27.7 -91.7L-24.4 -81A84.6 84.6 0 0 0 -27.2 -80.1ZM-10.9 -72.3A73.1 73.1 0 0 1 -8.4 -72.6L-7 -60.6A61 61 0 0 0 -9.1 -60.3ZM10.6 -72.3A73.1 73.1 0 0 1 13.1 -71.9L10.9 -60A61 61 0 0 0 8.9 -60.4ZM12.8 -72A73.1 73.1 0 0 1 15.2 -71.5L12.7 -59.7A61 61 0 0 0 10.7 -60.1ZM14.9 -71.6A73.1 73.1 0 0 1 17.3 -71L14.4 -59.3A61 61 0 0 0 12.4 -59.7ZM21.2 -70A73.1 73.1 0 0 1 23.5 -69.2L19.6 -57.8A61 61 0 0 0 17.7 -58.4ZM23.2 -69.3A73.1 73.1 0 0 1 25.6 -68.5L21.3 -57.1A61 61 0 0 0 19.4 -57.8ZM48.5 -82.6A95.8 95.8 0 0 1 51.2 -80.9L45.2 -71.5A84.6 84.6 0 0 0 42.8 -73ZM50.9 -81.2A95.8 95.8 0 0 1 53.6 -79.4L47.3 -70.1A84.6 84.6 0 0 0 44.9 -71.7ZM51.3 -67.7A84.9 84.9 0 0 1 53.5 -65.9L45.9 -56.5A72.8 72.8 0 0 0 44 -58ZM45.9 -56.9A73.1 73.1 0 0 1 47.8 -55.3L39.9 -46.2A61 61 0 0 0 38.3 -47.5ZM68.8 -49.8A84.9 84.9 0 0 1 70.4 -47.4L60.4 -40.7A72.8 72.8 0 0 0 59 -42.7ZM63.9 -35.6A73.1 73.1 0 0 1 65 -33.4L54.3 -27.9A61 61 0 0 0 53.3 -29.7ZM83 -17.9A84.9 84.9 0 0 1 83.5 -15.5L71.6 -13.3A72.8 72.8 0 0 0 71.2 -15.4Z"/><path fill="#a8c8d8" d="M93.7 20A95.8 95.8 0 0 1 93 23L82.1 20.3A84.6 84.6 0 0 0 82.7 17.6ZM89.1 35.1A95.8 95.8 0 0 1 87.9 38.1L77.6 33.7A84.6 84.6 0 0 0 78.7 31ZM-72.6 8.4A73.1 73.1 0 0 1 -72.9 6L-60.8 5A61 61 0 0 0 -60.6 7ZM-71.5 -15.2A73.1 73.1 0 0 1 -70.9 -17.6L-59.2 -14.7A61 61 0 0 0 -59.7 -12.7ZM4.2 -73A73.1 73.1 0 0 1 6.7 -72.8L5.6 -60.7A61 61 0 0 0 3.5 -60.9ZM33.2 -65.1A73.1 73.1 0 0 1 35.4 -64L29.5 -53.4A61 61 0 0 0 27.7 -54.4Z"/><path fill="#a4c0d0" d="M82.5 20.1A84.9 84.9 0 0 1 81.9 22.4L70.2 19.2A72.8 72.8 0 0 0 70.7 17.2ZM84.4 45.3A95.8 95.8 0 0 1 82.8 48.1L73.2 42.5A84.6 84.6 0 0 0 74.5 40Z"/><path fill="#a0bcd0" d="M93.1 22.6A95.8 95.8 0 0 1 92.4 25.3L81.6 22.3A84.6 84.6 0 0 0 82.2 20Z"/><path fill="#8098b0" d="M70.1 20.8A73.1 73.1 0 0 1 69.4 23.1L57.9 19.3A61 61 0 0 0 58.5 17.3ZM86.9 40.3A95.8 95.8 0 0 1 85.5 43.2L75.5 38.1A84.6 84.6 0 0 0 76.8 35.6ZM43.3 73A84.9 84.9 0 0 1 40.8 74.4L35 63.8A72.8 72.8 0 0 0 37.1 62.6ZM39 75.4A84.9 84.9 0 0 1 36.5 76.7L31.3 65.7A72.8 72.8 0 0 0 33.4 64.7ZM-65.2 33.1A73.1 73.1 0 0 1 -66.2 30.9L-55.3 25.8A61 61 0 0 0 -54.4 27.7ZM-81.2 -24.9A84.9 84.9 0 0 1 -80.3 -27.7L-68.8 -23.7A72.8 72.8 0 0 0 -69.6 -21.4ZM-78.6 -32A84.9 84.9 0 0 1 -77.5 -34.7L-66.5 -29.7A72.8 72.8 0 0 0 -67.4 -27.5ZM-15.1 -83.5A84.9 84.9 0 0 1 -12.3 -84L-10.5 -72A72.8 72.8 0 0 0 -13 -71.6ZM-6.6 -72.8A73.1 73.1 0 0 1 -4.1 -73L-3.4 -60.9A61 61 0 0 0 -5.5 -60.8ZM-0.2 -95.8A95.8 95.8 0 0 1 3.1 -95.8L2.7 -84.6A84.6 84.6 0 0 0 -0.1 -84.6Z"/><path fill="#702414" d="M81.4 24.1A84.9 84.9 0 0 1 80.5 26.8L69.1 23A72.8 72.8 0 0 0 69.8 20.7ZM11.7 84.1A84.9 84.9 0 0 1 8.8 84.4L7.5 72.4A72.8 72.8 0 0 0 10 72.1ZM-19.8 -93.7A95.8 95.8 0 0 1 -16.7 -94.3L-14.7 -83.3A84.6 84.6 0 0 0 -17.5 -82.8Z"/><path fill="#c09080" d="M91.9 27.2A95.8 95.8 0 0 1 90.9 30.3L80.3 26.7A84.6 84.6 0 0 0 81.1 24ZM53.5 79.5A95.8 95.8 0 0 1 50.8 81.2L44.9 71.7A84.6 84.6 0 0 0 47.2 70.2ZM-69.9 -21.5A73.1 73.1 0 0 1 -69.1 -23.8L-57.7 -19.9A61 61 0 0 0 -58.3 -17.9ZM-61.8 -39.1A73.1 73.1 0 0 1 -60.4 -41.2L-50.4 -34.3A61 61 0 0 0 -51.6 -32.6ZM-24.9 -81.2A84.9 84.9 0 0 1 -22.1 -82L-19 -70.3A72.8 72.8 0 0 0 -21.3 -69.6ZM-17.2 -71A73.1 73.1 0 0 1 -14.8 -71.6L-12.4 -59.7A61 61 0 0 0 -14.4 -59.3ZM89.6 -33.8A95.8 95.8 0 0 1 90.7 -30.7L80.1 -27.1A84.6 84.6 0 0 0 79.2 -29.9Z"/><path fill="#7484a4" d="M69.5 22.8A73.1 73.1 0 0 1 68.6 25.1L57.3 21A61 61 0 0 0 58 19ZM23.9 69.1A73.1 73.1 0 0 1 21.6 69.8L18 58.3A61 61 0 0 0 20 57.6ZM6.6 84.6A84.9 84.9 0 0 1 3.8 84.8L3.2 72.7A72.8 72.8 0 0 0 5.7 72.6ZM-68.5 -25.6A73.1 73.1 0 0 1 -67.6 -27.9L-56.4 -23.3A61 61 0 0 0 -57.2 -21.3ZM14.8 -83.6A84.9 84.9 0 0 1 17.7 -83L15.1 -71.2A72.8 72.8 0 0 0 12.7 -71.7ZM42.4 -59.5A73.1 73.1 0 0 1 44.4 -58.1L37.1 -48.5A61 61 0 0 0 35.4 -49.7ZM71.6 -45.6A84.9 84.9 0 0 1 73.1 -43.2L62.7 -37A72.8 72.8 0 0 0 61.4 -39.1Z"/><path fill="#788ca8" d="M68.8 24.8A73.1 73.1 0 0 1 67.9 27.1L56.6 22.6A61 61 0 0 0 57.4 20.7ZM69.6 48.6A84.9 84.9 0 0 1 67.9 50.9L58.3 43.7A72.8 72.8 0 0 0 59.7 41.7ZM42.6 59.4A73.1 73.1 0 0 1 40.6 60.8L33.8 50.7A61 61 0 0 0 35.5 49.6ZM36.8 76.5A84.9 84.9 0 0 1 34.3 77.7L29.4 66.6A72.8 72.8 0 0 0 31.6 65.6ZM41.5 86.3A95.8 95.8 0 0 1 38.7 87.7L34.1 77.4A84.6 84.6 0 0 0 36.7 76.2ZM17.9 70.9A73.1 73.1 0 0 1 15.8 71.4L13.2 59.6A61 61 0 0 0 14.9 59.1ZM14.3 71.7A73.1 73.1 0 0 1 11.9 72.1L9.9 60.2A61 61 0 0 0 12 59.8ZM4.1 84.8A84.9 84.9 0 0 1 1.2 84.9L1.1 72.8A72.8 72.8 0 0 0 3.5 72.7ZM-9.6 95.3A95.8 95.8 0 0 1 -12.8 94.9L-11.3 83.8A84.6 84.6 0 0 0 -8.4 84.2ZM-15.2 94.6A95.8 95.8 0 0 1 -18.4 94L-16.3 83A84.6 84.6 0 0 0 -13.4 83.5ZM-20.9 82.3A84.9 84.9 0 0 1 -23.7 81.5L-20.3 69.9A72.8 72.8 0 0 0 -17.9 70.6ZM-60.8 40.6A73.1 73.1 0 0 1 -62.1 38.5L-51.8 32.1A61 61 0 0 0 -50.7 33.9ZM-66.1 31.2A73.1 73.1 0 0 1 -67.1 28.9L-56 24.1A61 61 0 0 0 -55.2 26ZM-62.9 -37.2A73.1 73.1 0 0 1 -61.6 -39.4L-51.4 -32.8A61 61 0 0 0 -52.5 -31.1ZM-68.9 -49.5A84.9 84.9 0 0 1 -67.2 -51.9L-57.6 -44.5A72.8 72.8 0 0 0 -59.1 -42.5ZM-58.1 -44.4A73.1 73.1 0 0 1 -56.5 -46.3L-47.2 -38.7A61 61 0 0 0 -48.5 -37ZM-65.9 -53.5A84.9 84.9 0 0 1 -64 -55.7L-54.9 -47.8A72.8 72.8 0 0 0 -56.5 -45.9ZM-53.9 -49.4A73.1 73.1 0 0 1 -52.2 -51.2L-43.6 -42.7A61 61 0 0 0 -45 -41.2ZM-51.5 -67.5A84.9 84.9 0 0 1 -49.2 -69.2L-42.2 -59.3A72.8 72.8 0 0 0 -44.2 -57.9ZM-27.3 -80.4A84.9 84.9 0 0 1 -24.5 -81.3L-21 -69.7A72.8 72.8 0 0 0 -23.4 -68.9ZM2.7 -95.8A95.8 95.8 0 0 1 5.9 -95.6L5.2 -84.4A84.6 84.6 0 0 0 2.4 -84.6ZM11.1 -95.2A95.8 95.8 0 0 1 14.4 -94.7L12.7 -83.6A84.6 84.6 0 0 0 9.8 -84ZM22.2 -82A84.9 84.9 0 0 1 24.9 -81.2L21.4 -69.6A72.8 72.8 0 0 0 19 -70.3ZM74.2 -41.3A84.9 84.9 0 0 1 75.5 -38.8L64.8 -33.3A72.8 72.8 0 0 0 63.6 -35.4ZM78.5 -32.3A84.9 84.9 0 0 1 79.6 -29.6L68.2 -25.4A72.8 72.8 0 0 0 67.3 -27.7ZM80.3 -27.6A84.9 84.9 0 0 1 81.2 -24.9L69.6 -21.3A72.8 72.8 0 0 0 68.8 -23.7ZM81.8 -22.8A84.9 84.9 0 0 1 82.5 -20L70.7 -17.2A72.8 72.8 0 0 0 70.1 -19.6Z"/><path fill="#9cb8cc" d="M79 31.2A84.9 84.9 0 0 1 77.9 33.8L66.8 29A72.8 72.8 0 0 0 67.7 26.7ZM2 -73.1A73.1 73.1 0 0 1 4.5 -73L3.8 -60.9A61 61 0 0 0 1.7 -61Z"/><path fill="#7c94ac" d="M78 33.4A84.9 84.9 0 0 1 76.9 36L65.9 30.9A72.8 72.8 0 0 0 66.9 28.7ZM83 47.8A95.8 95.8 0 0 1 81.4 50.5L71.9 44.6A84.6 84.6 0 0 0 73.3 42.2ZM7.5 95.5A95.8 95.8 0 0 1 4.2 95.7L3.7 84.5A84.6 84.6 0 0 0 6.6 84.3ZM-91.6 -28.1A95.8 95.8 0 0 1 -90.6 -31.2L-80 -27.6A84.6 84.6 0 0 0 -80.9 -24.8ZM-15.1 -71.5A73.1 73.1 0 0 1 -12.7 -72L-10.6 -60.1A61 61 0 0 0 -12.6 -59.7ZM55.2 -64.5A84.9 84.9 0 0 1 57.3 -62.6L49.2 -53.7A72.8 72.8 0 0 0 47.3 -55.3Z"/><path fill="#90acc0" d="M88.1 37.7A95.8 95.8 0 0 1 86.7 40.7L76.6 35.9A84.6 84.6 0 0 0 77.8 33.3ZM92.3 -25.7A95.8 95.8 0 0 1 93.1 -22.6L82.2 -19.9A84.6 84.6 0 0 0 81.5 -22.7Z"/><path fill="#8ca4bc" d="M66.3 30.7A73.1 73.1 0 0 1 65.2 33L54.4 27.5A61 61 0 0 0 55.3 25.7ZM85.7 42.8A95.8 95.8 0 0 1 84.2 45.7L74.4 40.3A84.6 84.6 0 0 0 75.7 37.8ZM7.9 72.7A73.1 73.1 0 0 1 5.4 72.9L4.5 60.8A61 61 0 0 0 6.6 60.6ZM10.3 95.2A95.8 95.8 0 0 1 7.1 95.5L6.3 84.4A84.6 84.6 0 0 0 9.1 84.1ZM-57 45.8A73.1 73.1 0 0 1 -58.5 43.9L-48.8 36.6A61 61 0 0 0 -47.5 38.2ZM-73 -4.5A73.1 73.1 0 0 1 -72.8 -7L-60.7 -5.8A61 61 0 0 0 -60.9 -3.8ZM-33.4 -65A73.1 73.1 0 0 1 -31.2 -66.1L-26 -55.2A61 61 0 0 0 -27.9 -54.3ZM-27.5 -67.7A73.1 73.1 0 0 1 -25.2 -68.6L-21 -57.3A61 61 0 0 0 -23 -56.5ZM-5.2 -84.7A84.9 84.9 0 0 1 -2.3 -84.9L-2 -72.8A72.8 72.8 0 0 0 -4.4 -72.7ZM-5.8 -95.6A95.8 95.8 0 0 1 -2.6 -95.8L-2.3 -84.6A84.6 84.6 0 0 0 -5.1 -84.4ZM-2.7 -84.9A84.9 84.9 0 0 1 0.2 -84.9L0.2 -72.8A72.8 72.8 0 0 0 -2.3 -72.8ZM38.4 -87.8A95.8 95.8 0 0 1 41.3 -86.4L36.5 -76.3A84.6 84.6 0 0 0 33.9 -77.5ZM31.2 -66.1A73.1 73.1 0 0 1 33.5 -65L27.9 -54.2A61 61 0 0 0 26.1 -55.1ZM38.5 -75.6A84.9 84.9 0 0 1 41.1 -74.3L35.2 -63.7A72.8 72.8 0 0 0 33 -64.9ZM53.3 -66.1A84.9 84.9 0 0 1 55.5 -64.3L47.6 -55.1A72.8 72.8 0 0 0 45.7 -56.7ZM80.8 -51.5A95.8 95.8 0 0 1 82.5 -48.7L72.8 -43A84.6 84.6 0 0 0 71.3 -45.5ZM85 -44.1A95.8 95.8 0 0 1 86.5 -41.2L76.4 -36.4A84.6 84.6 0 0 0 75.1 -39Z"/><path fill="#586488" d="M77 35.7A84.9 84.9 0 0 1 75.8 38.3L65 32.8A72.8 72.8 0 0 0 66 30.6ZM-30.3 66.5A73.1 73.1 0 0 1 -32.5 65.5L-27.1 54.6A61 61 0 0 0 -25.3 55.5ZM-42.2 86A95.8 95.8 0 0 1 -45.1 84.5L-39.9 74.6A84.6 84.6 0 0 0 -37.3 75.9ZM-54.2 49.1A73.1 73.1 0 0 1 -55.8 47.2L-46.6 39.4A61 61 0 0 0 -45.2 41ZM-95.8 2.6A95.8 95.8 0 0 1 -95.8 -0.7L-84.6 -0.6A84.6 84.6 0 0 0 -84.6 2.3ZM75.4 -39.1A84.9 84.9 0 0 1 76.6 -36.5L65.7 -31.3A72.8 72.8 0 0 0 64.6 -33.5Z"/><path fill="#546084" d="M75.9 37.9A84.9 84.9 0 0 1 74.6 40.5L64 34.7A72.8 72.8 0 0 0 65.1 32.5ZM61.1 40.1A73.1 73.1 0 0 1 59.8 42.1L49.9 35.1A61 61 0 0 0 51 33.4ZM-63.5 71.8A95.8 95.8 0 0 1 -65.9 69.6L-58.2 61.4A84.6 84.6 0 0 0 -56 63.4ZM-76.1 -58.2A95.8 95.8 0 0 1 -74.1 -60.7L-65.4 -53.6A84.6 84.6 0 0 0 -67.2 -51.4ZM-53.5 -79.4A95.8 95.8 0 0 1 -50.8 -81.2L-44.9 -71.7A84.6 84.6 0 0 0 -47.3 -70.2ZM-34.3 -77.7A84.9 84.9 0 0 1 -31.6 -78.8L-27.1 -67.6A72.8 72.8 0 0 0 -29.4 -66.6Z"/><path fill="#404874" d="M74.8 40.2A84.9 84.9 0 0 1 73.4 42.6L63 36.6A72.8 72.8 0 0 0 64.1 34.4ZM66.4 69.1A95.8 95.8 0 0 1 64 71.2L56.6 62.9A84.6 84.6 0 0 0 58.6 61ZM-0.9 84.9A84.9 84.9 0 0 1 -3.8 84.8L-3.3 72.7A72.8 72.8 0 0 0 -0.8 72.8ZM-31.7 90.4A95.8 95.8 0 0 1 -34.8 89.3L-30.7 78.8A84.6 84.6 0 0 0 -28 79.8ZM-39.7 87.2A95.8 95.8 0 0 1 -42.6 85.8L-37.6 75.8A84.6 84.6 0 0 0 -35 77ZM-62.9 57A84.9 84.9 0 0 1 -64.8 54.9L-55.6 47A72.8 72.8 0 0 0 -53.9 48.9ZM-66.2 53.2A84.9 84.9 0 0 1 -67.9 50.9L-58.2 43.7A72.8 72.8 0 0 0 -56.7 45.6ZM-95.6 5.4A95.8 95.8 0 0 1 -95.8 2.2L-84.6 1.9A84.6 84.6 0 0 0 -84.5 4.8Z"/><path fill="#505c84" d="M63.4 36.4A73.1 73.1 0 0 1 62.1 38.5L51.8 32.2A61 61 0 0 0 52.9 30.4ZM72.3 44.5A84.9 84.9 0 0 1 70.8 46.9L60.7 40.2A72.8 72.8 0 0 0 62 38.1ZM-37.1 88.3A95.8 95.8 0 0 1 -40 87L-35.4 76.9A84.6 84.6 0 0 0 -32.7 78ZM-72.8 62.2A95.8 95.8 0 0 1 -74.9 59.7L-66.2 52.7A84.6 84.6 0 0 0 -64.3 55ZM-72 45A84.9 84.9 0 0 1 -73.5 42.6L-63 36.5A72.8 72.8 0 0 0 -61.7 38.6ZM-92.5 25A95.8 95.8 0 0 1 -93.3 21.8L-82.4 19.3A84.6 84.6 0 0 0 -81.7 22ZM-89.8 -33.5A95.8 95.8 0 0 1 -88.6 -36.5L-78.2 -32.2A84.6 84.6 0 0 0 -79.3 -29.6ZM-72.5 -62.6A95.8 95.8 0 0 1 -70.4 -65L-62.1 -57.4A84.6 84.6 0 0 0 -64.1 -55.3ZM-57.3 -62.7A84.9 84.9 0 0 1 -55.1 -64.6L-47.3 -55.4A72.8 72.8 0 0 0 -49.1 -53.7ZM-53.5 -65.9A84.9 84.9 0 0 1 -51.2 -67.7L-43.9 -58.1A72.8 72.8 0 0 0 -45.9 -56.5ZM53.7 -49.6A73.1 73.1 0 0 1 55.4 -47.7L46.2 -39.8A61 61 0 0 0 44.8 -41.4Z"/><path fill="#445078" d="M73.6 42.3A84.9 84.9 0 0 1 72.1 44.8L61.9 38.4A72.8 72.8 0 0 0 63.1 36.3ZM-34.4 89.4A95.8 95.8 0 0 1 -37.4 88.2L-33.1 77.9A84.6 84.6 0 0 0 -30.4 79ZM69.1 -23.8A73.1 73.1 0 0 1 69.9 -21.4L58.3 -17.9A61 61 0 0 0 57.7 -19.8Z"/><path fill="#444c78" d="M62.3 38.3A73.1 73.1 0 0 1 61 40.3L50.9 33.7A61 61 0 0 0 52 31.9ZM54.6 48.6A73.1 73.1 0 0 1 53.2 50.1L44.4 41.8A61 61 0 0 0 45.6 40.5ZM-29 91.3A95.8 95.8 0 0 1 -32.1 90.2L-28.4 79.7A84.6 84.6 0 0 0 -25.7 80.6ZM66.5 -69A95.8 95.8 0 0 1 68.8 -66.7L60.7 -58.9A84.6 84.6 0 0 0 58.7 -60.9Z"/><path fill="#5c688c" d="M71 46.6A84.9 84.9 0 0 1 69.4 48.9L59.5 41.9A72.8 72.8 0 0 0 60.9 39.9ZM33.9 89.6A95.8 95.8 0 0 1 31 90.7L27.3 80.1A84.6 84.6 0 0 0 30 79.1ZM23.1 81.7A84.9 84.9 0 0 1 20.4 82.4L17.5 70.7A72.8 72.8 0 0 0 19.8 70ZM-24.2 69A73.1 73.1 0 0 1 -26.6 68.1L-22.2 56.8A61 61 0 0 0 -20.2 57.6ZM-28.3 67.4A73.1 73.1 0 0 1 -30.6 66.4L-25.5 55.4A61 61 0 0 0 -23.6 56.3ZM-37.4 76.2A84.9 84.9 0 0 1 -40 74.9L-34.3 64.2A72.8 72.8 0 0 0 -32.1 65.3ZM-44.8 84.7A95.8 95.8 0 0 1 -47.6 83.1L-42.1 73.4A84.6 84.6 0 0 0 -39.5 74.8ZM-76.4 57.8A95.8 95.8 0 0 1 -78.3 55.2L-69.2 48.7A84.6 84.6 0 0 0 -67.5 51.1ZM-69.2 49.2A84.9 84.9 0 0 1 -70.8 46.8L-60.7 40.2A72.8 72.8 0 0 0 -59.3 42.2ZM-82 22.1A84.9 84.9 0 0 1 -82.7 19.3L-70.9 16.6A72.8 72.8 0 0 0 -70.3 19ZM-77.8 -55.9A95.8 95.8 0 0 1 -75.9 -58.5L-67 -51.7A84.6 84.6 0 0 0 -68.7 -49.4ZM-23.5 -69.2A73.1 73.1 0 0 1 -21.1 -70L-17.6 -58.4A61 61 0 0 0 -19.6 -57.8ZM44.2 -58.3A73.1 73.1 0 0 1 46.1 -56.7L38.5 -47.3A61 61 0 0 0 36.8 -48.6ZM61.6 -39.3A73.1 73.1 0 0 1 62.9 -37.2L52.5 -31A61 61 0 0 0 51.4 -32.8Z"/><path fill="#8498b4" d="M80.1 52.5A95.8 95.8 0 0 1 78.3 55.2L69.2 48.7A84.6 84.6 0 0 0 70.7 46.4ZM4.7 95.7A95.8 95.8 0 0 1 1.4 95.8L1.2 84.6A84.6 84.6 0 0 0 4.1 84.5ZM-18 94.1A95.8 95.8 0 0 1 -21.2 93.4L-18.7 82.5A84.6 84.6 0 0 0 -15.9 83.1ZM-94.3 16.7A95.8 95.8 0 0 1 -94.8 13.5L-83.8 11.9A84.6 84.6 0 0 0 -83.3 14.7ZM-64 -35.4A73.1 73.1 0 0 1 -62.7 -37.5L-52.4 -31.3A61 61 0 0 0 -53.4 -29.5ZM-44.4 -58.1A73.1 73.1 0 0 1 -42.4 -59.6L-35.3 -49.7A61 61 0 0 0 -37 -48.5ZM-8.7 -72.6A73.1 73.1 0 0 1 -6.3 -72.8L-5.2 -60.8A61 61 0 0 0 -7.3 -60.6ZM40.8 -74.5A84.9 84.9 0 0 1 43.3 -73.1L37.1 -62.6A72.8 72.8 0 0 0 35 -63.9ZM87.5 -39A95.8 95.8 0 0 1 88.8 -36.1L78.4 -31.8A84.6 84.6 0 0 0 77.3 -34.5Z"/><path fill="#5c6c90" d="M59.9 41.9A73.1 73.1 0 0 1 58.5 43.8L48.8 36.6A61 61 0 0 0 50 34.9ZM-7.3 72.7A73.1 73.1 0 0 1 -9.8 72.4L-8.2 60.5A61 61 0 0 0 -6.1 60.7ZM-73.3 42.9A84.9 84.9 0 0 1 -74.7 40.4L-64 34.6A72.8 72.8 0 0 0 -62.8 36.8ZM-85.4 43.4A95.8 95.8 0 0 1 -86.8 40.5L-76.7 35.8A84.6 84.6 0 0 0 -75.4 38.4ZM-87.6 -38.7A95.8 95.8 0 0 1 -86.3 -41.7L-76.2 -36.8A84.6 84.6 0 0 0 -77.4 -34.2ZM60.7 -59.4A84.9 84.9 0 0 1 62.7 -57.3L53.7 -49.1A72.8 72.8 0 0 0 52 -50.9ZM55.2 -47.9A73.1 73.1 0 0 1 56.8 -46L47.4 -38.4A61 61 0 0 0 46 -40ZM57.9 -44.6A73.1 73.1 0 0 1 59.4 -42.6L49.6 -35.6A61 61 0 0 0 48.3 -37.2ZM67.6 -27.8A73.1 73.1 0 0 1 68.5 -25.5L57.2 -21.3A61 61 0 0 0 56.4 -23.2Z"/><path fill="#687898" d="M78.5 54.8A95.8 95.8 0 0 1 76.7 57.5L67.7 50.7A84.6 84.6 0 0 0 69.4 48.4ZM76.9 57.1A95.8 95.8 0 0 1 74.9 59.7L66.2 52.7A84.6 84.6 0 0 0 67.9 50.4ZM51.4 67.6A84.9 84.9 0 0 1 49.1 69.2L42.1 59.4A72.8 72.8 0 0 0 44.1 57.9ZM27.9 67.6A73.1 73.1 0 0 1 25.6 68.5L21.4 57.1A61 61 0 0 0 23.2 56.4ZM36.5 88.6A95.8 95.8 0 0 1 33.5 89.7L29.6 79.2A84.6 84.6 0 0 0 32.2 78.2ZM27.8 80.2A84.9 84.9 0 0 1 25.1 81.1L21.5 69.5A72.8 72.8 0 0 0 23.8 68.8ZM20.8 82.3A84.9 84.9 0 0 1 18.4 82.9L15.8 71.1A72.8 72.8 0 0 0 17.8 70.6ZM-1 95.8A95.8 95.8 0 0 1 -4.3 95.7L-3.8 84.5A84.6 84.6 0 0 0 -0.9 84.6ZM-9.5 72.5A73.1 73.1 0 0 1 -11.9 72.1L-9.9 60.2A61 61 0 0 0 -7.9 60.5ZM-35.2 77.3A84.9 84.9 0 0 1 -37.8 76L-32.4 65.2A72.8 72.8 0 0 0 -30.1 66.3ZM-32.2 65.6A73.1 73.1 0 0 1 -34.5 64.5L-28.7 53.8A61 61 0 0 0 -26.9 54.7ZM-56.8 77.1A95.8 95.8 0 0 1 -59.4 75.1L-52.5 66.4A84.6 84.6 0 0 0 -50.2 68.1ZM-62 38.8A73.1 73.1 0 0 1 -63.2 36.7L-52.8 30.6A61 61 0 0 0 -51.7 32.4ZM-67 29.2A73.1 73.1 0 0 1 -68 26.9L-56.7 22.5A61 61 0 0 0 -55.9 24.4ZM-70.6 19A73.1 73.1 0 0 1 -71.2 16.6L-59.4 13.9A61 61 0 0 0 -58.9 15.9ZM-73.1 -0.2A73.1 73.1 0 0 1 -73.1 -2.7L-61 -2.2A61 61 0 0 0 -61 -0.1ZM-82.5 -20.1A84.9 84.9 0 0 1 -81.8 -22.9L-70.1 -19.6A72.8 72.8 0 0 0 -70.7 -17.2ZM-77.6 -34.3A84.9 84.9 0 0 1 -76.4 -36.9L-65.5 -31.7A72.8 72.8 0 0 0 -66.6 -29.4ZM-76.6 -36.6A84.9 84.9 0 0 1 -75.3 -39.2L-64.6 -33.6A72.8 72.8 0 0 0 -65.7 -31.4ZM-85.2 -43.8A95.8 95.8 0 0 1 -83.6 -46.7L-73.9 -41.2A84.6 84.6 0 0 0 -75.2 -38.7ZM-64.3 -55.5A84.9 84.9 0 0 1 -62.4 -57.6L-53.5 -49.4A72.8 72.8 0 0 0 -55.1 -47.6ZM-58.1 -76.1A95.8 95.8 0 0 1 -55.5 -78.1L-49 -68.9A84.6 84.6 0 0 0 -51.3 -67.2ZM-40.8 -60.6A73.1 73.1 0 0 1 -38.8 -62L-32.3 -51.7A61 61 0 0 0 -34.1 -50.6ZM24.6 -81.3A84.9 84.9 0 0 1 27.3 -80.4L23.4 -68.9A72.8 72.8 0 0 0 21.1 -69.7Z"/><path fill="#58648c" d="M58.7 43.6A73.1 73.1 0 0 1 57.2 45.5L47.7 38A61 61 0 0 0 49 36.4ZM57 62.9A84.9 84.9 0 0 1 54.9 64.8L47.1 55.5A72.8 72.8 0 0 0 48.9 53.9ZM-95.6 -5.9A95.8 95.8 0 0 1 -95.4 -9.1L-84.2 -8.1A84.6 84.6 0 0 0 -84.4 -5.2ZM-95.4 -8.7A95.8 95.8 0 0 1 -95.1 -11.9L-83.9 -10.6A84.6 84.6 0 0 0 -84.2 -7.7ZM-60.4 -74.4A95.8 95.8 0 0 1 -57.8 -76.4L-51 -67.5A84.6 84.6 0 0 0 -53.3 -65.7ZM-41 -74.3A84.9 84.9 0 0 1 -38.5 -75.7L-33 -64.9A72.8 72.8 0 0 0 -35.2 -63.7ZM60.5 -41.1A73.1 73.1 0 0 1 61.8 -39L51.6 -32.6A61 61 0 0 0 50.4 -34.3Z"/><path fill="#48547c" d="M57.4 45.3A73.1 73.1 0 0 1 55.8 47.2L46.6 39.4A61 61 0 0 0 47.9 37.8ZM62.3 72.8A95.8 95.8 0 0 1 59.8 74.8L52.8 66.1A84.6 84.6 0 0 0 55 64.3ZM45.9 56.9A73.1 73.1 0 0 1 44 58.4L36.7 48.7A61 61 0 0 0 38.3 47.5ZM-25.7 80.9A84.9 84.9 0 0 1 -28.5 80L-24.4 68.6A72.8 72.8 0 0 0 -22.1 69.4ZM-65.6 69.8A95.8 95.8 0 0 1 -67.9 67.6L-60 59.7A84.6 84.6 0 0 0 -57.9 61.7ZM-94.3 -17.1A95.8 95.8 0 0 1 -93.6 -20.3L-82.7 -17.9A84.6 84.6 0 0 0 -83.2 -15.1ZM-93.1 -22.7A95.8 95.8 0 0 1 -92.3 -25.8L-81.5 -22.8A84.6 84.6 0 0 0 -82.2 -20ZM-70.7 -64.7A95.8 95.8 0 0 1 -68.4 -67.1L-60.4 -59.2A84.6 84.6 0 0 0 -62.4 -57.1ZM49.1 -54.1A73.1 73.1 0 0 1 50.9 -52.4L42.5 -43.7A61 61 0 0 0 41 -45.2ZM68.4 -25.8A73.1 73.1 0 0 1 69.2 -23.5L57.8 -19.6A61 61 0 0 0 57.1 -21.5Z"/><path fill="#647898" d="M75.2 59.3A95.8 95.8 0 0 1 73.2 61.8L64.6 54.6A84.6 84.6 0 0 0 66.4 52.4ZM-90.9 30.4A95.8 95.8 0 0 1 -91.8 27.3L-81.1 24.1A84.6 84.6 0 0 0 -80.2 26.8ZM-75.5 -38.9A84.9 84.9 0 0 1 -74.1 -41.4L-63.6 -35.5A72.8 72.8 0 0 0 -64.7 -33.3Z"/><path fill="#3c4470" d="M56 46.9A73.1 73.1 0 0 1 54.4 48.8L45.4 40.7A61 61 0 0 0 46.8 39.2ZM73.4 61.5A95.8 95.8 0 0 1 71.3 63.9L63 56.5A84.6 84.6 0 0 0 64.9 54.3ZM71.6 63.6A95.8 95.8 0 0 1 69.7 65.7L61.6 58A84.6 84.6 0 0 0 63.2 56.2ZM14.2 83.7A84.9 84.9 0 0 1 11.3 84.1L9.7 72.2A72.8 72.8 0 0 0 12.1 71.8ZM-58.1 61.9A84.9 84.9 0 0 1 -60.2 59.9L-51.6 51.3A72.8 72.8 0 0 0 -49.8 53.1ZM50.7 -52.6A73.1 73.1 0 0 1 52.5 -50.9L43.8 -42.5A61 61 0 0 0 42.3 -43.9ZM70.4 -19.6A73.1 73.1 0 0 1 71 -17.2L59.3 -14.4A61 61 0 0 0 58.8 -16.4ZM71 -17.5A73.1 73.1 0 0 1 71.5 -15.1L59.7 -12.6A61 61 0 0 0 59.2 -14.6ZM71.5 -15.4A73.1 73.1 0 0 1 71.9 -13.3L60 -11.1A61 61 0 0 0 59.6 -12.9Z"/><path fill="#606c90" d="M65.1 54.5A84.9 84.9 0 0 1 63.2 56.7L54.2 48.6A72.8 72.8 0 0 0 55.8 46.7ZM29.8 66.8A73.1 73.1 0 0 1 27.6 67.7L23 56.5A61 61 0 0 0 24.9 55.7ZM12.2 72.1A73.1 73.1 0 0 1 9.7 72.5L8.1 60.5A61 61 0 0 0 10.2 60.1ZM-26.3 92.1A95.8 95.8 0 0 1 -29.4 91.2L-26 80.5A84.6 84.6 0 0 0 -23.2 81.3ZM-22.2 69.7A73.1 73.1 0 0 1 -24.5 68.9L-20.5 57.5A61 61 0 0 0 -18.5 58.1ZM-32.8 78.3A84.9 84.9 0 0 1 -35.5 77.1L-30.4 66.1A72.8 72.8 0 0 0 -28.2 67.1ZM-81.2 50.8A95.8 95.8 0 0 1 -82.9 48L-73.2 42.4A84.6 84.6 0 0 0 -71.7 44.9ZM-59.1 -60.9A84.9 84.9 0 0 1 -57 -62.9L-48.9 -53.9A72.8 72.8 0 0 0 -50.7 -52.3ZM57.9 -76.3A95.8 95.8 0 0 1 60.4 -74.3L53.4 -65.7A84.6 84.6 0 0 0 51.1 -67.4Z"/><path fill="#647094" d="M63.5 56.4A84.9 84.9 0 0 1 61.8 58.2L53 49.9A72.8 72.8 0 0 0 54.4 48.4ZM-76.8 36.2A84.9 84.9 0 0 1 -78 33.6L-66.9 28.8A72.8 72.8 0 0 0 -65.8 31.1ZM-55.3 -47.8A73.1 73.1 0 0 1 -53.7 -49.6L-44.8 -41.4A61 61 0 0 0 -46.2 -39.8ZM-43.2 -73.1A84.9 84.9 0 0 1 -40.7 -74.5L-34.9 -63.9A72.8 72.8 0 0 0 -37 -62.7Z"/><path fill="#607090" d="M52.1 51.2A73.1 73.1 0 0 1 50.4 52.9L42.1 44.2A61 61 0 0 0 43.5 42.8ZM31.7 65.9A73.1 73.1 0 0 1 29.5 66.9L24.6 55.8A61 61 0 0 0 26.5 55ZM25.5 81A84.9 84.9 0 0 1 22.8 81.8L19.5 70.1A72.8 72.8 0 0 0 21.8 69.4ZM-20.8 93.5A95.8 95.8 0 0 1 -24 92.8L-21.2 81.9A84.6 84.6 0 0 0 -18.4 82.6ZM-83.5 -15.2A84.9 84.9 0 0 1 -83 -18L-71.1 -15.4A72.8 72.8 0 0 0 -71.6 -13Z"/><path fill="#7488a8" d="M60.6 59.5A84.9 84.9 0 0 1 58.5 61.5L50.2 52.7A72.8 72.8 0 0 0 51.9 51ZM-63.1 36.9A73.1 73.1 0 0 1 -64.3 34.8L-53.7 29A61 61 0 0 0 -52.6 30.8ZM-82.7 48.4A95.8 95.8 0 0 1 -84.3 45.6L-74.4 40.2A84.6 84.6 0 0 0 -73 42.7ZM-80.5 26.9A84.9 84.9 0 0 1 -81.4 24.2L-69.8 20.7A72.8 72.8 0 0 0 -69 23.1ZM-79.4 -53.6A95.8 95.8 0 0 1 -77.5 -56.2L-68.5 -49.7A84.6 84.6 0 0 0 -70.1 -47.3Z"/><path fill="#4c5880" d="M68.3 67.1A95.8 95.8 0 0 1 66.1 69.4L58.3 61.3A84.6 84.6 0 0 0 60.3 59.3ZM49.1 54.2A73.1 73.1 0 0 1 47.3 55.8L39.5 46.5A61 61 0 0 0 41 45.2ZM-71 64.4A95.8 95.8 0 0 1 -73.1 61.9L-64.6 54.7A84.6 84.6 0 0 0 -62.7 56.8ZM-74.6 60A95.8 95.8 0 0 1 -76.6 57.5L-67.7 50.8A84.6 84.6 0 0 0 -65.9 53ZM-86.6 40.9A95.8 95.8 0 0 1 -88 37.9L-77.7 33.5A84.6 84.6 0 0 0 -76.5 36.1ZM-95.1 -11.5A95.8 95.8 0 0 1 -94.7 -14.8L-83.6 -13A84.6 84.6 0 0 0 -84 -10.2ZM-51.2 -81A95.8 95.8 0 0 1 -48.4 -82.7L-42.7 -73A84.6 84.6 0 0 0 -45.2 -71.5ZM-38.8 -75.5A84.9 84.9 0 0 1 -36.2 -76.8L-31.1 -65.8A72.8 72.8 0 0 0 -33.3 -64.8ZM58.9 -61.1A84.9 84.9 0 0 1 60.9 -59.1L52.3 -50.7A72.8 72.8 0 0 0 50.5 -52.4Z"/><path fill="#4c547c" d="M64.4 71A95.8 95.8 0 0 1 62 73.1L54.7 64.5A84.6 84.6 0 0 0 56.8 62.7ZM22.3 -93.2A95.8 95.8 0 0 1 25.4 -92.4L22.5 -81.6A84.6 84.6 0 0 0 19.7 -82.3ZM72.9 -43.5A84.9 84.9 0 0 1 74.3 -41L63.7 -35.2A72.8 72.8 0 0 0 62.5 -37.3ZM66.8 -29.8A73.1 73.1 0 0 1 67.7 -27.5L56.5 -23A61 61 0 0 0 55.7 -24.9Z"/><path fill="#546088" d="M47.5 55.5A73.1 73.1 0 0 1 45.7 57.1L38.1 47.6A61 61 0 0 0 39.7 46.4ZM1.6 84.9A84.9 84.9 0 0 1 -1.3 84.9L-1.1 72.8A72.8 72.8 0 0 0 1.4 72.8ZM-3.4 84.8A84.9 84.9 0 0 1 -6.3 84.7L-5.4 72.6A72.8 72.8 0 0 0 -3 72.7ZM-11.6 72.2A73.1 73.1 0 0 1 -14.1 71.7L-11.7 59.9A61 61 0 0 0 -9.7 60.2ZM-56.2 63.6A84.9 84.9 0 0 1 -58.4 61.6L-50.1 52.9A72.8 72.8 0 0 0 -48.2 54.5ZM-51.6 51.8A73.1 73.1 0 0 1 -53.1 50.2L-44.3 41.9A61 61 0 0 0 -43.1 43.2ZM-47.4 -70.4A84.9 84.9 0 0 1 -45 -72L-38.6 -61.7A72.8 72.8 0 0 0 -40.7 -60.4ZM62.8 -37.5A73.1 73.1 0 0 1 64 -35.3L53.4 -29.5A61 61 0 0 0 52.4 -31.3Z"/><path fill="#687c9c" d="M55.2 64.5A84.9 84.9 0 0 1 53 66.3L45.5 56.9A72.8 72.8 0 0 0 47.3 55.3ZM30.1 79.4A84.9 84.9 0 0 1 27.4 80.3L23.5 68.9A72.8 72.8 0 0 0 25.8 68.1ZM-20.1 70.3A73.1 73.1 0 0 1 -22.5 69.6L-18.7 58A61 61 0 0 0 -16.8 58.7ZM-34.2 64.6A73.1 73.1 0 0 1 -36.4 63.4L-30.3 52.9A61 61 0 0 0 -28.5 53.9ZM-52.4 66.8A84.9 84.9 0 0 1 -54.6 65L-46.8 55.7A72.8 72.8 0 0 0 -44.9 57.3ZM-88.7 -36.1A95.8 95.8 0 0 1 -87.4 -39.1L-77.2 -34.5A84.6 84.6 0 0 0 -78.4 -31.9ZM-55.4 -64.3A84.9 84.9 0 0 1 -53.2 -66.2L-45.6 -56.7A72.8 72.8 0 0 0 -47.5 -55.2ZM56.6 -46.3A73.1 73.1 0 0 1 58.1 -44.3L48.5 -37A61 61 0 0 0 47.2 -38.6Z"/><path fill="#48507c" d="M60.2 74.6A95.8 95.8 0 0 1 57.7 76.5L50.9 67.6A84.6 84.6 0 0 0 53.1 65.8ZM-93.7 -19.9A95.8 95.8 0 0 1 -93 -23.1L-82.1 -20.4A84.6 84.6 0 0 0 -82.8 -17.6Z"/><path fill="#647494" d="M49.4 69A84.9 84.9 0 0 1 47.1 70.6L40.4 60.6A72.8 72.8 0 0 0 42.4 59.2ZM55.8 77.9A95.8 95.8 0 0 1 53.2 79.7L46.9 70.4A84.6 84.6 0 0 0 49.2 68.8ZM48.8 82.4A95.8 95.8 0 0 1 46.1 84L40.7 74.2A84.6 84.6 0 0 0 43.1 72.8ZM21.9 69.7A73.1 73.1 0 0 1 19.6 70.4L16.4 58.8A61 61 0 0 0 18.3 58.2ZM-13.7 71.8A73.1 73.1 0 0 1 -16.2 71.3L-13.5 59.5A61 61 0 0 0 -11.5 59.9ZM-47.3 83.3A95.8 95.8 0 0 1 -50.1 81.7L-44.2 72.1A84.6 84.6 0 0 0 -41.7 73.6ZM-46.8 56.2A73.1 73.1 0 0 1 -48.7 54.5L-40.6 45.5A61 61 0 0 0 -39 46.9ZM-93.8 19.5A95.8 95.8 0 0 1 -94.4 16.3L-83.4 14.4A84.6 84.6 0 0 0 -82.8 17.2ZM-95.4 8.3A95.8 95.8 0 0 1 -95.7 5L-84.5 4.4A84.6 84.6 0 0 0 -84.3 7.3ZM-84.9 -2.7A84.9 84.9 0 0 1 -84.7 -5.6L-72.6 -4.8A72.8 72.8 0 0 0 -72.8 -2.3ZM-49.5 -69A84.9 84.9 0 0 1 -47.1 -70.6L-40.4 -60.6A72.8 72.8 0 0 0 -42.4 -59.1ZM-43.8 -85.2A95.8 95.8 0 0 1 -40.9 -86.6L-36.1 -76.5A84.6 84.6 0 0 0 -38.7 -75.2Z"/><path fill="#94acc4" d="M39.1 61.8A73.1 73.1 0 0 1 37 63L30.9 52.6A61 61 0 0 0 32.6 51.6ZM-72.8 6.3A73.1 73.1 0 0 1 -73 3.8L-60.9 3.2A61 61 0 0 0 -60.8 5.3ZM-71.9 -13.1A73.1 73.1 0 0 1 -71.4 -15.5L-59.6 -12.9A61 61 0 0 0 -60 -10.9ZM-49.3 -53.9A73.1 73.1 0 0 1 -47.5 -55.6L-39.6 -46.4A61 61 0 0 0 -41.2 -45Z"/><path fill="#8ca8bc" d="M41.2 74.3A84.9 84.9 0 0 1 38.7 75.6L33.2 64.8A72.8 72.8 0 0 0 35.3 63.7Z"/><path fill="#7888a8" d="M32.4 78.5A84.9 84.9 0 0 1 29.7 79.5L25.5 68.2A72.8 72.8 0 0 0 27.7 67.3Z"/><path fill="#889cb8" d="M28.7 91.4A95.8 95.8 0 0 1 25.7 92.3L22.7 81.5A84.6 84.6 0 0 0 25.4 80.7ZM13.2 94.9A95.8 95.8 0 0 1 9.9 95.3L8.8 84.1A84.6 84.6 0 0 0 11.6 83.8ZM-6.7 95.6A95.8 95.8 0 0 1 -10 95.3L-8.8 84.1A84.6 84.6 0 0 0 -5.9 84.4ZM-73.1 2A73.1 73.1 0 0 1 -73.1 -0.5L-61 -0.4A61 61 0 0 0 -61 1.7ZM-73.1 -2.3A73.1 73.1 0 0 1 -72.9 -4.8L-60.9 -4A61 61 0 0 0 -61 -2ZM-22.5 -81.9A84.9 84.9 0 0 1 -19.7 -82.6L-16.9 -70.8A72.8 72.8 0 0 0 -19.3 -70.2Z"/><path fill="#7080a0" d="M19.9 70.3A73.1 73.1 0 0 1 17.6 71L14.7 59.2A61 61 0 0 0 16.6 58.7ZM-13.5 83.8A84.9 84.9 0 0 1 -16.3 83.3L-14 71.4A72.8 72.8 0 0 0 -11.6 71.9ZM-88.9 35.7A95.8 95.8 0 0 1 -90.1 32.7L-79.5 28.8A84.6 84.6 0 0 0 -78.5 31.5ZM-84.6 7.3A84.9 84.9 0 0 1 -84.8 4.4L-72.7 3.8A72.8 72.8 0 0 0 -72.5 6.3ZM-69.2 -23.5A73.1 73.1 0 0 1 -68.4 -25.9L-57.1 -21.6A61 61 0 0 0 -57.8 -19.6ZM-90.7 -30.8A95.8 95.8 0 0 1 -89.6 -33.9L-79.1 -29.9A84.6 84.6 0 0 0 -80.1 -27.2ZM-60.9 -59.2A84.9 84.9 0 0 1 -58.9 -61.2L-50.5 -52.5A72.8 72.8 0 0 0 -52.2 -50.7ZM-13 -71.9A73.1 73.1 0 0 1 -10.6 -72.3L-8.8 -60.4A61 61 0 0 0 -10.9 -60ZM16.7 -94.3A95.8 95.8 0 0 1 19.9 -93.7L17.6 -82.7A84.6 84.6 0 0 0 14.8 -83.3ZM62.4 -57.6A84.9 84.9 0 0 1 64.3 -55.4L55.2 -47.5A72.8 72.8 0 0 0 53.5 -49.3Z"/><path fill="#9c5c50" d="M16 94.5A95.8 95.8 0 0 1 12.7 94.9L11.3 83.8A84.6 84.6 0 0 0 14.1 83.4ZM-25.3 -92.4A95.8 95.8 0 0 1 -22.2 -93.2L-19.6 -82.3A84.6 84.6 0 0 0 -22.4 -81.6ZM-20 -82.5A84.9 84.9 0 0 1 -17.2 -83.1L-14.8 -71.3A72.8 72.8 0 0 0 -17.2 -70.7ZM81.1 -25.2A84.9 84.9 0 0 1 81.9 -22.4L70.2 -19.2A72.8 72.8 0 0 0 69.5 -21.6Z"/><path fill="#7890ac" d="M-6 84.7A84.9 84.9 0 0 1 -8.8 84.4L-7.6 72.4A72.8 72.8 0 0 0 -5.1 72.6ZM-39.7 75.1A84.9 84.9 0 0 1 -42.2 73.7L-36.2 63.2A72.8 72.8 0 0 0 -34 64.4ZM17.3 -83.1A84.9 84.9 0 0 1 20.1 -82.5L17.2 -70.7A72.8 72.8 0 0 0 14.8 -71.3ZM29.3 -79.7A84.9 84.9 0 0 1 32 -78.6L27.5 -67.4A72.8 72.8 0 0 0 25.2 -68.3Z"/><path fill="#90a8bc" d="M-8.5 84.5A84.9 84.9 0 0 1 -11.3 84.1L-9.7 72.1A72.8 72.8 0 0 0 -7.3 72.4ZM-12.6 -84A84.9 84.9 0 0 1 -9.8 -84.3L-8.4 -72.3A72.8 72.8 0 0 0 -10.8 -72Z"/><path fill="#a0bccc" d="M-11 84.2A84.9 84.9 0 0 1 -13.8 83.8L-11.9 71.8A72.8 72.8 0 0 0 -9.4 72.2ZM-2.3 -73.1A73.1 73.1 0 0 1 0.2 -73.1L0.2 -61A61 61 0 0 0 -1.9 -61ZM77.6 -56.2A95.8 95.8 0 0 1 79.5 -53.5L70.2 -47.3A84.6 84.6 0 0 0 68.5 -49.6Z"/><path fill="#6c809c" d="M-18 70.9A73.1 73.1 0 0 1 -20.4 70.2L-17 58.6A61 61 0 0 0 -15 59.1ZM-84.9 2.3A84.9 84.9 0 0 1 -84.9 -0.6L-72.8 -0.5A72.8 72.8 0 0 0 -72.8 2ZM-84.5 -7.7A84.9 84.9 0 0 1 -84.2 -10.6L-72.2 -9.1A72.8 72.8 0 0 0 -72.5 -6.6ZM-60.6 -40.9A73.1 73.1 0 0 1 -59.2 -42.9L-49.4 -35.8A61 61 0 0 0 -50.6 -34.1ZM-66.7 -68.8A95.8 95.8 0 0 1 -64.3 -71L-56.8 -62.7A84.6 84.6 0 0 0 -58.9 -60.7ZM25 -92.5A95.8 95.8 0 0 1 28.1 -91.6L24.9 -80.9A84.6 84.6 0 0 0 22.1 -81.7ZM59.2 -42.9A73.1 73.1 0 0 1 60.6 -40.8L50.6 -34.1A61 61 0 0 0 49.4 -35.8Z"/><path fill="#546488" d="M-54.3 65.2A84.9 84.9 0 0 1 -56.5 63.3L-48.5 54.3A72.8 72.8 0 0 0 -46.6 55.9ZM-67.6 67.9A95.8 95.8 0 0 1 -69.6 65.8L-61.5 58.1A84.6 84.6 0 0 0 -59.7 59.9ZM-75.7 38.5A84.9 84.9 0 0 1 -76.9 35.9L-66 30.8A72.8 72.8 0 0 0 -64.9 33ZM-77.8 33.9A84.9 84.9 0 0 1 -78.9 31.3L-67.7 26.8A72.8 72.8 0 0 0 -66.7 29.1ZM-68.6 25.2A73.1 73.1 0 0 1 -69.4 22.9L-57.9 19.1A61 61 0 0 0 -57.3 21ZM-74.4 -60.4A95.8 95.8 0 0 1 -72.3 -62.9L-63.8 -55.5A84.6 84.6 0 0 0 -65.7 -53.3ZM-36.6 -76.6A84.9 84.9 0 0 1 -33.9 -77.8L-29.1 -66.7A72.8 72.8 0 0 0 -31.3 -65.7ZM19.5 -93.8A95.8 95.8 0 0 1 22.7 -93.1L20 -82.2A84.6 84.6 0 0 0 17.2 -82.8ZM57.1 -62.9A84.9 84.9 0 0 1 59.2 -60.9L50.7 -52.2A72.8 72.8 0 0 0 48.9 -53.9ZM64.4 -70.9A95.8 95.8 0 0 1 66.8 -68.7L59 -60.7A84.6 84.6 0 0 0 56.9 -62.6Z"/><path fill="#485078" d="M-59.9 60.1A84.9 84.9 0 0 1 -61.7 58.3L-52.9 50A72.8 72.8 0 0 0 -51.4 51.6ZM-64.6 55.1A84.9 84.9 0 0 1 -66.4 52.9L-56.9 45.4A72.8 72.8 0 0 0 -55.4 47.3Z"/><path fill="#9cb4c8" d="M-58.3 44.1A73.1 73.1 0 0 1 -59.8 42.1L-49.9 35.1A61 61 0 0 0 -48.6 36.8ZM35.1 -64.1A73.1 73.1 0 0 1 37.3 -62.9L31.1 -52.5A61 61 0 0 0 29.3 -53.5Z"/><path fill="#404c74" d="M-87.8 38.3A95.8 95.8 0 0 1 -89.1 35.3L-78.6 31.2A84.6 84.6 0 0 0 -77.5 33.8ZM-95.8 -0.2A95.8 95.8 0 0 1 -95.7 -3.5L-84.5 -3.1A84.6 84.6 0 0 0 -84.6 -0.2ZM69.8 -21.7A73.1 73.1 0 0 1 70.5 -19.3L58.8 -16.1A61 61 0 0 0 58.2 -18.1Z"/><path fill="#90a8c0" d="M-83.1 17.2A84.9 84.9 0 0 1 -83.7 14.4L-71.7 12.4A72.8 72.8 0 0 0 -71.3 14.8ZM-66 -31.5A73.1 73.1 0 0 1 -64.8 -33.7L-54.1 -28.2A61 61 0 0 0 -55 -26.3ZM-31.5 -66A73.1 73.1 0 0 1 -29.2 -67L-24.4 -55.9A61 61 0 0 0 -26.3 -55.1ZM4.9 -84.8A84.9 84.9 0 0 1 7.7 -84.5L6.6 -72.5A72.8 72.8 0 0 0 4.2 -72.7ZM36.3 -76.8A84.9 84.9 0 0 1 38.9 -75.5L33.3 -64.7A72.8 72.8 0 0 0 31.1 -65.8ZM75.9 -58.4A95.8 95.8 0 0 1 77.8 -55.8L68.7 -49.3A84.6 84.6 0 0 0 67 -51.6Z"/><path fill="#506084" d="M-83.9 -12.7A84.9 84.9 0 0 1 -83.5 -15.5L-71.6 -13.3A72.8 72.8 0 0 0 -72 -10.9Z"/><path fill="#68789c" d="M-86.4 -41.3A95.8 95.8 0 0 1 -85 -44.2L-75 -39A84.6 84.6 0 0 0 -76.3 -36.5ZM-62.5 -72.6A95.8 95.8 0 0 1 -60 -74.7L-53 -65.9A84.6 84.6 0 0 0 -55.2 -64.1Z"/><path fill="#4c5480" d="M-62.6 -57.3A84.9 84.9 0 0 1 -60.6 -59.4L-52 -51A72.8 72.8 0 0 0 -53.7 -49.2Z"/><path fill="#dcc4b8" d="M-38.7 -87.6A95.8 95.8 0 0 1 -35.7 -88.9L-31.5 -78.5A84.6 84.6 0 0 0 -34.2 -77.4ZM-32 -78.7A84.9 84.9 0 0 1 -29.3 -79.7L-25.1 -68.3A72.8 72.8 0 0 0 -27.4 -67.4Z"/><path fill="#e8c4b0" d="M-36.1 -88.8A95.8 95.8 0 0 1 -33 -89.9L-29.2 -79.4A84.6 84.6 0 0 0 -31.9 -78.4ZM-17.6 -83.1A84.9 84.9 0 0 1 -14.8 -83.6L-12.7 -71.7A72.8 72.8 0 0 0 -15.1 -71.2Z"/><path fill="#d0a090" d="M-29.6 -79.6A84.9 84.9 0 0 1 -26.9 -80.5L-23.1 -69A72.8 72.8 0 0 0 -25.4 -68.2ZM-33.4 -89.8A95.8 95.8 0 0 1 -30.4 -90.9L-26.8 -80.2A84.6 84.6 0 0 0 -29.5 -79.3Z"/><path fill="#b48070" d="M-28.1 -91.6A95.8 95.8 0 0 1 -24.9 -92.5L-22 -81.7A84.6 84.6 0 0 0 -24.8 -80.9Z"/><path fill="#782c20" d="M-22.6 -93.1A95.8 95.8 0 0 1 -19.4 -93.8L-17.2 -82.8A84.6 84.6 0 0 0 -20 -82.2Z"/><path fill="#742418" d="M-14.3 -94.7A95.8 95.8 0 0 1 -11.1 -95.2L-9.8 -84A84.6 84.6 0 0 0 -12.6 -83.7Z"/><path fill="#dcb4a0" d="M-11.5 -95.1A95.8 95.8 0 0 1 -8.2 -95.4L-7.3 -84.3A84.6 84.6 0 0 0 -10.1 -84Z"/><path fill="#a4c0d4" d="M6.3 -72.8A73.1 73.1 0 0 1 8.8 -72.6L7.4 -60.6A61 61 0 0 0 5.3 -60.8ZM83.7 -46.6A95.8 95.8 0 0 1 85.2 -43.8L75.3 -38.7A84.6 84.6 0 0 0 73.9 -41.2Z"/><path fill="#94acc0" d="M35.8 -88.9A95.8 95.8 0 0 1 38.8 -87.6L34.2 -77.4A84.6 84.6 0 0 0 31.6 -78.5Z"/><path fill="#444c74" d="M76.5 -36.9A84.9 84.9 0 0 1 77.7 -34.3L66.6 -29.4A72.8 72.8 0 0 0 65.6 -31.6Z"/><path fill="#8098b4" d="M90.6 -31.1A95.8 95.8 0 0 1 91.6 -28L80.9 -24.8A84.6 84.6 0 0 0 80 -27.5Z"/><path fill="#803c2c" d="M91.5 -28.4A95.8 95.8 0 0 1 92.4 -25.3L81.6 -22.4A84.6 84.6 0 0 0 80.8 -25.1Z"/><path fill="#a87060" d="M93 -23A95.8 95.8 0 0 1 93.7 -19.8L82.8 -17.5A84.6 84.6 0 0 0 82.1 -20.3Z"/></g>
<path class="dash" d="M95.4 1.4A95.5 95.5 0 0 1 92.2 24.8L59.2 15.9A61.4 61.4 0 0 0 61.3 0.9ZM91.4 27.5A95.5 95.5 0 0 1 69.8 65.2L44.8 41.9A61.4 61.4 0 0 0 58.7 17.7ZM67.8 67.2A95.5 95.5 0 0 1 21.1 93.1L13.5 59.8A61.4 61.4 0 0 0 43.6 43.2ZM18.3 93.7A95.5 95.5 0 0 1 -69.1 65.9L-44.4 42.3A61.4 61.4 0 0 0 11.8 60.2ZM-71 63.8A95.5 95.5 0 1 1 93.8 -17.8L60.3 -11.4A61.4 61.4 0 1 0 -45.6 41Z"/>
<g class="den"><path d="M58.8 1.5L55.3 1.4M58.7 3.1L55.2 2.9M55.3 1.4A55.3 55.3 0 0 1 55.2 2.9M55.3 2.2L54.1 2.1M58.6 4.8L53.9 4.4M54.1 2.1A54.1 54.1 0 0 1 53.9 4.4M58.4 6.5L55.5 6.1M58.2 8.1L55.3 7.7M55.5 6.1A55.8 55.8 0 0 1 55.3 7.7M58 9.8L54.5 9.2M57.7 11.4L54.2 10.8M54.5 9.2A55.3 55.3 0 0 1 54.2 10.8M54.4 10L53.7 9.8M57.3 13.1L53.2 12.1M53.7 9.8A54.6 54.6 0 0 1 53.2 12.1M55.4 6.9L52.1 6.5M53.4 11L51.4 10.6M52.1 6.5A52.5 52.5 0 0 1 51.4 10.6M51.8 8.6L51.2 8.4M56.9 14.7L50.2 13M51.2 8.4A51.8 51.8 0 0 1 50.2 13M54 3.3L49.5 3M50.7 10.7L48.5 10.3M49.5 3A49.6 49.6 0 0 1 48.5 10.3" stroke="#2b3560"/><path d="M56.1 17.5L53.9 16.8M55.6 19.2L53.3 18.4M53.9 16.8A56.4 56.4 0 0 1 53.3 18.4M55 20.8L52.8 20M54.4 22.4L52.2 21.5M52.8 20A56.5 56.5 0 0 1 52.2 21.5M53.6 17.6L52.3 17.2M52.5 20.7L51.2 20.2M52.3 17.2A55 55 0 0 1 51.2 20.2M52.2 27L49.9 25.8M51.4 28.6L49.1 27.3M49.9 25.8A56.2 56.2 0 0 1 49.1 27.3M53 25.5L50.2 24.2M49.5 26.6L49 26.3M50.2 24.2A55.7 55.7 0 0 1 49 26.3M53.7 24L49.8 22.2M49.6 25.2L48.6 24.7M49.8 22.2A54.6 54.6 0 0 1 48.6 24.7M51.7 18.7L49.3 17.8M49.2 23.5L47.3 22.6M49.3 17.8A52.4 52.4 0 0 1 47.3 22.6M50.5 30.1L48.2 28.7M49.6 31.5L47.4 30.1M48.2 28.7A56.1 56.1 0 0 1 47.4 30.1M47.8 29.4L47.2 29M48.7 33L45.9 31.1M47.2 29A55.4 55.4 0 0 1 45.9 31.1M47.7 34.4L45.7 32.9M46.7 35.7L44.7 34.2M45.7 32.9A56.3 56.3 0 0 1 44.7 34.2M46.6 30.1L45.7 29.5M45.2 33.6L43.6 32.4M45.7 29.5A54.3 54.3 0 0 1 43.6 32.4M45.6 37.1L43.8 35.6M44.5 38.4L42.7 36.9M43.8 35.6A56.4 56.4 0 0 1 42.7 36.9M44.7 30.9L43.9 30.4M43.3 36.2L40.9 34.3M43.9 30.4A53.4 53.4 0 0 1 40.9 34.3M42.5 32.4L41.8 31.9M43.4 39.7L38.8 35.5M41.8 31.9A52.6 52.6 0 0 1 38.8 35.5M48.4 20.2L46 19.2M40.4 33.7L38.3 32M46 19.2A49.9 49.9 0 0 1 38.3 32" stroke="#7fd6d6"/><path d="M40.1 43L38.3 41.1M38.9 44.1L37.1 42.1M38.3 41.1A56.2 56.2 0 0 1 37.1 42.1M37.7 41.6L37.5 41.4M37.6 45.2L35.7 43M37.5 41.4A55.9 55.9 0 0 1 35.7 43M41.3 41.8L38.8 39.2M36.6 42.2L36.1 41.6M38.8 39.2A55.1 55.1 0 0 1 36.1 41.6M37.5 40.4L37.3 40.2M36.3 46.3L33.8 43.2M37.3 40.2A54.8 54.8 0 0 1 33.8 43.2M34.9 47.3L33.3 45.2M33.5 48.3L32 46.1M33.3 45.2A56.2 56.2 0 0 1 32 46.1M35.6 41.7L34.9 41M32.7 45.7L31.3 43.8M34.9 41A53.8 53.8 0 0 1 31.3 43.8M33.1 42.4L32.8 41.9M32.1 49.2L29.1 44.5M32.8 41.9A53.2 53.2 0 0 1 29.1 44.5M30.7 50.1L29.3 47.9M29.2 51L27.9 48.7M29.3 47.9A56.1 56.1 0 0 1 27.9 48.7M27.8 51.8L26.6 49.7M26.3 52.6L25.2 50.4M26.6 49.7A56.4 56.4 0 0 1 25.2 50.4M28.6 48.3L28.1 47.4M25.9 50.1L25.3 49M28.1 47.4A55.1 55.1 0 0 1 25.3 49M30.9 43.3L30.3 42.4M26.7 48.2L25.3 45.6M30.3 42.4A52.1 52.1 0 0 1 25.3 45.6M24.7 53.3L23.6 50.9M23.2 54L22.1 51.6M23.6 50.9A56.2 56.2 0 0 1 22.1 51.6M22.9 51.3L22.6 50.6M21.6 54.7L20.4 51.6M22.6 50.6A55.4 55.4 0 0 1 20.4 51.6M21.5 51.1L21.4 50.8M20 55.3L18.8 51.8M21.4 50.8A55.1 55.1 0 0 1 18.8 51.8M27.8 44L27 42.7M20.1 51.4L18.4 47.1M27 42.7A50.6 50.6 0 0 1 18.4 47.1M16.8 56.3L16.1 54.1M15.2 56.8L14.6 54.5M16.1 54.1A56.4 56.4 0 0 1 14.6 54.5M18.4 55.8L17.5 53.1M15.4 54.3L15.2 53.8M17.5 53.1A55.9 55.9 0 0 1 15.2 53.8M22.8 45.1L22.6 44.7M16.4 53.4L14.7 47.9M22.6 44.7A50.1 50.1 0 0 1 14.7 47.9M18.7 46.4L18.6 46.2M13.6 57.2L11.5 48.4M18.6 46.2A49.8 49.8 0 0 1 11.5 48.4" stroke="#d6a28c"/><path d="M10.7 57.8L10.3 55.9M8.9 58.1L8.6 56.2M10.3 55.9A56.8 56.8 0 0 1 8.6 56.2M7.2 58.4L7 56.5M5.5 58.5L5.3 56.7M7 56.5A57 57 0 0 1 5.3 56.7M9.5 56L9.3 55.1M6.1 56.6L6 55.5M9.3 55.1A55.8 55.8 0 0 1 6 55.5M2 58.8L1.9 56.8M0.2 58.8L0.2 56.8M1.9 56.8A56.8 56.8 0 0 1 0.2 56.8M3.7 58.7L3.6 56.4M1.1 56.8L1.1 56.5M3.6 56.4A56.5 56.5 0 0 1 1.1 56.5M-3.3 58.7L-3.1 56.4M-5 58.6L-4.8 56.3M-3.1 56.4A56.5 56.5 0 0 1 -4.8 56.3M-1.5 58.8L-1.4 56M-4 56.4L-3.9 55.9M-1.4 56A56 56 0 0 1 -3.9 55.9M-10.2 57.9L-9.9 56M-11.9 57.6L-11.5 55.7M-9.9 56A56.9 56.9 0 0 1 -11.5 55.7M-8.5 58.2L-8.1 56M-10.7 55.9L-10.6 55.6M-8.1 56A56.6 56.6 0 0 1 -10.6 55.6M-15.3 56.8L-14.8 54.9M-17 56.3L-16.4 54.4M-14.8 54.9A56.8 56.8 0 0 1 -16.4 54.4M-13.6 57.2L-13 54.5M-15.6 54.6L-15.4 53.9M-13 54.5A56.1 56.1 0 0 1 -15.4 53.9M-9.4 55.8L-9.2 54.3M-14.2 54.2L-14 53.3M-9.2 54.3A55.1 55.1 0 0 1 -14 53.3M-6.7 58.4L-6.3 54.4M-11.6 53.9L-11.5 53.6M-6.3 54.4A54.8 54.8 0 0 1 -11.5 53.6M-18.7 55.8L-18 53.7M-20.3 55.2L-19.6 53.2M-18 53.7A56.6 56.6 0 0 1 -19.6 53.2M-8.9 54.1L-8.9 53.8M-18.8 53.4L-18.1 51.4M-8.9 53.8A54.5 54.5 0 0 1 -18.1 51.4M-2.7 55.9L-2.6 53.7M-13.5 52.8L-13.3 52.1M-2.6 53.7A53.8 53.8 0 0 1 -13.3 52.1M2.3 56.5L2.2 53M-8 53.2L-7.9 52.4M2.2 53A53 53 0 0 1 -7.9 52.4M7.7 55.3L7.1 51.5M-2.9 53L-2.8 52M7.1 51.5A52 52 0 0 1 -2.8 52M-23.6 53.9L-22.8 52.2M-25.1 53.2L-24.4 51.5M-22.8 52.2A57 57 0 0 1 -24.4 51.5M-21.9 54.6L-21 52.3M-23.6 51.9L-23.3 51.3M-21 52.3A56.4 56.4 0 0 1 -23.3 51.3M-26.7 52.4L-25.7 50.4M-28.3 51.6L-27.2 49.6M-25.7 50.4A56.6 56.6 0 0 1 -27.2 49.6M-22.2 51.8L-21.8 50.9M-26.5 50L-25.9 48.9M-21.8 50.9A55.3 55.3 0 0 1 -25.9 48.9M-29.8 50.7L-28.7 48.9M-31.3 49.8L-30.1 48M-28.7 48.9A56.7 56.7 0 0 1 -30.1 48M-32.7 48.8L-31.5 47M-34.2 47.9L-32.9 46.1M-31.5 47A56.6 56.6 0 0 1 -32.9 46.1M-29.4 48.4L-29 47.7M-32.2 46.6L-31.8 45.9M-29 47.7A55.8 55.8 0 0 1 -31.8 45.9M-30.4 46.8L-30.2 46.5M-35.6 46.8L-33.5 44.1M-30.2 46.5A55.4 55.4 0 0 1 -33.5 44.1M-23.8 49.9L-23.3 48.8M-31.9 45.3L-31.1 44.2M-23.3 48.8A54 54 0 0 1 -31.1 44.2M2.2 52L2.1 50.3M-27.3 46.6L-25.4 43.4M2.1 50.3A50.3 50.3 0 0 1 -25.4 43.4M-37 45.7L-35.7 44.1M-38.3 44.6L-37 43.1M-35.7 44.1A56.7 56.7 0 0 1 -37 43.1M-40.9 42.3L-39.4 40.7M-42.1 41L-40.5 39.5M-39.4 40.7A56.6 56.6 0 0 1 -40.5 39.5M-39.6 43.5L-37.9 41.6M-40 40.1L-39.7 39.9M-37.9 41.6A56.3 56.3 0 0 1 -39.7 39.9M-36.3 43.6L-35.6 42.8M-38.8 40.8L-38.4 40.3M-35.6 42.8A55.6 55.6 0 0 1 -38.4 40.3M-12.1 48.8L-11.9 47.9M-37 41.5L-32.9 36.9M-11.9 47.9A49.4 49.4 0 0 1 -32.9 36.9" stroke="#f49a62"/><path d="M-46.4 36.2L-45.2 35.3M-47.4 34.8L-46.3 33.9M-45.2 35.3A57.4 57.4 0 0 1 -46.3 33.9M-45.8 34.6L-45.4 34.4M-48.4 33.4L-46.9 32.3M-45.4 34.4A57 57 0 0 1 -46.9 32.3M-45.3 37.5L-43.6 36.2M-46.2 33.4L-45.9 33.2M-43.6 36.2A56.7 56.7 0 0 1 -45.9 33.2M-44.1 38.8L-42.3 37.2M-44.8 34.7L-44.6 34.5M-42.3 37.2A56.4 56.4 0 0 1 -44.6 34.5M-49.4 31.9L-48.3 31.2M-50.3 30.5L-49.2 29.8M-48.3 31.2A57.5 57.5 0 0 1 -49.2 29.8M-43.5 35.9L-43.2 35.7M-48.7 30.5L-47.5 29.7M-43.2 35.7A56.1 56.1 0 0 1 -47.5 29.7M-52.8 25.9L-51.5 25.2M-53.5 24.3L-52.2 23.7M-51.5 25.2A57.3 57.3 0 0 1 -52.2 23.7M-52 27.4L-50.4 26.6M-51.8 24.5L-51.5 24.3M-50.4 26.6A57 57 0 0 1 -51.5 24.3M-51.2 29L-49.4 27.9M-51 25.5L-50.7 25.3M-49.4 27.9A56.7 56.7 0 0 1 -50.7 25.3M-50.1 26.6L-49.8 26.5M-54.2 22.7L-52 21.8M-49.8 26.5A56.4 56.4 0 0 1 -52 21.8M-45.5 32.8L-45.2 32.6M-51 24.2L-50.4 23.9M-45.2 32.6A55.8 55.8 0 0 1 -50.4 23.9M-54.9 21.1L-53.3 20.5M-55.5 19.5L-53.9 18.9M-53.3 20.5A57.1 57.1 0 0 1 -53.9 18.9M-53.6 19.7L-53.3 19.6M-56 17.8L-54.1 17.2M-53.3 19.6A56.8 56.8 0 0 1 -54.1 17.2M-53.7 18.4L-53.5 18.3M-56.5 16.2L-54.3 15.5M-53.5 18.3A56.5 56.5 0 0 1 -54.3 15.5M-53.9 16.9L-53.6 16.8M-57 14.5L-54.5 13.8M-53.6 16.8A56.2 56.2 0 0 1 -54.5 13.8M-57.4 12.8L-55.9 12.4M-57.7 11.1L-56.2 10.8M-55.9 12.4A57.2 57.2 0 0 1 -56.2 10.8M-56 11.6L-55.7 11.6M-58 9.4L-56.2 9.1M-55.7 11.6A56.9 56.9 0 0 1 -56.2 9.1M-56 10.3L-55.7 10.3M-58.3 7.7L-56.1 7.4M-55.7 10.3A56.6 56.6 0 0 1 -56.1 7.4M-54.1 15.3L-53.8 15.3M-55.9 8.8L-55.2 8.7M-53.8 15.3A55.9 55.9 0 0 1 -55.2 8.7M-48 28.4L-47.6 28.1M-54.6 12L-54 11.9M-47.6 28.1A55.3 55.3 0 0 1 -54 11.9M-58.6 4.2L-57.2 4.1M-58.7 2.5L-57.3 2.4M-57.2 4.1A57.4 57.4 0 0 1 -57.3 2.4M-57.3 3.2L-56.8 3.2M-58.8 0.7L-56.9 0.7M-56.8 3.2A56.9 56.9 0 0 1 -56.9 0.7M-56.9 2L-56.6 2M-58.8 -1L-56.6 -1M-56.6 2A56.6 56.6 0 0 1 -56.6 -1M-56.6 0.5L-56.3 0.5M-58.7 -2.7L-56.2 -2.6M-56.3 0.5A56.3 56.3 0 0 1 -56.2 -2.6M-58.5 5.9L-55.7 5.6M-56.3 -1.1L-56 -1.1M-55.7 5.6A56 56 0 0 1 -56 -1.1M-55.9 2.3L-55.6 2.3M-58.6 -4.5L-55.5 -4.2M-55.6 2.3A55.7 55.7 0 0 1 -55.5 -4.2M-51.4 20.3L-50.6 19.9M-55.7 -1L-54.4 -1M-50.6 19.9A54.4 54.4 0 0 1 -54.4 -1M-58.3 -7.9L-56.6 -7.7M-58 -9.7L-56.4 -9.4M-56.6 -7.7A57.1 57.1 0 0 1 -56.4 -9.4M-56.5 -8.6L-56.2 -8.5M-57.7 -11.4L-55.8 -11M-56.2 -8.5A56.8 56.8 0 0 1 -55.8 -11M-56 -9.8L-55.7 -9.7M-57.3 -13.1L-55.1 -12.6M-55.7 -9.7A56.5 56.5 0 0 1 -55.1 -12.6M-58.5 -6.2L-55.9 -5.9M-55.4 -11.1L-55.1 -11.1M-55.9 -5.9A56.2 56.2 0 0 1 -55.1 -11.1M-56.5 -16.4L-55.1 -16M-55.9 -18.1L-54.6 -17.7M-55.1 -16A57.4 57.4 0 0 1 -54.6 -17.7M-56.9 -14.8L-55.2 -14.3M-54.9 -16.9L-54.5 -16.8M-55.2 -14.3A57.1 57.1 0 0 1 -54.5 -16.8M-55.6 -8.5L-55.3 -8.5M-54.9 -15.5L-53.8 -15.2M-55.3 -8.5A55.9 55.9 0 0 1 -53.8 -15.2M-55.4 -19.7L-53.9 -19.2M-54.8 -21.4L-53.3 -20.8M-53.9 -19.2A57.2 57.2 0 0 1 -53.3 -20.8M-53.4 -24.6L-52.2 -24M-52.7 -26.1L-51.5 -25.5M-52.2 -24A57.5 57.5 0 0 1 -51.5 -25.5M-54.1 -23L-52.6 -22.3M-51.8 -24.8L-51.6 -24.6M-52.6 -22.3A57.2 57.2 0 0 1 -51.6 -24.6M-53.6 -20L-53.1 -19.8M-52.1 -23.5L-51.7 -23.3M-53.1 -19.8A56.7 56.7 0 0 1 -51.7 -23.3M-51.9 -27.7L-50.4 -26.9M-51 -29.2L-49.5 -28.3M-50.4 -26.9A57.1 57.1 0 0 1 -49.5 -28.3M-52.4 -21.6L-52 -21.4M-50 -27.6L-49.3 -27.2M-52 -21.4A56.3 56.3 0 0 1 -49.3 -27.2M-50.2 -30.7L-48.8 -29.9M-49.2 -32.2L-47.9 -31.3M-48.8 -29.9A57.2 57.2 0 0 1 -47.9 -31.3M-50.7 -24.4L-50.5 -24.2M-48.4 -30.6L-47.3 -29.9M-50.5 -24.2A56 56 0 0 1 -47.3 -29.9M-54.7 -11.9L-54 -11.7M-49 -27.1L-48.4 -26.8M-54 -11.7A55.3 55.3 0 0 1 -48.4 -26.8M-48.2 -33.6L-47 -32.8M-47.2 -35L-46.1 -34.1M-47 -32.8A57.3 57.3 0 0 1 -46.1 -34.1M-45.1 -37.7L-44 -36.8M-43.9 -39.1L-42.8 -38.1M-44 -36.8A57.3 57.3 0 0 1 -42.8 -38.1M-46.2 -36.4L-44.8 -35.3M-43.4 -37.4L-43.2 -37.3M-44.8 -35.3A57 57 0 0 1 -43.2 -37.3M-46.6 -33.5L-46.1 -33.1M-44 -36.3L-43.8 -36.1M-46.1 -33.1A56.7 56.7 0 0 1 -43.8 -36.1M-51.7 -19.5L-51.5 -19.4M-44.9 -34.6L-43.6 -33.6M-51.5 -19.4A55 55 0 0 1 -43.6 -33.6M-48 -26.8L-47.8 -26.6M-42.8 -40.3L-39.8 -37.5M-47.8 -26.6A54.7 54.7 0 0 1 -39.8 -37.5M-53.6 9.7L-52.3 9.4M-44.1 -32.3L-42.9 -31.4M-52.3 9.4A53.1 53.1 0 0 1 -42.9 -31.4M-39 -44L-38.2 -43M-37.7 -45.1L-36.9 -44.1M-38.2 -43A57.5 57.5 0 0 1 -36.9 -44.1M-33.6 -48.3L-32.7 -47M-32.1 -49.2L-31.3 -48M-32.7 -47A57.3 57.3 0 0 1 -31.3 -48M-35 -47.3L-33.9 -45.8M-32 -47.5L-31.8 -47.3M-33.9 -45.8A57 57 0 0 1 -31.8 -47.3M-36.4 -46.2L-35.1 -44.5M-32.9 -46.5L-32.7 -46.3M-35.1 -44.5A56.7 56.7 0 0 1 -32.7 -46.3M-30.7 -50.2L-29.9 -48.9M-29.2 -51.1L-28.4 -49.8M-29.9 -48.9A57.3 57.3 0 0 1 -28.4 -49.8M-26.1 -52.7L-25.4 -51.2M-24.5 -53.4L-23.8 -51.9M-25.4 -51.2A57.1 57.1 0 0 1 -23.8 -51.9M-27.6 -51.9L-26.7 -50.2M-24.6 -51.6L-24.5 -51.3M-26.7 -50.2A56.8 56.8 0 0 1 -24.5 -51.3M-29.2 -49.4L-28.8 -48.7M-25.6 -50.7L-25.5 -50.5M-28.8 -48.7A56.5 56.5 0 0 1 -25.5 -50.5M-22.9 -54.1L-22.2 -52.5M-21.3 -54.8L-20.7 -53.1M-22.2 -52.5A57 57 0 0 1 -20.7 -53.1M-19.7 -55.4L-19.1 -53.7M-18.1 -56L-17.5 -54.2M-19.1 -53.7A57 57 0 0 1 -17.5 -54.2M-18.3 -53.9L-18.2 -53.7M-16.4 -56.5L-15.8 -54.4M-18.2 -53.7A56.7 56.7 0 0 1 -15.8 -54.4M-21.5 -52.8L-21.2 -52.2M-17 -54.1L-16.9 -53.8M-21.2 -52.2A56.4 56.4 0 0 1 -16.9 -53.8M-14.7 -56.9L-14.4 -55.7M-13 -57.3L-12.7 -56.1M-14.4 -55.7A57.5 57.5 0 0 1 -12.7 -56.1M-19.1 -53L-19 -52.8M-13.6 -55.9L-13.2 -54.5M-19 -52.8A56.1 56.1 0 0 1 -13.2 -54.5M-27.1 -49.6L-26.8 -48.9M-16.1 -53.7L-16 -53.4M-26.8 -48.9A55.8 55.8 0 0 1 -16 -53.4M-11.3 -57.7L-11.1 -56.4M-9.6 -58L-9.4 -56.7M-11.1 -56.4A57.4 57.4 0 0 1 -9.4 -56.7M-7.9 -58.3L-7.7 -56.7M-6.2 -58.5L-6 -56.9M-7.7 -56.7A57.2 57.2 0 0 1 -6 -56.9M-10.2 -56.5L-10.1 -56M-6.8 -56.8L-6.8 -56.5M-10.1 -56A56.9 56.9 0 0 1 -6.8 -56.5M-21.5 -51.4L-21.4 -51.1M-8.5 -56.3L-8.2 -54.7M-21.4 -51.1A55.3 55.3 0 0 1 -8.2 -54.7M-14.9 -53.3L-14.8 -53M-4.4 -58.6L-4.2 -54.9M-14.8 -53A55 55 0 0 1 -4.2 -54.9M-33.9 -45.4L-32.7 -43.9M-9.5 -54.2L-9.5 -53.9M-32.7 -43.9A54.7 54.7 0 0 1 -9.5 -53.9M-21.7 -50.3L-21.6 -50M-2.7 -58.7L-2.5 -54.4M-21.6 -50A54.4 54.4 0 0 1 -2.5 -54.4M-37.5 -43.6L-35.3 -41M-12.2 -53L-12.2 -52.8M-35.3 -41A54.1 54.1 0 0 1 -12.2 -52.8M2.5 -58.7L2.4 -57.2M4.2 -58.6L4.1 -57.1M2.4 -57.2A57.2 57.2 0 0 1 4.1 -57.1M3.3 -57.1L3.3 -56.8M6 -58.5L5.8 -56.6M3.3 -56.8A56.9 56.9 0 0 1 5.8 -56.6M0.8 -58.8L0.7 -56.6M4.5 -56.7L4.5 -56.4M0.7 -56.6A56.6 56.6 0 0 1 4.5 -56.4M-1 -58.8L-0.9 -56.3M2.6 -56.6L2.6 -56.3M-0.9 -56.3A56.3 56.3 0 0 1 2.6 -56.3M0.8 -56.3L0.8 -56M7.7 -58.3L7.3 -55.5M0.8 -56A56 56 0 0 1 7.3 -55.5M9.4 -58L9.2 -56.6M11.1 -57.7L10.9 -56.3M9.2 -56.6A57.4 57.4 0 0 1 10.9 -56.3M12.8 -57.4L12.6 -56.2M14.5 -57L14.2 -55.8M12.6 -56.2A57.6 57.6 0 0 1 14.2 -55.8M10 -56.5L9.9 -55.7M13.4 -56L13.2 -55.1M9.9 -55.7A56.6 56.6 0 0 1 13.2 -55.1M11.5 -55.4L11.5 -55.1M16.2 -56.5L15.5 -54.1M11.5 -55.1A56.3 56.3 0 0 1 15.5 -54.1M19.5 -55.5L18.9 -53.9M21.1 -54.9L20.5 -53.3M18.9 -53.9A57.1 57.1 0 0 1 20.5 -53.3M17.9 -56L17.3 -54.1M19.7 -53.6L19.6 -53.3M17.3 -54.1A56.8 56.8 0 0 1 19.6 -53.3M24.3 -53.5L23.7 -52M25.9 -52.8L25.2 -51.3M23.7 -52A57.2 57.2 0 0 1 25.2 -51.3M22.8 -54.2L22 -52.4M24.4 -51.7L24.3 -51.4M22 -52.4A56.9 56.9 0 0 1 24.3 -51.4M27.5 -52L26.6 -50.4M29 -51.2L28.1 -49.6M26.6 -50.4A57 57 0 0 1 28.1 -49.6M23.2 -51.9L23 -51.7M27.4 -50L27.2 -49.6M23 -51.7A56.6 56.6 0 0 1 27.2 -49.6M18.5 -53.7L18.3 -53.2M25.1 -50.7L25 -50.4M18.3 -53.2A56.3 56.3 0 0 1 25 -50.4M13.5 -54.7L13.3 -53.9M21.7 -51.9L21.4 -51.3M13.3 -53.9A55.6 55.6 0 0 1 21.4 -51.3M30.5 -50.3L29.7 -49M32 -49.4L31.2 -48.1M29.7 -49A57.3 57.3 0 0 1 31.2 -48.1M17.4 -52.8L17.3 -52.5M30.4 -48.6L29.4 -46.8M17.3 -52.5A55.3 55.3 0 0 1 29.4 -46.8M4.1 -55.9L4 -54.8M23.5 -50L23.4 -49.7M4 -54.8A55 55 0 0 1 23.4 -49.7M33.4 -48.4L32.5 -47.1M34.8 -47.4L33.9 -46.1M32.5 -47.1A57.2 57.2 0 0 1 33.9 -46.1M33.2 -46.6L33 -46.3M36.2 -46.3L35 -44.8M33 -46.3A56.9 56.9 0 0 1 35 -44.8M13.9 -53.2L13.9 -52.9M34 -45.6L32.7 -43.8M13.9 -52.9A54.7 54.7 0 0 1 32.7 -43.8M37.6 -45.2L36.8 -44.3M38.9 -44.1L38 -43.2M36.8 -44.3A57.5 57.5 0 0 1 38 -43.2M41.4 -41.7L40.5 -40.8M42.6 -40.5L41.7 -39.6M40.5 -40.8A57.5 57.5 0 0 1 41.7 -39.6M40.2 -42.9L38.9 -41.6M41.1 -40.2L40.7 -39.8M38.9 -41.6A56.9 56.9 0 0 1 40.7 -39.8M37.4 -43.7L36.8 -43M39.8 -40.7L39.6 -40.5M36.8 -43A56.6 56.6 0 0 1 39.6 -40.5M23.7 -49.3L23.6 -49M38.2 -41.8L36.7 -40.1M23.6 -49A54.4 54.4 0 0 1 36.7 -40.1M-24.5 -48.3L-24 -47.3M30.5 -45L29.7 -43.9M-24 -47.3A53 53 0 0 1 29.7 -43.9M-40.3 -42.8L-36.1 -38.4M3.3 -52.9L3.3 -52.6M-36.1 -38.4A52.7 52.7 0 0 1 3.3 -52.6M46.1 -36.6L44.8 -35.5M47.1 -35.2L45.8 -34.2M44.8 -35.5A57.1 57.1 0 0 1 45.8 -34.2M45 -37.9L43.5 -36.6M45.3 -34.9L45 -34.7M43.5 -36.6A56.8 56.8 0 0 1 45 -34.7M43.8 -39.2L42.1 -37.7M44.3 -35.7L44 -35.5M42.1 -37.7A56.5 56.5 0 0 1 44 -35.5M48.1 -33.8L46.7 -32.8M49.1 -32.3L47.7 -31.4M46.7 -32.8A57.1 57.1 0 0 1 47.7 -31.4M43.1 -36.6L42.9 -36.4M47.2 -32.1L46.5 -31.6M42.9 -36.4A56.2 56.2 0 0 1 46.5 -31.6M50.9 -29.4L49.6 -28.6M51.8 -27.9L50.4 -27.1M49.6 -28.6A57.3 57.3 0 0 1 50.4 -27.1M52.6 -26.3L51.4 -25.7M53.3 -24.8L52.2 -24.2M51.4 -25.7A57.5 57.5 0 0 1 52.2 -24.2M51.8 -25L51.5 -24.8M54 -23.2L52.6 -22.5M51.5 -24.8A57.2 57.2 0 0 1 52.6 -22.5M50 -27.9L49.7 -27.7M52.1 -23.7L51.8 -23.6M49.7 -27.7A56.9 56.9 0 0 1 51.8 -23.6M50 -30.9L48 -29.6M50.8 -25.7L50.3 -25.4M48 -29.6A56.4 56.4 0 0 1 50.3 -25.4M54.7 -21.6L53.5 -21.1M55.3 -19.9L54.1 -19.5M53.5 -21.1A57.5 57.5 0 0 1 54.1 -19.5M56.4 -16.6L54.8 -16.2M56.9 -15L55.2 -14.5M54.8 -16.2A57.1 57.1 0 0 1 55.2 -14.5M57.3 -13.3L55.7 -12.9M57.7 -11.6L56.1 -11.3M55.7 -12.9A57.2 57.2 0 0 1 56.1 -11.3M55 -15.3L54.6 -15.2M55.9 -12.1L55.4 -12M54.6 -15.2A56.7 56.7 0 0 1 55.4 -12M55.9 -18.3L53.6 -17.5M55.1 -13.6L54.8 -13.5M53.6 -17.5A56.4 56.4 0 0 1 54.8 -13.5M53.8 -20.3L52.5 -19.8M54.2 -15.6L53.9 -15.5M52.5 -19.8A56.1 56.1 0 0 1 53.9 -15.5M49.2 -27.5L48.7 -27.3M53.3 -17.6L53 -17.6M48.7 -27.3A55.8 55.8 0 0 1 53 -17.6M44.8 -34.1L44.1 -33.6M51.1 -22.5L50.8 -22.4M44.1 -33.6A55.5 55.5 0 0 1 50.8 -22.4M-17.9 -49.6L-17.7 -49M47.8 -28.2L44.9 -26.5M-17.7 -49A52.1 52.1 0 0 1 44.9 -26.5M-41.6 -41.6L-36.6 -36.6M17.7 -49L17.6 -48.7M-36.6 -36.6A51.8 51.8 0 0 1 17.6 -48.7M-51.8 -11.9L-48.5 -11.2M-11.3 -50.6L-10.8 -48.6M-48.5 -11.2A49.8 49.8 0 0 1 -10.8 -48.6" stroke="#e2508f"/></g>
<path fill="#2e3a64" d="M48.5 0.5A48.5 48.5 0 0 1 46.8 12.8L29.9 8.2A31 31 0 0 0 31 0.3Z"/>
<text class="sl" transform="rotate(8)" x="40" y="1.8" text-anchor="middle">Phylum</text>
<path fill="#a9e5e4" d="M46.5 13.8A48.5 48.5 0 0 1 35.3 33.3L22.6 21.3A31 31 0 0 0 29.7 8.8Z"/>
<text class="sl" transform="rotate(29.9)" x="40" y="1.8" text-anchor="middle">Class</text>
<path fill="#ddb19d" d="M34.6 34A48.5 48.5 0 0 1 10.5 47.4L6.7 30.3A31 31 0 0 0 22.1 21.7Z"/>
<text class="sl" transform="rotate(61)" x="40" y="1.8" text-anchor="middle">Order</text>
<path fill="#fba26c" d="M9.5 47.6A48.5 48.5 0 0 1 -35.2 33.3L-22.5 21.3A31 31 0 0 0 6.1 30.4Z"/>
<text class="sl" transform="rotate(287.6)" x="-40" y="1.8" text-anchor="middle">Family</text>
<path fill="#7a3b30" d="M-35.9 32.6A48.5 48.5 0 1 1 47.7 -8.8L30.5 -5.6A31 31 0 1 0 -23 20.8Z"/>
<text class="sl" transform="rotate(432.5)" x="-40" y="1.8" text-anchor="middle">Genus</text>
<text class="tn" transform="rotate(-7)" x="66.9" y="1.4" text-anchor="middle" fill="#222" stroke="#222">Egger</text>
<text class="tn" transform="rotate(-7)" x="78.7" y="1.4" text-anchor="middle" fill="#222" stroke="#222">WM</text>
<text class="tn" transform="rotate(-7)" x="90.2" y="1.4" text-anchor="middle" fill="#e0533d" stroke="#e0533d">IVW</text>
<text class="lt" x="138.5" y="-12.8">PH</text>
<rect x="138.5" y="-11" width="4" height="21.5" fill="url(#lg)"/>
<path d="M138.5 -3.5h0.9M141.6 -3.5h0.9M138.5 2.6h0.9M141.6 2.6h0.9" stroke="#fff" stroke-width="0.5"/>
<text class="lv" x="144.4" y="-8.8">1</text>
<text class="lv" x="144.4" y="-2.1">0.1</text>
<text class="lv" x="144.4" y="4">0.05</text>
<text class="lv" x="144.4" y="10.5">0</text>
</g>
<g transform="translate(526.3 499.7)">
<g class="lab"><text transform="rotate(1.4)" x="98.9" class="r">Actinobacteria.id.400</text><text transform="rotate(3.1)" x="98.9">Verrucomicrobia.id.3982</text><text transform="rotate(4.7)" x="98.9" class="r">Tenericutes.id.3919</text><text transform="rotate(6.3)" x="98.9">Proteobacteria.id.2375</text><text transform="rotate(8)" x="98.9">Lentisphaerae.id.2238</text><text transform="rotate(9.6)" x="98.9">Cyanobacteria.id.1500</text><text transform="rotate(11.2)" x="98.9">Bacteroidetes.id.905</text><text transform="rotate(12.9)" x="98.9">Euryarchaeota.id.55</text><text transform="rotate(14.5)" x="98.9">Firmicutes.id.1672</text><text transform="rotate(17.3)" x="98.9" class="r">Verrucomicrobiae.id.4029</text><text transform="rotate(19)" x="98.9">Negativicutes.id.2164</text><text transform="rotate(20.7)" x="98.9">Gammaproteobacteria.id.3303</text><text transform="rotate(22.4)" x="98.9">Actinobacteria.id.419</text><text transform="rotate(24)" x="98.9">Alphaproteobacteria.id.2379</text><text transform="rotate(25.7)" x="98.9">Lentisphaeria.id.2250</text><text transform="rotate(27.4)" x="98.9">Erysipelotrichia.id.2147</text><text transform="rotate(29.1)" x="98.9">Bacteroidia.id.912</text><text transform="rotate(30.7)" x="98.9">Bacilli.id.1673</text><text transform="rotate(32.4)" x="98.9">Clostridia.id.1859</text><text transform="rotate(34.1)" x="98.9">Betaproteobacteria.id.2867</text><text transform="rotate(35.8)" x="98.9">Coriobacteriia.id.809</text><text transform="rotate(37.4)" x="98.9">Methanobacteria.id.119</text><text transform="rotate(39.1)" x="98.9">Deltaproteobacteria.id.3087</text><text transform="rotate(40.8)" x="98.9">Melainabacteria.id.1589</text><text transform="rotate(42.5)" x="98.9">Mollicutes.id.3920</text><text transform="rotate(45.3)" x="98.9">Rhodospirillales.id.2667</text><text transform="rotate(47)" x="98.9">MollicutesRF9.id.11579</text><text transform="rotate(48.6)" x="98.9">Enterobacteriales.id.3468</text><text transform="rotate(50.3)" x="98.9">Bacillales.id.1674</text><text transform="rotate(51.9)" x="98.9">Burkholderiales.id.2874</text><text transform="rotate(53.6)" x="98.9">Methanobacteriales.id.120</text><text transform="rotate(55.2)" x="98.9">Desulfovibrionales.id.3156</text><text transform="rotate(56.9)" x="98.9">Erysipelotrichales.id.2148</text><text transform="rotate(58.5)" x="98.9" class="r">Lactobacillales.id.1800</text><text transform="rotate(60.2)" x="98.9">Selenomonadales.id.2165</text><text transform="rotate(61.8)" x="98.9">Victivallales.id.2254</text><text transform="rotate(63.5)" x="98.9">Bifidobacteriales.id.432</text><text transform="rotate(65.1)" x="98.9">NB1n.id.3953</text><text transform="rotate(66.8)" x="98.9">Coriobacteriales.id.810</text><text transform="rotate(68.4)" x="98.9">Bacteroidales.id.913</text><text transform="rotate(70.1)" x="98.9">Gastranaerophilales.id.1591</text><text transform="rotate(71.7)" x="98.9">Pasteurellales.id.3643</text><text transform="rotate(73.4)" x="98.9">Actinomycetales.id.420</text><text transform="rotate(75)" x="98.9">Clostridiales.id.1863</text><text transform="rotate(76.7)" x="98.9">Verrucomicrobiales.id.4030</text><text transform="rotate(79.6)" x="98.9">Alcaligenaceae.id.2875</text><text transform="rotate(81.3)" x="98.9">Enterobacteriaceae.id.3469</text><text transform="rotate(83)" x="98.9">Desulfovibrionaceae.id.3169</text><text transform="rotate(84.7)" x="98.9">Erysipelotrichaceae.id.2149</text><text transform="rotate(86.4)" x="98.9">Bacillaceae.id.1675</text><text transform="rotate(88.1)" x="98.9" class="r">Rikenellaceae.id.967</text><text transform="rotate(89.8)" x="98.9">Prevotellaceae.id.960</text><text transform="rotate(271.5)" x="-98.9" class="e">Pasteurellaceae.id.3689</text><text transform="rotate(273.2)" x="-98.9" class="e">Ruminococcaceae.id.2050</text><text transform="rotate(274.9)" x="-98.9" class="e">Lachnospiraceae.id.1987</text><text transform="rotate(276.6)" x="-98.9" class="e">Methanobacteriaceae.id.121</text><text transform="rotate(278.3)" x="-98.9" class="e">FamilyXIII.id.1957</text><text transform="rotate(280)" x="-98.9" class="e">Acidaminococcaceae.id.2166</text><text transform="rotate(281.7)" x="-98.9" class="e">FamilyXI.id.1936</text><text transform="rotate(283.4)" x="-98.9" class="e">Defluviitaleaceae.id.1924</text><text transform="rotate(285.1)" x="-98.9" class="e">Porphyromonadaceae.id.943</text><text transform="rotate(286.8)" x="-98.9" class="e">Actinomycetaceae.id.421</text><text transform="rotate(288.5)" x="-98.9" class="e">Clostridiaceae1.id.1869</text><text transform="rotate(290.2)" x="-98.9" class="e">Veillonellaceae.id.2172</text><text transform="rotate(291.9)" x="-98.9" class="e">Christensenellaceae.id.1866</text><text transform="rotate(293.6)" x="-98.9" class="e">Peptococcaceae.id.2024</text><text transform="rotate(295.3)" x="-98.9" class="e">ClostridialesvadinBB60group.id.11286</text><text transform="rotate(297)" x="-98.9" class="e">unknownfamily.id.1000001214</text><text transform="rotate(298.7)" x="-98.9" class="e">Oxalobacteraceae.id.2966</text><text transform="rotate(300.4)" x="-98.9" class="e">Lactobacillaceae.id.1836</text><text transform="rotate(302.1)" x="-98.9" class="e">Streptococcaceae.id.1850</text><text transform="rotate(303.8)" x="-98.9" class="e">Coriobacteriaceae.id.811</text><text transform="rotate(305.5)" x="-98.9" class="e">Peptostreptococcaceae.id.2042</text><text transform="rotate(307.2)" x="-98.9" class="e">Victivallaceae.id.2255</text><text transform="rotate(308.9)" x="-98.9" class="e">Rhodospirillaceae.id.2717</text><text transform="rotate(310.6)" x="-98.9" class="e">BacteroidalesS24.7group.id.11173</text><text transform="rotate(312.3)" x="-98.9" class="e">Verrucomicrobiaceae.id.4036</text><text transform="rotate(314)" x="-98.9" class="e">Bacteroidaceae.id.917</text><text transform="rotate(315.7)" x="-98.9" class="e">Bifidobacteriaceae.id.433</text><text transform="rotate(318.6)" x="-98.9" class="e">Ruminococcusgauvreauiigroup.id.11342</text><text transform="rotate(320.3)" x="-98.9" class="e">Bacteroides.id.918</text><text transform="rotate(322)" x="-98.9" class="e">Butyricicoccus.id.2055</text><text transform="rotate(323.7)" x="-98.9" class="e">Akkermansia.id.4037</text><text transform="rotate(325.4)" x="-98.9" class="e">Roseburia.id.2012</text><text transform="rotate(327.1)" x="-98.9" class="e">Holdemania.id.2157</text><text transform="rotate(328.8)" x="-98.9" class="e r">LachnospiraceaeUCG003.id.11323</text><text transform="rotate(330.5)" x="-98.9" class="e r">unknowngenus.id.2071</text><text transform="rotate(332.2)" x="-98.9" class="e">Coprobacter.id.949</text><text transform="rotate(333.9)" x="-98.9" class="e">Ruminococcus1.id.11373</text><text transform="rotate(335.6)" x="-98.9" class="e">Streptococcus.id.1853</text><text transform="rotate(337.3)" x="-98.9" class="e">Senegalimassilia.id.11160</text><text transform="rotate(339)" x="-98.9" class="e">CandidatusSoleaferrea.id.11350</text><text transform="rotate(340.7)" x="-98.9" class="e">Peptococcus.id.2037</text><text transform="rotate(342.4)" x="-98.9" class="e">Dorea.id.1997</text><text transform="rotate(344.1)" x="-98.9" class="e">RuminococcaceaeNK4A214group.id.11358</text><text transform="rotate(345.7)" x="-98.9" class="e">Howardella.id.2000</text><text transform="rotate(347.4)" x="-98.9" class="e">CandidatusSoleaferrea.id.11350</text><text transform="rotate(349.1)" x="-98.9" class="e">Odoribacter.id.952</text><text transform="rotate(350.8)" x="-98.9" class="e">Lactobacillus.id.1837</text><text transform="rotate(352.5)" x="-98.9" class="e">Eubacteriumxylanophilumgroup.id.14375</text><text transform="rotate(354.2)" x="-98.9" class="e">Ruminococcustorquesgroup.id.14377</text><text transform="rotate(355.9)" x="-98.9" class="e r">Dialister.id.2183</text><text transform="rotate(357.6)" x="-98.9" class="e r">Methanobrevibacter.id.123</text><text transform="rotate(359.3)" x="-98.9" class="e">Coprococcus1.id.11301</text><text transform="rotate(361)" x="-98.9" class="e">RuminococcaceaeUCG010.id.11367</text><text transform="rotate(362.7)" x="-98.9" class="e r">RuminococcaceaeUCG013.id.11370</text><text transform="rotate(364.4)" x="-98.9" class="e">Ruminiclostridium9.id.11357</text><text transform="rotate(366.1)" x="-98.9" class="e">LachnospiraceaeNK4A136group.id.11319</text><text transform="rotate(367.8)" x="-98.9" class="e">Eubacteriumfissicatenagroup.id.14373</text><text transform="rotate(369.5)" x="-98.9" class="e r">Alistipes.id.968</text><text transform="rotate(371.1)" x="-98.9" class="e">Faecalibacterium.id.2057</text><text transform="rotate(372.8)" x="-98.9" class="e">Olsenella.id.822</text><text transform="rotate(374.5)" x="-98.9" class="e">Eubacteriumoxidoreducensgroup.id.11339</text><text transform="rotate(376.2)" x="-98.9" class="e">Coprococcus3.id.11303</text><text transform="rotate(377.9)" x="-98.9" class="e">Romboutsia.id.11347</text><text transform="rotate(379.6)" x="-98.9" class="e">unknowngenus.id.959</text><text transform="rotate(381.3)" x="-98.9" class="e">Eubacteriumhalliigroup.id.11338</text><text transform="rotate(383)" x="-98.9" class="e">RuminococcaceaeUCG.id.2050</text><text transform="rotate(384.7)" x="-98.9" class="e">LachnospiraceaeUCG004.id.11324</text><text transform="rotate(386.4)" x="-98.9" class="e">Catenibacterium.id.2153</text><text transform="rotate(388.1)" x="-98.9" class="e">Oxalobacter.id.2978</text><text transform="rotate(389.8)" x="-98.9" class="e">LachnospiraceaeND3007group.id.11317</text><text transform="rotate(391.5)" x="-98.9" class="e">unknowngenus.id.1000005472</text><text transform="rotate(393.2)" x="-98.9" class="e">Tyzzerella3.id.11335</text><text transform="rotate(394.9)" x="-98.9" class="e">unknowngenus.id.1000001214</text><text transform="rotate(396.6)" x="-98.9" class="e">Eggerthella.id.819</text><text transform="rotate(398.2)" x="-98.9" class="e">Parasutterella.id.2892</text><text transform="rotate(399.9)" x="-98.9" class="e">Alloprevotella.id.961</text><text transform="rotate(401.6)" x="-98.9" class="e">Adlercreutzia.id.812</text><text transform="rotate(403.3)" x="-98.9" class="e">Clostridiuminnocuumgroup.id.14397</text><text transform="rotate(405)" x="-98.9" class="e">LachnospiraceaeFCS020group.id.11314</text><text transform="rotate(406.7)" x="-98.9" class="e">Phascolarctobacterium.id.2168</text><text transform="rotate(408.4)" x="-98.9" class="e">FamilyXIIIUCG001.id.11294</text><text transform="rotate(410.1)" x="-98.9" class="e">Parabacteroides.id.954</text><text transform="rotate(411.8)" x="-98.9" class="e">Slackia.id.825</text><text transform="rotate(413.5)" x="-98.9" class="e">RikenellaceaeRC9gutgroup.id.11191</text><text transform="rotate(415.2)" x="-98.9" class="e">Eubacteriumcoprostanoligenesgroup.id.11375</text><text transform="rotate(416.9)" x="-98.9" class="e">EscherichiaShigella.id.3504</text><text transform="rotate(418.6)" x="-98.9" class="e">Haemophilus.id.3698</text><text transform="rotate(420.3)" x="-98.9" class="e">Eubacteriumnodatumgroup.id.11297</text><text transform="rotate(422)" x="-98.9" class="e">Bifidobacterium.id.436</text><text transform="rotate(423.6)" x="-98.9" class="e">Eubacteriumrectalegroup.id.14374</text><text transform="rotate(425.3)" x="-98.9" class="e">Butyrivibrio.id.1993</text><text transform="rotate(427)" x="-98.9" class="e">Sutterella.id.2896</text><text transform="rotate(428.7)" x="-98.9" class="e">Ruminiclostridium5.id.11355</text><text transform="rotate(430.4)" x="-98.9" class="e">Coprococcus2.id.11302</text><text transform="rotate(432.1)" x="-98.9" class="e">RuminococcaceaeUCG011.id.11368</text><text transform="rotate(433.8)" x="-98.9" class="e">Clostridiumsensustricto1.id.1873</text><text transform="rotate(435.5)" x="-98.9" class="e">Butyricimonas.id.945</text><text transform="rotate(437.2)" x="-98.9" class="e">Eubacteriumeligensgroup.id.14372</text><text transform="rotate(438.9)" x="-98.9" class="e">Eubacteriumruminantiumgroup.id.11340</text><text transform="rotate(440.6)" x="-98.9" class="e">Gordonibacter.id.821</text><text transform="rotate(442.3)" x="-98.9" class="e">Paraprevotella.id.962</text><text transform="rotate(444)" x="-98.9" class="e">Actinomyces.id.423</text><text transform="rotate(445.7)" x="-98.9" class="e">Oscillospira.id.2064</text><text transform="rotate(447.4)" x="-98.9" class="e">Eubacteriumbrachygroup.id.11296</text><text transform="rotate(449.1)" x="-98.9" class="e">Erysipelatoclostridium.id.11381</text><text transform="rotate(270.7)" x="98.9">unknowngenus.id.2041</text><text transform="rotate(272.4)" x="98.9">Intestinibacter.id.11345</text><text transform="rotate(274.1)" x="98.9">Oscillibacter.id.2063</text><text transform="rotate(275.8)" x="98.9">Subdoligranulum.id.2070</text><text transform="rotate(277.5)" x="98.9">Intestinimonas.id.2062</text><text transform="rotate(279.2)" x="98.9">LachnospiraceaeNC2004group.id.11316</text><text transform="rotate(280.9)" x="98.9">Lactococcus.id.1851</text><text transform="rotate(282.6)" x="98.9">Marvinbryantia.id.2005</text><text transform="rotate(284.3)" x="98.9">Lachnospira.id.2004</text><text transform="rotate(286)" x="98.9">Prevotella7.id.11182</text><text transform="rotate(287.7)" x="98.9">Sellimonas.id.14369</text><text transform="rotate(289.4)" x="98.9">Allisonella.id.2174</text><text transform="rotate(291.1)" x="98.9">Ruminococcusgnavusgroup.id.14376</text><text transform="rotate(292.8)" x="98.9">Collinsella.id.815</text><text transform="rotate(294.5)" x="98.9">Blautia.id.1992</text><text transform="rotate(296.2)" x="98.9">RuminococcaceaeUCG002.id.11360</text><text transform="rotate(297.8)" x="98.9">Flavonifractor.id.2059</text><text transform="rotate(299.5)" x="98.9">LachnospiraceaeUCG010.id.11330</text><text transform="rotate(301.2)" x="98.9">Hungatella.id.11306</text><text transform="rotate(302.9)" x="98.9">Terrisporobacter.id.11348</text><text transform="rotate(304.6)" x="98.9">unknowngenus.id.826</text><text transform="rotate(306.3)" x="98.9">Lachnoclostridium.id.11308</text><text transform="rotate(308)" x="98.9">RuminococcaceaeUCG005.id.11363</text><text transform="rotate(309.7)" x="98.9">ChristensenellaceaeR.7group.id.11283</text><text transform="rotate(311.4)" x="98.9">Barnesiella.id.944</text><text transform="rotate(313.1)" x="98.9">Victivallis.id.2256</text><text transform="rotate(314.8)" x="98.9">Prevotella9.id.11183</text><text transform="rotate(316.5)" x="98.9">RuminococcaceaeUCG014.id.11371</text><text transform="rotate(318.2)" x="98.9">unknowngenus.id.2755</text><text transform="rotate(319.9)" x="98.9">FamilyXIIIAD3011group.id.11293</text><text transform="rotate(321.6)" x="98.9">unknowngenus.id.1868</text><text transform="rotate(323.2)" x="98.9">RuminococcaceaeUCG009.id.11366</text><text transform="rotate(324.9)" x="98.9">LachnospiraceaeUCG001.id.11321</text><text transform="rotate(326.6)" x="98.9">Anaerofilum.id.2053</text><text transform="rotate(328.3)" x="98.9">Enterorhabdus.id.820</text><text transform="rotate(330)" x="98.9">RuminococcaceaeUCG004.id.11362</text><text transform="rotate(331.7)" x="98.9">Desulfovibrio.id.3173</text><text transform="rotate(333.4)" x="98.9">Anaerotruncus.id.2054</text><text transform="rotate(335.1)" x="98.9">Fusicatenibacter.id.11305</text><text transform="rotate(336.8)" x="98.9">Ruminococcus2.id.11374</text><text transform="rotate(338.5)" x="98.9">Veillonella.id.2198</text><text transform="rotate(340.2)" x="98.9">DefluviitaleaceaeUCG011.id.11287</text><text transform="rotate(341.9)" x="98.9">RuminococcaceaeUCG003.id.11361</text><text transform="rotate(343.6)" x="98.9">unknowngenus.id.1000000073</text><text transform="rotate(345.3)" x="98.9">Eubacteriumventriosumgroup.id.11341</text><text transform="rotate(347)" x="98.9">Turicibacter.id.2162</text><text transform="rotate(348.7)" x="98.9">Anaerostipes.id.1991</text></g>
<path fill="#8296b2" d="M95.8 1A95.8 95.8 0 0 1 92.4 25.3L58.8 16.1A61 61 0 0 0 61 0.6ZM91.9 27.2A95.8 95.8 0 0 1 69.7 65.7L44.4 41.8A61 61 0 0 0 58.5 17.3ZM68.3 67.1A95.8 95.8 0 0 1 20.7 93.5L13.2 59.6A61 61 0 0 0 43.5 42.8ZM18.8 93.9A95.8 95.8 0 0 1 -69.6 65.8L-44.3 41.9A61 61 0 0 0 12 59.8ZM-71 64.4A95.8 95.8 0 1 1 94.2 -17.5L60 -11.1A61 61 0 1 0 -45.2 41Z"/>
<g><path fill="#7488a4" d="M73.1 0.8A73.1 73.1 0 0 1 73 3.2L60.9 2.6A61 61 0 0 0 61 0.6ZM90.1 32.5A95.8 95.8 0 0 1 89 35.5L78.6 31.4A84.6 84.6 0 0 0 79.6 28.7ZM23.4 92.9A95.8 95.8 0 0 1 20.7 93.5L18.3 82.6A84.6 84.6 0 0 0 20.7 82ZM-15.9 71.4A73.1 73.1 0 0 1 -18.3 70.8L-15.3 59.1A61 61 0 0 0 -13.2 59.5ZM-54.3 65.2A84.9 84.9 0 0 1 -56.5 63.3L-48.5 54.3A72.8 72.8 0 0 0 -46.6 55.9ZM-74.5 40.7A84.9 84.9 0 0 1 -75.8 38.2L-65 32.7A72.8 72.8 0 0 0 -63.9 34.9ZM-84.3 -10.2A84.9 84.9 0 0 1 -83.9 -13.1L-71.9 -11.2A72.8 72.8 0 0 0 -72.3 -8.8ZM-64.3 -55.5A84.9 84.9 0 0 1 -62.4 -57.6L-53.5 -49.4A72.8 72.8 0 0 0 -55.1 -47.6ZM40.6 -60.8A73.1 73.1 0 0 1 42.7 -59.4L35.6 -49.5A61 61 0 0 0 33.9 -50.7ZM45.9 -56.9A73.1 73.1 0 0 1 47.8 -55.3L39.9 -46.2A61 61 0 0 0 38.3 -47.5ZM52.3 -51.1A73.1 73.1 0 0 1 54 -49.3L45 -41.2A61 61 0 0 0 43.6 -42.7ZM75.9 -58.4A95.8 95.8 0 0 1 77.8 -55.8L68.7 -49.3A84.6 84.6 0 0 0 67 -51.6ZM69.1 -23.8A73.1 73.1 0 0 1 69.9 -21.4L58.3 -17.9A61 61 0 0 0 57.7 -19.8Z"/><path fill="#9c5c50" d="M84.9 0.9A84.9 84.9 0 0 1 84.8 3.7L72.7 3.2A72.8 72.8 0 0 0 72.8 0.8Z"/><path fill="#d0a090" d="M95.8 1A95.8 95.8 0 0 1 95.7 4.2L84.5 3.7A84.6 84.6 0 0 0 84.6 0.9Z"/><path fill="#687898" d="M73 2.8A73.1 73.1 0 0 1 72.9 5.2L60.8 4.4A61 61 0 0 0 61 2.4ZM68.8 24.8A73.1 73.1 0 0 1 67.9 27.1L56.6 22.6A61 61 0 0 0 57.4 20.7ZM65.4 32.7A73.1 73.1 0 0 1 64.3 34.9L53.6 29.1A61 61 0 0 0 54.6 27.3ZM78.5 54.8A95.8 95.8 0 0 1 76.7 57.5L67.7 50.7A84.6 84.6 0 0 0 69.4 48.4ZM60.6 59.5A84.9 84.9 0 0 1 58.5 61.5L50.2 52.7A72.8 72.8 0 0 0 51.9 51ZM33.6 64.9A73.1 73.1 0 0 1 31.4 66L26.2 55.1A61 61 0 0 0 28 54.2ZM-6.7 95.6A95.8 95.8 0 0 1 -10 95.3L-8.8 84.1A84.6 84.6 0 0 0 -5.9 84.4ZM-20.1 70.3A73.1 73.1 0 0 1 -22.5 69.6L-18.7 58A61 61 0 0 0 -16.8 58.7ZM-41.6 60.1A73.1 73.1 0 0 1 -43.6 58.7L-36.4 49A61 61 0 0 0 -34.7 50.2ZM-54.2 49.1A73.1 73.1 0 0 1 -55.8 47.2L-46.6 39.4A61 61 0 0 0 -45.2 41ZM-62.9 57A84.9 84.9 0 0 1 -64.8 54.9L-55.6 47A72.8 72.8 0 0 0 -53.9 48.9ZM-78.1 55.5A95.8 95.8 0 0 1 -79.9 52.9L-70.6 46.7A84.6 84.6 0 0 0 -68.9 49ZM-62 38.8A73.1 73.1 0 0 1 -63.2 36.7L-52.8 30.6A61 61 0 0 0 -51.7 32.4ZM-72 45A84.9 84.9 0 0 1 -73.5 42.6L-63 36.5A72.8 72.8 0 0 0 -61.7 38.6ZM-11.5 -95.1A95.8 95.8 0 0 1 -8.2 -95.4L-7.3 -84.3A84.6 84.6 0 0 0 -10.1 -84ZM12.8 -72A73.1 73.1 0 0 1 15.2 -71.5L12.7 -59.7A61 61 0 0 0 10.7 -60.1ZM70.4 -64.9A95.8 95.8 0 0 1 72.6 -62.5L64.1 -55.2A84.6 84.6 0 0 0 62.2 -57.3ZM82.3 -49.1A95.8 95.8 0 0 1 83.9 -46.3L74.1 -40.9A84.6 84.6 0 0 0 72.7 -43.3ZM74.2 -41.3A84.9 84.9 0 0 1 75.5 -38.8L64.8 -33.3A72.8 72.8 0 0 0 63.6 -35.4ZM79.4 -30A84.9 84.9 0 0 1 80.4 -27.2L68.9 -23.4A72.8 72.8 0 0 0 68.1 -25.7Z"/><path fill="#505c84" d="M84.8 3.3A84.9 84.9 0 0 1 84.7 6.1L72.6 5.2A72.8 72.8 0 0 0 72.7 2.8ZM95.4 9.2A95.8 95.8 0 0 1 95 12.3L83.9 10.9A84.6 84.6 0 0 0 84.2 8.1ZM47.5 55.5A73.1 73.1 0 0 1 45.7 57.1L38.1 47.6A61 61 0 0 0 39.7 46.4ZM53.3 66.1A84.9 84.9 0 0 1 51.1 67.8L43.8 58.1A72.8 72.8 0 0 0 45.7 56.7ZM28.7 91.4A95.8 95.8 0 0 1 25.7 92.3L22.7 81.5A84.6 84.6 0 0 0 25.4 80.7ZM16.6 83.3A84.9 84.9 0 0 1 13.8 83.8L11.8 71.8A72.8 72.8 0 0 0 14.3 71.4ZM-12.4 95A95.8 95.8 0 0 1 -15.6 94.5L-13.8 83.5A84.6 84.6 0 0 0 -10.9 83.9ZM-31.7 90.4A95.8 95.8 0 0 1 -34.8 89.3L-30.7 78.8A84.6 84.6 0 0 0 -28 79.8ZM-79.7 53.2A95.8 95.8 0 0 1 -81.4 50.5L-71.9 44.6A84.6 84.6 0 0 0 -70.4 47ZM-63.1 36.9A73.1 73.1 0 0 1 -64.3 34.8L-53.7 29A61 61 0 0 0 -52.6 30.8ZM-77.8 -55.9A95.8 95.8 0 0 1 -75.9 -58.5L-67 -51.7A84.6 84.6 0 0 0 -68.7 -49.4ZM-49.5 -69A84.9 84.9 0 0 1 -47.1 -70.6L-40.4 -60.6A72.8 72.8 0 0 0 -42.4 -59.1ZM-36.1 -88.8A95.8 95.8 0 0 1 -33 -89.9L-29.2 -79.4A84.6 84.6 0 0 0 -31.9 -78.4ZM-21.4 -69.9A73.1 73.1 0 0 1 -19 -70.6L-15.9 -58.9A61 61 0 0 0 -17.9 -58.3ZM-24.9 -81.2A84.9 84.9 0 0 1 -22.1 -82L-19 -70.3A72.8 72.8 0 0 0 -21.3 -69.6ZM-17.1 -94.3A95.8 95.8 0 0 1 -13.9 -94.8L-12.2 -83.7A84.6 84.6 0 0 0 -15.1 -83.2Z"/><path fill="#7484a4" d="M95.7 3.7A95.8 95.8 0 0 1 95.6 6.9L84.4 6.1A84.6 84.6 0 0 0 84.5 3.3ZM83.5 15.3A84.9 84.9 0 0 1 83 18.1L71.1 15.5A72.8 72.8 0 0 0 71.6 13.1ZM14.3 71.7A73.1 73.1 0 0 1 11.9 72.1L9.9 60.2A61 61 0 0 0 12 59.8ZM-72 12.7A73.1 73.1 0 0 1 -72.4 10.3L-60.4 8.6A61 61 0 0 0 -60.1 10.6ZM-84.7 -5.2A84.9 84.9 0 0 1 -84.5 -8.1L-72.5 -6.9A72.8 72.8 0 0 0 -72.7 -4.5ZM-83 -17.6A84.9 84.9 0 0 1 -82.4 -20.5L-70.7 -17.5A72.8 72.8 0 0 0 -71.2 -15.1ZM-82.5 -20.1A84.9 84.9 0 0 1 -81.8 -22.9L-70.1 -19.6A72.8 72.8 0 0 0 -70.7 -17.2ZM-65 -33.5A73.1 73.1 0 0 1 -63.8 -35.6L-53.3 -29.7A61 61 0 0 0 -54.2 -27.9ZM55.6 -78A95.8 95.8 0 0 1 58.2 -76.1L51.4 -67.2A84.6 84.6 0 0 0 49.1 -68.9Z"/><path fill="#7488a8" d="M72.9 4.9A73.1 73.1 0 0 1 72.7 7.3L60.7 6.1A61 61 0 0 0 60.9 4.1ZM63.5 56.4A84.9 84.9 0 0 1 61.8 58.2L53 49.9A72.8 72.8 0 0 0 54.4 48.4ZM17.9 70.9A73.1 73.1 0 0 1 15.8 71.4L13.2 59.6A61 61 0 0 0 14.9 59.1ZM-43.4 58.9A73.1 73.1 0 0 1 -45.3 57.3L-37.8 47.8A61 61 0 0 0 -36.2 49.1ZM-84.1 45.9A95.8 95.8 0 0 1 -85.6 43.1L-75.6 38A84.6 84.6 0 0 0 -74.2 40.6ZM-90.7 -30.8A95.8 95.8 0 0 1 -89.6 -33.9L-79.1 -29.9A84.6 84.6 0 0 0 -80.1 -27.2ZM45.1 -71.9A84.9 84.9 0 0 1 47.5 -70.4L40.7 -60.3A72.8 72.8 0 0 0 38.7 -61.7ZM49.3 -69.1A84.9 84.9 0 0 1 51.6 -67.4L44.2 -57.8A72.8 72.8 0 0 0 42.2 -59.3ZM65.7 -53.8A84.9 84.9 0 0 1 67.5 -51.5L57.9 -44.2A72.8 72.8 0 0 0 56.3 -46.1ZM57.9 -44.6A73.1 73.1 0 0 1 59.4 -42.6L49.6 -35.6A61 61 0 0 0 48.3 -37.2ZM81.8 -22.8A84.9 84.9 0 0 1 82.5 -20L70.7 -17.2A72.8 72.8 0 0 0 70.1 -19.6Z"/><path fill="#647494" d="M84.7 5.7A84.9 84.9 0 0 1 84.5 8.5L72.4 7.3A72.8 72.8 0 0 0 72.6 4.9ZM83.9 12.9A84.9 84.9 0 0 1 83.4 15.7L71.5 13.5A72.8 72.8 0 0 0 71.9 11.1ZM73.6 42.3A84.9 84.9 0 0 1 72.1 44.8L61.9 38.4A72.8 72.8 0 0 0 63.1 36.3ZM59.9 41.9A73.1 73.1 0 0 1 58.5 43.8L48.8 36.6A61 61 0 0 0 50 34.9ZM58.8 61.2A84.9 84.9 0 0 1 56.8 63.1L48.7 54.1A72.8 72.8 0 0 0 50.4 52.5ZM-18 70.9A73.1 73.1 0 0 1 -20.4 70.2L-17 58.6A61 61 0 0 0 -15 59.1ZM-39.7 75.1A84.9 84.9 0 0 1 -42.2 73.7L-36.2 63.2A72.8 72.8 0 0 0 -34 64.4ZM-63.5 71.8A95.8 95.8 0 0 1 -65.9 69.6L-58.2 61.4A84.6 84.6 0 0 0 -56 63.4ZM-51.6 51.8A73.1 73.1 0 0 1 -53.1 50.2L-44.3 41.9A61 61 0 0 0 -43.1 43.2ZM-76.8 36.2A84.9 84.9 0 0 1 -78 33.6L-66.9 28.8A72.8 72.8 0 0 0 -65.8 31.1ZM-71.6 14.8A73.1 73.1 0 0 1 -72 12.4L-60.1 10.4A61 61 0 0 0 -59.7 12.4ZM-34.3 -77.7A84.9 84.9 0 0 1 -31.6 -78.8L-27.1 -67.6A72.8 72.8 0 0 0 -29.4 -66.6ZM-23.5 -69.2A73.1 73.1 0 0 1 -21.1 -70L-17.6 -58.4A61 61 0 0 0 -19.6 -57.8ZM-17.2 -71A73.1 73.1 0 0 1 -14.8 -71.6L-12.4 -59.7A61 61 0 0 0 -14.4 -59.3ZM-10.9 -72.3A73.1 73.1 0 0 1 -8.4 -72.6L-7 -60.6A61 61 0 0 0 -9.1 -60.3ZM11.1 -95.2A95.8 95.8 0 0 1 14.4 -94.7L12.7 -83.6A84.6 84.6 0 0 0 9.8 -84ZM60.7 -59.4A84.9 84.9 0 0 1 62.7 -57.3L53.7 -49.1A72.8 72.8 0 0 0 52 -50.9Z"/><path fill="#a87060" d="M95.6 6.5A95.8 95.8 0 0 1 95.3 9.6L84.2 8.5A84.6 84.6 0 0 0 84.4 5.7ZM-75.7 38.5A84.9 84.9 0 0 1 -76.9 35.9L-66 30.8A72.8 72.8 0 0 0 -64.9 33Z"/><path fill="#6c80a0" d="M72.8 7A73.1 73.1 0 0 1 72.5 9.4L60.5 7.8A61 61 0 0 0 60.7 5.8ZM72.2 11.1A73.1 73.1 0 0 1 71.8 13.5L59.9 11.3A61 61 0 0 0 60.3 9.3ZM54.6 48.6A73.1 73.1 0 0 1 53.2 50.1L44.4 41.8A61 61 0 0 0 45.6 40.5ZM62.3 72.8A95.8 95.8 0 0 1 59.8 74.8L52.8 66.1A84.6 84.6 0 0 0 55 64.3ZM45.9 56.9A73.1 73.1 0 0 1 44 58.4L36.7 48.7A61 61 0 0 0 38.3 47.5ZM1.8 95.8A95.8 95.8 0 0 1 -1.5 95.8L-1.3 84.6A84.6 84.6 0 0 0 1.6 84.6ZM-2.3 -73.1A73.1 73.1 0 0 1 0.2 -73.1L0.2 -61A61 61 0 0 0 -1.9 -61ZM62.4 -57.6A84.9 84.9 0 0 1 64.3 -55.4L55.2 -47.5A72.8 72.8 0 0 0 53.5 -49.3ZM55.2 -47.9A73.1 73.1 0 0 1 56.8 -46L47.4 -38.4A61 61 0 0 0 46 -40ZM80.8 -51.5A95.8 95.8 0 0 1 82.5 -48.7L72.8 -43A84.6 84.6 0 0 0 71.3 -45.5Z"/><path fill="#5c6c90" d="M84.5 8.1A84.9 84.9 0 0 1 84.2 10.9L72.2 9.4A72.8 72.8 0 0 0 72.5 7ZM95.1 11.9A95.8 95.8 0 0 1 94.6 15L83.6 13.3A84.6 84.6 0 0 0 83.9 10.5ZM32.4 78.5A84.9 84.9 0 0 1 29.7 79.5L25.5 68.2A72.8 72.8 0 0 0 27.7 67.3ZM6.6 84.6A84.9 84.9 0 0 1 3.8 84.8L3.2 72.7A72.8 72.8 0 0 0 5.7 72.6ZM-44.8 84.7A95.8 95.8 0 0 1 -47.6 83.1L-42.1 73.4A84.6 84.6 0 0 0 -39.5 74.8ZM-67 29.2A73.1 73.1 0 0 1 -68 26.9L-56.7 22.5A61 61 0 0 0 -55.9 24.4ZM-86.4 -41.3A95.8 95.8 0 0 1 -85 -44.2L-75 -39A84.6 84.6 0 0 0 -76.3 -36.5ZM-48.7 -82.5A95.8 95.8 0 0 1 -45.9 -84.1L-40.5 -74.2A84.6 84.6 0 0 0 -43 -72.8ZM-36.6 -76.6A84.9 84.9 0 0 1 -33.9 -77.8L-29.1 -66.7A72.8 72.8 0 0 0 -31.3 -65.7ZM75.4 -39.1A84.9 84.9 0 0 1 76.6 -36.5L65.7 -31.3A72.8 72.8 0 0 0 64.6 -33.5ZM86.3 -41.6A95.8 95.8 0 0 1 87.7 -38.7L77.4 -34.1A84.6 84.6 0 0 0 76.2 -36.7ZM78.5 -32.3A84.9 84.9 0 0 1 79.6 -29.6L68.2 -25.4A72.8 72.8 0 0 0 67.3 -27.7ZM90.6 -31.1A95.8 95.8 0 0 1 91.6 -28L80.9 -24.8A84.6 84.6 0 0 0 80 -27.5Z"/><path fill="#7c94ac" d="M72.5 9.1A73.1 73.1 0 0 1 72.2 11.5L60.2 9.6A61 61 0 0 0 60.5 7.6ZM91 29.9A95.8 95.8 0 0 1 90 32.9L79.4 29.1A84.6 84.6 0 0 0 80.4 26.4ZM66.4 69.1A95.8 95.8 0 0 1 64 71.2L56.6 62.9A84.6 84.6 0 0 0 58.6 61ZM26.1 92.2A95.8 95.8 0 0 1 23 93L20.3 82.1A84.6 84.6 0 0 0 23 81.4ZM-70.5 -19.4A73.1 73.1 0 0 1 -69.8 -21.8L-58.2 -18.2A61 61 0 0 0 -58.8 -16.2ZM-81.9 -22.5A84.9 84.9 0 0 1 -81 -25.3L-69.5 -21.7A72.8 72.8 0 0 0 -70.2 -19.3ZM66.5 -69A95.8 95.8 0 0 1 68.8 -66.7L60.7 -58.9A84.6 84.6 0 0 0 58.7 -60.9Z"/><path fill="#546488" d="M84.2 10.5A84.9 84.9 0 0 1 83.9 13.3L71.9 11.4A72.8 72.8 0 0 0 72.2 9ZM79 31.2A84.9 84.9 0 0 1 77.9 33.8L66.8 29A72.8 72.8 0 0 0 67.7 26.7ZM47.4 70.4A84.9 84.9 0 0 1 45.1 72L38.6 61.7A72.8 72.8 0 0 0 40.7 60.4ZM-59.9 60.1A84.9 84.9 0 0 1 -61.7 58.3L-52.9 50A72.8 72.8 0 0 0 -51.4 51.6ZM-62.9 -37.2A73.1 73.1 0 0 1 -61.6 -39.4L-51.4 -32.8A61 61 0 0 0 -52.5 -31.1ZM-70.7 -64.7A95.8 95.8 0 0 1 -68.4 -67.1L-60.4 -59.2A84.6 84.6 0 0 0 -62.4 -57.1ZM-41 -74.3A84.9 84.9 0 0 1 -38.5 -75.7L-33 -64.9A72.8 72.8 0 0 0 -35.2 -63.7ZM5.5 -95.6A95.8 95.8 0 0 1 8.7 -95.4L7.7 -84.2A84.6 84.6 0 0 0 4.9 -84.5ZM19.1 -70.6A73.1 73.1 0 0 1 21.5 -69.9L17.9 -58.3A61 61 0 0 0 15.9 -58.9ZM53.7 -49.6A73.1 73.1 0 0 1 55.4 -47.7L46.2 -39.8A61 61 0 0 0 44.8 -41.4ZM77.6 -56.2A95.8 95.8 0 0 1 79.5 -53.5L70.2 -47.3A84.6 84.6 0 0 0 68.5 -49.6Z"/><path fill="#8098b0" d="M94.7 14.6A95.8 95.8 0 0 1 94.1 17.7L83.1 15.6A84.6 84.6 0 0 0 83.6 12.9ZM63.4 36.4A73.1 73.1 0 0 1 62.1 38.5L51.8 32.2A61 61 0 0 0 52.9 30.4ZM-26.3 68.2A73.1 73.1 0 0 1 -28.6 67.3L-23.8 56.1A61 61 0 0 0 -21.9 56.9ZM-70.6 19A73.1 73.1 0 0 1 -71.2 16.6L-59.4 13.9A61 61 0 0 0 -58.9 15.9ZM-84.9 2.3A84.9 84.9 0 0 1 -84.9 -0.6L-72.8 -0.5A72.8 72.8 0 0 0 -72.8 2ZM-91.6 -28.1A95.8 95.8 0 0 1 -90.6 -31.2L-80 -27.6A84.6 84.6 0 0 0 -80.9 -24.8ZM-75.5 -38.9A84.9 84.9 0 0 1 -74.1 -41.4L-63.6 -35.5A72.8 72.8 0 0 0 -64.7 -33.3ZM-74.3 -41.1A84.9 84.9 0 0 1 -72.9 -43.6L-62.5 -37.4A72.8 72.8 0 0 0 -63.7 -35.2ZM64.4 -70.9A95.8 95.8 0 0 1 66.8 -68.7L59 -60.7A84.6 84.6 0 0 0 56.9 -62.6ZM76.5 -36.9A84.9 84.9 0 0 1 77.7 -34.3L66.6 -29.4A72.8 72.8 0 0 0 65.6 -31.6Z"/><path fill="#7084a4" d="M71.9 13.2A73.1 73.1 0 0 1 71.4 15.6L59.6 13A61 61 0 0 0 60 11ZM71 17.3A73.1 73.1 0 0 1 70.5 19.3L58.8 16.1A61 61 0 0 0 59.3 14.4ZM86.9 40.3A95.8 95.8 0 0 1 85.5 43.2L75.5 38.1A84.6 84.6 0 0 0 76.8 35.6ZM66.7 52.6A84.9 84.9 0 0 1 64.8 54.8L55.6 47A72.8 72.8 0 0 0 57.2 45.1ZM12.2 72.1A73.1 73.1 0 0 1 9.7 72.5L8.1 60.5A61 61 0 0 0 10.2 60.1ZM16 94.5A95.8 95.8 0 0 1 12.7 94.9L11.3 83.8A84.6 84.6 0 0 0 14.1 83.4ZM-73.1 -2.3A73.1 73.1 0 0 1 -72.9 -4.8L-60.9 -4A61 61 0 0 0 -61 -2ZM72.3 -62.8A95.8 95.8 0 0 1 74.4 -60.3L65.7 -53.3A84.6 84.6 0 0 0 63.9 -55.5ZM93.6 -20.2A95.8 95.8 0 0 1 94.2 -17.5L83.2 -15.4A84.6 84.6 0 0 0 82.7 -17.9Z"/><path fill="#8498b4" d="M94.2 17.3A95.8 95.8 0 0 1 93.6 20.4L82.7 18A84.6 84.6 0 0 0 83.2 15.3ZM65.1 54.5A84.9 84.9 0 0 1 63.2 56.7L54.2 48.6A72.8 72.8 0 0 0 55.8 46.7ZM-32.8 78.3A84.9 84.9 0 0 1 -35.5 77.1L-30.4 66.1A72.8 72.8 0 0 0 -28.2 67.1ZM-56.2 63.6A84.9 84.9 0 0 1 -58.4 61.6L-50.1 52.9A72.8 72.8 0 0 0 -48.2 54.5ZM-85.4 43.4A95.8 95.8 0 0 1 -86.8 40.5L-76.7 35.8A84.6 84.6 0 0 0 -75.4 38.4ZM-73 -4.5A73.1 73.1 0 0 1 -72.8 -7L-60.7 -5.8A61 61 0 0 0 -60.9 -3.8ZM-72.6 -8.8A73.1 73.1 0 0 1 -72.2 -11.3L-60.3 -9.4A61 61 0 0 0 -60.6 -7.3ZM-8.7 -72.6A73.1 73.1 0 0 1 -6.3 -72.8L-5.2 -60.8A61 61 0 0 0 -7.3 -60.6ZM68.4 -25.8A73.1 73.1 0 0 1 69.2 -23.5L57.8 -19.6A61 61 0 0 0 57.1 -21.5ZM71.5 -15.4A73.1 73.1 0 0 1 71.9 -13.3L60 -11.1A61 61 0 0 0 59.6 -12.9Z"/><path fill="#788cac" d="M71.5 15.2A73.1 73.1 0 0 1 71 17.6L59.2 14.7A61 61 0 0 0 59.7 12.7ZM-41.9 73.8A84.9 84.9 0 0 1 -44.4 72.4L-38.1 62.1A72.8 72.8 0 0 0 -35.9 63.3Z"/><path fill="#7890ac" d="M83 17.7A84.9 84.9 0 0 1 82.4 20.4L70.7 17.5A72.8 72.8 0 0 0 71.2 15.2ZM23.9 69.1A73.1 73.1 0 0 1 21.6 69.8L18 58.3A61 61 0 0 0 20 57.6ZM-1 95.8A95.8 95.8 0 0 1 -4.3 95.7L-3.8 84.5A84.6 84.6 0 0 0 -0.9 84.6ZM-7.7 -84.6A84.9 84.9 0 0 1 -4.8 -84.8L-4.1 -72.7A72.8 72.8 0 0 0 -6.6 -72.5Z"/><path fill="#8094b0" d="M93.7 20A95.8 95.8 0 0 1 93 23L82.1 20.3A84.6 84.6 0 0 0 82.7 17.6ZM75.2 59.3A95.8 95.8 0 0 1 73.2 61.8L64.6 54.6A84.6 84.6 0 0 0 66.4 52.4ZM49.1 54.2A73.1 73.1 0 0 1 47.3 55.8L39.5 46.5A61 61 0 0 0 41 45.2ZM18.8 93.9A95.8 95.8 0 0 1 15.6 94.5L13.7 83.5A84.6 84.6 0 0 0 16.6 83ZM-77.8 33.9A84.9 84.9 0 0 1 -78.9 31.3L-67.7 26.8A72.8 72.8 0 0 0 -66.7 29.1ZM-71.1 17A73.1 73.1 0 0 1 -71.6 14.5L-59.8 12.1A61 61 0 0 0 -59.3 14.1ZM-71 -17.3A73.1 73.1 0 0 1 -70.4 -19.7L-58.7 -16.4A61 61 0 0 0 -59.3 -14.4ZM6.3 -72.8A73.1 73.1 0 0 1 8.8 -72.6L7.4 -60.6A61 61 0 0 0 5.3 -60.8ZM62.3 -72.8A95.8 95.8 0 0 1 64.7 -70.6L57.1 -62.4A84.6 84.6 0 0 0 55 -64.3Z"/><path fill="#6c809c" d="M82.5 20.1A84.9 84.9 0 0 1 81.9 22.4L70.2 19.2A72.8 72.8 0 0 0 70.7 17.2ZM-55.6 47.5A73.1 73.1 0 0 1 -57.2 45.6L-47.7 38A61 61 0 0 0 -46.4 39.6Z"/><path fill="#6c7c9c" d="M93.1 22.6A95.8 95.8 0 0 1 92.4 25.3L81.6 22.3A84.6 84.6 0 0 0 82.2 20ZM66.3 30.7A73.1 73.1 0 0 1 65.2 33L54.4 27.5A61 61 0 0 0 55.3 25.7ZM64.4 34.6A73.1 73.1 0 0 1 63.2 36.7L52.7 30.6A61 61 0 0 0 53.7 28.8ZM62.3 38.3A73.1 73.1 0 0 1 61 40.3L50.9 33.7A61 61 0 0 0 52 31.9ZM56 46.9A73.1 73.1 0 0 1 54.4 48.8L45.4 40.7A61 61 0 0 0 46.8 39.2ZM46.4 83.8A95.8 95.8 0 0 1 43.6 85.3L38.5 75.3A84.6 84.6 0 0 0 41 74ZM31.7 65.9A73.1 73.1 0 0 1 29.5 66.9L24.6 55.8A61 61 0 0 0 26.5 55ZM21.9 69.7A73.1 73.1 0 0 1 19.6 70.4L16.4 58.8A61 61 0 0 0 18.3 58.2ZM-20.8 93.5A95.8 95.8 0 0 1 -24 92.8L-21.2 81.9A84.6 84.6 0 0 0 -18.4 82.6ZM-23.6 92.9A95.8 95.8 0 0 1 -26.7 92L-23.6 81.2A84.6 84.6 0 0 0 -20.8 82ZM-25.7 80.9A84.9 84.9 0 0 1 -28.5 80L-24.4 68.6A72.8 72.8 0 0 0 -22.1 69.4ZM-36.1 63.6A73.1 73.1 0 0 1 -38.2 62.3L-31.9 52A61 61 0 0 0 -30.1 53.1ZM-44.1 72.6A84.9 84.9 0 0 1 -46.5 71L-39.9 60.9A72.8 72.8 0 0 0 -37.8 62.2ZM-61.3 73.6A95.8 95.8 0 0 1 -63.8 71.5L-56.3 63.1A84.6 84.6 0 0 0 -54.1 65ZM-64.6 55.1A84.9 84.9 0 0 1 -66.4 52.9L-56.9 45.4A72.8 72.8 0 0 0 -55.4 47.3ZM-72.8 62.2A95.8 95.8 0 0 1 -74.9 59.7L-66.2 52.7A84.6 84.6 0 0 0 -64.3 55ZM-72.6 8.4A73.1 73.1 0 0 1 -72.9 6L-60.8 5A61 61 0 0 0 -60.6 7ZM-66 -31.5A73.1 73.1 0 0 1 -64.8 -33.7L-54.1 -28.2A61 61 0 0 0 -55 -26.3ZM-83.8 -46.3A95.8 95.8 0 0 1 -82.2 -49.2L-72.6 -43.4A84.6 84.6 0 0 0 -74 -40.9ZM-59.4 -42.7A73.1 73.1 0 0 1 -57.9 -44.7L-48.3 -37.3A61 61 0 0 0 -49.5 -35.6ZM-68.9 -49.5A84.9 84.9 0 0 1 -67.2 -51.9L-57.6 -44.5A72.8 72.8 0 0 0 -59.1 -42.5ZM-67.4 -51.6A84.9 84.9 0 0 1 -65.7 -53.8L-56.3 -46.2A72.8 72.8 0 0 0 -57.8 -44.2ZM-43.8 -85.2A95.8 95.8 0 0 1 -40.9 -86.6L-36.1 -76.5A84.6 84.6 0 0 0 -38.7 -75.2ZM-32 -78.7A84.9 84.9 0 0 1 -29.3 -79.7L-25.1 -68.3A72.8 72.8 0 0 0 -27.4 -67.4ZM-8.6 -95.4A95.8 95.8 0 0 1 -5.4 -95.6L-4.8 -84.5A84.6 84.6 0 0 0 -7.6 -84.3ZM55.2 -64.5A84.9 84.9 0 0 1 57.3 -62.6L49.2 -53.7A72.8 72.8 0 0 0 47.3 -55.3ZM68.8 -49.8A84.9 84.9 0 0 1 70.4 -47.4L60.4 -40.7A72.8 72.8 0 0 0 59 -42.7ZM60.5 -41.1A73.1 73.1 0 0 1 61.8 -39L51.6 -32.6A61 61 0 0 0 50.4 -34.3ZM87.5 -39A95.8 95.8 0 0 1 88.8 -36.1L78.4 -31.8A84.6 84.6 0 0 0 77.3 -34.5ZM92.3 -25.7A95.8 95.8 0 0 1 93.1 -22.6L82.2 -19.9A84.6 84.6 0 0 0 81.5 -22.7ZM93 -23A95.8 95.8 0 0 1 93.7 -19.8L82.8 -17.5A84.6 84.6 0 0 0 82.1 -20.3Z"/><path fill="#7080a0" d="M70.1 20.8A73.1 73.1 0 0 1 69.4 23.1L57.9 19.3A61 61 0 0 0 58.5 17.3ZM61.1 40.1A73.1 73.1 0 0 1 59.8 42.1L49.9 35.1A61 61 0 0 0 51 33.4ZM80.1 52.5A95.8 95.8 0 0 1 78.3 55.2L69.2 48.7A84.6 84.6 0 0 0 70.7 46.4ZM58 76.3A95.8 95.8 0 0 1 55.4 78.1L48.9 69A84.6 84.6 0 0 0 51.2 67.3ZM-3.9 95.7A95.8 95.8 0 0 1 -7.1 95.5L-6.3 84.4A84.6 84.6 0 0 0 -3.4 84.5ZM-50.4 68.4A84.9 84.9 0 0 1 -52.7 66.6L-45.2 57.1A72.8 72.8 0 0 0 -43.2 58.6ZM-58.1 61.9A84.9 84.9 0 0 1 -60.2 59.9L-51.6 51.3A72.8 72.8 0 0 0 -49.8 53.1ZM-59.6 42.4A73.1 73.1 0 0 1 -61 40.3L-50.9 33.7A61 61 0 0 0 -49.7 35.4ZM-73.3 42.9A84.9 84.9 0 0 1 -74.7 40.4L-64 34.6A72.8 72.8 0 0 0 -62.8 36.8ZM-94.3 16.7A95.8 95.8 0 0 1 -94.8 13.5L-83.8 11.9A84.6 84.6 0 0 0 -83.3 14.7ZM-84.6 7.3A84.9 84.9 0 0 1 -84.8 4.4L-72.7 3.8A72.8 72.8 0 0 0 -72.5 6.3ZM-76.6 -36.6A84.9 84.9 0 0 1 -75.3 -39.2L-64.6 -33.6A72.8 72.8 0 0 0 -65.7 -31.4ZM-53.5 -79.4A95.8 95.8 0 0 1 -50.8 -81.2L-44.9 -71.7A84.6 84.6 0 0 0 -47.3 -70.2ZM-10.2 -84.3A84.9 84.9 0 0 1 -7.3 -84.6L-6.3 -72.5A72.8 72.8 0 0 0 -8.7 -72.3ZM50.9 -81.2A95.8 95.8 0 0 1 53.6 -79.4L47.3 -70.1A84.6 84.6 0 0 0 44.9 -71.7ZM68.5 -67A95.8 95.8 0 0 1 70.7 -64.6L62.4 -57.1A84.6 84.6 0 0 0 60.5 -59.2ZM74.1 -60.7A95.8 95.8 0 0 1 76.2 -58.1L67.3 -51.3A84.6 84.6 0 0 0 65.5 -53.6ZM82.4 -20.4A84.9 84.9 0 0 1 83.1 -17.6L71.2 -15.1A72.8 72.8 0 0 0 70.7 -17.5Z"/><path fill="#803c2c" d="M81.4 24.1A84.9 84.9 0 0 1 80.5 26.8L69.1 23A72.8 72.8 0 0 0 69.8 20.7ZM80.7 26.5A84.9 84.9 0 0 1 79.7 29.2L68.4 25A72.8 72.8 0 0 0 69.2 22.7ZM4.7 95.7A95.8 95.8 0 0 1 1.4 95.8L1.2 84.6A84.6 84.6 0 0 0 4.1 84.5Z"/><path fill="#c09080" d="M91.9 27.2A95.8 95.8 0 0 1 90.9 30.3L80.3 26.7A84.6 84.6 0 0 0 81.1 24ZM-37.4 76.2A84.9 84.9 0 0 1 -40 74.9L-34.3 64.2A72.8 72.8 0 0 0 -32.1 65.3ZM-81.2 50.8A95.8 95.8 0 0 1 -82.9 48L-73.2 42.4A84.6 84.6 0 0 0 -71.7 44.9ZM-66.1 31.2A73.1 73.1 0 0 1 -67.1 28.9L-56 24.1A61 61 0 0 0 -55.2 26ZM-83.6 14.8A84.9 84.9 0 0 1 -84.1 11.9L-72.1 10.2A72.8 72.8 0 0 0 -71.7 12.7ZM-95.4 8.3A95.8 95.8 0 0 1 -95.7 5L-84.5 4.4A84.6 84.6 0 0 0 -84.3 7.3ZM-95.8 -3.1A95.8 95.8 0 0 1 -95.6 -6.3L-84.4 -5.6A84.6 84.6 0 0 0 -84.6 -2.7Z"/><path fill="#788ca8" d="M69.5 22.8A73.1 73.1 0 0 1 68.6 25.1L57.3 21A61 61 0 0 0 58 19ZM75.9 37.9A84.9 84.9 0 0 1 74.6 40.5L64 34.7A72.8 72.8 0 0 0 65.1 32.5ZM-9.6 95.3A95.8 95.8 0 0 1 -12.8 94.9L-11.3 83.8A84.6 84.6 0 0 0 -8.4 84.2ZM-18.4 82.9A84.9 84.9 0 0 1 -21.2 82.2L-18.2 70.5A72.8 72.8 0 0 0 -15.8 71.1ZM-24.2 69A73.1 73.1 0 0 1 -26.6 68.1L-22.2 56.8A61 61 0 0 0 -20.2 57.6ZM-28.1 80.1A84.9 84.9 0 0 1 -30.8 79.1L-26.5 67.8A72.8 72.8 0 0 0 -24.1 68.7ZM-35.2 77.3A84.9 84.9 0 0 1 -37.8 76L-32.4 65.2A72.8 72.8 0 0 0 -30.1 66.3ZM-71 64.4A95.8 95.8 0 0 1 -73.1 61.9L-64.6 54.7A84.6 84.6 0 0 0 -62.7 56.8ZM-65.2 33.1A73.1 73.1 0 0 1 -66.2 30.9L-55.3 25.8A61 61 0 0 0 -54.4 27.7ZM-85.2 -43.8A95.8 95.8 0 0 1 -83.6 -46.7L-73.9 -41.2A84.6 84.6 0 0 0 -75.2 -38.7ZM53.3 -79.6A95.8 95.8 0 0 1 55.9 -77.8L49.4 -68.7A84.6 84.6 0 0 0 47 -70.3ZM53.3 -66.1A84.9 84.9 0 0 1 55.5 -64.3L47.6 -55.1A72.8 72.8 0 0 0 45.7 -56.7ZM57.1 -62.9A84.9 84.9 0 0 1 59.2 -60.9L50.7 -52.2A72.8 72.8 0 0 0 48.9 -53.9Z"/><path fill="#607090" d="M79.9 28.8A84.9 84.9 0 0 1 78.8 31.5L67.6 27A72.8 72.8 0 0 0 68.5 24.7ZM48.8 82.4A95.8 95.8 0 0 1 46.1 84L40.7 74.2A84.6 84.6 0 0 0 43.1 72.8ZM35.4 63.9A73.1 73.1 0 0 1 33.3 65.1L27.8 54.3A61 61 0 0 0 29.6 53.4ZM31.3 90.5A95.8 95.8 0 0 1 28.3 91.5L25 80.8A84.6 84.6 0 0 0 27.7 79.9ZM-11 84.2A84.9 84.9 0 0 1 -13.8 83.8L-11.9 71.8A72.8 72.8 0 0 0 -9.4 72.2ZM-11.6 72.2A73.1 73.1 0 0 1 -14.1 71.7L-11.7 59.9A61 61 0 0 0 -9.7 60.2ZM-13.5 83.8A84.9 84.9 0 0 1 -16.3 83.3L-14 71.4A72.8 72.8 0 0 0 -11.6 71.9ZM-22.2 69.7A73.1 73.1 0 0 1 -24.5 68.9L-20.5 57.5A61 61 0 0 0 -18.5 58.1ZM-88.7 -36.1A95.8 95.8 0 0 1 -87.4 -39.1L-77.2 -34.5A84.6 84.6 0 0 0 -78.4 -31.9ZM-58.1 -44.4A73.1 73.1 0 0 1 -56.5 -46.3L-47.2 -38.7A61 61 0 0 0 -48.5 -37ZM60.1 -74.6A95.8 95.8 0 0 1 62.6 -72.5L55.3 -64A84.6 84.6 0 0 0 53.1 -65.9Z"/><path fill="#586488" d="M68 26.8A73.1 73.1 0 0 1 67.1 29.1L56 24.3A61 61 0 0 0 56.7 22.4ZM-0.9 84.9A84.9 84.9 0 0 1 -3.8 84.8L-3.3 72.7A72.8 72.8 0 0 0 -0.8 72.8ZM-3 73A73.1 73.1 0 0 1 -5.5 72.9L-4.5 60.8A61 61 0 0 0 -2.5 60.9ZM-13.7 71.8A73.1 73.1 0 0 1 -16.2 71.3L-13.5 59.5A61 61 0 0 0 -11.5 59.9ZM-37.1 88.3A95.8 95.8 0 0 1 -40 87L-35.4 76.9A84.6 84.6 0 0 0 -32.7 78ZM-60.4 -74.4A95.8 95.8 0 0 1 -57.8 -76.4L-51 -67.5A84.6 84.6 0 0 0 -53.3 -65.7ZM-43.2 -73.1A84.9 84.9 0 0 1 -40.7 -74.5L-34.9 -63.9A72.8 72.8 0 0 0 -37 -62.7ZM-33.4 -89.8A95.8 95.8 0 0 1 -30.4 -90.9L-26.8 -80.2A84.6 84.6 0 0 0 -29.5 -79.3ZM-13 -71.9A73.1 73.1 0 0 1 -10.6 -72.3L-8.8 -60.4A61 61 0 0 0 -10.9 -60ZM83.7 -46.6A95.8 95.8 0 0 1 85.2 -43.8L75.3 -38.7A84.6 84.6 0 0 0 73.9 -41.2ZM88.6 -36.4A95.8 95.8 0 0 1 89.8 -33.4L79.3 -29.5A84.6 84.6 0 0 0 78.2 -32.2ZM81.1 -25.2A84.9 84.9 0 0 1 81.9 -22.4L70.2 -19.2A72.8 72.8 0 0 0 69.5 -21.6Z"/><path fill="#546084" d="M89.1 35.1A95.8 95.8 0 0 1 87.9 38.1L77.6 33.7A84.6 84.6 0 0 0 78.7 31ZM49.4 69A84.9 84.9 0 0 1 47.1 70.6L40.4 60.6A72.8 72.8 0 0 0 42.4 59.2ZM44 85.1A95.8 95.8 0 0 1 41.2 86.5L36.4 76.4A84.6 84.6 0 0 0 38.9 75.1ZM39 87.5A95.8 95.8 0 0 1 36.1 88.7L31.9 78.4A84.6 84.6 0 0 0 34.5 77.3ZM33.9 89.6A95.8 95.8 0 0 1 31 90.7L27.3 80.1A84.6 84.6 0 0 0 30 79.1ZM-26.3 92.1A95.8 95.8 0 0 1 -29.4 91.2L-26 80.5A84.6 84.6 0 0 0 -23.2 81.3ZM-39.8 61.3A73.1 73.1 0 0 1 -41.9 59.9L-34.9 50A61 61 0 0 0 -33.2 51.2ZM-51.2 -81A95.8 95.8 0 0 1 -48.4 -82.7L-42.7 -73A84.6 84.6 0 0 0 -45.2 -71.5ZM-3 -95.8A95.8 95.8 0 0 1 0.3 -95.8L0.2 -84.6A84.6 84.6 0 0 0 -2.6 -84.6ZM2.7 -95.8A95.8 95.8 0 0 1 5.9 -95.6L5.2 -84.4A84.6 84.6 0 0 0 2.4 -84.6ZM14.9 -71.6A73.1 73.1 0 0 1 17.3 -71L14.4 -59.3A61 61 0 0 0 12.4 -59.7ZM42.9 -73.2A84.9 84.9 0 0 1 45.4 -71.7L38.9 -61.5A72.8 72.8 0 0 0 36.8 -62.8Z"/><path fill="#647498" d="M67.2 28.8A73.1 73.1 0 0 1 66.2 31L55.2 25.9A61 61 0 0 0 56.1 24ZM74.8 40.2A84.9 84.9 0 0 1 73.4 42.6L63 36.6A72.8 72.8 0 0 0 64.1 34.4ZM84.4 45.3A95.8 95.8 0 0 1 82.8 48.1L73.2 42.5A84.6 84.6 0 0 0 74.5 40ZM44.2 58.2A73.1 73.1 0 0 1 42.3 59.6L35.3 49.8A61 61 0 0 0 36.9 48.6ZM-29 91.3A95.8 95.8 0 0 1 -32.1 90.2L-28.4 79.7A84.6 84.6 0 0 0 -25.7 80.6ZM-76.4 57.8A95.8 95.8 0 0 1 -78.3 55.2L-69.2 48.7A84.6 84.6 0 0 0 -67.5 51.1ZM-84.8 4.8A84.9 84.9 0 0 1 -84.9 1.9L-72.8 1.7A72.8 72.8 0 0 0 -72.7 4.1ZM-87.6 -38.7A95.8 95.8 0 0 1 -86.3 -41.7L-76.2 -36.8A84.6 84.6 0 0 0 -77.4 -34.2ZM-76.1 -58.2A95.8 95.8 0 0 1 -74.1 -60.7L-65.4 -53.6A84.6 84.6 0 0 0 -67.2 -51.4ZM-46.3 -83.9A95.8 95.8 0 0 1 -43.4 -85.4L-38.3 -75.4A84.6 84.6 0 0 0 -40.9 -74.1ZM-38.8 -75.5A84.9 84.9 0 0 1 -36.2 -76.8L-31.1 -65.8A72.8 72.8 0 0 0 -33.3 -64.8ZM8.5 -72.6A73.1 73.1 0 0 1 11 -72.3L9.1 -60.3A61 61 0 0 0 7.1 -60.6ZM38.8 -61.9A73.1 73.1 0 0 1 40.9 -60.6L34.1 -50.6A61 61 0 0 0 32.4 -51.7ZM85 -44.1A95.8 95.8 0 0 1 86.5 -41.2L76.4 -36.4A84.6 84.6 0 0 0 75.1 -39ZM89.6 -33.8A95.8 95.8 0 0 1 90.7 -30.7L80.1 -27.1A84.6 84.6 0 0 0 79.2 -29.9Z"/><path fill="#58648c" d="M78 33.4A84.9 84.9 0 0 1 76.9 36L65.9 30.9A72.8 72.8 0 0 0 66.9 28.7ZM45.4 71.8A84.9 84.9 0 0 1 43 73.2L36.8 62.8A72.8 72.8 0 0 0 38.9 61.5ZM-52.4 66.8A84.9 84.9 0 0 1 -54.6 65L-46.8 55.7A72.8 72.8 0 0 0 -44.9 57.3ZM-84.3 9.8A84.9 84.9 0 0 1 -84.6 6.9L-72.6 6A72.8 72.8 0 0 0 -72.3 8.4ZM-73 4.1A73.1 73.1 0 0 1 -73.1 1.7L-61 1.4A61 61 0 0 0 -60.9 3.5ZM-58.1 -76.1A95.8 95.8 0 0 1 -55.5 -78.1L-49 -68.9A84.6 84.6 0 0 0 -51.3 -67.2Z"/><path fill="#607094" d="M88.1 37.7A95.8 95.8 0 0 1 86.7 40.7L76.6 35.9A84.6 84.6 0 0 0 77.8 33.3ZM-39.7 87.2A95.8 95.8 0 0 1 -42.6 85.8L-37.6 75.8A84.6 84.6 0 0 0 -35 77ZM-74.6 60A95.8 95.8 0 0 1 -76.6 57.5L-67.7 50.8A84.6 84.6 0 0 0 -65.9 53ZM-27.3 -80.4A84.9 84.9 0 0 1 -24.5 -81.3L-21 -69.7A72.8 72.8 0 0 0 -23.4 -68.9ZM-15.1 -83.5A84.9 84.9 0 0 1 -12.3 -84L-10.5 -72A72.8 72.8 0 0 0 -13 -71.6ZM-5.8 -95.6A95.8 95.8 0 0 1 -2.6 -95.8L-2.3 -84.6A84.6 84.6 0 0 0 -5.1 -84.4ZM13.9 -94.8A95.8 95.8 0 0 1 17.1 -94.3L15.1 -83.2A84.6 84.6 0 0 0 12.3 -83.7ZM17 -71.1A73.1 73.1 0 0 1 19.4 -70.5L16.2 -58.8A61 61 0 0 0 14.2 -59.3ZM79.2 -53.9A95.8 95.8 0 0 1 81 -51.1L71.5 -45.2A84.6 84.6 0 0 0 70 -47.6ZM83 -17.9A84.9 84.9 0 0 1 83.5 -15.5L71.6 -13.3A72.8 72.8 0 0 0 71.2 -15.4Z"/><path fill="#68789c" d="M77 35.7A84.9 84.9 0 0 1 75.8 38.3L65 32.8A72.8 72.8 0 0 0 66 30.6ZM68.2 50.6A84.9 84.9 0 0 1 66.4 52.9L57 45.3A72.8 72.8 0 0 0 58.4 43.4ZM57.4 45.3A73.1 73.1 0 0 1 55.8 47.2L46.6 39.4A61 61 0 0 0 47.9 37.8ZM-72.8 6.3A73.1 73.1 0 0 1 -73 3.8L-60.9 3.2A61 61 0 0 0 -60.8 5.3ZM67.3 -51.8A84.9 84.9 0 0 1 69 -49.5L59.2 -42.4A72.8 72.8 0 0 0 57.7 -44.4Z"/><path fill="#687c9c" d="M85.7 42.8A95.8 95.8 0 0 1 84.2 45.7L74.4 40.3A84.6 84.6 0 0 0 75.7 37.8ZM58.7 43.6A73.1 73.1 0 0 1 57.2 45.5L47.7 38A61 61 0 0 0 49 36.4ZM53.5 79.5A95.8 95.8 0 0 1 50.8 81.2L44.9 71.7A84.6 84.6 0 0 0 47.2 70.2ZM-0.8 73.1A73.1 73.1 0 0 1 -3.3 73L-2.7 60.9A61 61 0 0 0 -0.7 61ZM-16 83.4A84.9 84.9 0 0 1 -18.8 82.8L-16.1 71A72.8 72.8 0 0 0 -13.7 71.5ZM-34.2 64.6A73.1 73.1 0 0 1 -36.4 63.4L-30.3 52.9A61 61 0 0 0 -28.5 53.9ZM-89.8 -33.5A95.8 95.8 0 0 1 -88.6 -36.5L-78.2 -32.2A84.6 84.6 0 0 0 -79.3 -29.6ZM-12.6 -84A84.9 84.9 0 0 1 -9.8 -84.3L-8.4 -72.3A72.8 72.8 0 0 0 -10.8 -72ZM57.9 -76.3A95.8 95.8 0 0 1 60.4 -74.3L53.4 -65.7A84.6 84.6 0 0 0 51.1 -67.4Z"/><path fill="#5c688c" d="M83 47.8A95.8 95.8 0 0 1 81.4 50.5L71.9 44.6A84.6 84.6 0 0 0 73.3 42.2ZM57 62.9A84.9 84.9 0 0 1 54.9 64.8L47.1 55.5A72.8 72.8 0 0 0 48.9 53.9ZM4.1 84.8A84.9 84.9 0 0 1 1.2 84.9L1.1 72.8A72.8 72.8 0 0 0 3.5 72.7ZM1.4 73.1A73.1 73.1 0 0 1 -1.1 73.1L-0.9 61A61 61 0 0 0 1.2 61ZM-8.5 84.5A84.9 84.9 0 0 1 -11.3 84.1L-9.7 72.1A72.8 72.8 0 0 0 -7.3 72.4ZM-9.5 72.5A73.1 73.1 0 0 1 -11.9 72.1L-9.9 60.2A61 61 0 0 0 -7.9 60.5ZM-67.6 67.9A95.8 95.8 0 0 1 -69.6 65.8L-61.5 58.1A84.6 84.6 0 0 0 -59.7 59.9ZM-62.6 -57.3A84.9 84.9 0 0 1 -60.6 -59.4L-52 -51A72.8 72.8 0 0 0 -53.7 -49.2ZM-59.1 -60.9A84.9 84.9 0 0 1 -57 -62.9L-48.9 -53.9A72.8 72.8 0 0 0 -50.7 -52.3ZM-44.4 -58.1A73.1 73.1 0 0 1 -42.4 -59.6L-35.3 -49.7A61 61 0 0 0 -37 -48.5ZM-38.7 -87.6A95.8 95.8 0 0 1 -35.7 -88.9L-31.5 -78.5A84.6 84.6 0 0 0 -34.2 -77.4ZM-28.1 -91.6A95.8 95.8 0 0 1 -24.9 -92.5L-22 -81.7A84.6 84.6 0 0 0 -24.8 -80.9ZM-17.6 -83.1A84.9 84.9 0 0 1 -14.8 -83.6L-12.7 -71.7A72.8 72.8 0 0 0 -15.1 -71.2ZM-19.8 -93.7A95.8 95.8 0 0 1 -16.7 -94.3L-14.7 -83.3A84.6 84.6 0 0 0 -17.5 -82.8ZM10.6 -72.3A73.1 73.1 0 0 1 13.1 -71.9L10.9 -60A61 61 0 0 0 8.9 -60.4ZM48.5 -82.6A95.8 95.8 0 0 1 51.2 -80.9L45.2 -71.5A84.6 84.6 0 0 0 42.8 -73ZM70.2 -47.7A84.9 84.9 0 0 1 71.8 -45.3L61.6 -38.9A72.8 72.8 0 0 0 60.2 -40.9Z"/><path fill="#4c5880" d="M72.3 44.5A84.9 84.9 0 0 1 70.8 46.9L60.7 40.2A72.8 72.8 0 0 0 62 38.1ZM36.8 76.5A84.9 84.9 0 0 1 34.3 77.7L29.4 66.6A72.8 72.8 0 0 0 31.6 65.6ZM-15.2 94.6A95.8 95.8 0 0 1 -18.4 94L-16.3 83A84.6 84.6 0 0 0 -13.4 83.5ZM-52.1 80.4A95.8 95.8 0 0 1 -54.9 78.5L-48.4 69.4A84.6 84.6 0 0 0 -46 71ZM-54.5 78.8A95.8 95.8 0 0 1 -57.2 76.9L-50.5 67.9A84.6 84.6 0 0 0 -48.1 69.6ZM-65.6 69.8A95.8 95.8 0 0 1 -67.9 67.6L-60 59.7A84.6 84.6 0 0 0 -57.9 61.7ZM-60.9 -59.2A84.9 84.9 0 0 1 -58.9 -61.2L-50.5 -52.5A72.8 72.8 0 0 0 -52.2 -50.7ZM-47.4 -70.4A84.9 84.9 0 0 1 -45 -72L-38.6 -61.7A72.8 72.8 0 0 0 -40.7 -60.4ZM-25.5 -68.5A73.1 73.1 0 0 1 -23.2 -69.3L-19.3 -57.9A61 61 0 0 0 -21.3 -57.2ZM-20 -82.5A84.9 84.9 0 0 1 -17.2 -83.1L-14.8 -71.3A72.8 72.8 0 0 0 -17.2 -70.7ZM-22.6 -93.1A95.8 95.8 0 0 1 -19.4 -93.8L-17.2 -82.8A84.6 84.6 0 0 0 -20 -82.2ZM-0.2 -95.8A95.8 95.8 0 0 1 3.1 -95.8L2.7 -84.6A84.6 84.6 0 0 0 -0.1 -84.6ZM29.3 -67A73.1 73.1 0 0 1 31.5 -65.9L26.3 -55A61 61 0 0 0 24.4 -55.9ZM46 -84A95.8 95.8 0 0 1 48.8 -82.4L43.1 -72.8A84.6 84.6 0 0 0 40.6 -74.2Z"/><path fill="#58688c" d="M81.6 50.2A95.8 95.8 0 0 1 79.9 52.9L70.5 46.7A84.6 84.6 0 0 0 72.1 44.3ZM40.8 60.6A73.1 73.1 0 0 1 38.8 62L32.4 51.7A61 61 0 0 0 34.1 50.6ZM20.8 82.3A84.9 84.9 0 0 1 18.4 82.9L15.8 71.1A72.8 72.8 0 0 0 17.8 70.6ZM9.2 84.4A84.9 84.9 0 0 1 6.3 84.7L5.4 72.6A72.8 72.8 0 0 0 7.9 72.4ZM-57.3 -62.7A84.9 84.9 0 0 1 -55.1 -64.6L-47.3 -55.4A72.8 72.8 0 0 0 -49.1 -53.7ZM7.4 -84.6A84.9 84.9 0 0 1 10.2 -84.3L8.8 -72.3A72.8 72.8 0 0 0 6.3 -72.5ZM8.3 -95.4A95.8 95.8 0 0 1 11.6 -95.1L10.2 -84A84.6 84.6 0 0 0 7.3 -84.3Z"/><path fill="#48507c" d="M71 46.6A84.9 84.9 0 0 1 69.4 48.9L59.5 41.9A72.8 72.8 0 0 0 60.9 39.9ZM27.8 80.2A84.9 84.9 0 0 1 25.1 81.1L21.5 69.5A72.8 72.8 0 0 0 23.8 68.8ZM-45.3 -71.8A84.9 84.9 0 0 1 -42.9 -73.3L-36.8 -62.8A72.8 72.8 0 0 0 -38.9 -61.6ZM80.3 -27.6A84.9 84.9 0 0 1 81.2 -24.9L69.6 -21.3A72.8 72.8 0 0 0 68.8 -23.7Z"/><path fill="#3c4470" d="M69.6 48.6A84.9 84.9 0 0 1 67.9 50.9L58.3 43.7A72.8 72.8 0 0 0 59.7 41.7ZM41.5 86.3A95.8 95.8 0 0 1 38.7 87.7L34.1 77.4A84.6 84.6 0 0 0 36.7 76.2ZM30.1 79.4A84.9 84.9 0 0 1 27.4 80.3L23.5 68.9A72.8 72.8 0 0 0 25.8 68.1ZM-61.8 -39.1A73.1 73.1 0 0 1 -60.4 -41.2L-50.4 -34.3A61 61 0 0 0 -51.6 -32.6ZM-81 -51.2A95.8 95.8 0 0 1 -79.2 -53.9L-69.9 -47.6A84.6 84.6 0 0 0 -71.5 -45.2ZM-79.4 -53.6A95.8 95.8 0 0 1 -77.5 -56.2L-68.5 -49.7A84.6 84.6 0 0 0 -70.1 -47.3ZM-53.9 -49.4A73.1 73.1 0 0 1 -52.2 -51.2L-43.6 -42.7A61 61 0 0 0 -45 -41.2ZM-52.4 -50.9A73.1 73.1 0 0 1 -50.7 -52.7L-42.3 -44A61 61 0 0 0 -43.8 -42.5ZM-50.9 -52.5A73.1 73.1 0 0 1 -49.1 -54.2L-41 -45.2A61 61 0 0 0 -42.5 -43.8ZM-66.7 -68.8A95.8 95.8 0 0 1 -64.3 -71L-56.8 -62.7A84.6 84.6 0 0 0 -58.9 -60.7ZM-47.7 -55.4A73.1 73.1 0 0 1 -45.8 -57L-38.2 -47.5A61 61 0 0 0 -39.8 -46.2ZM-46.1 -56.8A73.1 73.1 0 0 1 -44.1 -58.3L-36.8 -48.6A61 61 0 0 0 -38.4 -47.4ZM-53.5 -65.9A84.9 84.9 0 0 1 -51.2 -67.7L-43.9 -58.1A72.8 72.8 0 0 0 -45.9 -56.5ZM-31.5 -66A73.1 73.1 0 0 1 -29.2 -67L-24.4 -55.9A61 61 0 0 0 -26.3 -55.1ZM-22.5 -81.9A84.9 84.9 0 0 1 -19.7 -82.6L-16.9 -70.8A72.8 72.8 0 0 0 -19.3 -70.2ZM-25.3 -92.4A95.8 95.8 0 0 1 -22.2 -93.2L-19.6 -82.3A84.6 84.6 0 0 0 -22.4 -81.6ZM2.4 -84.9A84.9 84.9 0 0 1 5.2 -84.7L4.5 -72.7A72.8 72.8 0 0 0 2 -72.8ZM12.4 -84A84.9 84.9 0 0 1 15.2 -83.5L13 -71.6A72.8 72.8 0 0 0 10.6 -72ZM14.8 -83.6A84.9 84.9 0 0 1 17.7 -83L15.1 -71.2A72.8 72.8 0 0 0 12.7 -71.7ZM17.3 -83.1A84.9 84.9 0 0 1 20.1 -82.5L17.2 -70.7A72.8 72.8 0 0 0 14.8 -71.3ZM19.7 -82.6A84.9 84.9 0 0 1 22.5 -81.9L19.3 -70.2A72.8 72.8 0 0 0 16.9 -70.8ZM22.2 -82A84.9 84.9 0 0 1 24.9 -81.2L21.4 -69.6A72.8 72.8 0 0 0 19 -70.3ZM25 -92.5A95.8 95.8 0 0 1 28.1 -91.6L24.9 -80.9A84.6 84.6 0 0 0 22.1 -81.7ZM24.6 -81.3A84.9 84.9 0 0 1 27.3 -80.4L23.4 -68.9A72.8 72.8 0 0 0 21.1 -69.7ZM27.7 -91.7A95.8 95.8 0 0 1 30.8 -90.7L27.2 -80.1A84.6 84.6 0 0 0 24.5 -81ZM23.2 -69.3A73.1 73.1 0 0 1 25.6 -68.5L21.3 -57.1A61 61 0 0 0 19.4 -57.8ZM27 -80.5A84.9 84.9 0 0 1 29.7 -79.5L25.5 -68.2A72.8 72.8 0 0 0 23.1 -69ZM30.4 -90.8A95.8 95.8 0 0 1 33.5 -89.7L29.6 -79.3A84.6 84.6 0 0 0 26.9 -80.2ZM31.7 -78.8A84.9 84.9 0 0 1 34.3 -77.6L29.4 -66.6A72.8 72.8 0 0 0 27.2 -67.5ZM38.4 -87.8A95.8 95.8 0 0 1 41.3 -86.4L36.5 -76.3A84.6 84.6 0 0 0 33.9 -77.5ZM31.2 -66.1A73.1 73.1 0 0 1 33.5 -65L27.9 -54.2A61 61 0 0 0 26.1 -55.1ZM36.3 -76.8A84.9 84.9 0 0 1 38.9 -75.5L33.3 -64.7A72.8 72.8 0 0 0 31.1 -65.8ZM40.9 -86.6A95.8 95.8 0 0 1 43.9 -85.2L38.7 -75.2A84.6 84.6 0 0 0 36.2 -76.5ZM33.2 -65.1A73.1 73.1 0 0 1 35.4 -64L29.5 -53.4A61 61 0 0 0 27.7 -54.4ZM38.5 -75.6A84.9 84.9 0 0 1 41.1 -74.3L35.2 -63.7A72.8 72.8 0 0 0 33 -64.9ZM43.5 -85.4A95.8 95.8 0 0 1 46.4 -83.8L40.9 -74A84.6 84.6 0 0 0 38.4 -75.4ZM35.1 -64.1A73.1 73.1 0 0 1 37.3 -62.9L31.1 -52.5A61 61 0 0 0 29.3 -53.5Z"/><path fill="#8ca4bc" d="M76.9 57.1A95.8 95.8 0 0 1 74.9 59.7L66.2 52.7A84.6 84.6 0 0 0 67.9 50.4ZM73.4 61.5A95.8 95.8 0 0 1 71.3 63.9L63 56.5A84.6 84.6 0 0 0 64.9 54.3ZM71.6 63.6A95.8 95.8 0 0 1 69.7 65.7L61.6 58A84.6 84.6 0 0 0 63.2 56.2ZM7.5 95.5A95.8 95.8 0 0 1 4.2 95.7L3.7 84.5A84.6 84.6 0 0 0 6.6 84.3ZM-73.1 -0.2A73.1 73.1 0 0 1 -73.1 -2.7L-61 -2.2A61 61 0 0 0 -61 -0.1Z"/><path fill="#7084a0" d="M52.1 51.2A73.1 73.1 0 0 1 50.4 52.9L42.1 44.2A61 61 0 0 0 43.5 42.8ZM50.6 52.7A73.1 73.1 0 0 1 48.9 54.4L40.8 45.4A61 61 0 0 0 42.3 44ZM60.2 74.6A95.8 95.8 0 0 1 57.7 76.5L50.9 67.6A84.6 84.6 0 0 0 53.1 65.8ZM3.6 73A73.1 73.1 0 0 1 1.1 73.1L0.9 61A61 61 0 0 0 3 60.9ZM-32.2 65.6A73.1 73.1 0 0 1 -34.5 64.5L-28.7 53.8A61 61 0 0 0 -26.9 54.7ZM-48.4 54.8A73.1 73.1 0 0 1 -50.3 53.1L-41.9 44.3A61 61 0 0 0 -40.4 45.7ZM-50 53.3A73.1 73.1 0 0 1 -51.8 51.6L-43.2 43A61 61 0 0 0 -41.8 44.5ZM-67.7 51.2A84.9 84.9 0 0 1 -69.4 48.9L-59.5 41.9A72.8 72.8 0 0 0 -58 43.9ZM-69.2 49.2A84.9 84.9 0 0 1 -70.8 46.8L-60.7 40.2A72.8 72.8 0 0 0 -59.3 42.2ZM-64.1 35A73.1 73.1 0 0 1 -65.3 32.9L-54.5 27.4A61 61 0 0 0 -53.5 29.2ZM-83.1 17.2A84.9 84.9 0 0 1 -83.7 14.4L-71.7 12.4A72.8 72.8 0 0 0 -71.3 14.8ZM-94.8 13.9A95.8 95.8 0 0 1 -95.2 10.7L-84.1 9.4A84.6 84.6 0 0 0 -83.7 12.3ZM-6.6 -72.8A73.1 73.1 0 0 1 -4.1 -73L-3.4 -60.9A61 61 0 0 0 -5.5 -60.8ZM-4.4 -73A73.1 73.1 0 0 1 -2 -73.1L-1.6 -61A61 61 0 0 0 -3.7 -60.9ZM-5.2 -84.7A84.9 84.9 0 0 1 -2.3 -84.9L-2 -72.8A72.8 72.8 0 0 0 -4.4 -72.7ZM2 -73.1A73.1 73.1 0 0 1 4.5 -73L3.8 -60.9A61 61 0 0 0 1.7 -61Z"/><path fill="#88a0b8" d="M68.3 67.1A95.8 95.8 0 0 1 66.1 69.4L58.3 61.3A84.6 84.6 0 0 0 60.3 59.3ZM27.9 67.6A73.1 73.1 0 0 1 25.6 68.5L21.4 57.1A61 61 0 0 0 23.2 56.4ZM5.7 72.9A73.1 73.1 0 0 1 3.2 73L2.7 60.9A61 61 0 0 0 4.8 60.8ZM-28.3 67.4A73.1 73.1 0 0 1 -30.6 66.4L-25.5 55.4A61 61 0 0 0 -23.6 56.3ZM-58.3 44.1A73.1 73.1 0 0 1 -59.8 42.1L-49.9 35.1A61 61 0 0 0 -48.6 36.8ZM-95.1 -11.5A95.8 95.8 0 0 1 -94.7 -14.8L-83.6 -13A84.6 84.6 0 0 0 -84 -10.2ZM-72.3 -10.9A73.1 73.1 0 0 1 -71.9 -13.4L-60 -11.2A61 61 0 0 0 -60.3 -9.1ZM-83.5 -15.2A84.9 84.9 0 0 1 -83 -18L-71.1 -15.4A72.8 72.8 0 0 0 -71.6 -13ZM-68.5 -25.6A73.1 73.1 0 0 1 -67.6 -27.9L-56.4 -23.3A61 61 0 0 0 -57.2 -21.3ZM44.2 -58.3A73.1 73.1 0 0 1 46.1 -56.7L38.5 -47.3A61 61 0 0 0 36.8 -48.6ZM47.5 -55.5A73.1 73.1 0 0 1 49.4 -53.9L41.2 -45A61 61 0 0 0 39.7 -46.4Z"/><path fill="#e8c4b0" d="M64.4 71A95.8 95.8 0 0 1 62 73.1L54.7 64.5A84.6 84.6 0 0 0 56.8 62.7Z"/><path fill="#904c3c" d="M55.2 64.5A84.9 84.9 0 0 1 53 66.3L45.5 56.9A72.8 72.8 0 0 0 47.3 55.3ZM51.2 81A95.8 95.8 0 0 1 48.5 82.6L42.8 73A84.6 84.6 0 0 0 45.2 71.5ZM-94.7 -14.3A95.8 95.8 0 0 1 -94.2 -17.5L-83.2 -15.5A84.6 84.6 0 0 0 -83.6 -12.7ZM59.2 -42.9A73.1 73.1 0 0 1 60.6 -40.8L50.6 -34.1A61 61 0 0 0 49.4 -35.8Z"/><path fill="#505880" d="M51.4 67.6A84.9 84.9 0 0 1 49.1 69.2L42.1 59.4A72.8 72.8 0 0 0 44.1 57.9ZM-70.4 -47.5A84.9 84.9 0 0 1 -68.7 -49.8L-58.9 -42.7A72.8 72.8 0 0 0 -60.3 -40.7ZM37 -63.1A73.1 73.1 0 0 1 39.1 -61.8L32.6 -51.5A61 61 0 0 0 30.9 -52.6Z"/><path fill="#506084" d="M42.6 59.4A73.1 73.1 0 0 1 40.6 60.8L33.8 50.7A61 61 0 0 0 35.5 49.6ZM-18 94.1A95.8 95.8 0 0 1 -21.2 93.4L-18.7 82.5A84.6 84.6 0 0 0 -15.9 83.1ZM-59.1 75.4A95.8 95.8 0 0 1 -61.6 73.3L-54.4 64.8A84.6 84.6 0 0 0 -52.2 66.6Z"/><path fill="#7c94b0" d="M55.8 77.9A95.8 95.8 0 0 1 53.2 79.7L46.9 70.4A84.6 84.6 0 0 0 49.2 68.8ZM19.9 70.3A73.1 73.1 0 0 1 17.6 71L14.7 59.2A61 61 0 0 0 16.6 58.7ZM-23.3 81.6A84.9 84.9 0 0 1 -26.1 80.8L-22.4 69.3A72.8 72.8 0 0 0 -20 70ZM-84.9 -0.2A84.9 84.9 0 0 1 -84.8 -3.1L-72.8 -2.6A72.8 72.8 0 0 0 -72.8 -0.2Z"/><path fill="#48547c" d="M39.1 61.8A73.1 73.1 0 0 1 37 63L30.9 52.6A61 61 0 0 0 32.6 51.6ZM34.6 77.5A84.9 84.9 0 0 1 32 78.6L27.4 67.4A72.8 72.8 0 0 0 29.7 66.5ZM14.2 83.7A84.9 84.9 0 0 1 11.3 84.1L9.7 72.2A72.8 72.8 0 0 0 12.1 71.8ZM1.6 84.9A84.9 84.9 0 0 1 -1.3 84.9L-1.1 72.8A72.8 72.8 0 0 0 1.4 72.8ZM-47.3 83.3A95.8 95.8 0 0 1 -50.1 81.7L-44.2 72.1A84.6 84.6 0 0 0 -41.7 73.6ZM-46.2 71.2A84.9 84.9 0 0 1 -48.6 69.6L-41.7 59.7A72.8 72.8 0 0 0 -39.6 61.1ZM-49.3 -53.9A73.1 73.1 0 0 1 -47.5 -55.6L-39.6 -46.4A61 61 0 0 0 -41.2 -45ZM19.5 -93.8A95.8 95.8 0 0 1 22.7 -93.1L20 -82.2A84.6 84.6 0 0 0 17.2 -82.8ZM21.2 -70A73.1 73.1 0 0 1 23.5 -69.2L19.6 -57.8A61 61 0 0 0 17.7 -58.4ZM25.3 -68.6A73.1 73.1 0 0 1 27.6 -67.7L23 -56.5A61 61 0 0 0 21.1 -57.2ZM33.1 -89.9A95.8 95.8 0 0 1 36.1 -88.7L31.9 -78.3A84.6 84.6 0 0 0 29.2 -79.4ZM77.5 -34.6A84.9 84.9 0 0 1 78.7 -31.9L67.4 -27.4A72.8 72.8 0 0 0 66.5 -29.7Z"/><path fill="#b48070" d="M37.3 62.9A73.1 73.1 0 0 1 35.2 64.1L29.3 53.5A61 61 0 0 0 31.1 52.5ZM-3.4 84.8A84.9 84.9 0 0 1 -6.3 84.7L-5.4 72.6A72.8 72.8 0 0 0 -3 72.7ZM50.7 -52.6A73.1 73.1 0 0 1 52.5 -50.9L43.8 -42.5A61 61 0 0 0 42.3 -43.9Z"/><path fill="#445078" d="M43.3 73A84.9 84.9 0 0 1 40.8 74.4L35 63.8A72.8 72.8 0 0 0 37.1 62.6ZM-56.7 -46.1A73.1 73.1 0 0 1 -55.1 -48L-46 -40A61 61 0 0 0 -47.3 -38.5ZM-68.7 -66.8A95.8 95.8 0 0 1 -66.4 -69L-58.6 -61A84.6 84.6 0 0 0 -60.7 -59ZM-14.3 -94.7A95.8 95.8 0 0 1 -11.1 -95.2L-9.8 -84A84.6 84.6 0 0 0 -12.6 -83.7ZM34 -77.8A84.9 84.9 0 0 1 36.6 -76.6L31.4 -65.7A72.8 72.8 0 0 0 29.2 -66.7Z"/><path fill="#404874" d="M41.2 74.3A84.9 84.9 0 0 1 38.7 75.6L33.2 64.8A72.8 72.8 0 0 0 35.3 63.7ZM-6 84.7A84.9 84.9 0 0 1 -8.8 84.4L-7.6 72.4A72.8 72.8 0 0 0 -5.1 72.6ZM-49.7 81.9A95.8 95.8 0 0 1 -52.5 80.1L-46.4 70.8A84.6 84.6 0 0 0 -43.9 72.3ZM-60.6 -40.9A73.1 73.1 0 0 1 -59.2 -42.9L-49.4 -35.8A61 61 0 0 0 -50.6 -34.1ZM-64.6 -70.7A95.8 95.8 0 0 1 -62.2 -72.9L-54.9 -64.3A84.6 84.6 0 0 0 -57.1 -62.4ZM-55.4 -64.3A84.9 84.9 0 0 1 -53.2 -66.2L-45.6 -56.7A72.8 72.8 0 0 0 -47.5 -55.2ZM-40.8 -60.6A73.1 73.1 0 0 1 -38.8 -62L-32.3 -51.7A61 61 0 0 0 -34.1 -50.6ZM-39 -61.8A73.1 73.1 0 0 1 -36.9 -63.1L-30.8 -52.6A61 61 0 0 0 -32.6 -51.6ZM-33.4 -65A73.1 73.1 0 0 1 -31.2 -66.1L-26 -55.2A61 61 0 0 0 -27.9 -54.3ZM-0.1 -84.9A84.9 84.9 0 0 1 2.7 -84.9L2.3 -72.8A72.8 72.8 0 0 0 -0.1 -72.8ZM35.8 -88.9A95.8 95.8 0 0 1 38.8 -87.6L34.2 -77.4A84.6 84.6 0 0 0 31.6 -78.5ZM40.8 -74.5A84.9 84.9 0 0 1 43.3 -73.1L37.1 -62.6A72.8 72.8 0 0 0 35 -63.9Z"/><path fill="#4c547c" d="M39 75.4A84.9 84.9 0 0 1 36.5 76.7L31.3 65.7A72.8 72.8 0 0 0 33.4 64.7ZM-82.4 -48.8A95.8 95.8 0 0 1 -80.7 -51.6L-71.3 -45.5A84.6 84.6 0 0 0 -72.8 -43.1ZM-71.7 -45.4A84.9 84.9 0 0 1 -70.2 -47.8L-60.2 -41A72.8 72.8 0 0 0 -61.5 -38.9ZM-62.5 -72.6A95.8 95.8 0 0 1 -60 -74.7L-53 -65.9A84.6 84.6 0 0 0 -55.2 -64.1ZM-35.3 -64A73.1 73.1 0 0 1 -33.1 -65.2L-27.6 -54.4A61 61 0 0 0 -29.5 -53.4ZM-27.5 -67.7A73.1 73.1 0 0 1 -25.2 -68.6L-21 -57.3A61 61 0 0 0 -23 -56.5ZM-19.3 -70.5A73.1 73.1 0 0 1 -16.9 -71.1L-14.1 -59.3A61 61 0 0 0 -16.1 -58.8Z"/><path fill="#7888a8" d="M29.8 66.8A73.1 73.1 0 0 1 27.6 67.7L23 56.5A61 61 0 0 0 24.9 55.7Z"/><path fill="#444c78" d="M36.5 88.6A95.8 95.8 0 0 1 33.5 89.7L29.6 79.2A84.6 84.6 0 0 0 32.2 78.2ZM11.7 84.1A84.9 84.9 0 0 1 8.8 84.4L7.5 72.4A72.8 72.8 0 0 0 10 72.1ZM-5.1 72.9A73.1 73.1 0 0 1 -7.6 72.7L-6.4 60.7A61 61 0 0 0 -4.3 60.8ZM-55.3 -47.8A73.1 73.1 0 0 1 -53.7 -49.6L-44.8 -41.4A61 61 0 0 0 -46.2 -39.8ZM-42.6 -59.4A73.1 73.1 0 0 1 -40.6 -60.8L-33.9 -50.7A61 61 0 0 0 -35.6 -49.6ZM4.9 -84.8A84.9 84.9 0 0 1 7.7 -84.5L6.6 -72.5A72.8 72.8 0 0 0 4.2 -72.7ZM22.3 -93.2A95.8 95.8 0 0 1 25.4 -92.4L22.5 -81.6A84.6 84.6 0 0 0 19.7 -82.3ZM29.3 -79.7A84.9 84.9 0 0 1 32 -78.6L27.5 -67.4A72.8 72.8 0 0 0 25.2 -68.3Z"/><path fill="#7c90ac" d="M25.9 68.4A73.1 73.1 0 0 1 23.6 69.2L19.7 57.7A61 61 0 0 0 21.6 57ZM10 72.4A73.1 73.1 0 0 1 7.6 72.7L6.3 60.7A61 61 0 0 0 8.4 60.4ZM13.2 94.9A95.8 95.8 0 0 1 9.9 95.3L8.8 84.1A84.6 84.6 0 0 0 11.6 83.8ZM7.9 72.7A73.1 73.1 0 0 1 5.4 72.9L4.5 60.8A61 61 0 0 0 6.6 60.6ZM-86.6 40.9A95.8 95.8 0 0 1 -88 37.9L-77.7 33.5A84.6 84.6 0 0 0 -76.5 36.1ZM-72.3 10.6A73.1 73.1 0 0 1 -72.6 8.1L-60.6 6.8A61 61 0 0 0 -60.4 8.8ZM-84 12.3A84.9 84.9 0 0 1 -84.4 9.4L-72.3 8.1A72.8 72.8 0 0 0 -72 10.5ZM-95.2 11.1A95.8 95.8 0 0 1 -95.5 7.8L-84.3 6.9A84.6 84.6 0 0 0 -84 9.8ZM-71.9 -13.1A73.1 73.1 0 0 1 -71.4 -15.5L-59.6 -12.9A61 61 0 0 0 -60 -10.9ZM-69.9 -21.5A73.1 73.1 0 0 1 -69.1 -23.8L-57.7 -19.9A61 61 0 0 0 -58.3 -17.9ZM-73.1 -43.2A84.9 84.9 0 0 1 -71.5 -45.7L-61.4 -39.2A72.8 72.8 0 0 0 -62.6 -37.1ZM-72.5 -62.6A95.8 95.8 0 0 1 -70.4 -65L-62.1 -57.4A84.6 84.6 0 0 0 -64.1 -55.3ZM-41.2 -86.5A95.8 95.8 0 0 1 -38.3 -87.8L-33.8 -77.5A84.6 84.6 0 0 0 -36.4 -76.4ZM-0.1 -73.1A73.1 73.1 0 0 1 2.4 -73.1L2 -61A61 61 0 0 0 -0.1 -61ZM4.2 -73A73.1 73.1 0 0 1 6.7 -72.8L5.6 -60.7A61 61 0 0 0 3.5 -60.9ZM51.3 -67.7A84.9 84.9 0 0 1 53.5 -65.9L45.9 -56.5A72.8 72.8 0 0 0 44 -58ZM49.1 -54.1A73.1 73.1 0 0 1 50.9 -52.4L42.5 -43.7A61 61 0 0 0 41 -45.2ZM64.1 -55.7A84.9 84.9 0 0 1 65.9 -53.5L56.5 -45.9A72.8 72.8 0 0 0 55 -47.7ZM63.9 -35.6A73.1 73.1 0 0 1 65 -33.4L54.3 -27.9A61 61 0 0 0 53.3 -29.7ZM66.8 -29.8A73.1 73.1 0 0 1 67.7 -27.5L56.5 -23A61 61 0 0 0 55.7 -24.9Z"/><path fill="#404870" d="M25.5 81A84.9 84.9 0 0 1 22.8 81.8L19.5 70.1A72.8 72.8 0 0 0 21.8 69.4Z"/><path fill="#546088" d="M23.1 81.7A84.9 84.9 0 0 1 20.4 82.4L17.5 70.7A72.8 72.8 0 0 0 19.8 70ZM-7.3 72.7A73.1 73.1 0 0 1 -9.8 72.4L-8.2 60.5A61 61 0 0 0 -6.1 60.7ZM-34.4 89.4A95.8 95.8 0 0 1 -37.4 88.2L-33.1 77.9A84.6 84.6 0 0 0 -30.4 79ZM-65.9 -53.5A84.9 84.9 0 0 1 -64 -55.7L-54.9 -47.8A72.8 72.8 0 0 0 -56.5 -45.9ZM-74.4 -60.4A95.8 95.8 0 0 1 -72.3 -62.9L-63.8 -55.5A84.6 84.6 0 0 0 -65.7 -53.3ZM-55.9 -77.8A95.8 95.8 0 0 1 -53.2 -79.7L-47 -70.4A84.6 84.6 0 0 0 -49.3 -68.7ZM-2.7 -84.9A84.9 84.9 0 0 1 0.2 -84.9L0.2 -72.8A72.8 72.8 0 0 0 -2.3 -72.8Z"/><path fill="#e0c4b4" d="M10.3 95.2A95.8 95.8 0 0 1 7.1 95.5L6.3 84.4A84.6 84.6 0 0 0 9.1 84.1ZM-70.6 47.1A84.9 84.9 0 0 1 -72.2 44.7L-61.9 38.3A72.8 72.8 0 0 0 -60.5 40.4ZM56.6 -46.3A73.1 73.1 0 0 1 58.1 -44.3L48.5 -37A61 61 0 0 0 47.2 -38.6Z"/><path fill="#8ca0b8" d="M-20.9 82.3A84.9 84.9 0 0 1 -23.7 81.5L-20.3 69.9A72.8 72.8 0 0 0 -17.9 70.6ZM-93.8 19.5A95.8 95.8 0 0 1 -94.4 16.3L-83.4 14.4A84.6 84.6 0 0 0 -82.8 17.2Z"/><path fill="#90a8c0" d="M-30.5 79.2A84.9 84.9 0 0 1 -33.2 78.1L-28.5 67A72.8 72.8 0 0 0 -26.2 67.9ZM-45.1 57.5A73.1 73.1 0 0 1 -47 56L-39.2 46.7A61 61 0 0 0 -37.6 48ZM-66.2 53.2A84.9 84.9 0 0 1 -67.9 50.9L-58.2 43.7A72.8 72.8 0 0 0 -56.7 45.6ZM-67.8 27.2A73.1 73.1 0 0 1 -68.7 24.9L-57.3 20.8A61 61 0 0 0 -56.6 22.7ZM-81.3 24.5A84.9 84.9 0 0 1 -82.1 21.8L-70.4 18.7A72.8 72.8 0 0 0 -69.7 21ZM-84.5 -7.7A84.9 84.9 0 0 1 -84.2 -10.6L-72.2 -9.1A72.8 72.8 0 0 0 -72.5 -6.6ZM-83.9 -12.7A84.9 84.9 0 0 1 -83.5 -15.5L-71.6 -13.3A72.8 72.8 0 0 0 -72 -10.9ZM-69.2 -23.5A73.1 73.1 0 0 1 -68.4 -25.9L-57.1 -21.6A61 61 0 0 0 -57.8 -19.6ZM69.8 -21.7A73.1 73.1 0 0 1 70.5 -19.3L58.8 -16.1A61 61 0 0 0 58.2 -18.1Z"/><path fill="#889cb8" d="M-30.3 66.5A73.1 73.1 0 0 1 -32.5 65.5L-27.1 54.6A61 61 0 0 0 -25.3 55.5ZM-70 21.1A73.1 73.1 0 0 1 -70.7 18.7L-59 15.6A61 61 0 0 0 -58.4 17.6ZM71.6 -45.6A84.9 84.9 0 0 1 73.1 -43.2L62.7 -37A72.8 72.8 0 0 0 61.4 -39.1ZM67.6 -27.8A73.1 73.1 0 0 1 68.5 -25.5L57.2 -21.3A61 61 0 0 0 56.4 -23.2Z"/><path fill="#647094" d="M-42.2 86A95.8 95.8 0 0 1 -45.1 84.5L-39.9 74.6A84.6 84.6 0 0 0 -37.3 75.9ZM-60.8 40.6A73.1 73.1 0 0 1 -62.1 38.5L-51.8 32.1A61 61 0 0 0 -50.7 33.9ZM47.2 -70.6A84.9 84.9 0 0 1 49.6 -68.9L42.5 -59.1A72.8 72.8 0 0 0 40.5 -60.5Z"/><path fill="#505c80" d="M-37.9 62.5A73.1 73.1 0 0 1 -40.1 61.1L-33.4 51A61 61 0 0 0 -31.7 52.1ZM-37.2 -62.9A73.1 73.1 0 0 1 -35 -64.2L-29.2 -53.5A61 61 0 0 0 -31 -52.5ZM-30.8 -90.7A95.8 95.8 0 0 1 -27.7 -91.7L-24.4 -81A84.6 84.6 0 0 0 -27.2 -80.1ZM27.3 -67.8A73.1 73.1 0 0 1 29.6 -66.9L24.7 -55.8A61 61 0 0 0 22.8 -56.6Z"/><path fill="#404c74" d="M-48.3 69.8A84.9 84.9 0 0 1 -50.7 68.1L-43.4 58.4A72.8 72.8 0 0 0 -41.4 59.9ZM-51.5 -67.5A84.9 84.9 0 0 1 -49.2 -69.2L-42.2 -59.3A72.8 72.8 0 0 0 -44.2 -57.9ZM-29.5 -66.9A73.1 73.1 0 0 1 -27.2 -67.8L-22.7 -56.6A61 61 0 0 0 -24.6 -55.8ZM9.9 -84.3A84.9 84.9 0 0 1 12.7 -83.9L10.9 -72A72.8 72.8 0 0 0 8.5 -72.3Z"/><path fill="#647898" d="M-56.8 77.1A95.8 95.8 0 0 1 -59.4 75.1L-52.5 66.4A84.6 84.6 0 0 0 -50.2 68.1ZM-29.6 -79.6A84.9 84.9 0 0 1 -26.9 -80.5L-23.1 -69A72.8 72.8 0 0 0 -25.4 -68.2ZM-15.1 -71.5A73.1 73.1 0 0 1 -12.7 -72L-10.6 -60.1A61 61 0 0 0 -12.6 -59.7Z"/><path fill="#98b4c8" d="M-46.8 56.2A73.1 73.1 0 0 1 -48.7 54.5L-40.6 45.5A61 61 0 0 0 -39 46.9ZM-69.3 23.2A73.1 73.1 0 0 1 -70.1 20.8L-58.5 17.4A61 61 0 0 0 -57.9 19.3ZM-95.8 2.6A95.8 95.8 0 0 1 -95.8 -0.7L-84.6 -0.6A84.6 84.6 0 0 0 -84.6 2.3ZM-81.2 -24.9A84.9 84.9 0 0 1 -80.3 -27.7L-68.8 -23.7A72.8 72.8 0 0 0 -69.6 -21.4ZM-77.6 -34.3A84.9 84.9 0 0 1 -76.4 -36.9L-65.5 -31.7A72.8 72.8 0 0 0 -66.6 -29.4ZM70.4 -19.6A73.1 73.1 0 0 1 71 -17.2L59.3 -14.4A61 61 0 0 0 58.8 -16.4Z"/><path fill="#849cb4" d="M-57 45.8A73.1 73.1 0 0 1 -58.5 43.9L-48.8 36.6A61 61 0 0 0 -47.5 38.2ZM-82.6 19.7A84.9 84.9 0 0 1 -83.2 16.9L-71.3 14.5A72.8 72.8 0 0 0 -70.8 16.9ZM-73.1 2A73.1 73.1 0 0 1 -73.1 -0.5L-61 -0.4A61 61 0 0 0 -61 1.7ZM61.6 -39.3A73.1 73.1 0 0 1 62.9 -37.2L52.5 -31A61 61 0 0 0 51.4 -32.8ZM62.8 -37.5A73.1 73.1 0 0 1 64 -35.3L53.4 -29.5A61 61 0 0 0 52.4 -31.3ZM72.9 -43.5A84.9 84.9 0 0 1 74.3 -41L63.7 -35.2A72.8 72.8 0 0 0 62.5 -37.3Z"/><path fill="#742418" d="M-82.7 48.4A95.8 95.8 0 0 1 -84.3 45.6L-74.4 40.2A84.6 84.6 0 0 0 -73 42.7ZM-95.6 5.4A95.8 95.8 0 0 1 -95.8 2.2L-84.6 1.9A84.6 84.6 0 0 0 -84.5 4.8Z"/><path fill="#9cb8cc" d="M-87.8 38.3A95.8 95.8 0 0 1 -89.1 35.3L-78.6 31.2A84.6 84.6 0 0 0 -77.5 33.8ZM-80.5 26.9A84.9 84.9 0 0 1 -81.4 24.2L-69.8 20.7A72.8 72.8 0 0 0 -69 23.1ZM-92.4 -25.4A95.8 95.8 0 0 1 -91.5 -28.5L-80.8 -25.2A84.6 84.6 0 0 0 -81.6 -22.4ZM42.4 -59.5A73.1 73.1 0 0 1 44.4 -58.1L37.1 -48.5A61 61 0 0 0 35.4 -49.7Z"/><path fill="#889cb4" d="M-78.8 31.6A84.9 84.9 0 0 1 -79.8 28.9L-68.4 24.8A72.8 72.8 0 0 0 -67.6 27.1Z"/><path fill="#a8c8d8" d="M-88.9 35.7A95.8 95.8 0 0 1 -90.1 32.7L-79.5 28.8A84.6 84.6 0 0 0 -78.5 31.5ZM-89.9 33.1A95.8 95.8 0 0 1 -91 30L-80.3 26.5A84.6 84.6 0 0 0 -79.4 29.2ZM-90.9 30.4A95.8 95.8 0 0 1 -91.8 27.3L-81.1 24.1A84.6 84.6 0 0 0 -80.2 26.8ZM-91.7 27.7A95.8 95.8 0 0 1 -92.6 24.6L-81.8 21.7A84.6 84.6 0 0 0 -81 24.4ZM-92.5 25A95.8 95.8 0 0 1 -93.3 21.8L-82.4 19.3A84.6 84.6 0 0 0 -81.7 22ZM-93.2 22.2A95.8 95.8 0 0 1 -93.9 19L-82.9 16.8A84.6 84.6 0 0 0 -82.3 19.6ZM-95.4 -8.7A95.8 95.8 0 0 1 -95.1 -11.9L-83.9 -10.6A84.6 84.6 0 0 0 -84.2 -7.7ZM-94.3 -17.1A95.8 95.8 0 0 1 -93.6 -20.3L-82.7 -17.9A84.6 84.6 0 0 0 -83.2 -15.1ZM-79.5 -29.7A84.9 84.9 0 0 1 -78.5 -32.4L-67.3 -27.7A72.8 72.8 0 0 0 -68.2 -25.5ZM65.8 -31.7A73.1 73.1 0 0 1 66.9 -29.5L55.8 -24.6A61 61 0 0 0 54.9 -26.5Z"/><path fill="#a0b8cc" d="M-68.6 25.2A73.1 73.1 0 0 1 -69.4 22.9L-57.9 19.1A61 61 0 0 0 -57.3 21ZM-79.7 29.3A84.9 84.9 0 0 1 -80.6 26.6L-69.1 22.8A72.8 72.8 0 0 0 -68.3 25.1Z"/><path fill="#98b0c4" d="M-82 22.1A84.9 84.9 0 0 1 -82.7 19.3L-70.9 16.6A72.8 72.8 0 0 0 -70.3 19ZM-72.8 -6.7A73.1 73.1 0 0 1 -72.5 -9.1L-60.5 -7.6A61 61 0 0 0 -60.7 -5.6ZM71 -17.5A73.1 73.1 0 0 1 71.5 -15.1L59.7 -12.6A61 61 0 0 0 59.2 -14.6Z"/><path fill="#a8c4d4" d="M-95.8 -0.2A95.8 95.8 0 0 1 -95.7 -3.5L-84.5 -3.1A84.6 84.6 0 0 0 -84.6 -0.2Z"/><path fill="#94acc4" d="M-84.9 -2.7A84.9 84.9 0 0 1 -84.7 -5.6L-72.6 -4.8A72.8 72.8 0 0 0 -72.8 -2.3Z"/><path fill="#a4c4d4" d="M-95.6 -5.9A95.8 95.8 0 0 1 -95.4 -9.1L-84.2 -8.1A84.6 84.6 0 0 0 -84.4 -5.2ZM-93.1 -22.7A95.8 95.8 0 0 1 -92.3 -25.8L-81.5 -22.8A84.6 84.6 0 0 0 -82.2 -20Z"/><path fill="#8098b4" d="M-71.5 -15.2A73.1 73.1 0 0 1 -70.9 -17.6L-59.2 -14.7A61 61 0 0 0 -59.7 -12.7Z"/><path fill="#a0c0d0" d="M-93.7 -19.9A95.8 95.8 0 0 1 -93 -23.1L-82.1 -20.4A84.6 84.6 0 0 0 -82.8 -17.6Z"/><path fill="#94b0c4" d="M-80.4 -27.3A84.9 84.9 0 0 1 -79.4 -30L-68.1 -25.7A72.8 72.8 0 0 0 -68.9 -23.4ZM-66.9 -29.6A73.1 73.1 0 0 1 -65.8 -31.8L-54.9 -26.5A61 61 0 0 0 -55.8 -24.7ZM64.9 -33.7A73.1 73.1 0 0 1 66 -31.5L55.1 -26.3A61 61 0 0 0 54.1 -28.1Z"/><path fill="#98b0c8" d="M-67.7 -27.6A73.1 73.1 0 0 1 -66.7 -29.8L-55.7 -24.9A61 61 0 0 0 -56.5 -23Z"/><path fill="#a4c0d0" d="M-78.6 -32A84.9 84.9 0 0 1 -77.5 -34.7L-66.5 -29.7A72.8 72.8 0 0 0 -67.4 -27.5Z"/><path fill="#606c90" d="M-64 -35.4A73.1 73.1 0 0 1 -62.7 -37.5L-52.4 -31.3A61 61 0 0 0 -53.4 -29.5ZM58.9 -61.1A84.9 84.9 0 0 1 60.9 -59.1L52.3 -50.7A72.8 72.8 0 0 0 50.5 -52.4ZM91.5 -28.4A95.8 95.8 0 0 1 92.4 -25.3L81.6 -22.4A84.6 84.6 0 0 0 80.8 -25.1Z"/><path fill="#4c5480" d="M16.7 -94.3A95.8 95.8 0 0 1 19.9 -93.7L17.6 -82.7A84.6 84.6 0 0 0 14.8 -83.3Z"/></g>
<path class="dash" d="M95.4 1.4A95.5 95.5 0 0 1 92.2 24.8L59.2 15.9A61.4 61.4 0 0 0 61.3 0.9ZM91.4 27.5A95.5 95.5 0 0 1 69.8 65.2L44.8 41.9A61.4 61.4 0 0 0 58.7 17.7ZM67.8 67.2A95.5 95.5 0 0 1 21.1 93.1L13.5 59.8A61.4 61.4 0 0 0 43.6 43.2ZM18.3 93.7A95.5 95.5 0 0 1 -69.1 65.9L-44.4 42.3A61.4 61.4 0 0 0 11.8 60.2ZM-71 63.8A95.5 95.5 0 1 1 93.8 -17.8L60.3 -11.4A61.4 61.4 0 1 0 -45.6 41Z"/>
<g class="den"><path d="M58.6 4.8L55.5 4.5M58.4 6.5L55.3 6.1M55.5 4.5A55.6 55.6 0 0 1 55.3 6.1M55.4 5.3L54.1 5.2M58.2 8.1L53.8 7.5M54.1 5.2A54.3 54.3 0 0 1 53.8 7.5M58.7 3.1L53.2 2.8M54 6.4L52.9 6.2M53.2 2.8A53.2 53.2 0 0 1 52.9 6.2M53 4.5L52.5 4.5M58 9.8L51.9 8.8M52.5 4.5A52.6 52.6 0 0 1 51.9 8.8M58.8 1.5L51.4 1.3M52.2 6.6L51.1 6.5M51.4 1.3A51.5 51.5 0 0 1 51.1 6.5M57.7 11.4L54.3 10.8M57.3 13.1L53.9 12.3M54.3 10.8A55.3 55.3 0 0 1 53.9 12.3M51.3 3.9L50.1 3.8M54.1 11.5L49.2 10.5M50.1 3.8A50.3 50.3 0 0 1 49.2 10.5M49.8 7.2L48.9 7M56.9 14.7L47.8 12.4M48.9 7A49.4 49.4 0 0 1 47.8 12.4" stroke="#2b3560"/><path d="M55.6 19.2L53.2 18.3M55 20.8L52.6 19.9M53.2 18.3A56.2 56.2 0 0 1 52.6 19.9M56.1 17.5L52.7 16.5M52.9 19.1L52 18.8M52.7 16.5A55.3 55.3 0 0 1 52 18.8M53.7 24L51.5 23M53 25.5L50.8 24.5M51.5 23A56.4 56.4 0 0 1 50.8 24.5M54.4 22.4L51.3 21.1M51.1 23.7L50.3 23.3M51.3 21.1A55.5 55.5 0 0 1 50.3 23.3M52.2 27L49.9 25.9M51.4 28.6L49.2 27.3M49.9 25.9A56.2 56.2 0 0 1 49.2 27.3M49.6 31.5L47.6 30.2M48.7 33L46.7 31.6M47.6 30.2A56.3 56.3 0 0 1 46.7 31.6M50.5 30.1L47.6 28.3M47.1 30.9L46.3 30.4M47.6 28.3A55.4 55.4 0 0 1 46.3 30.4M49.6 26.6L47.9 25.7M47 29.3L46.1 28.8M47.9 25.7A54.4 54.4 0 0 1 46.1 28.8M50.8 22.2L48.2 21.1M47.1 27.3L45.5 26.4M48.2 21.1A52.6 52.6 0 0 1 45.5 26.4M47.7 34.4L45.6 32.8M46.7 35.7L44.6 34.2M45.6 32.8A56.2 56.2 0 0 1 44.6 34.2M45.6 37.1L43.7 35.6M44.5 38.4L42.7 36.8M43.7 35.6A56.4 56.4 0 0 1 42.7 36.8M45.1 33.5L44.2 32.8M43.2 36.2L42.2 35.3M44.2 32.8A55 55 0 0 1 42.2 35.3M43.2 34.1L42.5 33.6M43.4 39.7L40 36.6M42.5 33.6A54.2 54.2 0 0 1 40 36.6M46.9 23.8L45.1 22.9M41.3 35.1L38.5 32.8M45.1 22.9A50.6 50.6 0 0 1 38.5 32.8M52.4 17.6L47.2 15.9M42.1 28L41.5 27.6M47.2 15.9A49.8 49.8 0 0 1 41.5 27.6" stroke="#7fd6d6"/><path d="M41.3 41.8L39.5 39.9M40.1 43L38.3 41.1M39.5 39.9A56.2 56.2 0 0 1 38.3 41.1M38.9 44.1L37.3 42.4M37.6 45.2L36.1 43.5M37.3 42.4A56.5 56.5 0 0 1 36.1 43.5M32.1 49.2L30.8 47.3M30.7 50.1L29.5 48.1M30.8 47.3A56.4 56.4 0 0 1 29.5 48.1M33.5 48.3L31.9 46M30.2 47.7L29.9 47.3M31.9 46A56 56 0 0 1 29.9 47.3M29.2 51L28.1 49M27.8 51.8L26.7 49.8M28.1 49A56.5 56.5 0 0 1 26.7 49.8M27.4 49.4L26.9 48.6M26.3 52.6L24.8 49.7M26.9 48.6A55.6 55.6 0 0 1 24.8 49.7M25.9 49.2L25.7 48.9M24.7 53.3L23.2 50.1M25.7 48.9A55.3 55.3 0 0 1 23.2 50.1M24.5 49.5L24.3 49.1M23.2 54L21.6 50.3M24.3 49.1A54.7 54.7 0 0 1 21.6 50.3M30.9 46.7L29.4 44.4M22.9 49.7L22.3 48.4M29.4 44.4A53.3 53.3 0 0 1 22.3 48.4M21.6 54.7L20.9 52.7M20 55.3L19.3 53.3M20.9 52.7A56.7 56.7 0 0 1 19.3 53.3M18.4 55.8L17.7 53.6M16.8 56.3L16.1 54.1M17.7 53.6A56.4 56.4 0 0 1 16.1 54.1M20.1 53L19.5 51.6M16.9 53.8L16.5 52.6M19.5 51.6A55.2 55.2 0 0 1 16.5 52.6M25.9 46.5L25.4 45.6M18 52.1L17.1 49.3M25.4 45.6A52.2 52.2 0 0 1 17.1 49.3M34.9 47.3L30.6 41.4M21.3 47.7L21 47M30.6 41.4A51.5 51.5 0 0 1 21 47M15.2 56.8L14.5 54.4M13.6 57.2L13 54.8M14.5 54.4A56.3 56.3 0 0 1 13 54.8M25.9 44.4L25.7 44M13.8 54.6L12.5 49.4M25.7 44A51 51 0 0 1 12.5 49.4M36.3 46.3L31.2 39.8M19.3 47.2L19.1 46.9M31.2 39.8A50.6 50.6 0 0 1 19.1 46.9M36.7 42.9L32.7 38.2M25.4 43.8L25.2 43.4M32.7 38.2A50.2 50.2 0 0 1 25.2 43.4M38.9 40.5L34.3 35.7M29.1 41L28.7 40.4M34.3 35.7A49.6 49.6 0 0 1 28.7 40.4" stroke="#d6a28c"/><path d="M10.7 57.8L10.3 56M8.9 58.1L8.7 56.3M10.3 56A56.9 56.9 0 0 1 8.7 56.3M7.2 58.4L6.9 56.1M5.5 58.5L5.3 56.3M6.9 56.1A56.6 56.6 0 0 1 5.3 56.3M9.5 56.1L9.3 55M6.1 56.2L6 55.4M9.3 55A55.8 55.8 0 0 1 6 55.4M2 58.8L1.9 57M0.2 58.8L0.2 57M1.9 57A57 57 0 0 1 0.2 57M3.7 58.7L3.6 56.1M1.1 57L1.1 56.2M3.6 56.1A56.2 56.2 0 0 1 1.1 56.2M7.7 55.2L7.5 54.4M2.3 56.1L2.3 54.9M7.5 54.4A54.9 54.9 0 0 1 2.3 54.9M-1.5 58.8L-1.5 57M-3.3 58.7L-3.2 56.9M-1.5 57A57 57 0 0 1 -3.2 56.9M-5 58.6L-4.8 56.4M-6.7 58.4L-6.5 56.2M-4.8 56.4A56.6 56.6 0 0 1 -6.5 56.2M-2.3 57L-2.3 55.6M-5.7 56.3L-5.6 55.4M-2.3 55.6A55.7 55.7 0 0 1 -5.6 55.4M-8.5 58.2L-8.1 55.9M-10.2 57.9L-9.8 55.7M-8.1 55.9A56.5 56.5 0 0 1 -9.8 55.7M-3.9 55.5L-3.9 55.2M-9 55.8L-8.8 54.7M-3.9 55.2A55.4 55.4 0 0 1 -8.8 54.7M4.9 54.7L4.8 53M-6.3 55L-6.1 52.8M4.8 53A53.2 53.2 0 0 1 -6.1 52.8M-13.6 57.2L-13.2 55.4M-15.3 56.8L-14.8 54.9M-13.2 55.4A56.9 56.9 0 0 1 -14.8 54.9M-11.9 57.6L-11.4 55.3M-14 55.2L-13.9 54.7M-11.4 55.3A56.5 56.5 0 0 1 -13.9 54.7M-17 56.3L-16.4 54.2M-18.7 55.8L-18 53.7M-16.4 54.2A56.6 56.6 0 0 1 -18 53.7M-17.2 53.9L-17.1 53.6M-20.3 55.2L-19.4 52.8M-17.1 53.6A56.3 56.3 0 0 1 -19.4 52.8M-21.9 54.6L-21.2 52.7M-23.6 53.9L-22.7 52M-21.2 52.7A56.8 56.8 0 0 1 -22.7 52M-26.7 52.4L-25.8 50.7M-28.3 51.6L-27.3 49.9M-25.8 50.7A56.9 56.9 0 0 1 -27.3 49.9M-25.1 53.2L-24.2 51.1M-26.6 50.3L-26.4 50M-24.2 51.1A56.6 56.6 0 0 1 -26.4 50M-22 52.3L-21.4 51.1M-25.3 50.6L-24.8 49.5M-21.4 51.1A55.4 55.4 0 0 1 -24.8 49.5M-18.3 53.2L-17.7 51.7M-23.1 50.3L-22.8 49.6M-17.7 51.7A54.6 54.6 0 0 1 -22.8 49.6M-12.7 55L-12.1 52.6M-20.3 50.7L-20 50.1M-12.1 52.6A53.9 53.9 0 0 1 -20 50.1M-31.3 49.8L-30.1 47.9M-32.7 48.8L-31.5 47M-30.1 47.9A56.6 56.6 0 0 1 -31.5 47M-29.8 50.7L-28.4 48.3M-30.8 47.5L-30.5 47M-28.4 48.3A56.1 56.1 0 0 1 -30.5 47M-29.5 47.7L-29.3 47.4M-34.2 47.9L-32.4 45.4M-29.3 47.4A55.8 55.8 0 0 1 -32.4 45.4M-35.6 46.8L-34.4 45.3M-37 45.7L-35.7 44.2M-34.4 45.3A56.8 56.8 0 0 1 -35.7 44.2M-30.9 46.4L-30.6 46M-35.1 44.7L-34.1 43.5M-30.6 46A55.3 55.3 0 0 1 -34.1 43.5M-38.3 44.6L-37.1 43.3M-39.6 43.5L-38.4 42.2M-37.1 43.3A57 57 0 0 1 -38.4 42.2M-37.8 42.7L-37.3 42.2M-40.9 42.3L-39.2 40.5M-37.3 42.2A56.4 56.4 0 0 1 -39.2 40.5M-32.4 44.8L-32 44.3M-38.3 41.4L-37.1 40.1M-32 44.3A54.6 54.6 0 0 1 -37.1 40.1M-34.6 42.3L-34.2 41.8M-42.1 41L-38.7 37.7M-34.2 41.8A54 54 0 0 1 -38.7 37.7M-16.1 51.5L-15.4 49.3M-36.5 39.8L-34.9 38.1M-15.4 49.3A51.7 51.7 0 0 1 -34.9 38.1M-0.7 53.2L-0.6 49.8M-25.8 44.8L-24.9 43.2M-0.6 49.8A49.8 49.8 0 0 1 -24.9 43.2" stroke="#f49a62"/><path d="M-44.1 38.8L-43 37.8M-45.3 37.5L-44.1 36.5M-43 37.8A57.3 57.3 0 0 1 -44.1 36.5M-43.5 37.2L-43.3 37M-46.4 36.2L-44.9 35M-43.3 37A57 57 0 0 1 -44.9 35M-47.4 34.8L-46.2 33.9M-48.4 33.4L-47.2 32.5M-46.2 33.9A57.3 57.3 0 0 1 -47.2 32.5M-46.7 33.2L-46.3 32.9M-49.4 31.9L-47.7 30.8M-46.3 32.9A56.8 56.8 0 0 1 -47.7 30.8M-50.3 30.5L-49.1 29.7M-51.2 29L-50 28.3M-49.1 29.7A57.4 57.4 0 0 1 -50 28.3M-47 31.9L-46.7 31.7M-49.6 29L-48.7 28.5M-46.7 31.7A56.5 56.5 0 0 1 -48.7 28.5M-52 27.4L-50.5 26.7M-52.8 25.9L-51.3 25.2M-50.5 26.7A57.1 57.1 0 0 1 -51.3 25.2M-50.9 25.9L-50.6 25.7M-53.5 24.3L-51.7 23.5M-50.6 25.7A56.8 56.8 0 0 1 -51.7 23.5M-47.8 30.1L-47.5 30M-51.2 24.6L-50.6 24.4M-47.5 30A56.2 56.2 0 0 1 -50.6 24.4M-54.9 21.1L-53.6 20.6M-55.5 19.5L-54.2 19M-53.6 20.6A57.4 57.4 0 0 1 -54.2 19M-56 17.8L-54.6 17.4M-56.5 16.2L-55.1 15.7M-54.6 17.4A57.3 57.3 0 0 1 -55.1 15.7M-53.9 19.8L-53.4 19.6M-54.9 16.6L-54.5 16.5M-53.4 19.6A56.9 56.9 0 0 1 -54.5 16.5M-54 18.1L-53.6 17.9M-57 14.5L-54.8 13.9M-53.6 17.9A56.5 56.5 0 0 1 -54.8 13.9M-54.2 22.7L-51.8 21.7M-54.2 15.9L-53.9 15.8M-51.8 21.7A56.2 56.2 0 0 1 -53.9 15.8M-57.7 11.1L-56.2 10.8M-58 9.4L-56.5 9.1M-56.2 10.8A57.2 57.2 0 0 1 -56.5 9.1M-57.4 12.8L-55.5 12.4M-56.3 10L-55.9 9.9M-55.5 12.4A56.8 56.8 0 0 1 -55.9 9.9M-55.7 11.1L-55.4 11.1M-58.3 7.7L-56 7.4M-55.4 11.1A56.5 56.5 0 0 1 -56 7.4M-53 18.8L-52.7 18.7M-55.8 9.2L-55.2 9.1M-52.7 18.7A55.9 55.9 0 0 1 -55.2 9.1M-58.5 5.9L-56.8 5.8M-58.6 4.2L-56.9 4.1M-56.8 5.8A57.1 57.1 0 0 1 -56.9 4.1M-56.9 4.9L-56.6 4.9M-58.7 2.5L-56.7 2.4M-56.6 4.9A56.8 56.8 0 0 1 -56.7 2.4M-58.8 0.7L-57.5 0.7M-58.8 -1L-57.5 -1M-57.5 0.7A57.5 57.5 0 0 1 -57.5 -1M-58.6 -4.5L-57.2 -4.4M-58.5 -6.2L-57.1 -6.1M-57.2 -4.4A57.4 57.4 0 0 1 -57.1 -6.1M-57.1 -5.2L-56.7 -5.2M-58.3 -7.9L-56.4 -7.7M-56.7 -5.2A56.9 56.9 0 0 1 -56.4 -7.7M-58.7 -2.7L-56.6 -2.6M-56.6 -6.4L-56.3 -6.4M-56.6 -2.6A56.6 56.6 0 0 1 -56.3 -6.4M-58 -9.7L-56.3 -9.4M-57.7 -11.4L-56 -11M-56.3 -9.4A57.1 57.1 0 0 1 -56 -11M-56.2 -10.2L-55.9 -10.2M-57.3 -13.1L-55.4 -12.6M-55.9 -10.2A56.8 56.8 0 0 1 -55.4 -12.6M-56.4 -4.5L-56.1 -4.5M-55.6 -11.4L-55.2 -11.3M-56.1 -4.5A56.3 56.3 0 0 1 -55.2 -11.3M-57.5 -0.1L-56 -0.1M-55.8 -7.9L-55.5 -7.9M-56 -0.1A56 56 0 0 1 -55.5 -7.9M-56.7 3.6L-55.6 3.6M-55.9 -4L-55.6 -4M-55.6 3.6A55.7 55.7 0 0 1 -55.6 -4M-54.1 14L-53.3 13.7M-55.7 -0.2L-55 -0.2M-53.3 13.7A55 55 0 0 1 -55 -0.2M-56.5 -16.4L-55 -16M-55.9 -18.1L-54.5 -17.6M-55 -16A57.3 57.3 0 0 1 -54.5 -17.6M-56.9 -14.8L-55.1 -14.3M-54.7 -16.8L-54.5 -16.7M-55.1 -14.3A57 57 0 0 1 -54.5 -16.7M-54.8 -21.4L-53.1 -20.7M-54.1 -23L-52.5 -22.3M-53.1 -20.7A57 57 0 0 1 -52.5 -22.3M-52.8 -21.5L-52.5 -21.4M-53.4 -24.6L-51.5 -23.7M-52.5 -21.4A56.7 56.7 0 0 1 -51.5 -23.7M-52.7 -26.1L-51.4 -25.5M-51.9 -27.7L-50.7 -27M-51.4 -25.5A57.4 57.4 0 0 1 -50.7 -27M-52 -22.6L-51.8 -22.4M-51.1 -26.3L-50.2 -25.8M-51.8 -22.4A56.4 56.4 0 0 1 -50.2 -25.8M-51 -29.2L-49.9 -28.5M-50.2 -30.7L-49 -30M-49.9 -28.5A57.5 57.5 0 0 1 -49 -30M-49.2 -32.2L-47.9 -31.3M-48.2 -33.6L-46.9 -32.7M-47.9 -31.3A57.2 57.2 0 0 1 -46.9 -32.7M-49.5 -29.3L-49 -29M-47.4 -32L-47.2 -31.8M-49 -29A56.9 56.9 0 0 1 -47.2 -31.8M-48.1 -30.4L-47.8 -30.3M-47.2 -35L-45.5 -33.7M-47.8 -30.3A56.6 56.6 0 0 1 -45.5 -33.7M-46.2 -36.4L-44.8 -35.3M-45.1 -37.7L-43.8 -36.7M-44.8 -35.3A57.1 57.1 0 0 1 -43.8 -36.7M-46.7 -32L-46.4 -31.8M-44.3 -36L-43.7 -35.5M-46.4 -31.8A56.3 56.3 0 0 1 -43.7 -35.5M-51 -24.1L-50.5 -23.9M-45.1 -33.7L-44.8 -33.4M-50.5 -23.9A55.9 55.9 0 0 1 -44.8 -33.4M-55.4 -19.7L-52.4 -18.7M-47.9 -28.8L-47.6 -28.7M-52.4 -18.7A55.6 55.6 0 0 1 -47.6 -28.7M-42.8 -40.3L-41.7 -39.3M-41.6 -41.6L-40.5 -40.5M-41.7 -39.3A57.3 57.3 0 0 1 -40.5 -40.5M-40.3 -42.8L-39.3 -41.8M-39 -44L-38.1 -42.9M-39.3 -41.8A57.4 57.4 0 0 1 -38.1 -42.9M-41.1 -39.9L-40.9 -39.7M-38.7 -42.4L-38.4 -42M-40.9 -39.7A57 57 0 0 1 -38.4 -42M-43.9 -39.1L-42.3 -37.6M-39.7 -40.9L-39.5 -40.7M-42.3 -37.6A56.7 56.7 0 0 1 -39.5 -40.7M-37.7 -45.1L-36.6 -43.7M-36.4 -46.2L-35.2 -44.8M-36.6 -43.7A57 57 0 0 1 -35.2 -44.8M-40.9 -39.2L-40.7 -39M-35.9 -44.3L-35.5 -43.8M-40.7 -39A56.4 56.4 0 0 1 -35.5 -43.8M-33.6 -48.3L-32.5 -46.8M-32.1 -49.2L-31.1 -47.7M-32.5 -46.8A57 57 0 0 1 -31.1 -47.7M-35 -47.3L-33.7 -45.5M-31.8 -47.2L-31.7 -47M-33.7 -45.5A56.7 56.7 0 0 1 -31.7 -47M-38.2 -41.5L-38 -41.2M-32.7 -46.3L-32.3 -45.8M-38 -41.2A56.1 56.1 0 0 1 -32.3 -45.8M-50.2 -23.8L-49.9 -23.6M-35.2 -43.6L-34.7 -42.9M-49.9 -23.6A55.2 55.2 0 0 1 -34.7 -42.9M-29.2 -51.1L-28.4 -49.6M-27.6 -51.9L-26.9 -50.4M-28.4 -49.6A57.2 57.2 0 0 1 -26.9 -50.4M-30.7 -50.2L-29.7 -48.5M-27.6 -50L-27.5 -49.8M-29.7 -48.5A56.9 56.9 0 0 1 -27.5 -49.8M-26.1 -52.7L-25.3 -51.1M-24.5 -53.4L-23.8 -51.8M-25.3 -51.1A57 57 0 0 1 -23.8 -51.8M-24.5 -51.5L-24.4 -51.2M-22.9 -54.1L-22.1 -52.2M-24.4 -51.2A56.7 56.7 0 0 1 -22.1 -52.2M-18.1 -56L-17.6 -54.4M-16.4 -56.5L-15.9 -54.9M-17.6 -54.4A57.2 57.2 0 0 1 -15.9 -54.9M-16.7 -54.7L-16.7 -54.4M-14.7 -56.9L-14.2 -55.1M-16.7 -54.4A56.9 56.9 0 0 1 -14.2 -55.1M-19.7 -55.4L-19 -53.3M-15.5 -54.7L-15.4 -54.4M-19 -53.3A56.6 56.6 0 0 1 -15.4 -54.4M-21.3 -54.8L-20.4 -52.4M-17.2 -53.9L-17.1 -53.6M-20.4 -52.4A56.3 56.3 0 0 1 -17.1 -53.6M-13 -57.3L-12.6 -55.7M-11.3 -57.7L-11 -56M-12.6 -55.7A57.1 57.1 0 0 1 -11 -56M-11.8 -55.8L-11.8 -55.6M-9.6 -58L-9.3 -56M-11.8 -55.6A56.8 56.8 0 0 1 -9.3 -56M-18.8 -53.1L-18.7 -52.8M-10.5 -55.8L-10.4 -55M-18.7 -52.8A56 56 0 0 1 -10.4 -55M-23.3 -51.7L-22.9 -50.8M-14.6 -54L-14.5 -53.8M-22.9 -50.8A55.7 55.7 0 0 1 -14.5 -53.8M-28.6 -49.2L-27.8 -47.9M-18.7 -52.4L-18.6 -52.1M-27.8 -47.9A55.4 55.4 0 0 1 -18.6 -52.1M-4.4 -58.6L-4.3 -57.1M-2.7 -58.7L-2.6 -57.2M-4.3 -57.1A57.2 57.2 0 0 1 -2.6 -57.2M-1 -58.8L-0.9 -57M0.8 -58.8L0.7 -57M-0.9 -57A57 57 0 0 1 0.7 -57M-0.1 -57L-0.1 -56.7M2.5 -58.7L2.4 -56.7M-0.1 -56.7A56.7 56.7 0 0 1 2.4 -56.7M-3.5 -57.1L-3.4 -56.3M1.2 -56.7L1.2 -56.4M-3.4 -56.3A56.4 56.4 0 0 1 1.2 -56.4M-1.1 -56.4L-1.1 -56.1M4.2 -58.6L4 -56M-1.1 -56.1A56.1 56.1 0 0 1 4 -56M1.5 -56.1L1.4 -55.8M6 -58.5L5.7 -55.5M1.4 -55.8A55.8 55.8 0 0 1 5.7 -55.5M-6.2 -58.5L-5.8 -55.2M3.6 -55.7L3.5 -55.4M-5.8 -55.2A55.5 55.5 0 0 1 3.5 -55.4M7.7 -58.3L7.5 -56.9M9.4 -58L9.2 -56.7M7.5 -56.9A57.4 57.4 0 0 1 9.2 -56.7M11.1 -57.7L10.9 -56.4M12.8 -57.4L12.5 -56.1M10.9 -56.4A57.5 57.5 0 0 1 12.5 -56.1M8.4 -56.8L8.3 -56.5M11.7 -56.3L11.6 -55.9M8.3 -56.5A57.1 57.1 0 0 1 11.6 -55.9M10 -56.2L9.9 -55.6M14.5 -57L13.9 -54.7M9.9 -55.6A56.5 56.5 0 0 1 13.9 -54.7M-1.1 -55.5L-1.1 -55.2M11.9 -55.2L11.6 -54M-1.1 -55.2A55.2 55.2 0 0 1 11.6 -54M5.3 -55L5.3 -54.7M16.2 -56.5L15.1 -52.8M5.3 -54.7A54.9 54.9 0 0 1 15.1 -52.8M-7.9 -58.3L-7.3 -54.1M10.2 -53.9L10.2 -53.7M-7.3 -54.1A54.6 54.6 0 0 1 10.2 -53.7M-23.3 -50.2L-22.9 -49.3M1.4 -54.6L1.4 -54.3M-22.9 -49.3A54.3 54.3 0 0 1 1.4 -54.3M-43.4 -34.1L-41.7 -32.8M-11 -53.2L-10.8 -52M-41.7 -32.8A53.1 53.1 0 0 1 -10.8 -52M-54.8 -15.5L-50.8 -14.4M-27.9 -45.1L-27.8 -44.9M-50.8 -14.4A52.8 52.8 0 0 1 -27.8 -44.9M-54.6 6.8L-51.5 6.4M-42.1 -31.8L-41.5 -31.3M-51.5 6.4A51.9 51.9 0 0 1 -41.5 -31.3M-49.2 27.2L-45.2 25M-50.2 -13.4L-49.9 -13.3M-45.2 25A51.6 51.6 0 0 1 -49.9 -13.3M17.9 -56L17.4 -54.7M19.5 -55.5L19.1 -54.2M17.4 -54.7A57.4 57.4 0 0 1 19.1 -54.2M21.1 -54.9L20.5 -53.3M22.8 -54.2L22.1 -52.6M20.5 -53.3A57.1 57.1 0 0 1 22.1 -52.6M18.3 -54.5L18 -53.7M21.3 -52.9L21.2 -52.6M18 -53.7A56.7 56.7 0 0 1 21.2 -52.6M19.6 -53.2L19.5 -52.9M24.3 -53.5L23.3 -51.3M19.5 -52.9A56.4 56.4 0 0 1 23.3 -51.3M25.9 -52.8L25.3 -51.6M27.5 -52L26.9 -50.8M25.3 -51.6A57.5 57.5 0 0 1 26.9 -50.8M29 -51.2L28.2 -49.8M30.5 -50.3L29.7 -49M28.2 -49.8A57.3 57.3 0 0 1 29.7 -49M26.1 -51.2L25.9 -50.8M29 -49.4L28.8 -49.1M25.9 -50.8A57 57 0 0 1 28.8 -49.1M21.4 -52.1L21.3 -51.9M27.3 -50L26.9 -49.2M21.3 -51.9A56.1 56.1 0 0 1 26.9 -49.2M24.2 -50.6L24 -50.3M32 -49.4L30.3 -46.8M24 -50.3A55.8 55.8 0 0 1 30.3 -46.8M34.8 -47.4L33.8 -46M36.2 -46.3L35.2 -45M33.8 -46A57.1 57.1 0 0 1 35.2 -45M33.4 -48.4L32.3 -46.8M34.5 -45.5L34.3 -45.3M32.3 -46.8A56.8 56.8 0 0 1 34.3 -45.3M37.6 -45.2L36.7 -44.1M38.9 -44.1L37.9 -43M36.7 -44.1A57.4 57.4 0 0 1 37.9 -43M37.3 -43.6L37.1 -43.4M40.2 -42.9L39 -41.7M37.1 -43.4A57.1 57.1 0 0 1 39 -41.7M41.4 -41.7L40.2 -40.5M42.6 -40.5L41.3 -39.3M40.2 -40.5A57 57 0 0 1 41.3 -39.3M38.1 -42.5L37.8 -42.3M40.8 -39.9L40.6 -39.7M37.8 -42.3A56.7 56.7 0 0 1 40.6 -39.7M39.2 -41L39 -40.8M43.8 -39.2L42 -37.6M39 -40.8A56.4 56.4 0 0 1 42 -37.6M33.3 -46L32.9 -45.5M40.6 -39.2L40.3 -39M32.9 -45.5A56.1 56.1 0 0 1 40.3 -39M36.8 -42.4L36.6 -42.2M45 -37.9L42.7 -36M36.6 -42.2A55.8 55.8 0 0 1 42.7 -36M47.1 -35.2L45.9 -34.3M48.1 -33.8L46.9 -32.9M45.9 -34.3A57.3 57.3 0 0 1 46.9 -32.9M46.1 -36.6L44.6 -35.4M46.4 -33.6L46.1 -33.4M44.6 -35.4A56.9 56.9 0 0 1 46.1 -33.4M39.7 -39.2L39.5 -39M45.3 -34.4L44.2 -33.6M39.5 -39A55.5 55.5 0 0 1 44.2 -33.6M50 -30.9L48.5 -29.9M50.9 -29.4L49.4 -28.5M48.5 -29.9A57 57 0 0 1 49.4 -28.5M49.1 -32.3L47.4 -31.2M49 -29.2L48.7 -29.1M47.4 -31.2A56.7 56.7 0 0 1 48.7 -29.1M51.8 -27.9L50.3 -27.1M52.6 -26.3L51.1 -25.6M50.3 -27.1A57.1 57.1 0 0 1 51.1 -25.6M53.3 -24.8L52.1 -24.2M54 -23.2L52.8 -22.6M52.1 -24.2A57.4 57.4 0 0 1 52.8 -22.6M50.7 -26.3L50.4 -26.2M52.5 -23.4L51.9 -23.2M50.4 -26.2A56.8 56.8 0 0 1 51.9 -23.2M51.2 -24.7L50.9 -24.5M54.7 -21.6L52.6 -20.7M50.9 -24.5A56.5 56.5 0 0 1 52.6 -20.7M55.3 -19.9L53.6 -19.3M55.9 -18.3L54.2 -17.7M53.6 -19.3A57 57 0 0 1 54.2 -17.7M56.9 -15L55.6 -14.6M57.3 -13.3L56 -13M55.6 -14.6A57.5 57.5 0 0 1 56 -13M56.4 -16.6L54.8 -16.2M55.8 -13.8L55.5 -13.7M54.8 -16.2A57.2 57.2 0 0 1 55.5 -13.7M53.9 -18.5L53.6 -18.4M55.2 -14.9L54.7 -14.8M53.6 -18.4A56.7 56.7 0 0 1 54.7 -14.8M54.2 -16.6L53.9 -16.5M57.7 -11.6L55.3 -11.1M53.9 -16.5A56.4 56.4 0 0 1 55.3 -11.1M51.8 -22.6L51.4 -22.5M54.7 -13.8L54.4 -13.8M51.4 -22.5A56.1 56.1 0 0 1 54.4 -13.8M48.1 -30.1L47.1 -29.5M53 -18.2L52.5 -18M47.1 -29.5A55.5 55.5 0 0 1 52.5 -18M42 -36.4L41.1 -35.6M50.1 -23.9L49.1 -23.4M41.1 -35.6A54.4 54.4 0 0 1 49.1 -23.4M27.2 -48.7L26.4 -47.2M45.5 -29.8L45.3 -29.6M26.4 -47.2A54.1 54.1 0 0 1 45.3 -29.6M-51.2 6.3L-49.2 6M36.9 -39.6L33.8 -36.2M-49.2 6A49.5 49.5 0 0 1 33.8 -36.2M-44.1 36L-38.1 31.1M-22.5 -44.1L-22.4 -43.9M-38.1 31.1A49.2 49.2 0 0 1 -22.4 -43.9" stroke="#e2508f"/></g>
<path fill="#2e3a64" d="M48.5 0.5A48.5 48.5 0 0 1 46.8 12.8L29.9 8.2A31 31 0 0 0 31 0.3Z"/>
<text class="sl" transform="rotate(8)" x="40" y="1.8" text-anchor="middle">Phylum</text>
<path fill="#a9e5e4" d="M46.5 13.8A48.5 48.5 0 0 1 35.3 33.3L22.6 21.3A31 31 0 0 0 29.7 8.8Z"/>
<text class="sl" transform="rotate(29.9)" x="40" y="1.8" text-anchor="middle">Class</text>
<path fill="#ddb19d" d="M34.6 34A48.5 48.5 0 0 1 10.5 47.4L6.7 30.3A31 31 0 0 0 22.1 21.7Z"/>
<text class="sl" transform="rotate(61)" x="40" y="1.8" text-anchor="middle">Order</text>
<path fill="#fba26c" d="M9.5 47.6A48.5 48.5 0 0 1 -35.2 33.3L-22.5 21.3A31 31 0 0 0 6.1 30.4Z"/>
<text class="sl" transform="rotate(287.6)" x="-40" y="1.8" text-anchor="middle">Family</text>
<path fill="#7a3b30" d="M-35.9 32.6A48.5 48.5 0 1 1 47.7 -8.8L30.5 -5.6A31 31 0 1 0 -23 20.8Z"/>
<text class="sl" transform="rotate(432.5)" x="-40" y="1.8" text-anchor="middle">Genus</text>
<text class="tn" transform="rotate(-7)" x="66.9" y="1.4" text-anchor="middle" fill="#222" stroke="#222">Egger</text>
<text class="tn" transform="rotate(-7)" x="78.7" y="1.4" text-anchor="middle" fill="#222" stroke="#222">WM</text>
<text class="tn" transform="rotate(-7)" x="90.2" y="1.4" text-anchor="middle" fill="#e0533d" stroke="#e0533d">IVW</text>
<text class="lt" x="138.5" y="-12.8">PHD</text>
<rect x="138.5" y="-11" width="4" height="21.5" fill="url(#lg)"/>
<path d="M138.5 -3.5h0.9M141.6 -3.5h0.9M138.5 2.6h0.9M141.6 2.6h0.9" stroke="#fff" stroke-width="0.5"/>
<text class="lv" x="144.4" y="-8.8">1</text>
<text class="lv" x="144.4" y="-2.1">0.1</text>
<text class="lv" x="144.4" y="4">0.05</text>
<text class="lv" x="144.4" y="10.5">0</text>
</g>
<text class="pl" x="0.3" y="30.8">(A)</text>
<text class="pt" x="0.7" y="59.2">COPD</text>
<text class="pl" x="353.8" y="30.8">(B)</text>
<text class="pt" x="354.2" y="63.4">IPF</text>
<text class="pl" x="0.3" y="324.2">(C)</text>
<text class="pt" x="0.7" y="356.9">PH</text>
<text class="pl" x="353.8" y="324.2">(D)</text>
<text class="pt" x="354.2" y="356.9">PHD</text>
</svg>
</body></html>
